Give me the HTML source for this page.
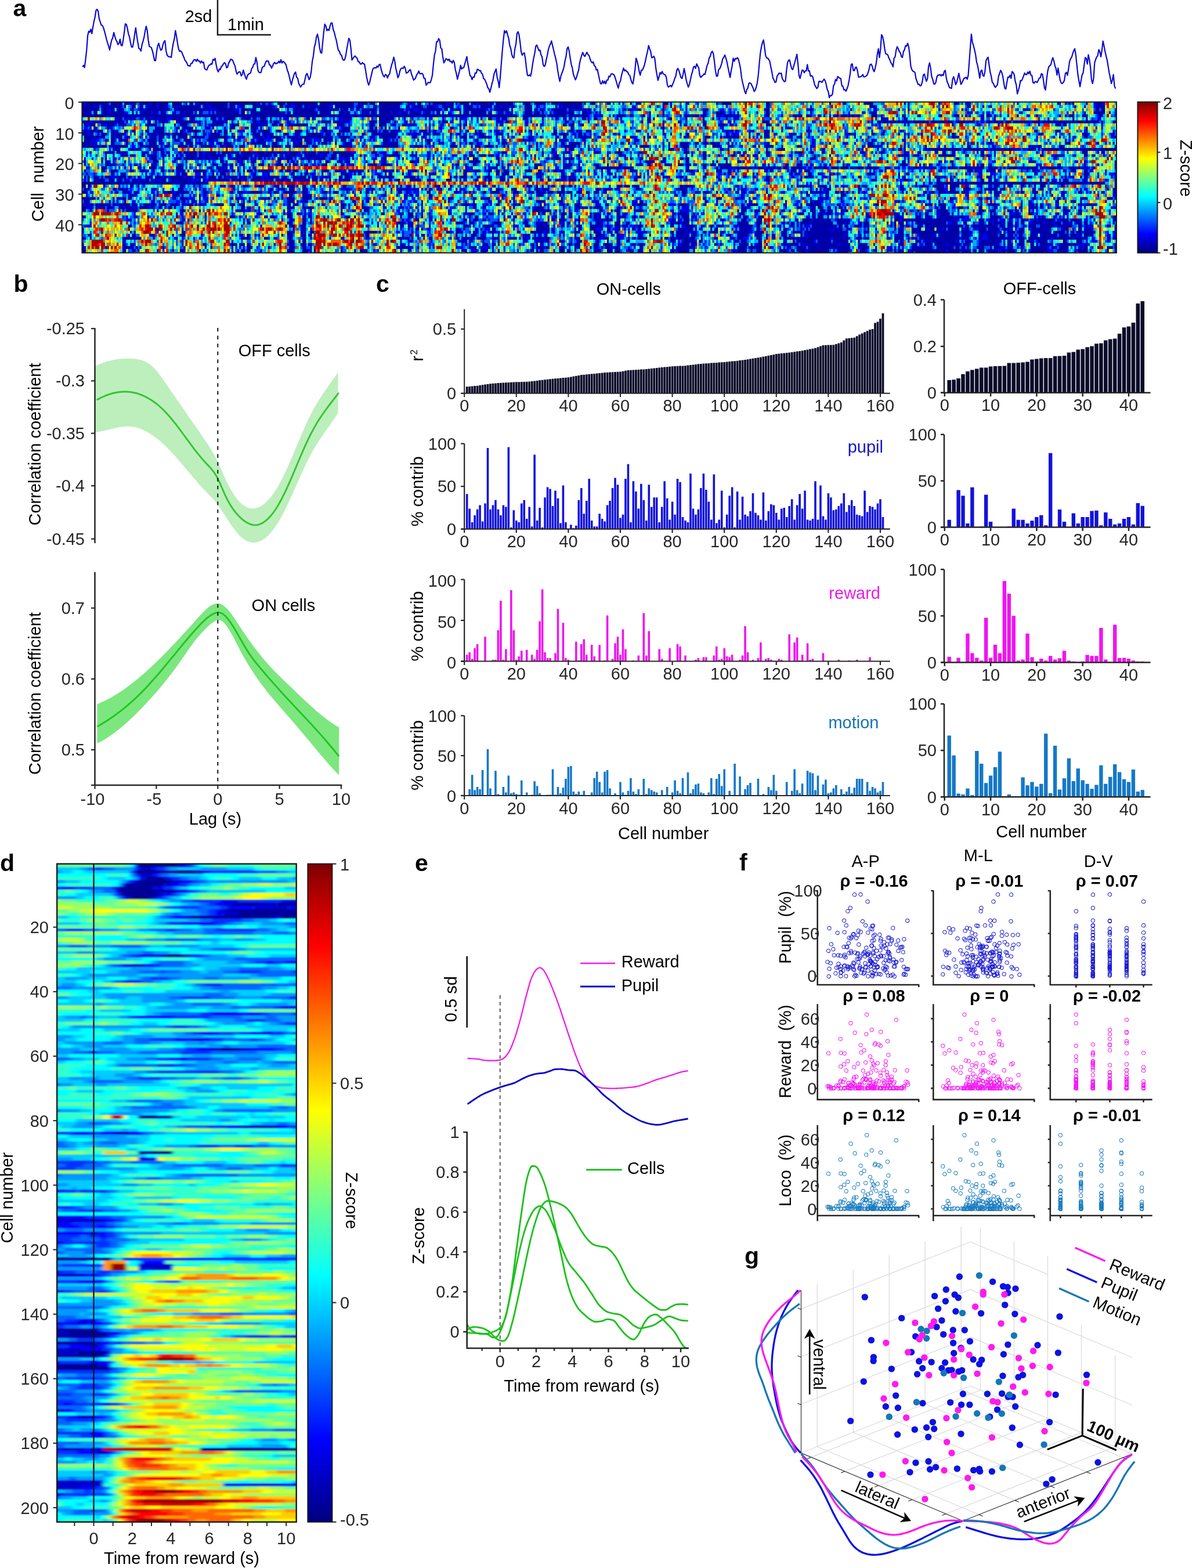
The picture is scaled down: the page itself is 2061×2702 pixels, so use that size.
<!DOCTYPE html>
<html lang="en"><head><meta charset="utf-8"><title>Figure</title><style>html,body{margin:0;padding:0;background:#fff}body{width:2061px;height:2702px;overflow:hidden}svg{display:block}text{white-space:pre}</style></head><body>
<svg width="2061" height="2702" viewBox="0 0 2061 2702" font-family='"Liberation Sans", sans-serif' fill="#000"><defs><linearGradient id="jetg" x1="0" y1="0" x2="0" y2="1"><stop offset="0" stop-color="#800000"/><stop offset="0.0312" stop-color="#9f0000"/><stop offset="0.0625" stop-color="#bf0000"/><stop offset="0.0938" stop-color="#df0000"/><stop offset="0.125" stop-color="#ff0000"/><stop offset="0.1562" stop-color="#ff2000"/><stop offset="0.1875" stop-color="#ff4000"/><stop offset="0.2188" stop-color="#ff6000"/><stop offset="0.25" stop-color="#ff8000"/><stop offset="0.2812" stop-color="#ff9f00"/><stop offset="0.3125" stop-color="#ffbf00"/><stop offset="0.3438" stop-color="#ffdf00"/><stop offset="0.375" stop-color="#ffff00"/><stop offset="0.4062" stop-color="#dfff20"/><stop offset="0.4375" stop-color="#bfff40"/><stop offset="0.4688" stop-color="#9fff60"/><stop offset="0.5" stop-color="#80ff80"/><stop offset="0.5312" stop-color="#60ff9f"/><stop offset="0.5625" stop-color="#40ffbf"/><stop offset="0.5938" stop-color="#20ffdf"/><stop offset="0.625" stop-color="#00ffff"/><stop offset="0.6562" stop-color="#00dfff"/><stop offset="0.6875" stop-color="#00bfff"/><stop offset="0.7188" stop-color="#009fff"/><stop offset="0.75" stop-color="#0080ff"/><stop offset="0.7812" stop-color="#0060ff"/><stop offset="0.8125" stop-color="#0040ff"/><stop offset="0.8438" stop-color="#0020ff"/><stop offset="0.875" stop-color="#0000ff"/><stop offset="0.9062" stop-color="#0000df"/><stop offset="0.9375" stop-color="#0000bf"/><stop offset="0.9688" stop-color="#00009f"/><stop offset="1" stop-color="#000080"/></linearGradient><clipPath id="clipA"><rect x="141.4" y="175.7" width="1782.6" height="260"/></clipPath><clipPath id="clipD"><rect x="98.2" y="1488.6" width="412.5" height="1134.1"/></clipPath><filter id="blurD" x="-2%" y="-1%" width="104%" height="102%"><feGaussianBlur stdDeviation="3.2 1.1"/></filter><marker id="mkb" markerWidth="9" markerHeight="9" refX="4.5" refY="4.5" markerUnits="userSpaceOnUse"><circle cx="4.5" cy="4.5" r="3.1" fill="none" stroke="#1a1ad2" stroke-width="1.05"/></marker><marker id="mkm" markerWidth="9" markerHeight="9" refX="4.5" refY="4.5" markerUnits="userSpaceOnUse"><circle cx="4.5" cy="4.5" r="3.1" fill="none" stroke="#f31af3" stroke-width="1.05"/></marker><marker id="mkl" markerWidth="9" markerHeight="9" refX="4.5" refY="4.5" markerUnits="userSpaceOnUse"><circle cx="4.5" cy="4.5" r="3.1" fill="none" stroke="#1c7dc0" stroke-width="1.05"/></marker><marker id="gdb" markerWidth="13" markerHeight="13" refX="6.5" refY="6.5" markerUnits="userSpaceOnUse"><circle cx="6.5" cy="6.5" r="5.7" fill="#0c12e2"/></marker><marker id="gdm" markerWidth="13" markerHeight="13" refX="6.5" refY="6.5" markerUnits="userSpaceOnUse"><circle cx="6.5" cy="6.5" r="5.7" fill="#ff1aee"/></marker><marker id="gdt" markerWidth="13" markerHeight="13" refX="6.5" refY="6.5" markerUnits="userSpaceOnUse"><circle cx="6.5" cy="6.5" r="5.7" fill="#1577b6"/></marker></defs><g id="panel_a"><text x="22.6" y="27.9" font-size="41" font-weight="bold">a</text><path d="M142.1 115.1L143.9 112.7L145.7 116.4L147.5 102.4L149.3 86.2L151.1 61.6L152.9 53.8L154.7 55.6L156.5 50.3L158.3 58L160.1 46.9L161.9 37.1L163.7 29.7L165.5 18L167.3 16L169.1 19.2L170.9 32.3L172.7 37.6L174.5 43.1L176.3 44L178.1 47.2L179.9 53.4L181.7 60.3L183.5 67.6L185.3 73.8L187.1 79.2L188.9 85.9L190.7 76.9L192.5 68.7L194.3 65.3L196.1 56L197.9 62.6L199.7 68.5L201.5 71.6L203.3 76.8L205.1 74.8L206.9 67.5L208.7 78.1L210.5 78.7L212.3 69L214.1 55.9L215.9 41.3L217.7 41.8L219.5 48.8L221.3 58.3L223.1 63.6L224.9 73.6L226.7 81.1L228.5 81L230.3 72L232.1 58.6L233.9 48L235.7 61.8L237.5 73.1L239.3 83.5L241.1 84.3L242.9 87.9L244.7 76.9L246.5 71L248.3 63.9L250.1 53.6L251.9 45.3L253.7 52.7L255.5 69.2L257.3 80L259.1 80.7L260.9 82.3L262.7 87.8L264.5 95.3L266.3 104.5L268.1 104.3L269.9 89.3L271.7 78.9L273.5 74.6L275.3 81.5L277.1 86.7L278.9 85.2L280.7 77.2L282.5 72.3L284.3 70L286.1 87.2L287.9 94.8L289.7 97.1L291.5 98L293.3 97.9L295.1 98.9L296.9 84.5L298.7 74L300.5 66.6L302.3 52.8L304.1 62.3L305.9 74.1L307.7 84L309.5 88.6L311.3 87.6L313.1 89.7L314.9 94.3L316.7 98.2L318.5 103.5L320.3 105.6L322.1 108.6L323.9 113.1L325.7 113.2L327.5 114L329.3 109L331.1 109L332.9 105L334.7 102.8L336.5 102.9L338.3 105.7L340.1 102L341.9 105.1L343.7 105.2L345.5 108.5L347.3 105.1L349.1 108.1L350.9 107.4L352.7 118.1L354.5 119.8L356.3 120.6L358.1 116.2L359.9 112.7L361.7 111.9L363.5 109.9L365.3 110.6L367.1 102.3L368.9 103.7L370.7 100.6L372.5 111.6L374.3 119.7L376.1 123.8L377.9 119.1L379.7 119.8L381.5 114.4L383.3 113.3L385.1 109.8L386.9 107.9L388.7 109.9L390.5 116.8L392.3 115.8L394.1 108.6L395.9 105.4L397.7 102.1L399.5 102.5L401.3 104.7L403.1 109.7L404.9 113.4L406.7 122.1L408.5 127.7L410.3 125.5L412.1 123.6L413.9 124.2L415.7 130.7L417.5 128.4L419.3 120.8L421.1 126.9L422.9 132.7L424.7 136.5L426.5 130L428.3 127.5L430.1 126.8L431.9 125.4L433.7 118.1L435.5 116L437.3 110.5L439.1 110.2L440.9 99.2L442.7 106.6L444.5 121.1L446.3 124.5L448.1 125.3L449.9 124.4L451.7 117L453.5 114.6L455.3 114.5L457.1 109.1L458.9 105.2L460.7 105.2L462.5 105.3L464.3 112L466.1 112.4L467.9 117.4L469.7 114L471.5 109.4L473.3 107.5L475.1 109.9L476.9 109L478.7 108.4L480.5 105.5L482.3 108.4L484.1 102.8L485.9 108.7L487.7 105.7L489.5 107.1L491.3 109.1L493.1 112.4L494.9 120.2L496.7 125L498.5 131.7L500.3 139.7L502.1 146.2L503.9 138.2L505.7 131.8L507.5 126.6L509.3 124.2L511.1 132.9L512.9 134.8L514.7 143.2L516.5 147.3L518.3 149.8L520.1 146.5L521.9 145L523.7 145L525.5 137L527.3 129.2L529.1 126.6L530.9 131.8L532.7 137.2L534.5 133.6L536.3 123.5L538.1 105.9L539.9 97L541.7 81.4L543.5 74.9L545.3 63.7L547.1 58.9L548.9 67.2L550.7 81.7L552.5 90.4L554.3 91.6L556.1 73.1L557.9 55.2L559.7 41.7L561.5 44.7L563.3 52.7L565.1 50.4L566.9 52.5L568.7 45.2L570.5 39.5L572.3 39.5L574.1 50.5L575.9 55.1L577.7 62.7L579.5 69L581.3 78.4L583.1 86.9L584.9 88.4L586.7 93.9L588.5 95.1L590.3 101.7L592.1 103.9L593.9 103L595.7 96.6L597.5 85.3L599.3 75.6L601.1 66.1L602.9 69.2L604.7 83.3L606.5 103.3L608.3 100.7L610.1 98L611.9 96.5L613.7 98.8L615.5 100.6L617.3 106.3L619.1 106.6L620.9 110.3L622.7 110.3L624.5 107.8L626.3 109.7L628.1 110.7L629.9 120.3L631.7 131.9L633.5 140.9L635.3 146.7L637.1 141.8L638.9 133.6L640.7 126.3L642.5 118.9L644.3 116.9L646.1 116.9L647.9 117.2L649.7 113.9L651.5 115.7L653.3 111.3L655.1 110.9L656.9 119.6L658.7 125.9L660.5 130.4L662.3 132.6L664.1 128.4L665.9 129.2L667.7 134.4L669.5 129.6L671.3 127.7L673.1 118.9L674.9 111.7L676.7 106.6L678.5 98.5L680.3 105.5L682.1 117.8L683.9 125.3L685.7 133.9L687.5 130.1L689.3 121.7L691.1 118.1L692.9 117.3L694.7 118.1L696.5 114.3L698.3 117.1L700.1 126.1L701.9 125.2L703.7 123.8L705.5 120.8L707.3 120.2L709.1 127.7L710.9 132.1L712.7 138L714.5 136.5L716.3 134L718.1 128.7L719.9 126.6L721.7 122.5L723.5 127.1L725.3 127.1L727.1 126.1L728.9 128.4L730.7 135.1L732.5 135.1L734.3 146.7L736.1 144.7L737.9 141.8L739.7 142.6L741.5 142.3L743.3 137L745.1 129.6L746.9 110.6L748.7 94.6L750.5 88.2L752.3 72.1L754.1 71.8L755.9 66.5L757.7 69.4L759.5 82.6L761.3 84L763.1 97.9L764.9 108.3L766.7 105.2L768.5 101.1L770.3 102.1L772.1 103.9L773.9 102L775.7 106.2L777.5 105.6L779.3 108.7L781.1 104.1L782.9 107.7L784.7 120L786.5 127L788.3 136.6L790.1 129L791.9 122.3L793.7 112.6L795.5 118.9L797.3 116.8L799.1 116.7L800.9 110.2L802.7 104L804.5 97.6L806.3 110.3L808.1 119.7L809.9 129.9L811.7 131.7L813.5 137.1L815.3 132.7L817.1 132.9L818.9 125.5L820.7 126.2L822.5 119.4L824.3 120L826.1 121.8L827.9 121.7L829.7 126.1L831.5 128.1L833.3 135.3L835.1 136.4L836.9 140.6L838.7 144.7L840.5 151.1L842.3 152.7L844.1 159L845.9 152.4L847.7 144.4L849.5 138.2L851.3 127.6L853.1 123.3L854.9 118.8L856.7 133.2L858.5 139.9L860.3 151L862.1 132.4L863.9 109.4L865.7 87L867.5 68.1L869.3 52.9L871.1 56.5L872.9 53.2L874.7 59.8L876.5 65.8L878.3 77.8L880.1 83.3L881.9 93.6L883.7 98.8L885.5 99.9L887.3 84L889.1 76.1L890.9 57.9L892.7 54.6L894.5 60.1L896.3 73.5L898.1 89.5L899.9 95.1L901.7 92L903.5 91.2L905.3 100.7L907.1 116.8L908.9 129.5L910.7 130.6L912.5 129.1L914.3 131.1L916.1 122.9L917.9 110L919.7 99.9L921.5 91.6L923.3 79.6L925.1 77.6L926.9 82.5L928.7 87.5L930.5 86.1L932.3 94.5L934.1 98L935.9 111L937.7 114.5L939.5 112.5L941.3 103.3L943.1 95.3L944.9 85.7L946.7 79.5L948.5 76L950.3 70.6L952.1 78.2L953.9 85.7L955.7 93.5L957.5 100.4L959.3 108.4L961.1 121.3L962.9 131.9L964.7 140.2L966.5 131L968.3 126.1L970.1 121.4L971.9 115.3L973.7 104.7L975.5 97L977.3 83.6L979.1 81L980.9 88.6L982.7 100.8L984.5 111L986.3 117.2L988.1 128.2L989.9 133.1L991.7 137.6L993.5 133.2L995.3 126.6L997.1 121.2L998.9 108.5L1000.7 101.1L1002.5 95L1004.3 90.4L1006.1 95.5L1007.9 97.2L1009.7 93.3L1011.5 90.1L1013.3 94.1L1015.1 95.8L1016.9 101.7L1018.7 106.1L1020.5 108.4L1022.3 106.7L1024.1 113.1L1025.9 114.4L1027.7 120.7L1029.5 119.7L1031.3 128.5L1033.1 137.1L1034.9 144.3L1036.7 144.4L1038.5 139.1L1040.3 143.7L1042.1 140L1043.9 144.3L1045.7 138.1L1047.5 138L1049.3 131.2L1051.1 132.4L1052.9 127.8L1054.7 127.1L1056.5 128L1058.3 129.2L1060.1 134L1061.9 139.8L1063.7 146.5L1065.5 151.8L1067.3 142.7L1069.1 139.8L1070.9 130.4L1072.7 123.5L1074.5 117.4L1076.3 122.2L1078.1 120.7L1079.9 123.3L1081.7 124.1L1083.5 128.5L1085.3 130L1087.1 136.6L1088.9 142.4L1090.7 144.6L1092.5 133L1094.3 120.1L1096.1 100.3L1097.9 105.1L1099.7 113.2L1101.5 123.1L1103.3 129.6L1105.1 120.9L1106.9 121.1L1108.7 117L1110.5 112.1L1112.3 104.6L1114.1 95.7L1115.9 88.4L1117.7 78.6L1119.5 84.1L1121.3 89L1123.1 99.6L1124.9 98.7L1126.7 96.9L1128.5 101.6L1130.3 118.3L1132.1 129.3L1133.9 138.5L1135.7 131.9L1137.5 125L1139.3 127.5L1141.1 123.2L1142.9 127.4L1144.7 128.4L1146.5 129.1L1148.3 133.7L1150.1 146.7L1151.9 150L1153.7 148.7L1155.5 147.1L1157.3 149.7L1159.1 145.4L1160.9 141.1L1162.7 135.3L1164.5 131.2L1166.3 121.1L1168.1 117.9L1169.9 121.6L1171.7 127.7L1173.5 133.8L1175.3 135.2L1177.1 128.3L1178.9 118.1L1180.7 126.9L1182.5 137.9L1184.3 144.5L1186.1 150L1187.9 145.9L1189.7 137.7L1191.5 129.5L1193.3 123.4L1195.1 115.5L1196.9 114.5L1198.7 117.8L1200.5 110.1L1202.3 113.6L1204.1 117.2L1205.9 130.2L1207.7 133.4L1209.5 131L1211.3 130L1213.1 127.3L1214.9 128.2L1216.7 120.5L1218.5 112.9L1220.3 108.7L1222.1 100.1L1223.9 97.1L1225.7 90.6L1227.5 88.3L1229.3 92.7L1231.1 106L1232.9 121.9L1234.7 131.2L1236.5 131.1L1238.3 120.3L1240.1 118.4L1241.9 114.7L1243.7 109L1245.5 100.9L1247.3 98.7L1249.1 94.9L1250.9 100L1252.7 106.9L1254.5 116.1L1256.3 124.6L1258.1 133.5L1259.9 122.3L1261.7 113.4L1263.5 100.3L1265.3 105.7L1267.1 100.6L1268.9 101.6L1270.7 99.3L1272.5 102.2L1274.3 109.4L1276.1 118.2L1277.9 133.4L1279.7 142.3L1281.5 149.6L1283.3 157.5L1285.1 161.4L1286.9 154.3L1288.7 151.7L1290.5 143.6L1292.3 142.9L1294.1 144.1L1295.9 147.7L1297.7 151.4L1299.5 157.4L1301.3 155.9L1303.1 150.4L1304.9 142.9L1306.7 129.9L1308.5 109.7L1310.3 91.2L1312.1 80.7L1313.9 73.2L1315.7 68.8L1317.5 81.6L1319.3 95.6L1321.1 99.9L1322.9 100L1324.7 102.5L1326.5 105.8L1328.3 115.2L1330.1 123.6L1331.9 134.1L1333.7 137.6L1335.5 142L1337.3 141.3L1339.1 131.4L1340.9 128.7L1342.7 125.9L1344.5 126.9L1346.3 126.2L1348.1 135.5L1349.9 138.4L1351.7 140.9L1353.5 139.8L1355.3 121.8L1357.1 108.2L1358.9 103.8L1360.7 103.4L1362.5 111.8L1364.3 118.3L1366.1 119.8L1367.9 113.6L1369.7 107.3L1371.5 100.3L1373.3 93.5L1375.1 110.1L1376.9 130.1L1378.7 135L1380.5 127.5L1382.3 120.7L1384.1 121.4L1385.9 125.4L1387.7 122L1389.5 122L1391.3 111.3L1393.1 122.3L1394.9 122.1L1396.7 131.4L1398.5 130.4L1400.3 132.1L1402.1 138.4L1403.9 146.3L1405.7 149.4L1407.5 152.5L1409.3 150.8L1411.1 140.6L1412.9 140.1L1414.7 140.6L1416.5 142L1418.3 138.8L1420.1 136.3L1421.9 139L1423.7 145.3L1425.5 154L1427.3 157.7L1429.1 168.2L1430.9 164.6L1432.7 164.9L1434.5 162.3L1436.3 147.8L1438.1 144.8L1439.9 136.9L1441.7 139.2L1443.5 131.9L1445.3 133.3L1447.1 134.8L1448.9 135.3L1450.7 147.9L1452.5 148.6L1454.3 154.9L1456.1 154.5L1457.9 157.2L1459.7 152.5L1461.5 147.5L1463.3 137.9L1465.1 126.5L1466.9 110.9L1468.7 110.1L1470.5 121.5L1472.3 121.7L1474.1 116.1L1475.9 115.9L1477.7 122.4L1479.5 133L1481.3 132.4L1483.1 132.5L1484.9 131L1486.7 128.3L1488.5 132.5L1490.3 132.4L1492.1 131.4L1493.9 129.7L1495.7 125.9L1497.5 119.9L1499.3 111.6L1501.1 110.4L1502.9 113.7L1504.7 120.2L1506.5 123.4L1508.3 116.8L1510.1 108.1L1511.9 93L1513.7 84L1515.5 99L1517.3 85.4L1519.1 59.8L1520.9 63.1L1522.7 70.9L1524.5 84L1526.3 92.8L1528.1 93.2L1529.9 94.7L1531.7 99.9L1533.5 103.2L1535.3 108.2L1537.1 110.6L1538.9 115.2L1540.7 100.2L1542.5 98.2L1544.3 86.3L1546.1 80.5L1547.9 83.8L1549.7 88.8L1551.5 90.9L1553.3 97.5L1555.1 98.8L1556.9 88.9L1558.7 85.6L1560.5 78.7L1562.3 79.6L1564.1 74.6L1565.9 80.6L1567.7 94.3L1569.5 114.3L1571.3 119.8L1573.1 122.7L1574.9 123.2L1576.7 125.1L1578.5 135.6L1580.3 140.7L1582.1 145.5L1583.9 145L1585.7 148.2L1587.5 146.9L1589.3 141.1L1591.1 129.3L1592.9 127.6L1594.7 134.2L1596.5 140.1L1598.3 135.4L1600.1 114.8L1601.9 108.4L1603.7 117.4L1605.5 131.9L1607.3 136.8L1609.1 144.5L1610.9 145L1612.7 141.7L1614.5 132.4L1616.3 129.4L1618.1 129.5L1619.9 128.3L1621.7 130.8L1623.5 128.4L1625.3 130.2L1627.1 123.2L1628.9 121.1L1630.7 134.4L1632.5 141.7L1634.3 145.5L1636.1 150.8L1637.9 151.6L1639.7 152.3L1641.5 136.6L1643.3 132.2L1645.1 138.1L1646.9 145.7L1648.7 141.9L1650.5 134L1652.3 126.3L1654.1 135.7L1655.9 145.3L1657.7 142.8L1659.5 138.8L1661.3 134.5L1663.1 134.6L1664.9 133.1L1666.7 136.5L1668.5 130.1L1670.3 105.5L1672.1 81.3L1673.9 58.8L1675.7 73.1L1677.5 78.4L1679.3 85.4L1681.1 93.9L1682.9 106.5L1684.7 113.2L1686.5 122.9L1688.3 134.7L1690.1 122.5L1691.9 120.7L1693.7 129.6L1695.5 131.4L1697.3 123.6L1699.1 105L1700.9 100.8L1702.7 98.7L1704.5 111.8L1706.3 124.4L1708.1 131.3L1709.9 141.7L1711.7 143.7L1713.5 148L1715.3 150.6L1717.1 148.4L1718.9 145.7L1720.7 131.9L1722.5 126.7L1724.3 121.4L1726.1 124.4L1727.9 130.5L1729.7 142L1731.5 152L1733.3 153.3L1735.1 142.1L1736.9 132.8L1738.7 133.4L1740.5 129.6L1742.3 134.9L1744.1 123.3L1745.9 125.1L1747.7 128.5L1749.5 140.1L1751.3 146.1L1753.1 161.7L1754.9 155.7L1756.7 149.2L1758.5 138.8L1760.3 139.3L1762.1 135.7L1763.9 130.8L1765.7 125.9L1767.5 128.5L1769.3 128.7L1771.1 124.1L1772.9 127L1774.7 122.6L1776.5 129.6L1778.3 130.2L1780.1 142.3L1781.9 143.3L1783.7 140.5L1785.5 140.9L1787.3 142L1789.1 138.6L1790.9 134.4L1792.7 134.2L1794.5 127.1L1796.3 127.7L1798.1 138.2L1799.9 151.3L1801.7 155L1803.5 137.8L1805.3 123.6L1807.1 115.5L1808.9 113.3L1810.7 111.8L1812.5 104.7L1814.3 99.5L1816.1 104.8L1817.9 113.5L1819.7 117.9L1821.5 129.4L1823.3 117.4L1825.1 128.3L1826.9 138.4L1828.7 142.9L1830.5 144.1L1832.3 142.1L1834.1 138.8L1835.9 126.6L1837.7 124.7L1839.5 129.7L1841.3 118.8L1843.1 106.1L1844.9 101.3L1846.7 98.7L1848.5 92.7L1850.3 87.3L1852.1 84L1853.9 94.9L1855.7 112.2L1857.5 129L1859.3 139.3L1861.1 149.3L1862.9 139L1864.7 128.9L1866.5 125.9L1868.3 111.9L1870.1 99.2L1871.9 100.6L1873.7 110.3L1875.5 94.4L1877.3 102.7L1879.1 115.7L1880.9 137.2L1882.7 143.9L1884.5 135.3L1886.3 108.2L1888.1 102.5L1889.9 98.2L1891.7 95.8L1893.5 85.5L1895.3 89.2L1897.1 97.8L1898.9 86.7L1900.7 70.9L1902.5 79.1L1904.3 88.7L1906.1 96.4L1907.9 103.8L1909.7 114.8L1911.5 125.7L1913.3 134.5L1915.1 143.9L1916.9 137.7L1918.7 128.5L1920.5 148.4L1922.3 152.7" fill="none" stroke="#0a0ad2" stroke-width="2.2" stroke-linejoin="round"/><path d="M375 0V60H466.8" fill="none" stroke="#1a1a1a" stroke-width="2.5"/><text x="365.5" y="37.5" font-size="29" text-anchor="end">2sd</text><text x="392" y="51.8" font-size="29">1min</text><rect x="141.4" y="175.7" width="1782.6" height="260" fill="#0030d0"/><g clip-path="url(#clipA)"><g transform="translate(141.4 175.7) scale(3.3011 5.28)" fill="none" stroke-width="1.08"><path d="M0 25h540" stroke="#0000aa" stroke-width="50"/><path d="M1 0.5h1m11 0h1m8 0h1m1 0h1m1 0h1m8 0h1m3 0h1m14 0h1m5 0h1m4 0h1m21 0h1m3 0h1m3 0h1m1 0h2m10 0h1m20 0h1m10 0h1m3 0h1m20 0h1m3 0h1m2 0h1m16 0h2m14 0h1m5 0h1m1 0h1m6 0h1m14 0h1m11 0h1m16 0h1m8 0h1m7 0h1m7 0h2m15 0h1m7 0h2m4 0h1m86 0h2m47 0h1m4 0h2m24 0h1m21 0h1m2 0h1m14 0h2m3 0h1M6 1.5h1m26 0h1m5 0h1m4 0h1m4 0h1m13 0h1m2 0h1m14 0h2m17 0h1m8 0h2m7 0h1m10 0h2m12 0h1m2 0h1m25 0h1m11 0h2m10 0h1m9 0h1m8 0h1m2 0h1m4 0h1m14 0h1m2 0h1m8 0h1m36 0h1m15 0h1m8 0h1m2 0h1m20 0h1m15 0h1m27 0h1m33 0h1m58 0h1m54 0h1M14 2.5h1m6 0h1m7 0h1m2 0h1m12 0h1m21 0h1m1 0h1m10 0h2m39 0h1m19 0h1m28 0h1m2 0h3m11 0h1m4 0h1m3 0h1m2 0h1m11 0h1m1 0h1m23 0h1m3 0h1m1 0h1m12 0h1m4 0h1m1 0h1m23 0h3m43 0h2m3 0h1m39 0h2m33 0h2m44 0h1m31 0h1m1 0h1m13 0h1m31 0h1M4 3.5h1m5 0h1m3 0h1m7 0h2m6 0h1m5 0h1m2 0h1m3 0h1m3 0h1m5 0h1m12 0h1m37 0h1m24 0h1m7 0h1m4 0h1m4 0h1m5 0h1m7 0h1m3 0h2m11 0h1m4 0h1m4 0h1m2 0h2m25 0h1m2 0h1m1 0h1m22 0h1m6 0h1m10 0h1m5 0h1m9 0h1m15 0h1m18 0h1m8 0h1m10 0h1m4 0h1m1 0h1m31 0h1m25 0h1m6 0h2m5 0h1m48 0h2m5 0h1m1 0h2m1 0h1m13 0h1m24 0h1m2 0h1m18 0h1m2 0h1M243 4.5h1m20 0h1m3 0h2m5 0h1m29 0h1m13 0h1m3 0h1m10 0h1m5 0h1m15 0h1m8 0h1m5 0h1m1 0h1m6 0h1m3 0h2m4 0h1m1 0h1m3 0h1m2 0h1m1 0h1m1 0h2m20 0h1m44 0h1m3 0h1m8 0h1m9 0h2m35 0h1m8 0h1M18 5.5h1m4 0h2m1 0h1m4 0h1m4 0h1m2 0h1m4 0h3m5 0h1m3 0h1m14 0h1m11 0h1m21 0h2m14 0h1m9 0h1m3 0h1m4 0h1m5 0h1m4 0h1m27 0h1m1 0h2m10 0h1m4 0h3m2 0h1m2 0h1m9 0h1m13 0h1m17 0h1m2 0h1m12 0h1m67 0h1m8 0h1m17 0h1m58 0h1m1 0h1m48 0h1m11 0h1m45 0h1m2 0h1M4 6.5h2m1 0h2m26 0h1m7 0h1m5 0h1m8 0h2m14 0h1m16 0h2m15 0h1m14 0h1m7 0h1m3 0h1m1 0h1m1 0h1m28 0h1m23 0h2m6 0h1m5 0h1m9 0h1m2 0h1m2 0h1m8 0h1m2 0h1m5 0h1m40 0h2m4 0h1m7 0h2m36 0h1m3 0h1m2 0h1m11 0h1m11 0h1m16 0h2m2 0h1m24 0h1m6 0h1m2 0h2m1 0h1m5 0h1m3 0h1m6 0h1m13 0h1m6 0h1m1 0h1m5 0h2m4 0h1m2 0h1m10 0h1m1 0h1m3 0h1m4 0h1m2 0h1M3 7.5h1m8 0h1m4 0h1m2 0h1m43 0h1m1 0h1m2 0h1m3 0h1m3 0h1m17 0h1m5 0h1m5 0h1m2 0h1m22 0h1m5 0h1m21 0h1m1 0h1m5 0h1m1 0h1m2 0h1m4 0h1m1 0h1m6 0h1m29 0h1m12 0h2m4 0h1m1 0h1m14 0h1m4 0h1m16 0h1m35 0h1m1 0h1m6 0h1m14 0h1m2 0h1m1 0h1m7 0h1m13 0h1m3 0h1m44 0h1m1 0h1m52 0h1m10 0h1m15 0h1m4 0h1M1 8.5h2m1 0h1m9 0h1m37 0h1m4 0h1m10 0h1m22 0h1m29 0h1m10 0h2m1 0h1m45 0h1m4 0h1m12 0h1m22 0h1m55 0h1m7 0h1m15 0h1m4 0h1m25 0h1m31 0h1m2 0h1m1 0h1m39 0h2m4 0h1m94 0h1m17 0h1m2 0h1M0 9.5h1m2 0h1m3 0h1m9 0h1m31 0h1m3 0h1m13 0h1m13 0h4m3 0h1m3 0h1m8 0h1m9 0h1m13 0h1m2 0h1m1 0h1m3 0h1m14 0h1m5 0h1m3 0h1m13 0h1m10 0h1m2 0h1m12 0h1m7 0h1m4 0h1m1 0h1m1 0h1m1 0h1m11 0h1m8 0h1m13 0h1m1 0h1m3 0h1m2 0h1m1 0h1m25 0h1m42 0h2m1 0h2m3 0h1m5 0h2m10 0h1m18 0h1m10 0h1m21 0h1m15 0h1m40 0h1m53 0h1M3 10.5h1m18 0h1m4 0h1m11 0h1m23 0h1m2 0h1m16 0h1m2 0h1m11 0h1m26 0h1m21 0h1m16 0h1m6 0h2m1 0h1m1 0h1m18 0h1m1 0h1m1 0h1m6 0h1m15 0h1m5 0h1m5 0h1m10 0h1m11 0h1m7 0h1m11 0h1m17 0h1m8 0h1m24 0h1m7 0h1m1 0h1m1 0h2m10 0h1m4 0h1m2 0h1m7 0h2m4 0h1m10 0h1m11 0h2m1 0h1m27 0h1m6 0h1m26 0h1m29 0h1m14 0h1m2 0h1m13 0h1m6 0h1m4 0h1M9 11.5h1m7 0h1m4 0h1m1 0h1m8 0h1m1 0h1m9 0h1m30 0h1m4 0h1m1 0h1m5 0h1m4 0h1m2 0h1m7 0h1m7 0h1m16 0h1m15 0h1m5 0h1m2 0h1m21 0h1m1 0h1m22 0h1m8 0h1m1 0h1m5 0h1m2 0h1m1 0h2m9 0h1m3 0h1m7 0h1m16 0h1m4 0h2m11 0h1m5 0h2m5 0h1m8 0h1m10 0h2m18 0h1m14 0h1m1 0h1m15 0h2m9 0h1m1 0h1m13 0h1m10 0h1m22 0h1m13 0h1m12 0h2m3 0h1m8 0h1m27 0h1m11 0h1m6 0h1m19 0h2M5 12.5h1m1 0h2m8 0h1m3 0h1m10 0h1m26 0h1m1 0h1m3 0h1m3 0h1m4 0h1m4 0h1m2 0h1m5 0h1m2 0h1m3 0h4m10 0h1m1 0h1m7 0h1m1 0h3m21 0h1m4 0h1m9 0h1m14 0h1m3 0h1m2 0h1m9 0h1m7 0h1m15 0h2m1 0h1m11 0h2m2 0h1m13 0h1m1 0h1m9 0h1m26 0h1m1 0h1m2 0h1m11 0h1m59 0h1m15 0h1m22 0h1m2 0h1m6 0h1m13 0h1m45 0h1m23 0h1m5 0h1m10 0h1M4 13.5h1m1 0h1m22 0h1m11 0h2m8 0h1m7 0h2m5 0h2m2 0h1m17 0h1m18 0h1m2 0h1m1 0h1m8 0h1m7 0h1m6 0h1m3 0h1m6 0h1m39 0h1m6 0h1m2 0h1m9 0h2m8 0h1m21 0h1m14 0h1m7 0h1m13 0h1m8 0h1m30 0h1m9 0h1m3 0h1m10 0h1m14 0h2m24 0h1m3 0h1m11 0h2m3 0h1m25 0h1m34 0h1m5 0h1m1 0h1m2 0h1m27 0h1m1 0h1m18 0h1m4 0h1m4 0h1M15 14.5h1m10 0h2m4 0h1m26 0h1m8 0h2m4 0h1m5 0h1m91 0h1m6 0h1m1 0h1m15 0h1m5 0h1m18 0h1m11 0h1m12 0h1m2 0h1m35 0h1m2 0h1m9 0h1m1 0h1m8 0h1m1 0h1m7 0h1m4 0h1m7 0h1m3 0h1m5 0h2m6 0h1m29 0h2m25 0h1m6 0h1m1 0h1m2 0h1m26 0h1m2 0h1m3 0h1m12 0h1m8 0h1m18 0h1m1 0h2m23 0h1M14 15.5h1m4 0h1m4 0h1m2 0h1m7 0h1m6 0h1m209 0h1m1 0h1m12 0h1m98 0h1m11 0h1m1 0h1m58 0h1m1 0h1m1 0h1m25 0h2m2 0h1m6 0h1m5 0h4m2 0h2m7 0h1m18 0h1m6 0h1M2 16.5h1m17 0h1m2 0h1m8 0h1m1 0h1m2 0h1m7 0h1m4 0h1m4 0h1m7 0h2m6 0h1m5 0h1m10 0h1m1 0h1m4 0h1m3 0h1m1 0h1m2 0h1m2 0h1m5 0h1m3 0h1m5 0h1m16 0h3m12 0h1m1 0h1m4 0h1m11 0h1m6 0h1m20 0h2m13 0h1m3 0h1m24 0h2m5 0h1m16 0h1m3 0h1m11 0h1m3 0h1m1 0h1m25 0h1m24 0h1m1 0h1m24 0h1m2 0h1m12 0h1m19 0h1m1 0h1m7 0h1m13 0h2m4 0h1m8 0h1m9 0h1m20 0h1m24 0h1m28 0h1M2 17.5h1m9 0h1m9 0h1m2 0h1m1 0h1m13 0h1m1 0h1m3 0h1m3 0h1m11 0h1m2 0h1m16 0h1m7 0h1m20 0h2m10 0h2m28 0h1m2 0h1m1 0h1m20 0h1m2 0h1m9 0h3m3 0h1m16 0h2m1 0h1m1 0h1m3 0h1m8 0h1m1 0h1m18 0h1m18 0h1m7 0h1m32 0h1m2 0h1m8 0h1m17 0h1m1 0h1m4 0h1m16 0h2m3 0h2m18 0h1m13 0h1m18 0h1m46 0h1m1 0h1m4 0h1m25 0h1m4 0h1m4 0h1m18 0h1M1 18.5h1m3 0h1m11 0h1m1 0h1m15 0h1m12 0h1m10 0h1m3 0h1m3 0h1m5 0h1m2 0h3m10 0h1m7 0h1m1 0h1m5 0h2m4 0h1m4 0h1m3 0h1m8 0h1m4 0h3m2 0h1m7 0h1m3 0h3m2 0h1m8 0h1m8 0h2m5 0h1m9 0h1m7 0h1m31 0h1m10 0h1m6 0h1m3 0h1m25 0h1m3 0h1m68 0h1m2 0h1m14 0h1m2 0h1m43 0h1m11 0h1m8 0h1m34 0h1m33 0h1M14 19.5h1m19 0h1m12 0h1m18 0h1m1 0h1m13 0h1m11 0h1m8 0h1m5 0h1m11 0h1m15 0h1m18 0h1m7 0h1m9 0h1m35 0h1m8 0h1m21 0h1m9 0h1m7 0h2m17 0h1m12 0h1m6 0h1m5 0h1m40 0h1m40 0h1m7 0h2m7 0h1m27 0h1m4 0h1m11 0h1m1 0h1m24 0h1m19 0h1m22 0h2m4 0h1M17 20.5h1m7 0h1m2 0h1m1 0h1m5 0h1m5 0h1m27 0h1m11 0h1m14 0h1m8 0h1m1 0h1m3 0h1m7 0h2m1 0h1m14 0h3m8 0h1m11 0h1m2 0h1m9 0h1m13 0h1m4 0h1m18 0h1m10 0h1m15 0h1m11 0h1m22 0h1m32 0h1m11 0h2m30 0h1m3 0h2m1 0h1m2 0h1m18 0h2m5 0h2m11 0h1m41 0h2m3 0h1m25 0h1m17 0h1m7 0h1m9 0h1M2 21.5h1m16 0h1m5 0h1m15 0h1m12 0h1m1 0h1m8 0h1m8 0h1m2 0h2m2 0h1m2 0h1m2 0h1m96 0h1m16 0h2m9 0h1m7 0h1m1 0h1m24 0h2m4 0h1m6 0h1m20 0h1m33 0h1m22 0h1m1 0h1m6 0h1m2 0h1m1 0h1m3 0h1m5 0h1m13 0h2m11 0h1m19 0h1m11 0h1m2 0h2m2 0h2m1 0h3m3 0h2m3 0h1m1 0h1m4 0h1m5 0h1m9 0h1m17 0h1m4 0h1m13 0h1m16 0h1m1 0h1m1 0h1m1 0h1m1 0h1M18 22.5h1m14 0h2m1 0h1m12 0h1m5 0h1m2 0h1m8 0h1m4 0h1m3 0h1m2 0h1m13 0h1m4 0h1m22 0h1m14 0h1m6 0h1m7 0h1m1 0h1m5 0h2m10 0h1m30 0h3m5 0h2m13 0h1m17 0h1m4 0h1m2 0h1m6 0h1m5 0h1m6 0h1m3 0h1m13 0h1m5 0h1m8 0h1m5 0h1m8 0h1m1 0h1m34 0h1m17 0h2m37 0h1m2 0h1m2 0h1m17 0h1m1 0h1m8 0h1m18 0h2m4 0h1m16 0h1m7 0h1m17 0h1m10 0h1m6 0h1M6 23.5h1m30 0h1m1 0h1m9 0h1m9 0h3m2 0h1m5 0h1m11 0h1m5 0h2m4 0h3m22 0h1m1 0h1m17 0h2m4 0h1m7 0h2m16 0h1m10 0h1m17 0h1m4 0h1m33 0h1m15 0h1m11 0h2m2 0h1m2 0h1m14 0h1m5 0h1m7 0h1m14 0h2m12 0h2m4 0h1m2 0h1m10 0h1m16 0h1m3 0h1m12 0h1m3 0h1m1 0h1m33 0h1m29 0h1m6 0h1m4 0h1m5 0h3m21 0h1m14 0h1m20 0h1m1 0h3M15 24.5h2m1 0h1m8 0h1m2 0h1m11 0h1m1 0h2m7 0h1m3 0h1m5 0h2m10 0h2m17 0h1m1 0h1m27 0h3m1 0h1m11 0h1m6 0h1m6 0h1m13 0h1m1 0h1m36 0h1m10 0h1m1 0h1m2 0h1m6 0h1m6 0h1m17 0h1m1 0h1m13 0h1m8 0h1m7 0h2m3 0h1m11 0h2m3 0h2m20 0h1m4 0h1m2 0h1m5 0h1m4 0h1m9 0h1m3 0h1m4 0h1m15 0h2m2 0h1m11 0h1m11 0h1m13 0h1m10 0h1m2 0h1m5 0h2m18 0h1m13 0h1m7 0h1m2 0h1m6 0h2m5 0h1m7 0h2m20 0h1M1 25.5h1m21 0h2m4 0h1m2 0h1m4 0h1m2 0h1m4 0h1m9 0h1m1 0h2m1 0h1m3 0h2m1 0h1m2 0h1m9 0h1m2 0h2m9 0h1m2 0h1m5 0h1m2 0h1m4 0h2m12 0h1m6 0h1m2 0h1m16 0h1m4 0h1m3 0h1m1 0h1m17 0h3m11 0h1m3 0h2m5 0h1m15 0h1m17 0h1m3 0h1m4 0h4m9 0h1m11 0h2m36 0h1m11 0h1m27 0h1m3 0h1m12 0h1m16 0h1m16 0h1m21 0h1m1 0h2m2 0h2m20 0h1m5 0h1m13 0h1m3 0h1m4 0h1m24 0h2m13 0h1m1 0h1m9 0h1M331 26.5h1m18 0h1m22 0h1m4 0h1m1 0h1m46 0h1m11 0h1m3 0h1m15 0h1m49 0h1m15 0h1M4 27.5h1m14 0h1m12 0h1m20 0h1m19 0h1m3 0h1m1 0h1m5 0h1m5 0h1m8 0h1m3 0h1m7 0h1m7 0h1m8 0h2m29 0h1m8 0h1m1 0h1m8 0h1m4 0h1m3 0h1m16 0h2m6 0h1m7 0h1m7 0h1m14 0h2m40 0h1m26 0h1m2 0h1m24 0h1m1 0h1m1 0h1m27 0h1m4 0h1m4 0h1m5 0h1m3 0h1m1 0h3m52 0h1m10 0h1m4 0h2m4 0h1m9 0h1m28 0h1M2 28.5h1m19 0h1m2 0h1m3 0h1m6 0h1m1 0h1m3 0h1m18 0h1m2 0h1m14 0h1m17 0h1m5 0h1m17 0h1m3 0h1m3 0h1m6 0h1m3 0h1m9 0h1m4 0h1m1 0h1m6 0h1m6 0h1m2 0h2m1 0h1m1 0h1m6 0h1m4 0h2m5 0h1m7 0h1m6 0h1m25 0h2m18 0h2m9 0h1m4 0h2m3 0h1m37 0h1m16 0h1m1 0h1m8 0h1m4 0h1m5 0h1m10 0h1m19 0h1m23 0h1m16 0h1m20 0h2m20 0h1m17 0h1m6 0h1m7 0h1m2 0h1m10 0h1m4 0h1M5 29.5h1m9 0h1m1 0h1m7 0h1m3 0h1m7 0h1m5 0h2m3 0h1m16 0h1m11 0h1m6 0h3m3 0h1m7 0h1m3 0h1m2 0h1m5 0h1m5 0h1m7 0h1m3 0h1m21 0h1m9 0h1m8 0h2m1 0h3m18 0h1m1 0h1m2 0h1m13 0h1m7 0h1m12 0h1m32 0h1m5 0h1m6 0h1m7 0h1m20 0h1m17 0h1m16 0h1m1 0h1m1 0h1m16 0h1m9 0h1m6 0h1m4 0h1m19 0h1m1 0h1m29 0h1m2 0h2m7 0h1m9 0h1m17 0h1m8 0h1m14 0h1m7 0h1m1 0h1m10 0h1m3 0h1m4 0h1m4 0h1M2 30.5h1m21 0h1m2 0h2m10 0h1m7 0h1m2 0h1m5 0h1m6 0h1m34 0h1m5 0h1m37 0h1m13 0h1m11 0h1m6 0h1m44 0h1m4 0h1m11 0h1m2 0h1m23 0h1m44 0h1m3 0h1m31 0h1m6 0h1m5 0h1m12 0h1m7 0h1m5 0h1m51 0h1m1 0h1m21 0h2m15 0h1m32 0h1m18 0h1m8 0h1M8 31.5h1m10 0h2m9 0h1m6 0h1m9 0h1m7 0h2m1 0h1m2 0h1m1 0h2m3 0h1m8 0h1m4 0h1m1 0h1m7 0h2m2 0h1m25 0h1m7 0h1m17 0h1m6 0h1m12 0h1m3 0h2m8 0h1m33 0h2m37 0h1m9 0h1m4 0h1m4 0h1m5 0h1m7 0h3m20 0h1m30 0h1m1 0h1m4 0h2m24 0h1m7 0h1m2 0h1m1 0h1m4 0h1m6 0h1m1 0h1m2 0h1m1 0h2m1 0h1m38 0h1m4 0h1m6 0h1m10 0h2m2 0h1m29 0h1m31 0h1M26 32.5h2m8 0h1m3 0h1m8 0h2m4 0h1m3 0h1m4 0h2m18 0h1m27 0h1m1 0h2m19 0h1m12 0h1m9 0h1m8 0h2m2 0h1m1 0h1m3 0h1m13 0h1m21 0h1m9 0h1m17 0h1m24 0h2m4 0h1m14 0h2m37 0h1m4 0h1m14 0h1m1 0h2m11 0h1m5 0h1m5 0h2m6 0h1m3 0h1m11 0h1m26 0h2m13 0h1m2 0h1m10 0h2m19 0h1m9 0h1m10 0h1m38 0h1M0 33.5h2m1 0h1m14 0h1m11 0h1m4 0h1m2 0h1m11 0h1m2 0h3m7 0h1m5 0h1m21 0h1m6 0h1m6 0h1m4 0h1m22 0h1m21 0h1m10 0h1m3 0h1m16 0h1m14 0h2m6 0h1m2 0h1m13 0h1m15 0h1m5 0h2m18 0h2m18 0h1m16 0h4m5 0h1m8 0h1m9 0h1m10 0h1m10 0h1m10 0h1m5 0h1m23 0h1m15 0h1m3 0h1m23 0h1m3 0h1m9 0h1m21 0h2m22 0h1m2 0h1m3 0h2m12 0h2m3 0h3M3 34.5h1m1 0h1m2 0h1m1 0h1m5 0h1m2 0h1m2 0h1m4 0h1m7 0h1m7 0h1m34 0h1m41 0h1m14 0h1m21 0h1m7 0h1m3 0h1m7 0h1m12 0h1m1 0h2m10 0h1m30 0h1m7 0h1m16 0h3m8 0h1m9 0h1m1 0h1m4 0h1m24 0h1m1 0h1m21 0h1m9 0h1m5 0h1m26 0h1m28 0h1m17 0h1m17 0h1m9 0h1m6 0h1m26 0h1m4 0h1m13 0h1m1 0h1m10 0h1m16 0h1M80 35.5h1m4 0h2m5 0h1m2 0h1m9 0h1m1 0h1m8 0h1m25 0h1m21 0h2m9 0h1m6 0h1m9 0h1m7 0h1m8 0h1m1 0h1m5 0h1m14 0h1m11 0h1m4 0h1m1 0h1m2 0h1m3 0h1m48 0h1m5 0h3m14 0h1m3 0h2m13 0h1m7 0h1m11 0h1m6 0h1m16 0h1m3 0h1m34 0h2m7 0h1m23 0h1m30 0h1m1 0h1M27 36.5h1m23 0h2m25 0h1m12 0h1m20 0h3m3 0h2m16 0h1m28 0h1m8 0h1m16 0h1m9 0h1m7 0h1m20 0h2m38 0h1m1 0h1m9 0h1m1 0h1m3 0h1m19 0h1m12 0h1m1 0h2m26 0h2m11 0h1m8 0h1m2 0h1m2 0h1m4 0h1m2 0h1m3 0h1m2 0h1m1 0h1m13 0h1m14 0h2m20 0h1m9 0h1m9 0h1m13 0h1m3 0h2m2 0h1m18 0h1m3 0h1m1 0h1m21 0h1M21 37.5h1m1 0h1m4 0h1m48 0h1m4 0h1m7 0h2m3 0h1m2 0h1m2 0h1m59 0h1m20 0h1m16 0h1m22 0h2m7 0h1m11 0h1m1 0h2m22 0h1m3 0h1m2 0h1m4 0h1m37 0h1m31 0h1m13 0h1m13 0h1m9 0h1m21 0h1m12 0h1m3 0h1m14 0h1m2 0h1m8 0h1m1 0h1m3 0h1m7 0h1m30 0h1m1 0h1m5 0h1m1 0h1m1 0h1m11 0h1M23 38.5h1m1 0h1m26 0h2m1 0h1m8 0h1m39 0h1m3 0h1m60 0h2m21 0h1m9 0h1m7 0h1m1 0h1m4 0h1m14 0h1m5 0h1m13 0h1m4 0h2m8 0h1m2 0h1m17 0h1m17 0h2m3 0h1m8 0h1m12 0h3m12 0h1m23 0h1m8 0h1m11 0h1m11 0h1m21 0h1m2 0h1m25 0h1m2 0h5m8 0h1m6 0h2m4 0h1m2 0h1m3 0h2m1 0h1m2 0h1m11 0h1m12 0h1M4 39.5h1m22 0h1m21 0h2m26 0h1m73 0h1m2 0h1m9 0h1m3 0h1m3 0h1m5 0h1m2 0h1m6 0h1m10 0h1m4 0h1m9 0h1m15 0h1m7 0h1m10 0h2m2 0h1m3 0h1m1 0h1m11 0h1m2 0h1m16 0h1m13 0h1m3 0h1m2 0h1m17 0h1m34 0h1m32 0h1m1 0h1m4 0h1m16 0h1m10 0h1m18 0h2m14 0h1m6 0h1m4 0h1m7 0h1m5 0h2m6 0h1m4 0h1m7 0h1m2 0h1m7 0h1M1 40.5h2m1 0h1m88 0h1m54 0h1m5 0h1m16 0h1m35 0h1m10 0h1m7 0h2m13 0h1m31 0h1m1 0h2m9 0h4m21 0h1m2 0h1m5 0h1m2 0h1m7 0h1m1 0h1m8 0h1m14 0h1m5 0h1m2 0h1m2 0h1m8 0h2m51 0h1m32 0h1m23 0h1m2 0h2m15 0h1m14 0h1m1 0h1m1 0h1m8 0h1M39 41.5h1m74 0h1m4 0h1m46 0h1m5 0h1m7 0h2m15 0h1m8 0h1m3 0h3m12 0h1m4 0h1m15 0h1m21 0h3m6 0h2m4 0h1m1 0h1m36 0h1m16 0h1m1 0h1m7 0h1m18 0h1m2 0h1m4 0h1m13 0h1m1 0h1m8 0h1m6 0h1m40 0h1m10 0h1m4 0h1m1 0h1m12 0h1m3 0h2m1 0h1m6 0h2m15 0h1m15 0h1M25 42.5h1m13 0h1m13 0h1m61 0h1m48 0h2m1 0h1m6 0h1m6 0h1m10 0h2m8 0h1m2 0h1m4 0h1m1 0h1m3 0h1m2 0h1m21 0h1m3 0h1m3 0h1m26 0h1m8 0h1m4 0h2m1 0h1m21 0h1m1 0h1m2 0h1m6 0h1m5 0h1m1 0h1m5 0h1m6 0h1m2 0h1m71 0h1m40 0h1m13 0h1m43 0h1m12 0h1m3 0h1M3 43.5h1m20 0h1m10 0h1m1 0h1m45 0h1m3 0h1m4 0h1m21 0h1m3 0h1m48 0h1m6 0h2m4 0h1m29 0h1m3 0h1m15 0h1m1 0h1m5 0h2m1 0h1m30 0h1m4 0h1m3 0h2m9 0h1m3 0h1m30 0h1m8 0h1m1 0h1m22 0h1m16 0h1m19 0h1m6 0h1m2 0h1m5 0h1m5 0h1m10 0h1m4 0h1m8 0h1m17 0h2m5 0h2m11 0h1m14 0h1m1 0h1m18 0h1m15 0h1m2 0h2M37 44.5h1m10 0h1m9 0h1m2 0h2m34 0h1m3 0h1m5 0h1m21 0h1m5 0h2m12 0h1m52 0h1m3 0h1m15 0h2m8 0h1m22 0h1m13 0h1m1 0h1m9 0h2m4 0h1m22 0h1m27 0h1m6 0h3m1 0h1m10 0h1m3 0h1m7 0h1m1 0h1m16 0h1m8 0h1m20 0h1m12 0h1m23 0h1m7 0h1m3 0h3m9 0h1m5 0h1m17 0h1m20 0h2M21 45.5h2m138 0h1m4 0h1m3 0h1m1 0h1m24 0h1m16 0h1m15 0h1m1 0h1m3 0h1m1 0h1m2 0h1m1 0h1m5 0h1m5 0h1m2 0h1m15 0h1m36 0h1m8 0h1m4 0h1m14 0h1m13 0h1m27 0h1m18 0h1m26 0h1m2 0h1m7 0h1m3 0h1m12 0h1m2 0h1m4 0h1m3 0h1m12 0h1m5 0h1m10 0h1m7 0h1m17 0h1m2 0h3m6 0h1M27 46.5h1m49 0h1m6 0h1m7 0h1m14 0h1m44 0h2m14 0h1m1 0h1m10 0h1m1 0h1m14 0h1m3 0h1m27 0h1m3 0h1m4 0h1m3 0h1m1 0h1m40 0h1m3 0h1m2 0h1m12 0h1m1 0h1m3 0h1m7 0h1m3 0h1m6 0h1m19 0h1m5 0h1m18 0h1m18 0h1m9 0h1m20 0h1m6 0h1m3 0h2m12 0h1m11 0h1m14 0h1m6 0h1m2 0h1m17 0h1m2 0h1m10 0h1m1 0h1M1 47.5h1m10 0h1m8 0h1m20 0h1m37 0h1m3 0h1m6 0h1m43 0h1m36 0h1m10 0h1m12 0h3m10 0h3m8 0h1m20 0h1m7 0h1m4 0h1m14 0h1m6 0h1m11 0h1m36 0h1m14 0h1m18 0h2m3 0h1m1 0h1m43 0h1m3 0h1m5 0h2m6 0h1m51 0h1m10 0h1m12 0h1m13 0h1m3 0h1m4 0h1m2 0h1m5 0h1M21 48.5h1m4 0h1m12 0h1m2 0h1m10 0h1m24 0h1m2 0h1m11 0h1m24 0h2m27 0h1m4 0h1m1 0h1m11 0h1m3 0h1m32 0h4m7 0h1m5 0h1m6 0h1m4 0h1m51 0h1m7 0h1m14 0h1m2 0h1m20 0h1m7 0h1m1 0h1m26 0h1m9 0h1m13 0h1m1 0h1m6 0h1m7 0h1m11 0h1m10 0h1m18 0h1m7 0h1m12 0h1m5 0h2m2 0h1m4 0h1m6 0h1m9 0h3m7 0h1m4 0h1M0 49.5h2m19 0h1m2 0h2m23 0h1m28 0h1m3 0h1m3 0h1m5 0h2m23 0h1m19 0h1m1 0h1m26 0h1m10 0h1m4 0h1m17 0h1m2 0h2m2 0h1m1 0h1m2 0h3m13 0h1m1 0h1m1 0h1m17 0h1m1 0h3m12 0h1m6 0h1m11 0h1m8 0h1m18 0h1m2 0h1m1 0h1m13 0h1m6 0h2m2 0h1m9 0h1m20 0h1m34 0h1m8 0h1m12 0h1m6 0h1m4 0h1m18 0h1m11 0h1m35 0h1m2 0h1m3 0h1m9 0h1m8 0h1" stroke="#0000ff"/><path d="M14 0.5h1m13 0h2m23 0h1m22 0h1m16 0h1m2 0h1m2 0h1m6 0h1m35 0h2m5 0h1m17 0h1m1 0h1m9 0h2m1 0h1m13 0h1m28 0h1m8 0h1m8 0h1m17 0h1m8 0h1m2 0h1m3 0h1m34 0h1m7 0h1m3 0h2m6 0h2m25 0h1m15 0h2m4 0h1m4 0h1m30 0h2m29 0h1m10 0h1m7 0h1m18 0h1m13 0h1m13 0h1m1 0h1M9 1.5h1m11 0h1m3 0h1m3 0h1m15 0h1m30 0h1m24 0h1m3 0h1m9 0h1m26 0h1m6 0h1m4 0h1m16 0h1m6 0h2m6 0h2m7 0h1m1 0h1m6 0h2m1 0h1m18 0h1m1 0h1m10 0h2m7 0h1m12 0h1m8 0h1m11 0h2m5 0h1m11 0h1m19 0h1m27 0h1m9 0h1m25 0h1m4 0h1m9 0h1m17 0h1m19 0h1m7 0h2m7 0h1m5 0h1m5 0h1m11 0h1m13 0h1m16 0h1m6 0h1M27 2.5h2m17 0h1m35 0h1m39 0h1m11 0h1m10 0h1m22 0h1m19 0h1m23 0h1m1 0h1m23 0h1m5 0h1m8 0h1m16 0h1m5 0h2m2 0h1m3 0h1m14 0h1m2 0h1m1 0h1m7 0h2m3 0h1m2 0h1m2 0h1m8 0h1m2 0h1m1 0h1m2 0h2m21 0h2m34 0h1m10 0h2m3 0h1m3 0h4m5 0h2m25 0h1m6 0h1m1 0h1m4 0h1m5 0h2m10 0h1m10 0h1m23 0h1m5 0h1m2 0h1M40 3.5h1m8 0h2m7 0h1m4 0h3m1 0h1m1 0h1m12 0h1m3 0h1m19 0h1m36 0h1m1 0h1m4 0h1m19 0h1m6 0h1m4 0h1m10 0h1m22 0h1m3 0h1m5 0h1m3 0h1m4 0h1m3 0h1m1 0h2m2 0h1m13 0h1m6 0h2m1 0h1m12 0h1m3 0h2m7 0h1m10 0h1m7 0h1m11 0h1m2 0h2m6 0h1m1 0h1m16 0h1m8 0h1m15 0h1m8 0h1m6 0h1m31 0h1m1 0h1m10 0h1m12 0h2m4 0h1m4 0h1m12 0h1m24 0h1m17 0h1M227 4.5h1m14 0h1m10 0h1m11 0h1m12 0h1m5 0h2m5 0h1m3 0h1m5 0h2m1 0h1m1 0h1m3 0h2m10 0h1m3 0h1m16 0h1m4 0h1m14 0h2m4 0h2m10 0h2m12 0h1m10 0h1m8 0h2m1 0h1m35 0h1m4 0h1m2 0h1m5 0h1m8 0h1m19 0h1m1 0h2m8 0h1m4 0h1m4 0h1m9 0h1m7 0h2M21 5.5h1m6 0h2m2 0h1m20 0h1m10 0h1m5 0h1m2 0h1m14 0h1m2 0h2m3 0h1m4 0h1m14 0h1m8 0h2m2 0h1m3 0h1m18 0h2m11 0h1m1 0h1m3 0h1m3 0h1m13 0h1m24 0h2m2 0h1m15 0h1m10 0h1m11 0h1m5 0h1m1 0h1m3 0h2m7 0h1m13 0h1m12 0h1m6 0h3m16 0h1m1 0h3m1 0h2m5 0h1m11 0h3m3 0h2m62 0h1m1 0h1m15 0h1m11 0h2m14 0h2m1 0h1m31 0h1m20 0h2M22 6.5h1m2 0h1m6 0h1m6 0h1m5 0h1m16 0h1m18 0h1m6 0h1m10 0h1m3 0h1m2 0h1m2 0h2m13 0h1m15 0h1m21 0h1m1 0h1m16 0h1m1 0h1m3 0h1m11 0h1m3 0h1m16 0h1m4 0h2m20 0h1m3 0h1m2 0h2m19 0h1m10 0h1m4 0h1m12 0h1m27 0h1m1 0h1m43 0h1m32 0h1m30 0h1m12 0h1m10 0h1m1 0h1m2 0h1m9 0h1m3 0h1m45 0h1m1 0h1M8 7.5h2m8 0h1m4 0h3m1 0h1m2 0h1m8 0h2m9 0h1m4 0h1m4 0h1m1 0h1m2 0h1m9 0h1m26 0h1m3 0h1m15 0h1m6 0h1m7 0h1m2 0h1m5 0h1m1 0h2m15 0h1m20 0h1m9 0h1m5 0h1m4 0h1m1 0h2m36 0h1m19 0h1m1 0h1m5 0h1m7 0h1m3 0h1m7 0h1m21 0h1m22 0h1m7 0h1m13 0h1m10 0h1m4 0h3m18 0h1m13 0h1m1 0h1m4 0h1m34 0h1m10 0h1m2 0h1m3 0h1m19 0h1m17 0h1m3 0h1m12 0h1M3 8.5h1m8 0h1m3 0h1m2 0h1m1 0h1m26 0h1m10 0h1m7 0h1m7 0h1m8 0h1m13 0h1m8 0h1m9 0h1m4 0h1m11 0h1m11 0h1m5 0h1m2 0h1m7 0h1m6 0h1m4 0h1m3 0h1m8 0h1m5 0h2m8 0h1m11 0h1m22 0h1m7 0h1m39 0h2m6 0h1m4 0h1m3 0h1m18 0h1m28 0h1m1 0h2m1 0h1m20 0h1m5 0h1m12 0h3m15 0h1m21 0h1m7 0h1m24 0h1m25 0h1m18 0h1m7 0h1M13 9.5h1m11 0h1m5 0h1m16 0h1m5 0h1m9 0h3m3 0h1m20 0h1m6 0h1m19 0h1m1 0h1m1 0h1m1 0h1m17 0h2m3 0h1m6 0h1m1 0h1m3 0h1m5 0h1m5 0h1m1 0h1m5 0h1m1 0h1m2 0h2m11 0h1m7 0h1m5 0h1m5 0h1m31 0h1m2 0h1m3 0h1m17 0h1m8 0h1m12 0h1m17 0h1m1 0h3m8 0h1m11 0h1m2 0h1m3 0h1m38 0h1m12 0h1m3 0h1m13 0h1m1 0h1m6 0h1m2 0h1m15 0h1m11 0h1m3 0h1m12 0h1m44 0h1m1 0h1m10 0h1m6 0h1M7 10.5h1m1 0h1m3 0h1m9 0h1m1 0h1m4 0h1m15 0h1m8 0h2m1 0h1m6 0h1m6 0h1m6 0h1m2 0h1m5 0h1m21 0h1m15 0h1m4 0h1m3 0h1m2 0h1m28 0h1m1 0h1m18 0h1m4 0h1m8 0h1m1 0h1m5 0h1m4 0h1m10 0h1m6 0h1m21 0h1m2 0h1m2 0h1m1 0h2m3 0h1m10 0h1m40 0h1m3 0h1m5 0h2m1 0h1m4 0h1m5 0h1m49 0h1m12 0h1m1 0h1m4 0h1m15 0h1m2 0h1m3 0h1m9 0h1m13 0h1m36 0h1m11 0h1m1 0h1m23 0h1m2 0h1M31 11.5h1m7 0h1m4 0h1m11 0h1m7 0h2m11 0h1m26 0h1m27 0h2m6 0h2m2 0h1m8 0h1m10 0h1m16 0h1m6 0h1m6 0h1m8 0h1m1 0h1m23 0h1m1 0h1m3 0h2m2 0h1m14 0h1m2 0h1m8 0h2m5 0h2m22 0h1m13 0h1m11 0h1m4 0h1m1 0h1m2 0h1m26 0h1m5 0h1m10 0h1m1 0h1m3 0h1m9 0h1m3 0h1m12 0h1m11 0h1m28 0h2m8 0h1m10 0h1m32 0h1m5 0h1m9 0h1m2 0h2m5 0h1M9 12.5h1m1 0h1m15 0h1m3 0h1m7 0h1m7 0h1m3 0h1m5 0h1m2 0h1m2 0h2m15 0h1m3 0h1m5 0h1m8 0h1m7 0h1m12 0h1m18 0h1m9 0h1m1 0h1m1 0h1m7 0h1m1 0h1m9 0h1m3 0h1m7 0h1m2 0h1m2 0h1m5 0h1m6 0h1m16 0h1m14 0h1m18 0h2m3 0h1m6 0h1m10 0h1m16 0h1m7 0h1m14 0h1m5 0h1m12 0h1m2 0h1m3 0h1m30 0h1m4 0h1m4 0h1m24 0h1m50 0h2m7 0h1m26 0h1m23 0h1M9 13.5h1m2 0h1m4 0h3m2 0h1m1 0h1m8 0h2m9 0h1m2 0h4m12 0h1m9 0h1m4 0h2m7 0h1m9 0h1m4 0h1m17 0h1m3 0h1m3 0h1m15 0h1m1 0h1m9 0h1m17 0h1m2 0h1m1 0h1m12 0h1m5 0h2m4 0h2m16 0h1m2 0h2m6 0h1m1 0h1m4 0h1m5 0h1m5 0h1m7 0h1m26 0h1m1 0h2m26 0h1m1 0h1m3 0h1m3 0h1m8 0h1m6 0h1m3 0h1m3 0h2m1 0h2m24 0h1m4 0h1m2 0h1m19 0h1m4 0h1m1 0h1m15 0h1m4 0h1m5 0h1m4 0h1m6 0h1m8 0h1m5 0h1m20 0h1m11 0h1m7 0h1m25 0h1M25 14.5h1m3 0h1m12 0h1m4 0h1m7 0h1m5 0h1m9 0h1m20 0h1m11 0h1m13 0h1m22 0h2m4 0h1m17 0h1m1 0h1m12 0h1m1 0h1m16 0h1m8 0h2m9 0h1m5 0h1m13 0h1m4 0h1m1 0h1m2 0h1m8 0h1m3 0h1m5 0h1m5 0h1m21 0h1m25 0h1m17 0h1m51 0h1m5 0h1m38 0h1m1 0h1m6 0h1m12 0h1m13 0h1m3 0h2m27 0h2m13 0h1m1 0h1m8 0h1M7 15.5h2m25 0h1m8 0h1m4 0h2m102 0h1m51 0h2m19 0h1m12 0h1m1 0h1m6 0h1m13 0h1m3 0h1m2 0h3m14 0h1m1 0h1m5 0h1m2 0h1m2 0h2m8 0h1m3 0h1m2 0h1m18 0h2m15 0h1m9 0h1m22 0h1m13 0h1m4 0h1m1 0h1m10 0h1m1 0h1m1 0h2m1 0h1m3 0h1m5 0h1m2 0h1m21 0h1m30 0h1m9 0h1M11 16.5h1m24 0h1m2 0h1m3 0h1m4 0h2m2 0h1m7 0h1m9 0h1m1 0h1m9 0h1m31 0h1m7 0h1m6 0h2m23 0h1m10 0h1m21 0h1m3 0h1m5 0h1m17 0h2m1 0h1m5 0h3m3 0h1m13 0h1m5 0h1m4 0h1m3 0h2m21 0h1m1 0h1m3 0h2m8 0h1m20 0h1m9 0h1m3 0h1m7 0h1m9 0h2m6 0h1m19 0h1m29 0h1m9 0h1m2 0h1m5 0h1m30 0h1m1 0h1m12 0h1m24 0h1m11 0h2m1 0h1m14 0h1M4 17.5h1m34 0h1m10 0h1m9 0h1m17 0h1m10 0h1m9 0h1m5 0h1m22 0h2m18 0h1m2 0h2m2 0h2m19 0h4m6 0h1m2 0h1m25 0h1m8 0h1m7 0h1m10 0h1m1 0h1m8 0h1m7 0h1m2 0h1m20 0h1m5 0h1m13 0h1m15 0h2m7 0h1m1 0h2m2 0h2m2 0h1m1 0h1m4 0h1m10 0h1m6 0h1m9 0h1m1 0h1m2 0h1m1 0h1m9 0h1m4 0h1m3 0h2m3 0h1m5 0h1m3 0h1m5 0h1m1 0h1m7 0h1m3 0h1m4 0h1m23 0h1m4 0h1m17 0h2m43 0h1m4 0h1M24 18.5h1m8 0h1m5 0h2m11 0h1m18 0h1m15 0h1m3 0h1m2 0h1m1 0h1m1 0h1m1 0h1m9 0h1m2 0h1m13 0h2m14 0h1m20 0h1m4 0h1m2 0h1m12 0h1m1 0h1m2 0h1m1 0h2m6 0h1m26 0h1m6 0h1m3 0h1m5 0h1m13 0h1m12 0h1m2 0h1m12 0h1m2 0h1m23 0h1m27 0h1m5 0h1m2 0h1m10 0h1m1 0h1m18 0h1m12 0h1m12 0h1m1 0h1m24 0h1m3 0h1m9 0h1m19 0h1m3 0h1m19 0h1m14 0h1m13 0h2m4 0h1M0 19.5h1m16 0h1m6 0h1m10 0h2m12 0h1m2 0h1m6 0h2m1 0h1m1 0h1m4 0h1m4 0h1m5 0h1m3 0h1m1 0h1m14 0h1m6 0h1m2 0h1m2 0h2m3 0h1m3 0h1m5 0h1m6 0h1m10 0h1m7 0h1m29 0h2m5 0h1m42 0h1m3 0h2m1 0h1m3 0h1m5 0h1m2 0h2m6 0h1m12 0h2m2 0h1m12 0h1m50 0h1m5 0h1m13 0h1m8 0h2m5 0h1m2 0h2m12 0h1m4 0h1m5 0h1m3 0h2m37 0h1m16 0h1m4 0h2m13 0h1m16 0h1m20 0h1M3 20.5h1m4 0h1m1 0h1m7 0h3m1 0h1m1 0h1m4 0h1m9 0h1m9 0h1m4 0h1m1 0h1m5 0h1m4 0h1m8 0h1m11 0h1m10 0h2m14 0h1m3 0h1m2 0h1m1 0h1m22 0h1m6 0h2m17 0h1m9 0h1m10 0h1m4 0h1m1 0h1m4 0h1m3 0h2m12 0h1m1 0h1m5 0h1m7 0h2m4 0h1m9 0h3m2 0h1m8 0h1m11 0h2m2 0h1m27 0h1m8 0h1m2 0h1m50 0h1m20 0h1m12 0h1m14 0h1m4 0h1m8 0h1m7 0h1m6 0h1m6 0h2m4 0h1m14 0h1m33 0h1m4 0h1m1 0h1m4 0h1m2 0h1M8 21.5h1m5 0h2m1 0h1m22 0h1m16 0h1m1 0h1m1 0h1m6 0h1m13 0h1m100 0h1m12 0h1m30 0h1m13 0h1m1 0h1m11 0h1m2 0h1m71 0h1m1 0h1m32 0h1m12 0h1m2 0h1m8 0h1m4 0h1m4 0h1m7 0h1m7 0h1m5 0h1m24 0h1m3 0h1m5 0h1m14 0h1m5 0h1m1 0h1m1 0h1m29 0h3m11 0h1M2 22.5h2m8 0h1m1 0h1m8 0h2m2 0h1m15 0h1m2 0h1m18 0h1m3 0h2m6 0h1m4 0h1m6 0h1m1 0h1m17 0h1m6 0h1m35 0h1m3 0h1m8 0h1m9 0h1m7 0h2m1 0h1m1 0h1m8 0h1m21 0h1m21 0h1m3 0h1m10 0h1m5 0h1m5 0h1m11 0h2m21 0h1m9 0h1m6 0h1m3 0h1m14 0h1m18 0h1m4 0h2m4 0h1m10 0h2m8 0h1m23 0h1m11 0h1m1 0h2m1 0h2m9 0h1m7 0h1m14 0h1m25 0h2m1 0h1m5 0h2m1 0h1m6 0h1m4 0h1m9 0h1m13 0h1M0 23.5h2m1 0h3m1 0h1m10 0h1m12 0h1m3 0h1m4 0h1m10 0h1m14 0h2m7 0h1m5 0h1m2 0h1m23 0h1m9 0h1m9 0h1m12 0h1m5 0h1m3 0h2m3 0h1m12 0h1m18 0h1m3 0h1m2 0h1m35 0h1m20 0h1m4 0h1m29 0h1m5 0h1m5 0h1m11 0h2m4 0h1m13 0h1m2 0h1m1 0h1m20 0h1m13 0h1m3 0h1m5 0h1m5 0h1m5 0h1m1 0h1m5 0h1m7 0h1m4 0h1m1 0h1m12 0h1m23 0h1m8 0h1m4 0h1m9 0h1m1 0h1m30 0h1m7 0h1m3 0h1M2 24.5h1m2 0h1m3 0h1m1 0h1m11 0h1m2 0h1m31 0h1m6 0h1m7 0h1m7 0h1m4 0h1m1 0h1m18 0h1m1 0h1m9 0h1m3 0h1m50 0h1m2 0h1m7 0h2m22 0h1m6 0h2m4 0h1m4 0h1m12 0h1m12 0h1m8 0h1m2 0h1m1 0h1m5 0h1m1 0h1m6 0h1m3 0h2m7 0h2m17 0h1m18 0h1m2 0h1m5 0h1m4 0h1m4 0h1m2 0h2m2 0h1m2 0h1m1 0h1m4 0h1m2 0h2m9 0h1m5 0h1m4 0h1m1 0h1m13 0h2m23 0h2m14 0h1m2 0h1m23 0h1m9 0h1m23 0h1m1 0h1m10 0h1m12 0h1M0 25.5h1m1 0h1m9 0h2m7 0h1m3 0h1m9 0h1m41 0h1m8 0h1m40 0h1m18 0h1m4 0h1m15 0h1m36 0h1m4 0h1m1 0h1m25 0h1m15 0h1m14 0h1m4 0h1m21 0h1m7 0h1m1 0h1m10 0h2m25 0h1m6 0h1m14 0h1m8 0h1m19 0h1m16 0h1m5 0h1m2 0h1m5 0h1m6 0h1m3 0h1m29 0h2m9 0h1m38 0h4m12 0h1M327 26.5h1m2 0h1m7 0h2m9 0h1m1 0h1m5 0h1m87 0h1m58 0h1M12 27.5h1m8 0h1m1 0h1m4 0h1m2 0h1m9 0h1m13 0h1m3 0h2m1 0h1m6 0h1m6 0h1m4 0h1m1 0h1m3 0h1m7 0h1m3 0h1m11 0h1m7 0h1m6 0h1m8 0h1m2 0h4m51 0h1m2 0h2m13 0h1m5 0h1m13 0h1m4 0h1m7 0h1m7 0h2m5 0h1m1 0h1m20 0h1m10 0h1m14 0h1m20 0h1m10 0h1m2 0h1m24 0h1m12 0h1m24 0h1m18 0h2m4 0h1m1 0h2m1 0h1m5 0h1m7 0h1m24 0h1m16 0h1m2 0h1m8 0h1m4 0h2m3 0h1m7 0h2m3 0h1m7 0h1M0 28.5h1m3 0h1m5 0h2m6 0h1m5 0h1m1 0h1m4 0h1m7 0h1m13 0h2m1 0h1m1 0h1m3 0h1m3 0h1m4 0h1m9 0h1m2 0h1m8 0h1m1 0h1m5 0h1m4 0h1m6 0h1m5 0h1m4 0h1m9 0h1m6 0h2m57 0h1m3 0h1m7 0h1m44 0h1m13 0h1m16 0h1m3 0h1m16 0h1m7 0h1m1 0h1m1 0h1m4 0h1m1 0h1m7 0h1m6 0h1m3 0h1m1 0h2m4 0h1m13 0h1m11 0h1m4 0h1m10 0h1m11 0h1m16 0h1m10 0h1m26 0h2m2 0h1m15 0h1m14 0h1m4 0h1m1 0h1m22 0h1m4 0h1M62 29.5h1m3 0h2m2 0h2m7 0h1m14 0h3m2 0h1m4 0h1m7 0h3m3 0h1m5 0h1m3 0h1m7 0h1m2 0h1m2 0h1m10 0h1m10 0h1m3 0h1m3 0h1m28 0h1m1 0h1m1 0h1m2 0h1m9 0h2m4 0h1m3 0h1m3 0h1m9 0h1m3 0h2m4 0h1m18 0h1m9 0h1m10 0h2m7 0h1m1 0h1m1 0h1m1 0h2m2 0h1m6 0h2m8 0h1m4 0h1m1 0h1m1 0h2m12 0h1m12 0h1m11 0h2m17 0h1m2 0h1m1 0h1m5 0h1m5 0h1m14 0h1m5 0h1m7 0h1m3 0h2m24 0h1m1 0h1m13 0h1m1 0h1m11 0h1m16 0h1m3 0h1m2 0h1m4 0h1M3 30.5h1m1 0h1m15 0h2m11 0h2m2 0h1m12 0h1m7 0h1m2 0h1m2 0h1m7 0h1m6 0h1m2 0h1m26 0h1m10 0h1m4 0h2m1 0h1m6 0h2m16 0h2m9 0h1m4 0h1m38 0h1m11 0h1m4 0h1m4 0h1m2 0h1m8 0h2m5 0h1m8 0h1m7 0h1m1 0h1m1 0h1m2 0h1m40 0h1m8 0h2m11 0h2m4 0h1m3 0h1m5 0h1m21 0h1m6 0h1m3 0h1m21 0h1m1 0h1m27 0h1m64 0h1m1 0h1m28 0h1M11 31.5h1m21 0h2m11 0h1m2 0h1m17 0h1m17 0h1m12 0h1m6 0h2m7 0h1m6 0h1m1 0h1m4 0h1m18 0h1m2 0h1m6 0h1m8 0h1m8 0h1m21 0h1m1 0h1m3 0h1m16 0h1m3 0h1m26 0h1m16 0h1m11 0h1m26 0h1m19 0h1m12 0h1m11 0h1m17 0h2m3 0h1m1 0h1m12 0h1m4 0h1m1 0h1m2 0h1m6 0h1m20 0h1m17 0h1m9 0h1m3 0h2m5 0h1m3 0h1m4 0h1m12 0h1m5 0h1m2 0h1m3 0h1m10 0h1m15 0h2m7 0h1M0 32.5h1m20 0h1m7 0h1m9 0h1m5 0h4m2 0h1m2 0h1m7 0h2m13 0h1m5 0h1m2 0h1m8 0h1m3 0h2m4 0h2m6 0h1m22 0h1m26 0h2m5 0h1m1 0h1m7 0h1m11 0h1m6 0h1m10 0h2m14 0h1m21 0h1m2 0h1m6 0h1m14 0h1m2 0h1m2 0h1m14 0h1m12 0h2m3 0h1m3 0h4m15 0h1m4 0h2m2 0h1m27 0h1m5 0h1m9 0h1m1 0h1m19 0h1m16 0h1m1 0h1m5 0h1m2 0h1m10 0h1m2 0h1m3 0h1m5 0h1m5 0h1m7 0h1m3 0h1m15 0h1M6 33.5h1m8 0h1m9 0h1m5 0h1m12 0h2m12 0h1m1 0h1m6 0h2m12 0h1m17 0h1m6 0h1m9 0h1m15 0h1m14 0h1m5 0h2m13 0h1m14 0h1m10 0h1m2 0h1m14 0h1m11 0h1m11 0h1m1 0h1m3 0h1m3 0h1m5 0h1m7 0h1m57 0h1m1 0h1m9 0h1m2 0h1m7 0h2m15 0h1m2 0h1m9 0h1m14 0h1m1 0h5m3 0h1m1 0h1m1 0h1m1 0h1m2 0h1m2 0h1m15 0h1m7 0h1m5 0h1m15 0h1m13 0h1m3 0h1m24 0h1m5 0h1m1 0h1m30 0h1m1 0h2M12 34.5h1m16 0h1m8 0h2m4 0h1m6 0h1m36 0h1m48 0h1m12 0h2m16 0h1m1 0h1m1 0h1m2 0h1m5 0h1m20 0h2m4 0h1m22 0h2m8 0h1m10 0h1m13 0h1m6 0h2m7 0h1m7 0h1m1 0h1m15 0h1m29 0h1m27 0h1m12 0h1m17 0h1m3 0h1m6 0h1m1 0h1m3 0h1m11 0h1m7 0h1m7 0h2m3 0h1m4 0h1m3 0h1m3 0h2m11 0h1m1 0h1m6 0h1m22 0h1m8 0h1m5 0h1M3 35.5h1m1 0h1m6 0h1m1 0h3m5 0h1m6 0h1m7 0h1m17 0h1m1 0h1m5 0h1m14 0h1m9 0h2m1 0h1m22 0h2m2 0h1m14 0h1m5 0h2m11 0h1m4 0h1m1 0h1m7 0h1m1 0h1m2 0h2m4 0h1m2 0h1m23 0h1m4 0h1m1 0h1m1 0h1m3 0h1m4 0h1m22 0h1m8 0h1m3 0h1m12 0h1m20 0h2m10 0h1m5 0h1m5 0h2m5 0h1m39 0h1m23 0h1m16 0h1m21 0h1m6 0h2m1 0h2m1 0h1m11 0h1m1 0h2m15 0h1m1 0h1m7 0h1m4 0h1m8 0h1m6 0h1m21 0h1M26 36.5h1m9 0h1m42 0h1m4 0h1m14 0h1m6 0h1m8 0h1m1 0h1m26 0h1m2 0h1m5 0h1m9 0h2m10 0h2m3 0h1m1 0h1m24 0h1m12 0h1m7 0h1m4 0h1m5 0h1m7 0h1m1 0h1m8 0h1m7 0h1m43 0h1m7 0h1m1 0h1m21 0h1m15 0h1m36 0h1m40 0h1m1 0h1m20 0h1m15 0h1m1 0h1m19 0h1m7 0h1m10 0h1m2 0h1M22 37.5h1m2 0h2m2 0h1m5 0h1m1 0h1m1 0h1m3 0h1m7 0h1m1 0h1m3 0h1m22 0h1m2 0h1m8 0h1m11 0h1m30 0h2m9 0h1m7 0h1m20 0h1m25 0h1m1 0h1m5 0h2m1 0h3m2 0h1m19 0h1m1 0h1m24 0h1m1 0h1m17 0h1m8 0h1m7 0h1m5 0h1m1 0h1m2 0h1m9 0h1m14 0h1m2 0h1m11 0h1m8 0h1m5 0h1m4 0h1m18 0h1m1 0h2m25 0h1m1 0h1m15 0h1m41 0h1m17 0h1m12 0h1m25 0h1M0 38.5h1m3 0h1m4 0h1m11 0h2m4 0h1m1 0h1m9 0h1m2 0h1m3 0h1m4 0h1m30 0h1m4 0h1m9 0h1m2 0h1m16 0h1m29 0h1m3 0h1m14 0h1m1 0h1m2 0h1m7 0h1m10 0h1m7 0h1m4 0h1m3 0h2m2 0h1m1 0h4m7 0h1m5 0h1m2 0h1m3 0h1m1 0h2m6 0h1m18 0h1m16 0h1m3 0h1m25 0h1m5 0h1m1 0h1m9 0h1m5 0h1m4 0h1m4 0h1m18 0h1m2 0h1m21 0h2m8 0h1m6 0h1m1 0h1m11 0h1m55 0h1m4 0h1m3 0h1m6 0h1m13 0h1m6 0h1m10 0h1M25 39.5h1m3 0h1m25 0h1m6 0h1m1 0h1m27 0h1m25 0h1m1 0h1m48 0h1m5 0h1m7 0h1m8 0h1m7 0h1m4 0h1m1 0h2m4 0h1m11 0h1m10 0h1m6 0h1m2 0h1m14 0h1m10 0h1m9 0h2m22 0h1m11 0h1m6 0h1m8 0h1m4 0h1m11 0h1m15 0h1m1 0h1m4 0h1m27 0h1m4 0h1m6 0h1m8 0h1m7 0h1m19 0h1m14 0h2m3 0h1m39 0h1m15 0h1m8 0h1m2 0h1M0 40.5h1m26 0h1m24 0h1m60 0h1m60 0h1m1 0h3m36 0h2m19 0h1m12 0h1m4 0h1m2 0h1m14 0h1m8 0h1m3 0h1m39 0h1m1 0h1m7 0h3m12 0h2m22 0h1m1 0h1m3 0h1m13 0h1m6 0h2m4 0h1m5 0h1m6 0h2m1 0h1m2 0h1m2 0h1m2 0h1m27 0h1m17 0h1m7 0h1m3 0h1m7 0h2m17 0h2m3 0h1m7 0h1m3 0h1M49 41.5h1m5 0h1m26 0h1m1 0h1m23 0h1m3 0h1m36 0h1m8 0h1m5 0h1m2 0h1m3 0h1m6 0h2m4 0h1m7 0h1m5 0h1m1 0h2m7 0h1m40 0h1m25 0h1m5 0h1m6 0h1m3 0h1m16 0h1m39 0h1m3 0h1m14 0h1m3 0h2m2 0h1m1 0h1m17 0h2m6 0h2m2 0h1m41 0h1m11 0h1m8 0h1m6 0h1m8 0h1m20 0h2m7 0h1M4 42.5h1m44 0h1m32 0h1m38 0h1m20 0h1m11 0h1m2 0h1m2 0h1m7 0h4m3 0h1m4 0h1m19 0h2m6 0h1m2 0h1m43 0h2m23 0h1m2 0h1m11 0h2m24 0h1m15 0h1m12 0h1m6 0h1m2 0h1m9 0h1m5 0h1m24 0h1m4 0h1m7 0h2m3 0h1m2 0h1m1 0h1m33 0h1m23 0h1m4 0h1m25 0h1m4 0h1m15 0h1M0 43.5h2m26 0h2m33 0h1m14 0h1m5 0h1m6 0h1m10 0h1m7 0h1m18 0h1m17 0h1m20 0h3m10 0h2m15 0h1m7 0h1m16 0h1m22 0h1m26 0h1m9 0h1m1 0h1m21 0h1m13 0h1m3 0h1m8 0h1m4 0h1m8 0h1m9 0h1m11 0h2m4 0h1m26 0h1m6 0h1m11 0h1m10 0h1m1 0h1m42 0h1m7 0h1m1 0h1m2 0h1m17 0h1m5 0h1m18 0h1M10 44.5h1m34 0h1m7 0h1m1 0h1m21 0h1m4 0h1m7 0h1m1 0h1m9 0h1m10 0h2m32 0h1m2 0h1m1 0h1m2 0h2m7 0h1m6 0h1m4 0h1m11 0h1m2 0h1m2 0h1m16 0h3m6 0h1m23 0h1m4 0h1m1 0h1m2 0h1m11 0h1m17 0h1m4 0h1m8 0h1m7 0h1m13 0h1m8 0h1m11 0h1m61 0h1m3 0h1m6 0h1m7 0h1m7 0h1m1 0h1m3 0h1m26 0h1m1 0h1m21 0h1m4 0h1M0 45.5h1m26 0h1m11 0h1m9 0h1m1 0h1m6 0h1m24 0h1m2 0h2m19 0h1m41 0h1m24 0h1m6 0h1m7 0h1m14 0h1m3 0h1m1 0h3m2 0h1m4 0h1m33 0h1m2 0h1m12 0h1m35 0h1m5 0h1m14 0h1m1 0h1m1 0h1m1 0h1m4 0h1m4 0h1m3 0h1m24 0h1m10 0h1m7 0h1m34 0h1m11 0h1m21 0h1m6 0h1m17 0h1m11 0h1m7 0h1m8 0h1m7 0h1m3 0h1m7 0h1M23 46.5h1m14 0h1m3 0h1m6 0h1m17 0h1m52 0h1m27 0h1m2 0h1m6 0h1m5 0h1m10 0h1m1 0h1m2 0h1m1 0h1m8 0h1m3 0h1m3 0h1m1 0h1m4 0h1m5 0h1m12 0h1m3 0h1m6 0h1m9 0h1m3 0h2m1 0h1m2 0h1m24 0h1m7 0h1m12 0h1m6 0h1m7 0h1m4 0h1m2 0h1m1 0h1m4 0h1m1 0h1m39 0h1m47 0h1m16 0h1m19 0h1m7 0h1m11 0h1m19 0h1m8 0h1m29 0h1M27 47.5h1m1 0h1m13 0h1m3 0h1m3 0h2m39 0h1m5 0h1m12 0h1m2 0h1m2 0h2m6 0h1m10 0h1m37 0h1m24 0h1m1 0h1m5 0h1m26 0h1m1 0h1m15 0h1m10 0h1m6 0h1m1 0h1m10 0h2m1 0h1m33 0h1m2 0h1m2 0h1m9 0h1m10 0h1m15 0h1m3 0h1m2 0h1m1 0h1m5 0h1m23 0h1m29 0h1m11 0h1m10 0h1m2 0h1m2 0h1m1 0h1m1 0h2m4 0h3m8 0h1m6 0h1m15 0h1m3 0h1m6 0h1m9 0h1m11 0h1M24 48.5h2m2 0h1m17 0h1m16 0h1m1 0h1m14 0h1m4 0h1m4 0h3m39 0h2m2 0h2m15 0h1m20 0h2m49 0h1m7 0h1m4 0h1m2 0h2m28 0h1m9 0h1m19 0h2m22 0h1m2 0h1m1 0h1m7 0h1m9 0h1m1 0h2m9 0h1m7 0h1m20 0h1m2 0h1m11 0h1m4 0h1m1 0h1m4 0h1m5 0h1m1 0h1m65 0h1m15 0h2m25 0h1M26 49.5h1m3 0h1m21 0h1m12 0h1m4 0h1m9 0h1m14 0h1m1 0h1m6 0h1m9 0h1m16 0h1m13 0h1m10 0h1m1 0h1m24 0h1m12 0h1m11 0h1m24 0h1m12 0h1m8 0h1m7 0h1m4 0h1m1 0h1m18 0h2m5 0h2m2 0h1m1 0h1m1 0h1m20 0h1m3 0h1m9 0h1m17 0h1m6 0h2m1 0h1m6 0h1m39 0h1m2 0h1m2 0h1m46 0h1m19 0h1m14 0h1m4 0h2m1 0h1m25 0h1" stroke="#0055ff"/><path d="M21 0.5h1m23 0h1m6 0h1m5 0h1m94 0h1m14 0h1m5 0h1m2 0h1m16 0h1m7 0h1m12 0h1m19 0h1m6 0h1m1 0h1m23 0h1m2 0h1m11 0h1m3 0h1m5 0h1m12 0h1m16 0h1m17 0h1m3 0h1m6 0h1m12 0h1m4 0h1m7 0h1m20 0h1m13 0h4m15 0h1m25 0h1m5 0h1m1 0h1m2 0h2m3 0h1m3 0h1m15 0h1m9 0h1m1 0h1m15 0h2m15 0h1M24 1.5h1m21 0h1m15 0h1m17 0h1m67 0h1m1 0h2m14 0h1m47 0h1m14 0h2m5 0h1m27 0h1m4 0h1m6 0h1m4 0h1m2 0h1m10 0h1m3 0h1m10 0h2m12 0h2m5 0h1m2 0h1m2 0h1m25 0h1m9 0h1m4 0h1m2 0h1m7 0h1m7 0h1m1 0h1m2 0h1m26 0h1m7 0h1m18 0h1m12 0h1m2 0h1m13 0h1m2 0h1m21 0h1m3 0h1M9 2.5h1m12 0h1m1 0h1m22 0h1m58 0h1m1 0h2m29 0h1m2 0h1m11 0h1m73 0h1m1 0h1m37 0h1m12 0h1m11 0h1m11 0h1m13 0h1m2 0h1m4 0h1m1 0h1m9 0h1m30 0h1m1 0h1m2 0h1m6 0h1m7 0h1m3 0h2m1 0h1m2 0h1m1 0h1m22 0h1m6 0h1m3 0h1m11 0h1m7 0h2m2 0h1m34 0h1m12 0h2m3 0h1m1 0h1m8 0h1M5 3.5h1m18 0h1m19 0h1m42 0h1m35 0h1m7 0h1m8 0h2m42 0h1m17 0h1m8 0h1m15 0h1m30 0h1m22 0h1m1 0h1m21 0h1m10 0h1m10 0h1m8 0h1m11 0h1m2 0h1m7 0h1m7 0h1m7 0h1m2 0h1m19 0h2m10 0h1m35 0h2m6 0h1m13 0h2m4 0h1m16 0h1m15 0h3m9 0h1m18 0h1M229 4.5h1m36 0h1m21 0h3m16 0h1m1 0h1m17 0h1m23 0h2m1 0h1m33 0h1m18 0h1m3 0h1m14 0h1m4 0h1m10 0h1m24 0h1m7 0h1m2 0h1m26 0h1m2 0h1m2 0h1m8 0h1m12 0h1M9 5.5h1m44 0h1m4 0h1m1 0h1m1 0h1m1 0h1m14 0h1m1 0h1m16 0h2m1 0h1m1 0h1m6 0h1m15 0h1m2 0h1m14 0h1m1 0h1m15 0h1m9 0h2m1 0h3m13 0h1m8 0h1m7 0h2m11 0h1m3 0h1m6 0h1m7 0h1m1 0h1m2 0h1m2 0h1m9 0h2m10 0h1m8 0h1m5 0h2m2 0h1m12 0h1m6 0h1m7 0h1m2 0h1m6 0h1m10 0h1m3 0h1m90 0h1m17 0h1m49 0h1m5 0h1m10 0h1m2 0h1m3 0h1m6 0h1m5 0h1M26 6.5h1m4 0h1m5 0h1m25 0h1m1 0h3m11 0h1m6 0h2m9 0h1m15 0h1m1 0h1m1 0h1m2 0h1m25 0h1m2 0h1m11 0h1m5 0h1m4 0h1m29 0h1m30 0h1m7 0h1m6 0h1m1 0h1m6 0h2m1 0h1m46 0h1m5 0h2m8 0h1m17 0h1m21 0h1m5 0h1m5 0h1m7 0h1m5 0h1m8 0h1m138 0h1M0 7.5h1m48 0h1m6 0h1m6 0h1m10 0h1m9 0h1m13 0h1m20 0h1m3 0h1m4 0h1m9 0h1m14 0h1m6 0h1m3 0h1m1 0h1m15 0h1m6 0h1m3 0h1m1 0h1m2 0h1m4 0h1m1 0h1m6 0h2m3 0h1m6 0h1m1 0h1m9 0h1m4 0h1m1 0h1m6 0h1m2 0h1m11 0h1m11 0h1m1 0h1m9 0h1m32 0h1m14 0h1m30 0h1m6 0h1m22 0h1m9 0h1m21 0h1m16 0h1m13 0h2m7 0h1m21 0h1m2 0h1m4 0h2m4 0h1m18 0h1m3 0h1m3 0h1M0 8.5h1m7 0h1m1 0h2m6 0h1m1 0h1m9 0h1m4 0h3m5 0h1m2 0h1m15 0h2m6 0h1m2 0h1m18 0h1m1 0h1m1 0h1m21 0h1m10 0h1m1 0h1m12 0h1m4 0h1m7 0h1m4 0h1m1 0h1m6 0h1m2 0h1m8 0h1m31 0h1m4 0h1m10 0h1m1 0h1m25 0h2m22 0h1m5 0h1m15 0h1m6 0h1m7 0h1m3 0h1m7 0h1m15 0h1m22 0h1m3 0h1m4 0h1m2 0h1m2 0h1m15 0h1m9 0h1m13 0h1m4 0h2m3 0h1m11 0h1m19 0h1m4 0h2m13 0h1m8 0h2m38 0h2M14 9.5h1m4 0h1m10 0h1m4 0h2m6 0h1m1 0h1m1 0h1m14 0h1m10 0h1m30 0h1m2 0h2m6 0h2m23 0h2m6 0h1m19 0h3m4 0h1m44 0h1m15 0h1m1 0h1m10 0h1m1 0h1m9 0h2m5 0h4m8 0h1m5 0h2m5 0h1m11 0h3m16 0h1m4 0h1m1 0h2m11 0h1m6 0h1m19 0h1m1 0h1m1 0h1m9 0h1m1 0h1m7 0h2m19 0h1m14 0h3m29 0h1m35 0h1m7 0h1m12 0h1m8 0h1M6 10.5h1m26 0h1m26 0h1m1 0h1m10 0h1m7 0h1m11 0h1m7 0h1m1 0h1m4 0h1m5 0h1m15 0h1m6 0h1m1 0h1m42 0h1m4 0h1m6 0h1m3 0h1m4 0h1m8 0h2m7 0h1m2 0h1m2 0h1m8 0h1m3 0h1m7 0h1m20 0h1m5 0h1m7 0h1m3 0h2m2 0h2m28 0h1m3 0h1m9 0h1m14 0h1m16 0h2m5 0h1m3 0h1m1 0h1m4 0h1m4 0h1m17 0h1m1 0h1m4 0h2m2 0h2m1 0h1m2 0h1m6 0h1m17 0h1m5 0h1m5 0h1m1 0h1m25 0h1m5 0h2m16 0h1m18 0h1M12 11.5h2m7 0h1m3 0h1m3 0h1m4 0h1m14 0h1m35 0h2m19 0h1m24 0h1m11 0h1m5 0h1m16 0h1m8 0h1m7 0h1m1 0h2m3 0h2m1 0h1m23 0h1m2 0h1m2 0h1m7 0h1m6 0h1m3 0h1m2 0h1m3 0h1m3 0h2m48 0h1m24 0h1m16 0h1m5 0h1m11 0h1m7 0h2m10 0h1m13 0h1m2 0h1m8 0h1m2 0h2m1 0h1m1 0h2m63 0h1m1 0h1m1 0h1m1 0h1m5 0h1m5 0h1m4 0h1m7 0h1m13 0h1m8 0h1M10 12.5h1m19 0h1m2 0h1m8 0h2m8 0h1m9 0h1m8 0h1m4 0h2m5 0h1m21 0h1m2 0h1m24 0h1m8 0h1m5 0h1m16 0h1m6 0h1m11 0h1m2 0h1m7 0h1m11 0h2m1 0h1m1 0h2m10 0h1m29 0h1m3 0h1m4 0h1m17 0h3m3 0h1m3 0h1m8 0h1m28 0h1m11 0h2m9 0h1m3 0h1m12 0h1m1 0h1m1 0h1m5 0h1m17 0h1m8 0h1m4 0h1m57 0h1m2 0h1m5 0h1m21 0h1m1 0h1m11 0h1m1 0h1m9 0h1m11 0h1M20 13.5h1m4 0h1m1 0h1m53 0h2m15 0h1m5 0h1m3 0h1m7 0h1m18 0h1m15 0h1m13 0h1m1 0h1m4 0h1m3 0h1m7 0h2m3 0h2m10 0h1m7 0h1m3 0h2m3 0h1m5 0h1m2 0h1m1 0h1m4 0h1m1 0h1m1 0h1m9 0h2m14 0h1m2 0h1m11 0h1m3 0h1m2 0h1m4 0h1m10 0h1m30 0h2m5 0h1m12 0h1m9 0h1m1 0h1m2 0h2m1 0h1m3 0h1m2 0h1m8 0h1m1 0h1m17 0h1m1 0h1m6 0h1m4 0h1m8 0h1m15 0h1m1 0h1m4 0h1m2 0h2m18 0h1m31 0h1m14 0h1m9 0h1M13 14.5h1m26 0h1m5 0h1m11 0h1m11 0h1m8 0h1m1 0h1m3 0h2m11 0h1m20 0h1m3 0h1m1 0h1m1 0h1m4 0h1m11 0h1m5 0h2m14 0h1m11 0h1m9 0h1m1 0h1m9 0h1m14 0h1m1 0h2m2 0h1m4 0h1m5 0h1m5 0h1m2 0h1m6 0h1m11 0h1m9 0h1m6 0h3m1 0h2m15 0h1m5 0h1m6 0h1m7 0h1m4 0h1m16 0h2m6 0h1m13 0h2m7 0h1m5 0h1m17 0h2m4 0h1m22 0h1m2 0h1m4 0h1m2 0h1m18 0h1m8 0h1m5 0h1m3 0h1m4 0h1m1 0h2m1 0h1m5 0h1m11 0h1m6 0h1m9 0h1m11 0h1M1 15.5h1m13 0h1m15 0h1m1 0h1m10 0h2m91 0h1m24 0h1m18 0h1m9 0h2m3 0h1m16 0h1m10 0h1m7 0h1m26 0h1m6 0h1m7 0h1m2 0h2m9 0h1m43 0h1m11 0h1m1 0h1m4 0h1m6 0h1m11 0h1m10 0h1m18 0h1m1 0h1m11 0h1m10 0h1m7 0h1m64 0h1M3 16.5h1m4 0h1m8 0h1m22 0h1m108 0h2m8 0h1m8 0h1m8 0h1m4 0h1m2 0h1m6 0h1m7 0h2m3 0h1m22 0h1m4 0h1m4 0h2m1 0h3m20 0h1m11 0h2m5 0h1m1 0h1m17 0h1m6 0h4m3 0h1m5 0h1m32 0h1m12 0h1m1 0h1m5 0h1m4 0h1m5 0h1m22 0h1m3 0h1m4 0h1m21 0h1m8 0h1m1 0h1m3 0h1m4 0h2m9 0h1m16 0h3m9 0h1m15 0h1m2 0h1M8 17.5h1m2 0h1m7 0h1m4 0h1m8 0h1m6 0h1m3 0h1m8 0h1m21 0h1m39 0h1m27 0h2m1 0h1m3 0h1m15 0h1m2 0h1m12 0h1m2 0h1m1 0h1m2 0h1m1 0h1m8 0h1m4 0h1m4 0h1m10 0h1m7 0h1m7 0h2m9 0h1m7 0h1m5 0h1m3 0h1m3 0h1m7 0h1m11 0h1m2 0h1m17 0h2m7 0h1m4 0h1m27 0h1m7 0h1m5 0h1m3 0h2m6 0h1m4 0h2m8 0h2m8 0h1m32 0h1m28 0h2m11 0h1m1 0h1m19 0h1m12 0h2m8 0h1m6 0h1m2 0h1M7 18.5h1m3 0h1m2 0h1m3 0h1m2 0h1m5 0h1m6 0h1m6 0h1m3 0h1m1 0h1m26 0h1m58 0h1m8 0h1m30 0h1m4 0h1m17 0h1m44 0h1m18 0h1m9 0h1m7 0h1m10 0h1m4 0h1m11 0h1m1 0h1m12 0h1m1 0h1m7 0h1m24 0h2m5 0h1m5 0h1m4 0h1m3 0h2m10 0h1m16 0h1m2 0h1m7 0h1m11 0h1m15 0h1m8 0h1m2 0h1m2 0h1m1 0h1m2 0h1m9 0h1m14 0h1m1 0h1m2 0h1m2 0h1m4 0h1m1 0h1m5 0h2m1 0h1m14 0h1M2 19.5h1m18 0h1m3 0h1m1 0h1m2 0h1m12 0h1m7 0h1m1 0h1m9 0h1m3 0h1m19 0h1m5 0h1m1 0h1m21 0h1m4 0h1m19 0h1m3 0h1m2 0h1m9 0h1m2 0h1m4 0h1m13 0h1m7 0h1m5 0h1m5 0h1m16 0h1m3 0h1m20 0h1m21 0h1m1 0h1m11 0h1m3 0h1m5 0h2m1 0h1m8 0h1m12 0h1m9 0h1m13 0h1m15 0h1m8 0h1m1 0h1m12 0h1m2 0h2m2 0h1m1 0h1m1 0h1m21 0h1m14 0h1m28 0h1m5 0h1m7 0h1m17 0h1m1 0h1m8 0h1m1 0h1m6 0h1m5 0h1m1 0h1m1 0h1m7 0h1M2 20.5h1m6 0h1m1 0h1m14 0h1m5 0h1m1 0h1m12 0h1m5 0h1m3 0h1m1 0h1m11 0h2m8 0h1m8 0h1m4 0h1m2 0h1m8 0h1m10 0h1m12 0h1m5 0h1m4 0h1m19 0h1m5 0h1m11 0h1m4 0h1m3 0h1m13 0h1m3 0h1m6 0h1m3 0h1m1 0h1m9 0h1m2 0h1m14 0h2m12 0h1m3 0h1m17 0h1m9 0h1m26 0h1m5 0h1m14 0h1m9 0h1m7 0h1m4 0h1m6 0h1m3 0h1m2 0h1m4 0h1m1 0h1m7 0h1m10 0h2m15 0h1m21 0h2m3 0h2m2 0h1m21 0h1m31 0h1m5 0h1m13 0h1M4 21.5h1m8 0h1m7 0h1m1 0h1m7 0h1m7 0h1m18 0h1m3 0h1m22 0h1m2 0h1m73 0h1m22 0h1m11 0h1m11 0h1m1 0h1m6 0h1m15 0h2m13 0h1m17 0h1m53 0h1m1 0h1m5 0h1m39 0h1m47 0h2m4 0h1m3 0h1m2 0h1m15 0h1m24 0h1m27 0h1M4 22.5h2m13 0h4m6 0h1m8 0h1m5 0h1m3 0h1m53 0h1m2 0h1m7 0h2m5 0h1m3 0h1m4 0h1m1 0h1m15 0h1m39 0h1m3 0h3m1 0h1m12 0h2m5 0h1m7 0h2m3 0h1m11 0h1m3 0h1m7 0h1m1 0h1m6 0h1m8 0h1m2 0h1m4 0h1m6 0h1m5 0h2m1 0h1m5 0h1m10 0h1m22 0h3m4 0h1m1 0h1m6 0h1m16 0h1m14 0h1m3 0h1m7 0h1m11 0h1m8 0h1m2 0h1m15 0h1m6 0h1m4 0h1m2 0h1m1 0h1m9 0h1m27 0h1m5 0h1m8 0h2m3 0h1m4 0h1m7 0h1M10 23.5h1m3 0h1m2 0h1m5 0h1m14 0h1m4 0h1m4 0h1m16 0h1m5 0h1m6 0h1m8 0h1m3 0h1m12 0h2m6 0h2m1 0h1m27 0h1m28 0h1m2 0h1m28 0h1m6 0h1m15 0h2m1 0h1m5 0h1m4 0h1m17 0h1m20 0h1m7 0h1m21 0h1m3 0h1m1 0h1m7 0h1m17 0h1m8 0h1m6 0h1m6 0h1m12 0h1m20 0h1m2 0h1m30 0h2m3 0h1m7 0h1m3 0h1m1 0h1m1 0h1m4 0h1m5 0h1m12 0h1m3 0h1m9 0h1m7 0h1m4 0h2m10 0h1m15 0h1M4 24.5h1m23 0h1m2 0h2m37 0h1m32 0h1m13 0h1m18 0h1m12 0h1m2 0h1m23 0h1m3 0h1m12 0h1m2 0h1m4 0h2m1 0h2m36 0h1m2 0h1m3 0h1m8 0h1m2 0h1m2 0h1m1 0h1m12 0h1m40 0h1m23 0h1m3 0h1m25 0h1m1 0h1m5 0h1m16 0h1m1 0h1m6 0h2m2 0h2m17 0h1m1 0h1m7 0h1m14 0h1m6 0h2m1 0h1m8 0h1m5 0h1m2 0h1m11 0h2m1 0h1m6 0h1m3 0h1m11 0h1m6 0h1M5 25.5h1m81 0h1m12 0h1m22 0h1m4 0h1m2 0h1m1 0h1m6 0h3m2 0h1m4 0h1m3 0h1m7 0h1m14 0h1m6 0h1m1 0h1m42 0h2m7 0h1m7 0h1m11 0h1m12 0h1m4 0h1m9 0h2m5 0h1m14 0h1m4 0h1m11 0h1m5 0h1m21 0h1m1 0h1m6 0h2m2 0h1m1 0h1m16 0h1m3 0h1m3 0h1m2 0h2m4 0h1m1 0h1m35 0h1m3 0h1m3 0h1m1 0h1m5 0h1m3 0h1m1 0h2m17 0h1m8 0h1m20 0h1m3 0h2m4 0h1m7 0h1m8 0h1M324 26.5h1m1 0h1m2 0h1m3 0h1m2 0h1m8 0h2m12 0h1m3 0h1m2 0h1m2 0h1m6 0h1m2 0h1m2 0h2m2 0h1m3 0h1m6 0h1m9 0h3m1 0h1m9 0h1m3 0h1m5 0h1m8 0h2m2 0h1m89 0h2M13 27.5h1m1 0h2m3 0h1m1 0h1m16 0h2m8 0h2m5 0h2m5 0h2m2 0h1m3 0h1m16 0h1m9 0h1m6 0h1m11 0h1m9 0h1m21 0h1m1 0h1m1 0h1m4 0h1m2 0h1m3 0h1m1 0h2m12 0h1m6 0h1m10 0h1m1 0h1m1 0h1m31 0h1m3 0h1m7 0h1m1 0h1m6 0h1m6 0h1m31 0h1m11 0h1m3 0h1m19 0h1m2 0h1m12 0h1m3 0h1m5 0h1m13 0h1m28 0h1m9 0h1m4 0h1m27 0h1m19 0h1m6 0h1m8 0h2m6 0h1m1 0h1m6 0h1m24 0h1m2 0h1m11 0h1M15 28.5h1m12 0h1m1 0h1m15 0h1m8 0h1m9 0h1m14 0h1m2 0h1m1 0h1m6 0h1m19 0h1m5 0h1m1 0h1m1 0h1m3 0h1m4 0h1m14 0h1m6 0h2m1 0h1m1 0h1m19 0h1m4 0h1m4 0h1m43 0h1m1 0h1m9 0h1m3 0h1m4 0h1m2 0h1m1 0h1m4 0h3m11 0h1m9 0h1m10 0h1m17 0h1m3 0h1m2 0h1m10 0h1m13 0h1m5 0h1m1 0h1m13 0h2m4 0h1m2 0h1m13 0h1m14 0h1m2 0h1m26 0h1m1 0h1m1 0h2m1 0h1m10 0h2m8 0h2m2 0h1m15 0h1m1 0h1m20 0h1m2 0h1m5 0h1m1 0h1m1 0h1m2 0h1m10 0h1M3 29.5h1m10 0h1m1 0h1m2 0h2m5 0h1m7 0h1m3 0h1m1 0h1m15 0h1m2 0h1m1 0h1m14 0h1m45 0h1m7 0h1m4 0h1m1 0h1m9 0h1m2 0h1m6 0h1m9 0h1m9 0h1m5 0h2m5 0h1m7 0h1m8 0h1m3 0h2m7 0h1m8 0h1m6 0h1m28 0h1m13 0h1m2 0h3m4 0h1m4 0h1m7 0h1m7 0h1m1 0h1m3 0h2m29 0h1m13 0h1m5 0h1m6 0h1m26 0h1m1 0h1m9 0h1m8 0h2m2 0h1m7 0h1m28 0h1m2 0h1m3 0h1m14 0h1m9 0h1m8 0h1m5 0h1m3 0h1m4 0h1m14 0h1M9 30.5h1m13 0h1m29 0h3m1 0h1m14 0h1m4 0h2m2 0h1m11 0h1m5 0h1m3 0h1m21 0h1m23 0h1m28 0h1m4 0h1m5 0h1m2 0h1m15 0h1m1 0h1m4 0h2m16 0h1m7 0h1m3 0h2m13 0h1m7 0h1m10 0h2m10 0h1m19 0h2m26 0h2m1 0h1m3 0h1m23 0h1m10 0h1m1 0h2m6 0h1m7 0h1m46 0h1m8 0h1m13 0h1m4 0h1m6 0h1m3 0h1m9 0h1m2 0h2m9 0h1m4 0h1m18 0h1M7 31.5h1m7 0h1m7 0h1m2 0h1m1 0h1m7 0h1m7 0h1m5 0h1m50 0h1m1 0h1m7 0h1m19 0h1m14 0h1m7 0h1m1 0h1m1 0h1m21 0h1m8 0h1m8 0h1m2 0h2m10 0h1m21 0h1m2 0h1m2 0h2m9 0h1m8 0h3m5 0h1m2 0h1m11 0h1m3 0h1m13 0h1m1 0h1m3 0h1m5 0h1m1 0h1m1 0h1m34 0h1m9 0h2m7 0h2m4 0h2m1 0h1m17 0h1m10 0h1m3 0h1m2 0h1m29 0h1m1 0h1m20 0h1m7 0h1m5 0h1m2 0h2m1 0h1m2 0h1m5 0h1m1 0h1m2 0h1m3 0h1m2 0h1m5 0h2m12 0h1M4 32.5h1m7 0h2m1 0h1m1 0h1m1 0h1m15 0h1m2 0h1m41 0h1m7 0h2m1 0h1m5 0h1m20 0h2m1 0h1m5 0h2m11 0h1m2 0h1m3 0h1m4 0h2m15 0h1m5 0h1m17 0h1m7 0h1m30 0h1m3 0h1m19 0h1m28 0h1m7 0h1m2 0h1m8 0h2m2 0h1m1 0h1m15 0h1m1 0h1m12 0h2m1 0h1m6 0h1m17 0h2m3 0h1m11 0h1m1 0h1m5 0h1m2 0h3m1 0h1m37 0h1m7 0h1m12 0h1m20 0h2m1 0h1m12 0h1m2 0h1m21 0h2M39 33.5h1m11 0h1m43 0h2m3 0h2m2 0h1m8 0h1m3 0h1m9 0h1m10 0h1m1 0h1m7 0h1m18 0h1m1 0h1m1 0h1m4 0h1m2 0h1m2 0h1m1 0h2m10 0h1m18 0h1m2 0h1m11 0h1m6 0h1m16 0h1m9 0h1m2 0h1m7 0h1m3 0h1m30 0h1m6 0h1m5 0h1m19 0h1m2 0h1m8 0h1m18 0h1m18 0h1m7 0h1m7 0h1m17 0h1m23 0h1m1 0h1m12 0h1m35 0h1m9 0h1m4 0h1m1 0h1M6 34.5h1m10 0h2m28 0h1m1 0h2m10 0h1m1 0h1m17 0h2m2 0h1m12 0h1m1 0h1m13 0h1m6 0h1m1 0h1m5 0h1m34 0h1m17 0h1m6 0h1m1 0h1m3 0h1m16 0h1m1 0h1m4 0h1m10 0h1m11 0h1m6 0h2m2 0h1m1 0h1m8 0h1m13 0h1m5 0h1m4 0h1m4 0h2m5 0h1m5 0h1m4 0h1m7 0h1m11 0h1m10 0h1m5 0h1m4 0h1m17 0h1m3 0h3m8 0h2m3 0h1m1 0h1m20 0h1m13 0h1m1 0h1m12 0h1m8 0h1m20 0h1m4 0h1m3 0h1m1 0h2m12 0h1m2 0h1m3 0h2m9 0h1M2 35.5h1m14 0h1m2 0h1m24 0h1m4 0h1m7 0h1m37 0h1m12 0h2m17 0h1m21 0h1m2 0h1m1 0h1m12 0h1m27 0h1m10 0h1m5 0h1m7 0h1m2 0h1m6 0h1m1 0h1m16 0h1m14 0h1m3 0h1m3 0h1m3 0h1m3 0h1m14 0h1m23 0h1m1 0h1m6 0h1m18 0h1m1 0h1m16 0h2m4 0h1m1 0h1m7 0h1m17 0h1m7 0h1m14 0h1m3 0h1m2 0h1m13 0h1m7 0h1m6 0h1m6 0h1m9 0h3m9 0h1m9 0h1m1 0h1m4 0h1m4 0h1m5 0h1m1 0h1m2 0h2m11 0h1M34 36.5h1m26 0h1m15 0h1m16 0h1m6 0h2m1 0h1m15 0h1m12 0h1m9 0h1m1 0h1m2 0h1m1 0h2m17 0h1m24 0h2m2 0h1m6 0h2m1 0h1m2 0h1m3 0h1m29 0h1m13 0h2m12 0h1m2 0h1m4 0h1m3 0h1m7 0h3m35 0h1m14 0h1m6 0h1m11 0h1m5 0h1m11 0h1m8 0h1m9 0h1m28 0h1m1 0h2m4 0h1m2 0h2m1 0h1m7 0h1m7 0h2m7 0h1m2 0h1m16 0h1m8 0h1m1 0h1m8 0h1M36 37.5h1m10 0h1m15 0h1m4 0h1m6 0h1m5 0h1m2 0h1m2 0h2m28 0h1m2 0h1m4 0h1m4 0h1m18 0h2m2 0h1m13 0h3m3 0h1m2 0h1m3 0h1m2 0h2m11 0h1m7 0h1m11 0h1m18 0h1m13 0h1m3 0h1m3 0h1m17 0h1m1 0h1m7 0h2m3 0h1m15 0h1m3 0h1m10 0h1m11 0h1m10 0h1m4 0h1m18 0h1m8 0h1m2 0h1m2 0h1m3 0h2m8 0h3m5 0h1m17 0h1m20 0h1m18 0h2m2 0h1m5 0h1m9 0h1m19 0h1m2 0h1m2 0h1m7 0h1m7 0h1m2 0h3M6 38.5h1m19 0h1m30 0h1m27 0h1m15 0h2m2 0h1m1 0h1m12 0h1m16 0h1m15 0h1m34 0h1m8 0h1m38 0h1m16 0h2m10 0h1m18 0h2m4 0h1m26 0h1m18 0h1m6 0h1m5 0h1m11 0h1m13 0h1m28 0h1m8 0h1m44 0h1m7 0h1m4 0h1m17 0h1m35 0h1m10 0h1M9 39.5h1m16 0h1m1 0h1m8 0h1m15 0h1m41 0h1m14 0h1m3 0h1m2 0h1m24 0h1m6 0h1m6 0h1m20 0h1m4 0h1m8 0h1m20 0h1m6 0h1m3 0h1m4 0h2m3 0h1m1 0h1m11 0h1m8 0h1m7 0h1m1 0h2m5 0h1m1 0h1m10 0h1m2 0h1m11 0h1m29 0h1m8 0h2m15 0h1m3 0h1m2 0h1m7 0h1m19 0h2m7 0h1m1 0h1m12 0h1m15 0h1m1 0h1m22 0h2m30 0h1m27 0h1m4 0h1m2 0h1m9 0h1M8 40.5h1m17 0h1m10 0h2m12 0h1m25 0h1m6 0h1m1 0h2m3 0h1m26 0h2m30 0h1m6 0h1m27 0h1m9 0h2m1 0h1m6 0h1m18 0h1m4 0h1m4 0h2m9 0h1m9 0h1m21 0h1m23 0h1m3 0h1m6 0h1m9 0h1m7 0h1m8 0h1m14 0h1m7 0h1m2 0h1m6 0h1m24 0h1m2 0h1m10 0h2m1 0h1m19 0h2m3 0h1m23 0h1m25 0h1m3 0h1m25 0h1M22 41.5h1m4 0h1m30 0h1m22 0h1m1 0h1m2 0h1m22 0h1m3 0h1m3 0h1m39 0h1m10 0h1m13 0h1m19 0h1m4 0h1m8 0h1m2 0h1m8 0h1m15 0h1m2 0h1m1 0h1m1 0h1m1 0h2m1 0h1m4 0h1m22 0h1m17 0h1m16 0h1m15 0h1m4 0h1m1 0h1m18 0h1m10 0h1m34 0h1m13 0h3m1 0h1m3 0h1m34 0h1m41 0h1m9 0h1m11 0h1M9 42.5h1m16 0h1m53 0h1m9 0h1m1 0h1m9 0h1m15 0h1m6 0h1m6 0h1m25 0h1m2 0h1m1 0h1m2 0h1m6 0h1m8 0h1m5 0h1m10 0h1m7 0h1m10 0h1m1 0h1m10 0h1m12 0h1m2 0h1m17 0h1m5 0h1m1 0h1m13 0h2m34 0h1m2 0h1m34 0h1m2 0h1m3 0h1m38 0h1m13 0h1m3 0h1m4 0h2m33 0h1m1 0h1m47 0h1m17 0h1M2 43.5h1m18 0h1m27 0h2m22 0h1m23 0h1m7 0h1m58 0h1m27 0h1m3 0h2m4 0h1m4 0h1m12 0h1m1 0h1m2 0h1m9 0h1m1 0h1m2 0h1m6 0h2m1 0h1m2 0h1m4 0h1m4 0h1m2 0h1m7 0h1m18 0h1m8 0h1m6 0h1m7 0h1m4 0h1m1 0h1m1 0h1m14 0h1m7 0h1m5 0h1m8 0h1m3 0h1m35 0h1m4 0h1m7 0h1m11 0h1m28 0h1m23 0h1m9 0h1m1 0h1m27 0h1m5 0h1M2 44.5h1m3 0h1m2 0h1m1 0h1m6 0h1m13 0h1m2 0h2m1 0h1m8 0h1m11 0h1m4 0h1m4 0h2m2 0h1m2 0h1m11 0h1m21 0h1m1 0h1m5 0h1m1 0h1m30 0h1m28 0h1m16 0h1m7 0h1m13 0h1m9 0h1m15 0h1m4 0h1m2 0h1m2 0h1m5 0h3m13 0h1m4 0h1m2 0h1m13 0h1m20 0h1m2 0h1m2 0h2m19 0h1m2 0h1m4 0h1m8 0h1m35 0h1m65 0h1m57 0h1m8 0h1m2 0h1M1 45.5h1m23 0h1m21 0h1m14 0h1m1 0h1m6 0h1m9 0h1m36 0h2m28 0h1m5 0h1m14 0h1m3 0h1m1 0h1m7 0h1m2 0h1m1 0h1m6 0h1m5 0h1m14 0h1m35 0h1m3 0h1m10 0h1m8 0h1m4 0h1m7 0h4m31 0h1m1 0h1m21 0h1m2 0h2m49 0h2m2 0h1m51 0h1m6 0h2m13 0h1m23 0h1m11 0h1m6 0h1m6 0h1m8 0h1M29 46.5h1m6 0h2m1 0h1m7 0h1m3 0h1m13 0h1m22 0h1m8 0h1m3 0h1m9 0h1m5 0h1m3 0h1m25 0h1m6 0h1m8 0h1m10 0h1m13 0h1m15 0h1m2 0h1m5 0h1m13 0h1m13 0h1m2 0h1m21 0h1m3 0h1m7 0h1m4 0h1m14 0h1m11 0h1m12 0h1m2 0h1m14 0h2m7 0h1m10 0h1m2 0h1m38 0h1m6 0h1m12 0h2m7 0h1m3 0h1m7 0h1m20 0h2m13 0h1m6 0h1M69 47.5h2m6 0h1m5 0h1m1 0h1m9 0h1m4 0h1m6 0h1m25 0h1m3 0h1m13 0h1m30 0h1m17 0h1m12 0h1m9 0h1m1 0h1m1 0h1m19 0h1m18 0h1m15 0h1m4 0h1m34 0h1m1 0h1m36 0h1m9 0h1m29 0h1m21 0h1m1 0h1m1 0h1m1 0h2m14 0h1m29 0h1m10 0h2m4 0h1m26 0h1M45 48.5h1m2 0h2m5 0h1m26 0h1m11 0h2m18 0h1m28 0h1m5 0h1m1 0h1m5 0h1m9 0h1m9 0h1m3 0h3m12 0h1m5 0h1m12 0h1m7 0h2m6 0h1m11 0h1m11 0h1m2 0h1m6 0h1m16 0h2m4 0h2m27 0h2m10 0h1m5 0h2m10 0h1m7 0h1m4 0h1m2 0h1m8 0h1m18 0h1m27 0h1m10 0h1m33 0h1m6 0h1m43 0h1m1 0h1m7 0h1m1 0h1m10 0h1M2 49.5h2m23 0h2m2 0h1m5 0h1m1 0h1m13 0h1m13 0h1m4 0h1m28 0h2m29 0h1m17 0h1m1 0h2m21 0h1m42 0h1m5 0h1m1 0h2m6 0h1m1 0h1m4 0h3m12 0h1m1 0h1m1 0h1m3 0h1m4 0h1m12 0h1m16 0h1m9 0h2m12 0h1m6 0h1m5 0h1m1 0h1m11 0h1m10 0h1m8 0h1m2 0h1m28 0h1m61 0h2m6 0h1m9 0h1m5 0h1m2 0h1" stroke="#00aaff"/><path d="M46 0.5h1m8 0h1m44 0h2m21 0h1m102 0h1m1 0h1m34 0h2m14 0h1m8 0h1m10 0h1m8 0h1m5 0h1m7 0h1m7 0h1m8 0h1m16 0h1m17 0h1m5 0h1m11 0h1m3 0h1m3 0h1m29 0h1m2 0h2m19 0h1m5 0h1m11 0h1m3 0h1m2 0h1m1 0h1m7 0h1m3 0h1m1 0h1m25 0h1M32 1.5h1m52 0h1m1 0h2m78 0h2m25 0h1m3 0h1m28 0h1m14 0h1m1 0h1m1 0h1m18 0h1m1 0h1m9 0h1m2 0h1m16 0h1m4 0h1m3 0h1m6 0h2m5 0h1m20 0h1m14 0h1m8 0h1m2 0h1m1 0h1m1 0h1m1 0h1m9 0h1m3 0h1m9 0h1m16 0h1m1 0h1m4 0h1m5 0h1m1 0h1m1 0h1m24 0h1m36 0h1m14 0h1m3 0h2m4 0h1m2 0h1m4 0h1M17 2.5h1m5 0h1m67 0h2m11 0h1m86 0h1m6 0h1m24 0h1m3 0h1m7 0h1m6 0h1m23 0h1m12 0h1m16 0h1m3 0h2m4 0h2m6 0h1m1 0h1m25 0h1m6 0h4m18 0h1m12 0h3m9 0h1m1 0h1m4 0h1m4 0h1m3 0h1m3 0h1m1 0h1m16 0h1m5 0h1m25 0h2m3 0h2m15 0h1m9 0h1m16 0h1m20 0h2M9 3.5h1m15 0h1m1 0h1m1 0h1m16 0h1m13 0h1m48 0h1m23 0h1m10 0h1m9 0h1m34 0h1m4 0h1m3 0h1m26 0h1m3 0h1m13 0h1m13 0h1m2 0h1m11 0h1m2 0h2m1 0h2m8 0h2m14 0h1m36 0h1m7 0h1m11 0h1m1 0h2m8 0h1m2 0h1m2 0h1m2 0h1m3 0h1m39 0h1m44 0h1m4 0h1m4 0h1m6 0h1m3 0h1m12 0h1m4 0h1m2 0h1m7 0h1m15 0h1M274 4.5h1m1 0h1m21 0h1m14 0h1m41 0h1m6 0h1m23 0h1m4 0h1m32 0h1m5 0h1m2 0h3m2 0h1m6 0h2m3 0h2m12 0h1m15 0h3m7 0h1m1 0h1m8 0h1m2 0h1m1 0h2m10 0h1m2 0h1m3 0h1m1 0h2m5 0h1M0 5.5h1m11 0h1m1 0h1m45 0h1m1 0h1m3 0h1m30 0h1m10 0h1m4 0h1m14 0h1m3 0h1m8 0h1m27 0h1m10 0h1m5 0h2m3 0h1m2 0h1m1 0h1m7 0h2m18 0h1m12 0h1m12 0h1m2 0h1m2 0h1m9 0h1m8 0h1m6 0h4m3 0h1m7 0h1m4 0h1m14 0h1m7 0h2m3 0h1m16 0h2m2 0h1m13 0h1m49 0h1m9 0h1m1 0h1m3 0h2m4 0h3m5 0h3m6 0h1m24 0h1m2 0h1m11 0h1m5 0h1m2 0h1m9 0h1m1 0h1m7 0h1m8 0h1m3 0h1M24 6.5h1m5 0h1m2 0h1m43 0h1m2 0h1m2 0h2m33 0h1m22 0h1m1 0h2m9 0h1m11 0h1m7 0h1m4 0h1m4 0h2m12 0h1m5 0h2m9 0h1m14 0h1m8 0h1m6 0h1m2 0h1m12 0h1m2 0h1m17 0h1m4 0h1m12 0h1m14 0h1m1 0h1m7 0h1m4 0h1m10 0h1m7 0h1m3 0h1m19 0h1m1 0h1m3 0h1m3 0h1m1 0h1m9 0h1m6 0h1m4 0h1m4 0h2m119 0h1m1 0h1M26 7.5h1m4 0h1m9 0h1m55 0h1m28 0h1m15 0h1m2 0h1m1 0h1m11 0h1m15 0h2m1 0h1m5 0h1m9 0h1m11 0h1m8 0h1m5 0h1m3 0h1m16 0h1m1 0h1m1 0h1m11 0h1m5 0h1m5 0h1m7 0h1m2 0h2m7 0h1m3 0h1m4 0h1m13 0h1m2 0h1m25 0h1m7 0h2m14 0h1m3 0h1m10 0h1m35 0h1m7 0h1m2 0h1m3 0h3m13 0h1m7 0h1m8 0h1m8 0h1m32 0h1m9 0h1m1 0h1M17 8.5h1m27 0h1m1 0h1m12 0h1m10 0h2m3 0h1m22 0h1m42 0h1m26 0h1m2 0h2m15 0h3m8 0h1m4 0h2m2 0h1m2 0h1m6 0h1m20 0h1m4 0h1m11 0h1m12 0h1m4 0h1m8 0h1m14 0h1m1 0h1m33 0h2m7 0h1m6 0h1m4 0h1m1 0h1m7 0h1m7 0h1m6 0h2m4 0h1m30 0h1m19 0h2m52 0h2m18 0h1m3 0h2m15 0h1m5 0h1M11 9.5h1m12 0h1m55 0h1m6 0h1m11 0h2m18 0h1m11 0h1m63 0h1m3 0h1m9 0h1m1 0h1m2 0h1m10 0h1m6 0h1m11 0h1m22 0h1m13 0h2m2 0h1m6 0h1m2 0h2m24 0h1m4 0h1m3 0h1m2 0h1m27 0h3m2 0h2m6 0h1m1 0h1m4 0h1m1 0h1m18 0h1m7 0h1m9 0h2m12 0h1m9 0h1m1 0h2m20 0h1m1 0h1m2 0h1m1 0h1m41 0h1m4 0h1m2 0h1m1 0h1m5 0h1M14 10.5h1m17 0h1m28 0h1m14 0h2m6 0h2m18 0h1m4 0h1m5 0h2m24 0h1m7 0h2m14 0h2m10 0h1m11 0h1m11 0h1m18 0h1m10 0h2m5 0h1m2 0h4m9 0h1m11 0h1m9 0h1m4 0h2m1 0h3m12 0h1m1 0h2m2 0h1m4 0h2m2 0h1m39 0h1m27 0h1m1 0h1m10 0h1m8 0h1m22 0h1m12 0h1m5 0h1m1 0h1m4 0h1m15 0h2m4 0h2m5 0h1m3 0h1m1 0h2m5 0h1m6 0h1m4 0h1m10 0h1m7 0h1m1 0h1m1 0h2m3 0h1M0 11.5h1m13 0h1m11 0h2m15 0h1m2 0h1m100 0h1m6 0h1m13 0h1m2 0h1m8 0h1m3 0h1m2 0h1m26 0h2m10 0h1m16 0h2m1 0h1m9 0h1m16 0h1m3 0h2m11 0h1m20 0h1m8 0h1m11 0h1m20 0h1m1 0h1m3 0h1m5 0h1m11 0h1m4 0h1m4 0h1m4 0h2m8 0h1m2 0h1m8 0h1m5 0h1m3 0h1m5 0h1m11 0h1m8 0h1m7 0h1m3 0h1m5 0h1m5 0h1m3 0h1m1 0h1m8 0h1m4 0h1m1 0h1m10 0h1m7 0h1m2 0h1m9 0h3M18 12.5h1m26 0h1m79 0h1m5 0h1m6 0h1m7 0h1m8 0h1m27 0h1m6 0h1m2 0h1m2 0h1m1 0h1m2 0h2m12 0h1m43 0h1m4 0h1m15 0h1m23 0h1m8 0h1m1 0h1m3 0h1m15 0h1m28 0h1m9 0h1m11 0h1m13 0h1m4 0h1m2 0h1m8 0h1m4 0h1m3 0h1m28 0h1m11 0h2m10 0h2m14 0h1m5 0h1m16 0h1m3 0h2m5 0h1m9 0h1M8 13.5h1m1 0h1m17 0h1m3 0h1m6 0h1m6 0h1m18 0h1m3 0h1m13 0h1m1 0h1m10 0h1m6 0h1m1 0h2m15 0h1m7 0h1m3 0h1m13 0h1m3 0h1m2 0h1m10 0h1m4 0h1m3 0h1m40 0h1m13 0h1m39 0h1m6 0h1m2 0h1m18 0h1m11 0h1m6 0h1m3 0h1m12 0h1m6 0h1m5 0h1m15 0h1m5 0h1m1 0h1m11 0h1m11 0h1m3 0h1m1 0h1m11 0h1m4 0h1m12 0h1m1 0h1m16 0h1m19 0h1m17 0h1m5 0h1m2 0h1m5 0h1m30 0h1m3 0h1M24 14.5h1m3 0h1m31 0h1m30 0h1m1 0h1m15 0h1m19 0h1m15 0h1m22 0h1m1 0h1m13 0h1m2 0h1m1 0h1m1 0h1m4 0h1m27 0h1m3 0h1m2 0h1m4 0h1m3 0h1m32 0h1m2 0h1m20 0h1m4 0h1m2 0h1m11 0h1m3 0h1m1 0h1m31 0h1m6 0h1m13 0h1m29 0h1m11 0h1m13 0h1m2 0h1m2 0h1m10 0h1m3 0h1m3 0h2m7 0h1m5 0h1m20 0h1m19 0h1m1 0h1m8 0h1m4 0h2m7 0h1M0 15.5h1m1 0h1m2 0h1m7 0h1m9 0h1m30 0h1m24 0h2m15 0h1m8 0h1m3 0h1m5 0h1m3 0h1m9 0h1m3 0h1m12 0h1m7 0h3m4 0h1m26 0h1m21 0h1m5 0h1m6 0h1m2 0h1m4 0h1m3 0h2m6 0h2m6 0h1m6 0h1m3 0h2m11 0h1m13 0h2m7 0h1m6 0h1m14 0h1m1 0h1m1 0h1m2 0h1m10 0h1m4 0h1m9 0h1m23 0h1m1 0h1m8 0h1m3 0h3m1 0h2m15 0h1m6 0h1m17 0h1M7 16.5h1m16 0h1m2 0h1m1 0h2m4 0h1m11 0h1m95 0h1m4 0h1m11 0h2m4 0h1m6 0h1m4 0h2m3 0h1m2 0h1m3 0h1m4 0h1m13 0h1m4 0h1m34 0h1m12 0h1m2 0h1m5 0h1m1 0h1m13 0h1m9 0h1m32 0h1m4 0h1m42 0h1m4 0h2m9 0h1m3 0h3m12 0h1m26 0h1m17 0h1m5 0h1m10 0h1m1 0h1m15 0h1m2 0h2m12 0h1m6 0h1m16 0h1M0 17.5h2m1 0h1m1 0h2m3 0h1m3 0h2m2 0h1m10 0h2m17 0h1m30 0h1m22 0h1m30 0h1m8 0h1m27 0h1m4 0h1m8 0h1m12 0h2m19 0h1m1 0h1m2 0h1m2 0h1m2 0h1m3 0h1m3 0h1m14 0h1m17 0h1m4 0h1m8 0h2m12 0h1m1 0h1m2 0h1m1 0h1m65 0h1m16 0h1m3 0h1m4 0h1m20 0h1m13 0h1m13 0h1m11 0h1m5 0h2m9 0h1m10 0h1m1 0h1m2 0h1m3 0h2m8 0h1m7 0h2m4 0h1m10 0h1M2 18.5h1m1 0h1m1 0h1m8 0h1m13 0h1m13 0h1m68 0h1m27 0h1m5 0h1m2 0h2m12 0h1m2 0h1m3 0h2m7 0h1m2 0h1m5 0h1m5 0h2m2 0h1m8 0h1m3 0h3m1 0h1m3 0h1m2 0h1m1 0h1m5 0h1m2 0h1m16 0h1m6 0h1m6 0h1m2 0h1m1 0h1m11 0h2m5 0h1m22 0h1m22 0h1m2 0h1m3 0h1m12 0h1m21 0h1m7 0h1m4 0h1m11 0h1m11 0h3m3 0h2m7 0h1m3 0h1m6 0h1m19 0h1m7 0h1m9 0h1m1 0h1m3 0h1m8 0h1m4 0h1m7 0h1m4 0h1m6 0h1m3 0h1m5 0h1m10 0h2M6 19.5h1m4 0h1m3 0h1m4 0h1m7 0h1m15 0h1m10 0h1m5 0h1m3 0h1m4 0h1m25 0h1m19 0h1m8 0h1m6 0h1m10 0h1m6 0h1m14 0h1m16 0h1m5 0h1m1 0h2m8 0h1m11 0h1m1 0h1m1 0h1m3 0h1m10 0h1m12 0h2m4 0h1m7 0h1m2 0h1m2 0h1m3 0h1m36 0h1m11 0h1m7 0h1m4 0h1m2 0h2m26 0h1m7 0h1m6 0h1m28 0h1m3 0h1m12 0h1m4 0h1m7 0h1m10 0h1m5 0h1m9 0h1m4 0h1m31 0h1m12 0h1m1 0h1m21 0h1M33 20.5h1m6 0h1m7 0h1m14 0h1m21 0h2m18 0h1m7 0h1m20 0h1m11 0h1m19 0h2m7 0h1m2 0h1m2 0h2m15 0h1m3 0h1m10 0h1m1 0h1m18 0h1m15 0h1m20 0h1m21 0h1m9 0h1m14 0h1m30 0h1m7 0h1m4 0h1m6 0h1m13 0h1m5 0h1m11 0h3m5 0h1m3 0h2m2 0h1m33 0h1m4 0h1m19 0h1m2 0h1m8 0h1m1 0h1m1 0h2m14 0h1m2 0h1m3 0h1m2 0h1m2 0h1m9 0h1m6 0h1M16 21.5h1m9 0h1m6 0h1m9 0h1m1 0h1m7 0h1m10 0h1m4 0h1m16 0h1m99 0h1m7 0h1m12 0h1m9 0h1m5 0h1m4 0h1m2 0h2m28 0h1m2 0h2m24 0h1m23 0h1m11 0h1m211 0h1M0 22.5h1m34 0h1m3 0h1m26 0h1m16 0h1m16 0h1m22 0h1m14 0h1m11 0h1m4 0h1m25 0h1m12 0h1m31 0h1m26 0h1m1 0h1m9 0h2m10 0h1m4 0h1m16 0h1m23 0h1m5 0h1m31 0h1m23 0h1m12 0h1m1 0h1m2 0h2m2 0h1m2 0h1m1 0h1m12 0h1m1 0h1m7 0h2m1 0h1m31 0h1m10 0h1m6 0h1m13 0h1m8 0h1m18 0h1m1 0h1m2 0h2m1 0h1M8 23.5h2m1 0h1m7 0h1m10 0h1m1 0h1m1 0h1m6 0h1m3 0h1m11 0h1m19 0h1m2 0h1m2 0h1m14 0h1m4 0h1m18 0h1m1 0h1m5 0h1m1 0h1m1 0h1m11 0h1m10 0h1m4 0h1m1 0h2m2 0h1m18 0h1m5 0h1m3 0h1m9 0h1m2 0h1m2 0h2m3 0h1m7 0h1m5 0h2m8 0h1m1 0h1m4 0h1m12 0h1m6 0h1m2 0h2m18 0h1m8 0h1m2 0h1m10 0h1m44 0h1m6 0h2m13 0h1m13 0h1m3 0h1m5 0h1m1 0h1m6 0h1m1 0h1m19 0h1m9 0h1m1 0h1m7 0h2m22 0h1m4 0h1m6 0h3m3 0h1m3 0h1m7 0h2m1 0h1m11 0h1m2 0h1m5 0h1M37 24.5h1m70 0h1m21 0h1m11 0h1m5 0h1m14 0h1m14 0h2m7 0h1m26 0h2m10 0h1m1 0h1m6 0h2m10 0h1m11 0h1m3 0h1m6 0h1m1 0h1m1 0h1m1 0h1m32 0h1m8 0h1m8 0h2m12 0h1m7 0h1m13 0h1m2 0h1m17 0h2m9 0h1m4 0h1m2 0h2m10 0h1m6 0h1m1 0h2m1 0h1m4 0h1m4 0h1m14 0h1m8 0h2m14 0h1m2 0h1m8 0h1m1 0h1m10 0h1m1 0h1m26 0h1m2 0h3M17 25.5h1m26 0h1m64 0h1m33 0h1m14 0h2m8 0h1m16 0h1m1 0h2m5 0h1m3 0h1m3 0h1m42 0h1m23 0h2m7 0h2m2 0h1m9 0h1m1 0h1m9 0h1m6 0h1m6 0h1m4 0h1m16 0h1m3 0h4m19 0h1m2 0h1m1 0h1m5 0h4m10 0h1m14 0h2m1 0h1m4 0h1m18 0h1m6 0h1m7 0h1m8 0h1m16 0h1m12 0h1m5 0h2m9 0h1m3 0h1m26 0h1M319 26.5h1m15 0h1m4 0h2m6 0h1m3 0h1m1 0h1m5 0h2m2 0h1m2 0h2m5 0h1m13 0h1m4 0h3m2 0h3m1 0h2m2 0h1m3 0h1m1 0h1m1 0h1m7 0h1m1 0h1m3 0h1m4 0h1m2 0h3M24 27.5h1m2 0h1m2 0h1m2 0h1m3 0h1m9 0h2m5 0h1m10 0h1m4 0h1m4 0h1m4 0h1m1 0h1m13 0h1m6 0h1m10 0h1m3 0h1m4 0h1m1 0h1m16 0h1m16 0h1m12 0h1m2 0h1m3 0h1m14 0h1m9 0h1m3 0h1m7 0h1m1 0h2m3 0h2m17 0h1m15 0h1m3 0h1m5 0h1m3 0h3m17 0h1m1 0h1m1 0h1m4 0h3m1 0h2m13 0h1m15 0h1m8 0h1m4 0h1m1 0h2m1 0h1m13 0h1m19 0h1m2 0h1m2 0h1m16 0h1m16 0h2m35 0h1m5 0h1m13 0h1m6 0h1m5 0h1m7 0h1m7 0h1M9 28.5h1m2 0h1m14 0h1m4 0h1m2 0h1m5 0h1m6 0h2m10 0h1m8 0h2m15 0h1m1 0h1m7 0h1m10 0h1m15 0h1m6 0h1m16 0h1m45 0h1m7 0h1m3 0h1m3 0h1m10 0h1m14 0h1m18 0h2m10 0h1m19 0h1m16 0h1m4 0h1m16 0h1m7 0h1m7 0h1m11 0h1m4 0h1m5 0h2m8 0h1m3 0h1m3 0h1m1 0h1m18 0h2m9 0h1m2 0h2m5 0h1m5 0h1m5 0h1m21 0h1m19 0h1m6 0h1m1 0h1m6 0h1m12 0h1m9 0h1M11 29.5h2m17 0h1m2 0h1m1 0h1m5 0h1m16 0h1m9 0h1m3 0h2m6 0h1m22 0h1m15 0h1m1 0h1m1 0h1m10 0h1m11 0h1m7 0h1m7 0h1m13 0h1m1 0h2m2 0h1m10 0h1m62 0h2m12 0h1m6 0h2m8 0h1m2 0h2m8 0h1m3 0h1m18 0h1m6 0h1m3 0h1m5 0h1m17 0h1m4 0h1m4 0h2m1 0h1m18 0h1m1 0h1m17 0h1m5 0h1m8 0h1m3 0h1m28 0h1m5 0h2m9 0h1m5 0h2m9 0h1m23 0h2m5 0h1m3 0h1m3 0h1M4 30.5h1m6 0h1m2 0h1m14 0h2m1 0h1m3 0h1m47 0h1m1 0h1m8 0h1m38 0h1m8 0h1m2 0h2m5 0h1m5 0h1m3 0h1m9 0h1m11 0h1m2 0h1m6 0h4m5 0h1m6 0h1m24 0h1m15 0h1m3 0h1m1 0h1m4 0h1m11 0h1m1 0h1m8 0h1m1 0h1m1 0h1m5 0h1m3 0h1m5 0h1m14 0h1m6 0h1m12 0h1m9 0h1m3 0h1m7 0h1m5 0h1m3 0h1m13 0h1m2 0h1m3 0h1m5 0h1m1 0h1m3 0h1m2 0h1m16 0h1m1 0h1m11 0h1m7 0h5m1 0h1m31 0h1m9 0h1m3 0h1m1 0h1m1 0h1m16 0h1m2 0h3M10 31.5h1m6 0h1m13 0h1m7 0h2m1 0h1m2 0h1m13 0h1m2 0h1m8 0h1m4 0h1m9 0h1m33 0h1m18 0h1m25 0h1m4 0h1m19 0h1m3 0h3m3 0h1m5 0h1m24 0h1m14 0h2m8 0h1m1 0h1m7 0h1m4 0h1m5 0h1m14 0h1m8 0h1m9 0h1m3 0h1m10 0h1m3 0h1m30 0h1m20 0h1m10 0h1m4 0h1m6 0h1m7 0h1m12 0h1m11 0h2m11 0h1m14 0h1m8 0h1m4 0h1m33 0h1m4 0h1m5 0h3M9 32.5h1m15 0h1m2 0h1m2 0h1m9 0h1m14 0h1m13 0h1m1 0h1m3 0h1m1 0h1m13 0h1m9 0h1m1 0h1m32 0h3m36 0h1m4 0h2m11 0h2m2 0h1m4 0h1m3 0h1m1 0h1m21 0h1m3 0h1m7 0h1m26 0h1m12 0h1m2 0h1m8 0h1m7 0h1m11 0h1m12 0h1m24 0h1m11 0h1m13 0h1m13 0h2m10 0h2m14 0h1m11 0h1m7 0h1m1 0h1m1 0h1m9 0h1m4 0h1m4 0h1m1 0h1m19 0h1m1 0h1m1 0h1m23 0h1m4 0h1m1 0h1M29 33.5h1m35 0h2m9 0h1m3 0h1m8 0h1m32 0h1m1 0h1m16 0h1m18 0h1m2 0h2m7 0h1m8 0h1m4 0h1m5 0h1m13 0h3m14 0h1m11 0h1m8 0h2m1 0h1m8 0h1m14 0h2m3 0h1m1 0h1m7 0h1m12 0h1m32 0h1m20 0h2m4 0h1m5 0h1m21 0h1m15 0h1m6 0h1m10 0h2m5 0h1m4 0h1m12 0h1m5 0h1m9 0h1m7 0h2m7 0h1m1 0h1m2 0h1m6 0h1m1 0h1m5 0h1m13 0h2m20 0h1M42 34.5h1m10 0h1m10 0h3m2 0h1m10 0h1m10 0h1m3 0h1m3 0h1m26 0h1m1 0h1m1 0h4m4 0h1m1 0h1m11 0h2m6 0h1m1 0h1m15 0h1m9 0h1m12 0h1m4 0h1m4 0h1m1 0h1m1 0h1m10 0h1m2 0h1m4 0h1m21 0h1m15 0h1m20 0h1m12 0h1m3 0h1m6 0h1m1 0h1m3 0h2m3 0h1m4 0h2m1 0h1m15 0h1m3 0h1m7 0h1m3 0h1m22 0h1m10 0h1m14 0h1m12 0h1m2 0h1m6 0h1m23 0h1m7 0h1m7 0h1m3 0h1m6 0h1m19 0h1m14 0h1m7 0h3M34 35.5h2m4 0h1m8 0h1m25 0h1m1 0h1m15 0h1m17 0h2m8 0h1m10 0h1m4 0h1m8 0h1m4 0h1m2 0h1m3 0h1m1 0h1m2 0h1m2 0h1m4 0h1m11 0h1m24 0h1m36 0h1m2 0h1m7 0h1m10 0h1m38 0h1m2 0h1m13 0h1m2 0h1m6 0h1m3 0h1m9 0h1m6 0h1m3 0h1m19 0h1m5 0h1m7 0h1m1 0h1m11 0h1m3 0h1m11 0h1m33 0h1m5 0h1m1 0h1m32 0h1m2 0h1m15 0h1m9 0h1m3 0h1m3 0h1m4 0h1M3 36.5h1m21 0h1m11 0h1m35 0h1m11 0h1m10 0h1m3 0h1m9 0h1m10 0h1m2 0h2m11 0h1m1 0h1m12 0h1m1 0h2m2 0h1m9 0h1m14 0h1m9 0h1m28 0h1m2 0h1m3 0h1m2 0h1m20 0h1m3 0h1m13 0h1m15 0h1m1 0h2m26 0h1m11 0h1m4 0h1m2 0h1m10 0h1m10 0h1m12 0h1m5 0h1m1 0h1m17 0h1m1 0h1m5 0h1m20 0h1m27 0h2m1 0h1m1 0h1m22 0h1m16 0h1m2 0h2m10 0h1m19 0h1M2 37.5h1m1 0h1m7 0h1m6 0h2m3 0h1m5 0h1m11 0h1m2 0h1m2 0h1m12 0h1m3 0h1m36 0h2m1 0h1m4 0h1m10 0h1m5 0h1m20 0h1m2 0h1m6 0h1m5 0h1m20 0h1m2 0h1m3 0h1m5 0h1m1 0h1m6 0h1m7 0h1m2 0h2m10 0h1m1 0h1m3 0h1m3 0h2m16 0h1m13 0h1m5 0h1m16 0h1m1 0h1m4 0h1m20 0h2m4 0h1m5 0h2m11 0h1m14 0h1m9 0h1m26 0h1m3 0h1m3 0h1m22 0h1m1 0h2m4 0h1m26 0h1m1 0h1m1 0h1m1 0h1m8 0h1m14 0h1m18 0h1m4 0h2m1 0h1m11 0h1M1 38.5h1m1 0h1m36 0h1m2 0h1m3 0h1m13 0h1m5 0h3m10 0h2m1 0h1m6 0h2m1 0h1m24 0h1m31 0h1m1 0h1m4 0h1m20 0h1m1 0h1m10 0h1m3 0h1m30 0h1m1 0h1m35 0h1m12 0h1m15 0h1m29 0h1m5 0h1m2 0h1m5 0h1m1 0h1m9 0h1m13 0h1m5 0h2m30 0h1m8 0h1m2 0h1m5 0h1m44 0h1m20 0h1m35 0h1m4 0h1m2 0h1m2 0h1m3 0h1M0 39.5h1m2 0h1m10 0h2m26 0h3m2 0h1m15 0h1m14 0h1m3 0h2m1 0h1m5 0h1m5 0h3m24 0h1m22 0h2m1 0h1m1 0h2m26 0h1m9 0h1m10 0h1m8 0h1m41 0h1m5 0h1m28 0h1m4 0h2m4 0h1m5 0h1m14 0h1m4 0h1m7 0h1m15 0h1m6 0h1m48 0h1m6 0h1m5 0h1m46 0h1m7 0h1m9 0h1m3 0h1m5 0h1m35 0h1m8 0h1M9 40.5h1m5 0h1m5 0h1m14 0h1m24 0h1m16 0h1m2 0h1m19 0h1m15 0h1m11 0h1m6 0h1m15 0h1m3 0h1m1 0h1m9 0h1m14 0h2m3 0h1m1 0h1m6 0h1m5 0h1m2 0h1m1 0h1m10 0h2m7 0h1m1 0h1m21 0h1m8 0h1m1 0h2m28 0h1m12 0h1m2 0h2m10 0h1m16 0h1m29 0h1m48 0h1m64 0h1m49 0h2m4 0h1M1 41.5h1m1 0h1m83 0h1m19 0h1m27 0h1m5 0h2m3 0h2m15 0h1m1 0h1m3 0h1m3 0h1m20 0h1m9 0h1m12 0h1m2 0h1m5 0h1m2 0h1m6 0h1m15 0h1m19 0h1m19 0h1m2 0h2m6 0h1m1 0h1m15 0h1m2 0h1m4 0h1m3 0h1m17 0h1m5 0h2m3 0h2m1 0h1m4 0h1m136 0h1m14 0h1m12 0h1M1 42.5h1m3 0h1m2 0h1m3 0h1m1 0h1m1 0h1m3 0h1m2 0h1m17 0h1m1 0h1m20 0h1m13 0h1m9 0h1m28 0h1m9 0h1m11 0h1m6 0h1m29 0h2m5 0h1m5 0h1m4 0h1m34 0h2m17 0h1m4 0h2m7 0h2m34 0h1m2 0h1m4 0h1m2 0h1m12 0h1m13 0h1m63 0h1m10 0h1m1 0h1m15 0h1m36 0h1m25 0h1m1 0h1m11 0h1m22 0h1m6 0h2M5 43.5h1m16 0h1m16 0h1m3 0h1m2 0h1m14 0h1m17 0h1m1 0h1m6 0h1m11 0h2m64 0h1m32 0h1m1 0h1m9 0h2m3 0h1m7 0h1m3 0h1m16 0h1m6 0h1m6 0h1m27 0h1m1 0h1m4 0h1m36 0h1m3 0h1m4 0h1m18 0h1m40 0h1m1 0h1m4 0h1m15 0h1m22 0h1m18 0h1m1 0h1m69 0h1M3 44.5h1m1 0h1m14 0h1m25 0h1m4 0h1m4 0h2m2 0h1m2 0h1m7 0h1m8 0h2m9 0h1m7 0h1m11 0h1m5 0h1m10 0h1m8 0h1m16 0h1m18 0h2m2 0h1m5 0h1m5 0h1m37 0h1m6 0h1m12 0h1m48 0h1m2 0h1m1 0h1m24 0h1m8 0h1m19 0h1m55 0h3m2 0h1m2 0h1m9 0h1m34 0h1m61 0h1m2 0h1M19 45.5h1m3 0h1m2 0h1m1 0h1m16 0h1m24 0h1m8 0h2m1 0h1m9 0h1m1 0h1m16 0h1m41 0h1m1 0h1m11 0h2m15 0h1m6 0h1m37 0h1m3 0h1m1 0h1m9 0h2m24 0h2m2 0h1m7 0h1m2 0h2m5 0h1m2 0h1m8 0h1m4 0h1m21 0h1m3 0h1m2 0h1m9 0h2m9 0h1m7 0h2m39 0h2m19 0h1m2 0h1m54 0h1m18 0h1m1 0h1m7 0h1m7 0h1m7 0h1m3 0h1M3 46.5h1m20 0h1m5 0h1m12 0h1m1 0h1m4 0h1m7 0h1m37 0h1m8 0h1m6 0h2m27 0h1m15 0h1m11 0h1m2 0h1m3 0h1m2 0h1m16 0h2m5 0h1m1 0h1m18 0h1m8 0h1m8 0h1m4 0h1m29 0h1m6 0h2m15 0h1m1 0h1m3 0h1m28 0h2m1 0h1m18 0h1m1 0h1m53 0h1m15 0h1m51 0h1m9 0h1m4 0h1m9 0h1m18 0h1m1 0h1m1 0h1m3 0h2M38 47.5h1m7 0h1m2 0h1m23 0h1m7 0h1m11 0h1m2 0h1m2 0h1m29 0h1m20 0h1m26 0h1m2 0h1m10 0h1m23 0h1m1 0h1m3 0h2m1 0h1m6 0h1m13 0h1m7 0h1m1 0h1m25 0h1m11 0h1m7 0h1m1 0h1m2 0h1m2 0h1m19 0h1m1 0h1m1 0h1m7 0h1m23 0h1m38 0h1m59 0h1m29 0h1m22 0h1M9 48.5h1m2 0h1m7 0h1m16 0h1m21 0h1m2 0h1m1 0h1m35 0h1m10 0h3m13 0h1m11 0h1m24 0h1m7 0h1m22 0h1m11 0h1m5 0h1m12 0h1m1 0h1m7 0h1m10 0h2m10 0h1m6 0h1m10 0h1m21 0h1m23 0h1m2 0h1m6 0h1m23 0h1m44 0h1m8 0h1m3 0h1m51 0h1m20 0h1m4 0h1m22 0h1m11 0h1m3 0h2M5 49.5h1m17 0h1m14 0h1m2 0h1m5 0h2m1 0h2m9 0h1m1 0h1m9 0h1m3 0h1m9 0h2m2 0h1m13 0h1m12 0h1m1 0h1m12 0h1m4 0h1m2 0h1m13 0h1m8 0h1m13 0h1m9 0h1m17 0h1m4 0h1m4 0h1m6 0h1m11 0h1m9 0h1m11 0h1m8 0h1m4 0h1m5 0h1m10 0h1m12 0h1m20 0h1m12 0h1m24 0h1m39 0h1m10 0h2m5 0h1m39 0h1m56 0h1m3 0h1" stroke="#00ffff"/><path d="M178 0.5h1m50 0h1m46 0h1m1 0h1m2 0h1m20 0h1m6 0h1m1 0h1m5 0h3m6 0h1m2 0h1m10 0h1m20 0h4m12 0h1m4 0h1m19 0h1m4 0h1m28 0h1m31 0h1m4 0h1m1 0h1m6 0h1m1 0h1m5 0h3m5 0h1m3 0h1m4 0h2m17 0h2M131 1.5h1m15 0h1m87 0h1m7 0h1m1 0h1m16 0h1m9 0h1m1 0h2m2 0h2m5 0h2m45 0h2m6 0h1m7 0h1m2 0h1m10 0h1m1 0h1m6 0h1m31 0h4m18 0h1m10 0h1m31 0h1m6 0h2m1 0h1m2 0h1m2 0h1m3 0h1m1 0h1m17 0h1m7 0h1m7 0h1M105 2.5h1m119 0h1m43 0h1m1 0h1m1 0h1m4 0h1m13 0h1m1 0h2m25 0h1m9 0h1m4 0h1m6 0h1m3 0h2m6 0h1m3 0h1m5 0h1m3 0h1m6 0h1m6 0h1m8 0h2m12 0h2m16 0h1m8 0h1m8 0h1m11 0h1m8 0h1m6 0h1m15 0h1m24 0h2m1 0h1m2 0h1m8 0h1M187 3.5h1m27 0h1m12 0h1m42 0h1m12 0h1m13 0h1m1 0h1m6 0h1m5 0h1m4 0h2m1 0h1m1 0h1m4 0h1m18 0h1m2 0h1m2 0h1m8 0h1m3 0h1m5 0h1m12 0h1m16 0h1m13 0h1m1 0h2m8 0h1m30 0h1m17 0h1m4 0h1m4 0h1m9 0h1m5 0h1m2 0h1m17 0h1M228 4.5h1m43 0h2m20 0h1m2 0h1m1 0h1m30 0h1m30 0h1m5 0h1m15 0h1m5 0h1m20 0h1m9 0h1m19 0h1m2 0h1m9 0h1m6 0h1m23 0h1m27 0h1M1 5.5h1m3 0h1m7 0h1m2 0h1m64 0h1m28 0h1m8 0h1m2 0h2m19 0h2m21 0h1m16 0h1m6 0h1m11 0h1m4 0h1m20 0h1m7 0h1m1 0h2m4 0h1m13 0h1m18 0h1m13 0h1m1 0h1m7 0h1m9 0h1m38 0h1m9 0h1m3 0h1m6 0h1m36 0h1m13 0h1m13 0h1m18 0h1m15 0h1m14 0h1m1 0h1m6 0h1m9 0h1m3 0h1m6 0h1m1 0h1m15 0h1m2 0h2M27 6.5h1m1 0h1m16 0h2m37 0h1m25 0h1m4 0h1m5 0h1m7 0h1m39 0h1m4 0h1m2 0h1m1 0h1m1 0h1m8 0h1m15 0h1m2 0h1m24 0h1m2 0h1m3 0h1m1 0h1m16 0h1m4 0h2m2 0h1m13 0h1m4 0h2m3 0h1m3 0h1m3 0h1m2 0h2m10 0h1m1 0h3m5 0h1m16 0h1m20 0h1m2 0h1m28 0h1m1 0h1m135 0h1M28 7.5h1m3 0h1m10 0h5m9 0h1m1 0h1m16 0h1m5 0h2m1 0h1m1 0h1m17 0h1m12 0h1m1 0h2m2 0h2m4 0h1m10 0h1m1 0h2m35 0h1m11 0h1m11 0h1m6 0h1m15 0h2m1 0h1m3 0h1m39 0h1m5 0h1m5 0h1m1 0h1m4 0h1m17 0h1m6 0h1m1 0h1m7 0h1m2 0h1m20 0h1m7 0h2m3 0h1m3 0h1m2 0h1m1 0h1m7 0h1m11 0h1m14 0h1m1 0h1m9 0h1m1 0h1m3 0h1m35 0h2m10 0h1m22 0h1m15 0h1m1 0h1m6 0h1m2 0h2m2 0h2m7 0h1M44 8.5h1m6 0h1m9 0h1m18 0h2m5 0h1m13 0h1m4 0h1m5 0h1m1 0h1m1 0h1m11 0h1m11 0h2m5 0h1m13 0h1m14 0h1m5 0h1m13 0h1m24 0h1m26 0h1m5 0h1m3 0h1m5 0h1m3 0h1m2 0h1m5 0h1m1 0h1m1 0h2m13 0h2m39 0h1m5 0h1m3 0h1m1 0h2m12 0h1m13 0h1m7 0h1m2 0h1m11 0h2m6 0h1m20 0h2m15 0h1m7 0h1m2 0h1m3 0h1m10 0h1m6 0h1m10 0h1m9 0h1m8 0h2M20 9.5h1m8 0h1m14 0h1m5 0h1m27 0h1m7 0h1m45 0h2m10 0h2m21 0h1m20 0h1m1 0h1m5 0h1m24 0h1m1 0h1m13 0h1m3 0h2m5 0h1m39 0h1m11 0h3m9 0h2m2 0h1m8 0h1m27 0h1m5 0h1m12 0h1m4 0h1m26 0h1m6 0h1m10 0h1m14 0h1m21 0h1m4 0h1m6 0h2m3 0h1m5 0h1m20 0h1m7 0h1m25 0h1M29 10.5h1m27 0h1m29 0h1m12 0h1m31 0h1m9 0h2m1 0h1m22 0h1m21 0h2m22 0h1m24 0h1m30 0h1m19 0h1m3 0h1m1 0h1m3 0h1m5 0h1m16 0h1m8 0h1m1 0h1m8 0h1m5 0h1m5 0h1m7 0h2m8 0h1m13 0h2m3 0h1m4 0h1m8 0h1m14 0h1m2 0h1m9 0h2m5 0h2m23 0h1m11 0h1m26 0h2m6 0h1m2 0h2m2 0h1M87 11.5h2m59 0h1m33 0h1m13 0h1m4 0h1m3 0h1m21 0h1m13 0h1m8 0h1m40 0h1m2 0h1m10 0h3m2 0h1m19 0h1m16 0h1m1 0h1m41 0h1m12 0h1m23 0h1m3 0h1m3 0h1m23 0h1m6 0h1m25 0h1m2 0h1m14 0h1m2 0h1m6 0h1M0 12.5h1m13 0h1m10 0h2m2 0h1m28 0h1m13 0h1m5 0h1m8 0h1m18 0h1m8 0h1m18 0h1m21 0h1m14 0h1m6 0h1m10 0h1m13 0h1m5 0h1m4 0h1m3 0h1m18 0h1m3 0h2m2 0h2m10 0h1m11 0h1m4 0h1m24 0h1m6 0h1m3 0h1m3 0h1m2 0h1m10 0h1m2 0h2m6 0h1m3 0h1m34 0h1m4 0h1m19 0h1m11 0h1m4 0h2m3 0h1m1 0h1m8 0h1m59 0h1m6 0h1m1 0h1m4 0h1m1 0h1m11 0h1m5 0h1m5 0h2M43 13.5h1m9 0h1m4 0h1m21 0h1m52 0h1m7 0h1m8 0h1m22 0h1m4 0h1m12 0h1m3 0h1m14 0h2m3 0h1m25 0h1m11 0h1m9 0h1m1 0h1m2 0h1m6 0h1m16 0h1m2 0h2m3 0h2m2 0h1m2 0h1m30 0h1m7 0h1m3 0h1m8 0h1m16 0h1m6 0h1m8 0h1m2 0h1m8 0h1m21 0h2m7 0h1m8 0h1m10 0h1m5 0h1m4 0h1m1 0h1m11 0h1m10 0h1m8 0h1m5 0h2m3 0h2m8 0h1m10 0h1M105 14.5h1m18 0h1m3 0h1m56 0h1m12 0h1m3 0h1m1 0h1m22 0h1m1 0h2m14 0h1m15 0h1m1 0h1m1 0h1m14 0h1m4 0h1m1 0h2m11 0h1m6 0h1m10 0h1m8 0h1m6 0h2m9 0h1m2 0h1m12 0h1m7 0h1m9 0h1m23 0h1m1 0h1m20 0h1m3 0h1m11 0h1m9 0h1m3 0h1m3 0h2m3 0h1m2 0h1m35 0h1m3 0h1m8 0h1m7 0h1m11 0h1M3 15.5h1m5 0h1m1 0h1m9 0h2m9 0h1m13 0h1m12 0h1m2 0h1m6 0h1m2 0h1m8 0h1m11 0h1m32 0h1m22 0h1m7 0h1m5 0h1m9 0h1m6 0h1m20 0h1m10 0h1m1 0h2m18 0h1m4 0h1m2 0h1m5 0h1m1 0h1m6 0h1m18 0h1m4 0h1m4 0h1m8 0h1m6 0h1m1 0h1m7 0h1m5 0h1m6 0h2m1 0h2m1 0h1m8 0h1m1 0h1m2 0h1m1 0h1m8 0h1m4 0h1m10 0h1m2 0h1m8 0h1m5 0h1m25 0h1m14 0h1m3 0h2M1 16.5h1m3 0h1m4 0h1m14 0h2m1 0h1m17 0h1m100 0h1m19 0h1m2 0h2m3 0h1m28 0h1m2 0h1m19 0h1m44 0h1m47 0h1m7 0h1m2 0h1m2 0h1m9 0h1m4 0h1m4 0h1m12 0h1m22 0h1m4 0h1m1 0h1m4 0h1m18 0h1m1 0h1m1 0h1m9 0h1m3 0h1m26 0h1m1 0h1m18 0h1m1 0h1m19 0h1m18 0h1m8 0h1M17 17.5h1m28 0h1m121 0h1m22 0h1m13 0h1m36 0h1m7 0h1m13 0h1m3 0h1m9 0h1m8 0h3m6 0h1m2 0h1m7 0h2m1 0h1m3 0h1m2 0h1m1 0h2m7 0h1m6 0h1m19 0h2m3 0h2m5 0h1m11 0h1m7 0h1m12 0h1m3 0h1m1 0h1m5 0h1m1 0h1m1 0h1m2 0h1m19 0h1m20 0h1m18 0h1m4 0h2m8 0h1m3 0h1m21 0h3m3 0h1M3 18.5h1m5 0h1m10 0h1m9 0h1m15 0h1m28 0h1m78 0h2m52 0h1m12 0h1m4 0h1m5 0h1m6 0h1m21 0h1m39 0h1m3 0h1m1 0h1m9 0h2m3 0h1m3 0h1m1 0h1m1 0h1m46 0h1m17 0h1m12 0h1m17 0h1m7 0h2m12 0h1m11 0h1m1 0h1m6 0h1m5 0h1m5 0h1m8 0h1m7 0h1m12 0h1m4 0h1m1 0h1m15 0h1M7 19.5h1m11 0h1m3 0h1m16 0h1m5 0h1m11 0h1m12 0h1m4 0h3m19 0h1m6 0h1m14 0h1m10 0h1m8 0h1m4 0h1m5 0h1m9 0h1m1 0h1m12 0h1m6 0h1m9 0h1m14 0h2m11 0h1m12 0h1m2 0h1m9 0h1m5 0h1m3 0h1m8 0h1m2 0h1m3 0h1m1 0h1m6 0h1m1 0h1m1 0h1m1 0h1m17 0h3m4 0h1m4 0h1m8 0h1m7 0h1m15 0h2m13 0h1m3 0h2m16 0h1m17 0h2m13 0h1m8 0h1m6 0h1m7 0h1m11 0h1m1 0h1m3 0h1m16 0h1m10 0h2m8 0h2m3 0h1m1 0h1m11 0h1m14 0h1m2 0h1M7 20.5h1m15 0h1m7 0h1m11 0h2m20 0h2m12 0h1m11 0h1m17 0h1m19 0h2m2 0h1m31 0h1m24 0h1m6 0h1m10 0h1m16 0h1m1 0h1m7 0h1m27 0h1m8 0h1m2 0h1m12 0h1m42 0h1m11 0h1m6 0h1m3 0h1m4 0h1m3 0h1m29 0h1m1 0h2m7 0h1m13 0h1m1 0h1m4 0h1m7 0h1m4 0h1m18 0h2m13 0h1m11 0h1m1 0h1m2 0h1m7 0h1m3 0h1m10 0h1m3 0h1m8 0h1m7 0h1M6 21.5h1m11 0h1m57 0h1m6 0h1m103 0h1m16 0h3m1 0h1m12 0h1m4 0h1m2 0h1m14 0h1m1 0h1m3 0h1m5 0h1m5 0h1m25 0h1m2 0h1m1 0h1m6 0h1m5 0h1m4 0h3m6 0h1m1 0h1M8 22.5h1m31 0h1m13 0h1m1 0h1m23 0h1m34 0h1m3 0h1m10 0h1m23 0h1m14 0h1m19 0h1m8 0h1m31 0h1m38 0h1m6 0h1m16 0h1m2 0h1m8 0h1m8 0h1m10 0h1m1 0h2m15 0h1m6 0h2m9 0h1m10 0h1m9 0h2m6 0h1m32 0h1m5 0h1m9 0h1m12 0h1m1 0h2m1 0h2m11 0h1m8 0h1m5 0h1m21 0h1m10 0h1m13 0h1m3 0h1M25 23.5h1m2 0h1m63 0h2m6 0h1m10 0h1m15 0h1m38 0h1m10 0h1m2 0h1m22 0h1m2 0h1m2 0h1m13 0h1m10 0h1m11 0h1m1 0h1m4 0h1m4 0h1m1 0h1m5 0h1m3 0h1m6 0h1m1 0h1m1 0h1m2 0h1m9 0h1m18 0h1m29 0h1m22 0h1m16 0h1m5 0h1m8 0h1m8 0h1m17 0h1m6 0h1m3 0h1m2 0h1m11 0h1m12 0h1m5 0h1m1 0h1m7 0h1m4 0h1m2 0h1m7 0h1m30 0h1m3 0h1M0 24.5h1m130 0h2m8 0h1m2 0h1m8 0h1m10 0h1m17 0h2m37 0h1m3 0h1m18 0h1m1 0h1m21 0h1m23 0h1m9 0h1m5 0h1m14 0h1m2 0h1m8 0h1m2 0h1m28 0h1m24 0h2m22 0h1m13 0h1m9 0h1m18 0h1m23 0h1m14 0h1m6 0h1m2 0h1m18 0h1M62 25.5h1m56 0h1m28 0h2m3 0h1m2 0h1m22 0h1m9 0h1m3 0h1m2 0h1m4 0h1m1 0h1m10 0h1m1 0h1m4 0h1m9 0h1m3 0h2m26 0h1m3 0h1m9 0h1m20 0h1m23 0h1m16 0h1m1 0h1m6 0h1m5 0h1m6 0h1m2 0h1m22 0h1m7 0h1m3 0h1m1 0h1m14 0h1m1 0h2m16 0h1m6 0h1m1 0h1m9 0h1m8 0h1m14 0h1m3 0h1m5 0h1m3 0h1m3 0h1m3 0h1m23 0h1M220 26.5h1m12 0h1m48 0h1m6 0h1m6 0h2m4 0h3m9 0h1m17 0h1m1 0h1m2 0h1m6 0h1m8 0h1m2 0h1m5 0h1m9 0h1m4 0h1m3 0h1m3 0h1m1 0h1m13 0h1m3 0h1m7 0h1m2 0h3m1 0h1m5 0h1m5 0h1m103 0h1m1 0h1M5 27.5h1m28 0h3m1 0h1m58 0h1m54 0h1m4 0h1m5 0h1m10 0h1m7 0h1m7 0h1m4 0h1m2 0h1m3 0h1m9 0h1m12 0h1m12 0h1m2 0h1m18 0h1m4 0h1m1 0h1m9 0h2m7 0h1m4 0h1m5 0h1m11 0h2m14 0h1m4 0h1m4 0h1m2 0h2m9 0h1m13 0h1m8 0h1m38 0h1m1 0h1m8 0h1m9 0h1m49 0h1m15 0h1m4 0h1m4 0h1m17 0h1m5 0h2m4 0h1M5 28.5h1m28 0h1m22 0h1m29 0h1m12 0h1m32 0h1m25 0h2m29 0h1m5 0h1m11 0h1m2 0h1m9 0h1m7 0h1m19 0h1m2 0h1m9 0h1m30 0h1m8 0h1m19 0h1m1 0h1m2 0h1m3 0h1m34 0h1m10 0h1m13 0h1m7 0h1m1 0h2m4 0h1m13 0h1m12 0h2m55 0h1m6 0h1m3 0h1m7 0h1m2 0h2m11 0h1m3 0h1m2 0h1M6 29.5h1m3 0h1m2 0h1m55 0h1m5 0h1m64 0h1m3 0h1m11 0h1m3 0h1m30 0h2m29 0h1m8 0h1m34 0h1m19 0h1m8 0h1m3 0h1m6 0h1m22 0h1m2 0h1m10 0h1m9 0h1m6 0h1m30 0h1m12 0h1m9 0h1m2 0h1m13 0h1m4 0h1m1 0h1m41 0h1m2 0h1m10 0h1m7 0h1m4 0h1m1 0h1m5 0h1m21 0h1M15 30.5h1m3 0h2m66 0h3m2 0h1m1 0h1m5 0h1m10 0h1m12 0h1m5 0h2m6 0h1m12 0h2m26 0h1m4 0h1m15 0h1m4 0h3m6 0h1m7 0h1m1 0h1m5 0h1m4 0h1m17 0h1m11 0h2m3 0h1m14 0h1m15 0h2m1 0h1m3 0h1m11 0h1m1 0h1m25 0h1m17 0h1m10 0h1m2 0h1m11 0h1m12 0h1m1 0h1m23 0h1m3 0h1m7 0h1m9 0h1m14 0h1m21 0h1m22 0h1m1 0h1m1 0h1m1 0h2m1 0h1m14 0h1M12 31.5h1m16 0h1m2 0h1m33 0h1m5 0h1m2 0h1m15 0h1m21 0h1m20 0h1m1 0h1m34 0h1m2 0h1m57 0h1m3 0h1m3 0h1m16 0h1m15 0h1m8 0h1m10 0h1m2 0h1m2 0h2m4 0h1m7 0h1m3 0h1m2 0h1m7 0h1m5 0h1m11 0h2m1 0h1m16 0h1m16 0h1m18 0h1m9 0h1m5 0h2m5 0h1m10 0h2m2 0h1m3 0h1m20 0h1m25 0h1m2 0h1m8 0h1m16 0h1M7 32.5h2m11 0h1m9 0h1m1 0h2m9 0h1m16 0h1m24 0h1m38 0h1m34 0h1m23 0h1m4 0h1m1 0h1m24 0h2m2 0h2m3 0h1m8 0h1m12 0h2m7 0h1m4 0h1m1 0h1m2 0h1m5 0h1m6 0h1m23 0h1m1 0h1m19 0h1m5 0h1m2 0h2m3 0h1m15 0h2m4 0h1m40 0h1m2 0h1m3 0h2m20 0h1m13 0h1m1 0h1m4 0h1m12 0h1m1 0h1m3 0h1m2 0h1m3 0h3m6 0h1m6 0h1m3 0h1m2 0h1m3 0h1m1 0h2m4 0h1m16 0h1m5 0h2m2 0h1M86 33.5h1m1 0h1m5 0h1m14 0h1m4 0h1m4 0h1m24 0h1m4 0h1m6 0h1m4 0h1m3 0h1m8 0h1m18 0h1m20 0h1m4 0h1m11 0h3m14 0h1m14 0h1m13 0h1m17 0h2m1 0h1m2 0h2m35 0h1m25 0h1m5 0h1m6 0h1m34 0h1m13 0h1m2 0h3m5 0h1m21 0h1m3 0h1m18 0h2m8 0h1m14 0h1m2 0h1m19 0h1M58 34.5h1m9 0h1m1 0h1m6 0h1m12 0h1m6 0h1m4 0h1m1 0h3m5 0h1m41 0h1m1 0h1m6 0h1m33 0h1m1 0h1m7 0h1m9 0h1m9 0h1m17 0h1m53 0h2m4 0h1m44 0h1m4 0h1m9 0h1m3 0h3m11 0h1m15 0h1m5 0h1m12 0h1m13 0h1m2 0h1m15 0h1m26 0h1m24 0h1m15 0h1m2 0h1m1 0h1m4 0h2M36 35.5h1m63 0h1m3 0h1m12 0h1m4 0h1m38 0h1m12 0h1m1 0h1m16 0h3m3 0h1m1 0h1m1 0h1m18 0h1m2 0h1m8 0h1m31 0h1m1 0h1m18 0h1m9 0h1m3 0h2m7 0h1m10 0h1m5 0h2m3 0h1m7 0h1m2 0h1m15 0h1m10 0h1m8 0h1m22 0h1m23 0h1m31 0h1m2 0h1m42 0h1m5 0h1m26 0h2M2 36.5h1m1 0h1m4 0h1m11 0h1m2 0h1m5 0h1m4 0h1m11 0h2m1 0h1m2 0h1m28 0h1m7 0h1m7 0h1m28 0h3m1 0h1m6 0h1m39 0h1m5 0h2m10 0h1m21 0h1m4 0h1m19 0h1m33 0h1m8 0h1m12 0h1m22 0h1m12 0h1m4 0h1m6 0h1m1 0h2m6 0h1m19 0h1m25 0h1m25 0h1m14 0h1m26 0h2m5 0h2m12 0h1m13 0h2m10 0h1m4 0h1m1 0h1m11 0h1M14 37.5h2m22 0h1m5 0h1m17 0h1m34 0h1m16 0h1m14 0h1m10 0h1m4 0h1m9 0h1m9 0h1m20 0h1m4 0h1m2 0h2m28 0h1m13 0h1m5 0h1m3 0h1m7 0h1m6 0h1m30 0h1m1 0h1m1 0h1m1 0h1m16 0h1m13 0h1m30 0h1m1 0h1m6 0h1m2 0h1m15 0h1m1 0h1m13 0h2m37 0h1m45 0h1m12 0h1m8 0h1M50 38.5h1m7 0h2m2 0h1m2 0h1m12 0h2m26 0h1m22 0h1m31 0h1m10 0h1m10 0h1m2 0h1m9 0h1m26 0h1m3 0h1m7 0h1m5 0h1m36 0h1m2 0h1m4 0h1m2 0h1m2 0h1m3 0h1m2 0h1m2 0h1m7 0h1m16 0h1m11 0h1m1 0h1m9 0h1m16 0h1m34 0h1m2 0h1m5 0h1m3 0h2m46 0h1m17 0h1m51 0h2M1 39.5h2m9 0h1m11 0h1m11 0h1m3 0h1m4 0h1m2 0h1m8 0h1m3 0h1m8 0h1m9 0h1m8 0h2m2 0h1m27 0h1m11 0h1m12 0h1m8 0h1m33 0h1m3 0h1m12 0h1m2 0h1m11 0h1m5 0h1m6 0h1m9 0h1m17 0h1m13 0h1m23 0h1m25 0h1m2 0h1m5 0h1m14 0h1m9 0h1m98 0h1m2 0h1m67 0h1m3 0h1M11 40.5h2m9 0h2m4 0h1m14 0h2m4 0h1m14 0h1m17 0h1m5 0h1m10 0h1m7 0h1m43 0h1m1 0h1m7 0h1m3 0h1m16 0h1m8 0h3m53 0h1m48 0h1m3 0h1m54 0h1m11 0h1M4 41.5h2m36 0h1m1 0h1m2 0h1m5 0h1m26 0h1m7 0h1m38 0h1m20 0h1m5 0h1m28 0h1m9 0h1m19 0h1m9 0h1m24 0h1m6 0h1m2 0h1m14 0h1m12 0h1m7 0h1m9 0h1m2 0h1m18 0h2m10 0h1m63 0h1m9 0h2m1 0h1m4 0h1m17 0h1m19 0h1m33 0h1m15 0h1m27 0h1M2 42.5h1m8 0h1m7 0h1m50 0h1m1 0h1m8 0h1m2 0h1m1 0h1m4 0h1m19 0h1m21 0h1m1 0h1m5 0h1m14 0h1m22 0h1m23 0h1m20 0h3m5 0h1m19 0h1m7 0h1m16 0h1m6 0h1m18 0h1m1 0h1m26 0h1m5 0h1m20 0h1m9 0h1m32 0h2m28 0h1m47 0h1m51 0h1M9 43.5h1m15 0h1m31 0h3m5 0h1m3 0h1m47 0h1m36 0h1m8 0h1m15 0h1m13 0h1m19 0h1m1 0h1m2 0h2m14 0h1m8 0h2m19 0h1m10 0h1m2 0h1m22 0h1m1 0h1m52 0h1m16 0h1m27 0h1m9 0h1m9 0h1m77 0h1m30 0h1M7 44.5h2m8 0h1m1 0h1m19 0h1m10 0h1m3 0h1m10 0h1m6 0h1m21 0h1m3 0h1m6 0h1m21 0h1m2 0h2m14 0h1m10 0h1m3 0h1m59 0h1m24 0h1m29 0h2m19 0h1m24 0h1m2 0h1m24 0h1m12 0h1m38 0h1m14 0h1m5 0h1m69 0h1M3 45.5h1m14 0h1m5 0h1m13 0h1m9 0h1m4 0h1m3 0h1m5 0h1m1 0h1m6 0h1m4 0h1m7 0h1m2 0h1m1 0h1m2 0h1m3 0h3m14 0h1m27 0h1m15 0h1m6 0h1m12 0h1m6 0h1m6 0h1m12 0h1m13 0h1m1 0h1m3 0h4m5 0h1m29 0h3m11 0h1m3 0h1m5 0h1m15 0h1m25 0h1m32 0h3m34 0h1m6 0h2m11 0h1m2 0h1m58 0h1m9 0h1m15 0h1m1 0h1m4 0h1m2 0h1M12 46.5h1m2 0h1m45 0h1m4 0h1m5 0h1m8 0h1m8 0h1m8 0h1m35 0h2m13 0h1m14 0h1m5 0h1m14 0h1m2 0h1m2 0h1m15 0h1m7 0h1m14 0h1m20 0h1m7 0h2m9 0h1m22 0h2m3 0h2m27 0h2m5 0h1m2 0h1m9 0h1m10 0h1m41 0h1m2 0h1m10 0h1m3 0h2m10 0h1m32 0h1m29 0h1m37 0h1m3 0h2M2 47.5h1m28 0h2m3 0h1m8 0h1m9 0h1m9 0h2m5 0h1m16 0h2m10 0h1m18 0h1m10 0h1m10 0h1m5 0h1m7 0h1m6 0h1m9 0h1m14 0h2m3 0h1m24 0h2m10 0h1m1 0h1m23 0h1m7 0h1m24 0h2m14 0h1m21 0h2m8 0h1m1 0h1m15 0h1m6 0h1m49 0h1m18 0h1m83 0h1m9 0h1m2 0h1M4 48.5h1m6 0h1m1 0h1m18 0h1m5 0h1m18 0h2m8 0h1m1 0h1m7 0h1m1 0h1m8 0h2m6 0h1m1 0h2m6 0h1m13 0h1m4 0h1m4 0h1m3 0h1m6 0h1m2 0h1m5 0h1m4 0h1m13 0h1m9 0h1m4 0h2m2 0h1m1 0h3m4 0h1m3 0h1m14 0h1m2 0h1m1 0h1m7 0h2m21 0h1m3 0h1m15 0h1m24 0h1m8 0h1m14 0h1m2 0h1m9 0h1m24 0h1m129 0h1m39 0h1M4 49.5h1m3 0h1m20 0h1m6 0h1m3 0h1m1 0h1m2 0h1m8 0h1m2 0h1m11 0h1m5 0h1m14 0h1m3 0h1m1 0h1m14 0h1m1 0h1m8 0h1m31 0h1m2 0h1m1 0h1m7 0h1m2 0h1m2 0h1m6 0h1m10 0h2m2 0h1m2 0h2m1 0h1m70 0h2m9 0h1m1 0h1m7 0h2m3 0h1m6 0h1m14 0h2m6 0h1m2 0h1m31 0h1m37 0h1m14 0h1m5 0h1m11 0h1m36 0h1m20 0h2m36 0h1" stroke="#55ffaa"/><path d="M154 0.5h1m72 0h1m57 0h1m6 0h1m2 0h1m4 0h1m9 0h1m16 0h2m13 0h1m11 0h1m13 0h2m2 0h2m5 0h1m5 0h1m2 0h1m12 0h1m1 0h1m15 0h2m7 0h1m8 0h1m8 0h1m18 0h1m11 0h1m9 0h1m8 0h2m1 0h1m11 0h1m7 0h1m17 0h2M23 1.5h1m4 0h1m57 0h1m15 0h1m195 0h1m9 0h1m7 0h1m5 0h1m6 0h1m5 0h1m6 0h2m11 0h1m11 0h1m7 0h1m3 0h1m2 0h1m3 0h1m14 0h1m5 0h2m7 0h1m9 0h1m6 0h2m4 0h4m2 0h1m4 0h1m9 0h1m3 0h1m6 0h1m10 0h1m24 0h1m4 0h1m8 0h1m12 0h1m2 0h1m1 0h1M103 2.5h1m122 0h1m70 0h1m30 0h1m1 0h1m30 0h2m3 0h1m1 0h1m35 0h1m4 0h1m13 0h1m3 0h1m6 0h1m3 0h2m6 0h1m24 0h1m5 0h1m3 0h1m8 0h1m14 0h2m3 0h1m8 0h2m6 0h1m6 0h2M8 3.5h1m36 0h1m84 0h1m1 0h1m57 0h1m4 0h2m17 0h1m58 0h2m2 0h1m13 0h1m7 0h1m17 0h1m4 0h1m20 0h2m9 0h1m5 0h1m9 0h1m6 0h1m5 0h1m8 0h1m3 0h1m4 0h1m2 0h2m3 0h1m17 0h1m11 0h1m8 0h1m16 0h1m12 0h1m1 0h1m12 0h2m3 0h1m1 0h1m1 0h1m12 0h1m4 0h1m4 0h1m8 0h1M328 4.5h1m15 0h1m2 0h1m2 0h1m8 0h1m16 0h2m45 0h1m3 0h1m4 0h1m6 0h1m1 0h1m10 0h1m5 0h1m6 0h2m4 0h1m17 0h1m1 0h1m3 0h1m30 0h1M2 5.5h1m1 0h1m1 0h1m107 0h1m27 0h1m5 0h1m1 0h1m13 0h1m5 0h1m14 0h1m25 0h1m17 0h1m12 0h1m45 0h1m5 0h1m9 0h1m11 0h1m10 0h1m33 0h1m7 0h1m3 0h1m3 0h1m15 0h1m7 0h1m5 0h1m5 0h1m2 0h1m18 0h1m7 0h1m5 0h1m3 0h1m10 0h1m2 0h2m5 0h1m2 0h1m2 0h1m12 0h1m7 0h1m10 0h1m1 0h1m5 0h2m3 0h1M36 6.5h1m39 0h1m27 0h1m9 0h1m6 0h1m20 0h1m5 0h1m16 0h1m10 0h1m18 0h2m4 0h1m6 0h1m2 0h3m31 0h1m27 0h1m6 0h1m19 0h1m7 0h1m1 0h1m11 0h1m5 0h1m7 0h1m2 0h1m11 0h1m7 0h1m11 0h3m5 0h1m15 0h1m9 0h1M86 7.5h1m44 0h1m22 0h1m30 0h1m15 0h1m18 0h1m17 0h1m6 0h1m2 0h1m8 0h1m5 0h1m9 0h1m10 0h1m6 0h1m15 0h1m15 0h1m3 0h1m1 0h1m17 0h1m8 0h1m14 0h1m5 0h1m8 0h1m8 0h2m13 0h1m7 0h1m5 0h1m1 0h1m9 0h1m20 0h1m2 0h1m11 0h1m4 0h1m6 0h1m1 0h4m6 0h1m8 0h1m12 0h1m1 0h1m13 0h4M5 8.5h1m16 0h3m6 0h1m1 0h1m24 0h1m10 0h1m30 0h1m1 0h1m7 0h1m12 0h2m5 0h1m14 0h1m2 0h1m10 0h1m7 0h1m10 0h1m6 0h1m21 0h2m4 0h2m9 0h1m7 0h1m4 0h2m13 0h1m9 0h1m2 0h1m14 0h1m4 0h1m5 0h1m16 0h1m12 0h1m20 0h1m16 0h1m2 0h1m9 0h1m3 0h1m28 0h2m15 0h1m1 0h1m3 0h1m5 0h1m6 0h2m6 0h1m2 0h1m3 0h1m6 0h1m2 0h2m3 0h1m8 0h1m8 0h1m4 0h1m10 0h1m1 0h2m4 0h1m4 0h1m3 0h1m3 0h1m1 0h1m2 0h1m2 0h1m1 0h1M21 9.5h1m10 0h1m35 0h1m7 0h1m2 0h1m5 0h1m23 0h2m10 0h1m1 0h1m22 0h1m42 0h1m12 0h1m7 0h1m11 0h1m3 0h1m8 0h1m9 0h1m20 0h1m11 0h2m24 0h1m47 0h1m11 0h1m3 0h1m22 0h2m4 0h1m2 0h2m3 0h2m1 0h1m4 0h1m22 0h1m11 0h1m2 0h1m3 0h1m23 0h1m11 0h1m8 0h1m3 0h1m7 0h1m3 0h1m1 0h1m11 0h2m2 0h3M26 10.5h1m1 0h1m73 0h1m108 0h1m11 0h1m1 0h1m3 0h2m4 0h1m38 0h1m18 0h1m14 0h1m4 0h1m31 0h1m1 0h1m17 0h2m14 0h1m11 0h1m11 0h1m22 0h1m10 0h1m11 0h1m19 0h1m2 0h1m8 0h1m7 0h2m10 0h1m5 0h1m9 0h1m7 0h1m1 0h1M80 11.5h1m86 0h1m1 0h2m5 0h1m12 0h1m4 0h1m23 0h1m2 0h1m6 0h2m41 0h1m9 0h1m15 0h1m2 0h1m12 0h1m9 0h1m52 0h1m9 0h1m2 0h2m16 0h2m10 0h1m17 0h1m11 0h1m14 0h1m3 0h1m2 0h2m1 0h1m1 0h1m32 0h1m18 0h1m4 0h1m1 0h1M44 12.5h1m1 0h1m26 0h1m26 0h1m43 0h1m9 0h1m12 0h4m3 0h1m1 0h1m48 0h1m13 0h1m25 0h1m10 0h2m1 0h1m12 0h1m8 0h1m9 0h2m10 0h1m3 0h1m2 0h1m5 0h1m20 0h1m10 0h1m18 0h1m11 0h1m1 0h2m13 0h1m14 0h1m2 0h1m10 0h1m5 0h1m1 0h2m2 0h1m5 0h1m2 0h1m6 0h1m1 0h1m13 0h1m3 0h1m5 0h1m6 0h1m4 0h1m8 0h1m4 0h1M13 13.5h2m94 0h1m32 0h1m2 0h1m7 0h1m15 0h1m12 0h1m45 0h1m3 0h1m33 0h1m4 0h4m9 0h1m20 0h1m38 0h1m22 0h1m6 0h1m4 0h1m11 0h1m1 0h1m43 0h1m7 0h1m4 0h1m1 0h1m6 0h1m19 0h1m7 0h1m5 0h1m2 0h2m3 0h1m7 0h1m7 0h1m4 0h1m14 0h1M48 14.5h2m39 0h1m36 0h1m16 0h1m5 0h1m73 0h1m43 0h1m1 0h1m13 0h1m6 0h1m45 0h1m15 0h1m1 0h1m11 0h3m1 0h2m11 0h1m2 0h1m2 0h1m3 0h3m4 0h2m22 0h1m16 0h1m3 0h1m25 0h1m11 0h1m7 0h1m9 0h1m16 0h1m14 0h1M4 15.5h1m5 0h1m9 0h1m42 0h3m2 0h1m20 0h1m10 0h1m5 0h2m3 0h1m6 0h1m1 0h1m3 0h1m9 0h1m9 0h1m13 0h1m1 0h1m8 0h2m1 0h1m16 0h1m4 0h1m2 0h1m1 0h1m2 0h1m14 0h3m21 0h1m31 0h1m8 0h1m11 0h1m35 0h1m10 0h1m17 0h1m8 0h2m3 0h1m21 0h1m5 0h1m1 0h1M6 16.5h1m192 0h1m8 0h1m1 0h1m2 0h1m8 0h1m9 0h1m2 0h2m19 0h2m38 0h1m3 0h1m1 0h1m1 0h2m2 0h2m11 0h1m25 0h1m2 0h1m4 0h1m5 0h1m43 0h1m18 0h1m18 0h1m4 0h1m3 0h1m3 0h1m22 0h1m2 0h1m5 0h1m6 0h1m10 0h1m6 0h1m1 0h1m3 0h2m4 0h1m1 0h1m3 0h1m7 0h1M9 17.5h1m3 0h1m135 0h1m17 0h1m20 0h1m7 0h1m30 0h1m7 0h1m5 0h1m2 0h1m8 0h1m6 0h1m8 0h1m46 0h1m12 0h1m6 0h1m40 0h1m43 0h2m18 0h1m14 0h2m1 0h1m18 0h1m18 0h1m1 0h1m3 0h2m24 0h1m7 0h1M13 18.5h1m8 0h1m3 0h1m1 0h1m15 0h1m56 0h1m46 0h1m11 0h1m15 0h1m46 0h1m13 0h1m2 0h1m22 0h1m4 0h1m4 0h1m11 0h1m9 0h1m6 0h1m24 0h1m1 0h1m2 0h1m17 0h1m7 0h1m7 0h2m3 0h1m3 0h1m21 0h2m4 0h1m38 0h1m1 0h1m2 0h1m1 0h1m3 0h1m14 0h1m45 0h1m4 0h1m5 0h2m1 0h1m3 0h2M8 19.5h2m16 0h1m2 0h1m11 0h1m3 0h1m4 0h1m6 0h1m27 0h1m5 0h1m5 0h1m28 0h1m3 0h1m10 0h1m11 0h1m12 0h1m1 0h1m8 0h1m6 0h1m2 0h1m9 0h2m39 0h1m23 0h1m8 0h1m27 0h1m10 0h1m9 0h1m2 0h1m4 0h1m8 0h1m21 0h1m30 0h1m5 0h1m1 0h4m8 0h1m12 0h2m9 0h1m3 0h2m2 0h2m12 0h1m14 0h2m4 0h1m1 0h1m2 0h1m20 0h2m5 0h1m11 0h1m7 0h3M0 20.5h1m5 0h1m48 0h1m72 0h1m14 0h1m4 0h1m20 0h2m6 0h1m6 0h1m1 0h2m4 0h1m49 0h1m17 0h1m4 0h1m19 0h1m22 0h1m13 0h1m16 0h2m23 0h1m59 0h1m9 0h1m24 0h1m18 0h1m6 0h1m8 0h3m17 0h1m13 0h1m5 0h4M1 21.5h1m7 0h1m10 0h1m23 0h1m3 0h1m6 0h1m23 0h1m12 0h1m2 0h1m52 0h1m10 0h2m2 0h1m4 0h1m1 0h1m3 0h1m5 0h3m6 0h1m2 0h1m6 0h1m30 0h1m11 0h1m14 0h1m31 0h1m13 0h3m11 0h3m211 0h4M13 22.5h1m14 0h1m28 0h1m27 0h1m36 0h1m40 0h1m2 0h1m9 0h1m1 0h1m1 0h1m4 0h1m28 0h1m14 0h1m60 0h1m7 0h1m2 0h1m28 0h1m14 0h1m2 0h2m4 0h1m21 0h1m11 0h1m3 0h1m6 0h1m1 0h2m42 0h1m6 0h1m1 0h1m28 0h1M27 23.5h1m18 0h1m15 0h1m6 0h1m37 0h1m18 0h1m22 0h1m9 0h1m3 0h1m10 0h1m1 0h1m1 0h1m6 0h2m7 0h1m1 0h1m4 0h1m22 0h1m61 0h1m9 0h1m1 0h1m10 0h1m10 0h1m2 0h1m6 0h1m16 0h2m6 0h2m2 0h1m1 0h1m26 0h1m8 0h1m5 0h1m24 0h1m11 0h2m31 0h1m10 0h1m2 0h1m1 0h1m38 0h1M133 24.5h1m9 0h1m1 0h1m4 0h1m14 0h3m16 0h1m23 0h1m32 0h1m41 0h1m10 0h1m3 0h1m17 0h1m2 0h1m1 0h2m6 0h1m13 0h1m9 0h1m6 0h1m30 0h1m15 0h1m26 0h1m8 0h2m12 0h1m7 0h1m5 0h1m14 0h2m21 0h1m9 0h1m8 0h1M4 25.5h1m121 0h1m3 0h1m13 0h1m21 0h1m2 0h2m7 0h1m36 0h1m1 0h1m5 0h2m17 0h1m18 0h1m21 0h1m7 0h1m10 0h1m7 0h1m15 0h1m3 0h1m3 0h1m14 0h1m27 0h1m4 0h2m14 0h1m1 0h1m4 0h1m3 0h1m12 0h1m16 0h1m26 0h1m4 0h2m23 0h1m1 0h2m2 0h1m27 0h1M71 26.5h1m2 0h1m12 0h3m73 0h2m14 0h1m31 0h1m24 0h1m20 0h1m1 0h1m6 0h1m3 0h1m2 0h3m2 0h1m7 0h1m1 0h1m1 0h1m9 0h1m5 0h1m1 0h3m10 0h3m1 0h1m16 0h2m21 0h1m4 0h1m4 0h1m15 0h1m12 0h1m10 0h1m14 0h1m3 0h1M2 27.5h1m5 0h1m33 0h1m23 0h1m1 0h1m62 0h1m2 0h1m13 0h1m5 0h1m36 0h1m28 0h1m8 0h1m18 0h1m15 0h1m5 0h2m4 0h1m47 0h1m2 0h1m5 0h1m33 0h1m23 0h1m32 0h1m33 0h1m6 0h1m5 0h1m33 0h2m12 0h1m8 0h1M7 28.5h2m34 0h3m26 0h1m9 0h1m8 0h1m22 0h1m12 0h2m60 0h1m4 0h1m7 0h2m6 0h1m3 0h2m6 0h2m3 0h2m38 0h1m14 0h1m11 0h4m41 0h1m27 0h1m7 0h1m16 0h1m20 0h1m6 0h1m1 0h1m2 0h1m5 0h1m1 0h1m18 0h1m6 0h1m33 0h1m9 0h1m28 0h1m4 0h1M9 29.5h1m21 0h2m41 0h1m77 0h1m2 0h1m7 0h1m21 0h1m2 0h1m17 0h1m16 0h1m6 0h1m31 0h1m11 0h1m1 0h1m21 0h1m60 0h1m2 0h1m7 0h1m8 0h1m35 0h1m16 0h1m4 0h1m62 0h1m5 0h1m29 0h1M1 30.5h1m4 0h1m1 0h1m3 0h1m5 0h1m12 0h1m10 0h1m26 0h1m4 0h2m3 0h1m11 0h1m4 0h2m4 0h1m4 0h1m4 0h1m15 0h1m3 0h1m6 0h1m4 0h2m20 0h2m8 0h1m13 0h1m21 0h1m15 0h2m2 0h1m9 0h1m4 0h1m6 0h1m17 0h1m5 0h1m10 0h1m2 0h1m10 0h1m1 0h1m1 0h1m8 0h1m9 0h1m8 0h2m17 0h1m2 0h1m6 0h1m2 0h2m3 0h1m1 0h1m1 0h1m16 0h1m1 0h1m8 0h1m11 0h1m4 0h2m1 0h1m2 0h1m5 0h1m10 0h1m20 0h1m4 0h1m2 0h1m1 0h1m3 0h1m4 0h1m2 0h1m20 0h1m1 0h1m7 0h1m13 0h1m2 0h1M9 31.5h1m4 0h1m12 0h1m15 0h1m25 0h1m3 0h1m5 0h1m10 0h1m8 0h1m12 0h1m20 0h1m1 0h1m9 0h1m18 0h1m2 0h1m47 0h1m2 0h1m20 0h1m9 0h1m4 0h1m23 0h2m3 0h1m2 0h1m7 0h1m2 0h1m8 0h1m22 0h1m6 0h1m17 0h1m12 0h3m4 0h1m16 0h2m11 0h1m22 0h1m7 0h1m9 0h1m39 0h1m6 0h1m12 0h1m9 0h1m16 0h2M5 32.5h1m18 0h1m9 0h1m33 0h1m4 0h1m8 0h1m13 0h1m25 0h2m9 0h1m16 0h1m6 0h1m3 0h2m2 0h1m12 0h1m5 0h1m20 0h2m1 0h1m5 0h1m12 0h1m6 0h1m10 0h1m8 0h1m2 0h1m5 0h1m10 0h2m8 0h1m5 0h1m6 0h1m3 0h1m8 0h1m2 0h1m6 0h1m1 0h1m13 0h1m10 0h1m9 0h1m1 0h1m8 0h1m23 0h1m10 0h1m10 0h1m19 0h1m15 0h1m12 0h1m24 0h1m3 0h1m6 0h1m10 0h1m8 0h1m7 0h1m2 0h1m6 0h1M74 33.5h1m12 0h1m4 0h1m28 0h1m8 0h1m3 0h1m16 0h1m6 0h1m19 0h1m1 0h1m7 0h1m31 0h1m8 0h1m25 0h1m5 0h1m4 0h1m14 0h1m2 0h1m15 0h1m26 0h1m7 0h1m26 0h1m6 0h1m6 0h1m27 0h1m1 0h2m27 0h1m24 0h1m54 0h2m1 0h1m12 0h1m5 0h1M54 34.5h2m6 0h1m8 0h1m7 0h1m13 0h1m17 0h1m10 0h1m2 0h1m33 0h1m16 0h1m21 0h1m29 0h1m15 0h1m1 0h1m29 0h2m9 0h1m10 0h1m3 0h1m6 0h1m15 0h1m1 0h1m1 0h1m1 0h1m8 0h2m9 0h1m9 0h1m50 0h2m6 0h1m3 0h1m16 0h1m21 0h1m1 0h1m1 0h1m57 0h1m7 0h1M6 35.5h1m24 0h3m4 0h1m2 0h1m5 0h2m13 0h1m1 0h1m11 0h1m2 0h1m19 0h1m1 0h1m22 0h1m2 0h1m3 0h1m2 0h1m1 0h1m6 0h1m36 0h1m3 0h1m5 0h1m6 0h2m3 0h1m12 0h1m3 0h1m8 0h1m23 0h1m7 0h1m2 0h1m11 0h1m8 0h1m10 0h1m2 0h1m4 0h1m15 0h1m5 0h1m12 0h2m23 0h1m36 0h1m6 0h1m36 0h1m21 0h1m13 0h1m11 0h1m14 0h1m10 0h1M0 36.5h2m26 0h1m4 0h1m5 0h1m3 0h1m32 0h1m3 0h1m5 0h1m8 0h1m1 0h1m24 0h1m3 0h1m13 0h3m18 0h1m11 0h1m5 0h1m17 0h1m18 0h1m17 0h1m2 0h1m10 0h1m7 0h1m21 0h1m23 0h1m22 0h1m1 0h2m3 0h2m7 0h1m12 0h1m7 0h2m2 0h3m30 0h1m1 0h1m80 0h1m8 0h1m19 0h1m5 0h1m6 0h1m1 0h2m5 0h1m4 0h1M3 37.5h1m7 0h1m4 0h2m22 0h1m5 0h1m22 0h2m15 0h1m24 0h2m21 0h1m6 0h1m5 0h1m12 0h1m18 0h1m9 0h2m17 0h1m12 0h1m5 0h1m5 0h2m7 0h1m9 0h1m8 0h2m8 0h1m27 0h1m25 0h1m1 0h1m6 0h1m4 0h1m17 0h1m2 0h1m15 0h1m18 0h1m7 0h1m10 0h1m6 0h1m49 0h1m23 0h1m20 0h1m5 0h1M2 38.5h1m4 0h1m20 0h1m2 0h1m9 0h1m3 0h1m42 0h1m3 0h1m2 0h1m2 0h1m12 0h1m19 0h1m3 0h1m9 0h2m7 0h1m1 0h1m7 0h1m12 0h1m23 0h1m17 0h1m9 0h1m52 0h1m8 0h1m75 0h1m6 0h1m32 0h1m11 0h1m3 0h1M5 39.5h1m4 0h2m6 0h1m2 0h2m15 0h2m19 0h2m18 0h1m8 0h1m7 0h1m3 0h2m4 0h1m20 0h1m51 0h1m14 0h1m16 0h1m8 0h1m1 0h1m3 0h1m50 0h1m3 0h1m6 0h1m1 0h1m8 0h1m2 0h2m13 0h1m2 0h1m2 0h1m9 0h1m3 0h1m11 0h1m9 0h1m3 0h1m54 0h1m2 0h1m7 0h1m33 0h1m29 0h1m38 0h2M10 40.5h1m5 0h1m12 0h1m9 0h1m13 0h1m5 0h1m7 0h1m12 0h1m8 0h2m1 0h1m1 0h2m4 0h1m3 0h1m7 0h1m42 0h1m4 0h1m8 0h1m10 0h1m8 0h1m54 0h1m54 0h1m4 0h1m51 0h1m59 0h1m1 0h2M17 41.5h1m3 0h1m3 0h2m16 0h1m7 0h1m9 0h1m16 0h1m66 0h1m5 0h2m8 0h1m24 0h1m37 0h1m8 0h1m30 0h1m16 0h1m16 0h2m1 0h1m4 0h1m18 0h1m8 0h1m1 0h2m22 0h1m42 0h1m7 0h1m4 0h1m15 0h1m6 0h1m5 0h1m40 0h1m6 0h1m25 0h1m10 0h1m6 0h2M3 42.5h1m14 0h1m3 0h1m1 0h1m3 0h3m6 0h1m9 0h2m2 0h1m15 0h1m11 0h1m5 0h1m8 0h1m6 0h1m11 0h1m20 0h1m27 0h1m70 0h1m30 0h1m1 0h1m30 0h1m64 0h1m41 0h1m7 0h1m3 0h1m113 0h1M33 43.5h2m7 0h1m5 0h1m5 0h1m5 0h1m11 0h1m20 0h1m1 0h1m2 0h1m7 0h1m4 0h1m8 0h1m16 0h1m13 0h1m3 0h1m4 0h1m12 0h1m2 0h1m11 0h1m1 0h2m34 0h1m27 0h2m11 0h1m20 0h1m8 0h1m1 0h2m5 0h1m21 0h2m20 0h1m11 0h1m11 0h1m43 0h2m12 0h1m33 0h1m62 0h1m2 0h1M15 44.5h2m23 0h1m3 0h1m22 0h1m10 0h1m10 0h1m13 0h1m2 0h1m27 0h1m4 0h1m2 0h1m10 0h1m36 0h1m2 0h1m24 0h1m33 0h1m7 0h2m13 0h1m19 0h1m7 0h1m29 0h2m1 0h2m192 0h1M2 45.5h1m9 0h1m3 0h1m3 0h1m16 0h1m4 0h1m3 0h1m14 0h1m11 0h2m9 0h1m11 0h1m9 0h1m10 0h1m46 0h1m22 0h1m2 0h1m15 0h1m6 0h1m9 0h1m29 0h1m40 0h1m26 0h1m6 0h1m5 0h2m19 0h1m3 0h1m2 0h1m41 0h1m12 0h2m3 0h1m11 0h1m51 0h1m24 0h1m26 0h1M1 46.5h2m16 0h1m26 0h1m6 0h1m17 0h1m1 0h1m17 0h1m1 0h1m10 0h1m20 0h1m1 0h1m27 0h1m5 0h2m15 0h1m5 0h2m32 0h1m1 0h1m2 0h1m14 0h1m116 0h1m46 0h1m9 0h1m4 0h1m7 0h1m60 0h1m40 0h1m1 0h1M9 47.5h1m23 0h3m3 0h1m10 0h1m7 0h1m4 0h1m15 0h1m22 0h1m10 0h1m12 0h2m2 0h1m1 0h1m14 0h1m5 0h2m2 0h1m20 0h1m11 0h1m1 0h1m13 0h1m19 0h1m2 0h1m3 0h1m12 0h1m13 0h1m33 0h1m1 0h1m1 0h2m7 0h1m13 0h1m12 0h2m67 0h1m7 0h1m1 0h1m1 0h1m3 0h1m109 0h1m4 0h1M3 48.5h1m3 0h1m11 0h1m3 0h1m6 0h1m5 0h1m4 0h1m8 0h1m15 0h1m1 0h1m3 0h2m27 0h1m2 0h1m21 0h1m1 0h2m1 0h1m6 0h1m22 0h1m6 0h1m4 0h1m2 0h1m1 0h1m33 0h1m5 0h1m25 0h1m28 0h1m19 0h1m1 0h1m4 0h1m4 0h1m52 0h1m3 0h1m53 0h1m12 0h1M10 49.5h1m8 0h1m12 0h1m2 0h1m19 0h1m20 0h1m8 0h1m14 0h1m2 0h1m2 0h1m18 0h2m13 0h1m10 0h1m11 0h1m4 0h1m3 0h1m1 0h1m4 0h1m5 0h1m34 0h1m27 0h1m12 0h1m22 0h1m21 0h1m17 0h1m12 0h1m18 0h1m2 0h1m2 0h1m41 0h1m8 0h1m1 0h1m7 0h1m109 0h1" stroke="#aaff55"/><path d="M269 0.5h1m2 0h1m21 0h1m18 0h1m30 0h1m5 0h1m16 0h1m21 0h1m16 0h1m19 0h1m11 0h1m1 0h2m11 0h1m17 0h1m8 0h1m4 0h1m15 0h1m1 0h1m1 0h1m12 0h1m1 0h1m15 0h1M263 1.5h1m26 0h2m2 0h1m22 0h2m9 0h1m1 0h1m14 0h1m1 0h1m2 0h1m15 0h1m20 0h1m4 0h1m1 0h1m14 0h2m13 0h1m10 0h1m12 0h1m4 0h2m3 0h2m27 0h1m3 0h2m5 0h1m2 0h2m1 0h1m15 0h1m15 0h1M298 2.5h1m12 0h1m42 0h1m18 0h1m3 0h1m52 0h1m6 0h1m6 0h2m5 0h2m5 0h1m7 0h1m7 0h1m7 0h1m1 0h1m15 0h1m1 0h1m1 0h1m16 0h1m1 0h1M85 3.5h1m204 0h1m1 0h1m4 0h1m10 0h1m3 0h1m32 0h1m9 0h1m12 0h1m15 0h1m6 0h1m14 0h1m8 0h1m1 0h1m12 0h1m1 0h1m3 0h3m4 0h3m7 0h1m32 0h1m12 0h1m1 0h1m16 0h1m8 0h1M308 4.5h1m36 0h2m2 0h1m3 0h1m54 0h2m9 0h1m1 0h1m22 0h1m51 0h1m5 0h1m33 0h1M8 5.5h1m2 0h1m3 0h1m39 0h1m68 0h1m29 0h1m29 0h1m40 0h1m1 0h1m7 0h1m36 0h2m25 0h2m7 0h1m10 0h1m29 0h1m4 0h1m11 0h2m2 0h1m8 0h1m5 0h3m1 0h1m16 0h1m14 0h1m2 0h1m8 0h1m6 0h1m18 0h1m1 0h1m16 0h1m4 0h1m12 0h2m8 0h1m3 0h1m24 0h1M48 6.5h1m33 0h1m36 0h1m25 0h1m1 0h1m46 0h1m19 0h1m12 0h3m7 0h1m30 0h1m16 0h1m7 0h1m5 0h1m9 0h1m19 0h1m5 0h1m9 0h1m3 0h1m3 0h1m8 0h1m28 0h1m1 0h2m6 0h1m5 0h1M7 7.5h1m124 0h1m44 0h1m12 0h1m31 0h2m25 0h1m12 0h1m22 0h1m10 0h2m6 0h1m3 0h1m34 0h1m56 0h1m6 0h1m11 0h1m19 0h1m5 0h2m2 0h1m3 0h1m22 0h1m4 0h1m3 0h1m36 0h1m1 0h1M9 8.5h1m15 0h1m6 0h1m62 0h1m7 0h1m7 0h1m3 0h1m50 0h1m1 0h1m15 0h1m25 0h2m6 0h1m6 0h1m4 0h1m3 0h1m6 0h1m2 0h1m6 0h1m1 0h1m7 0h1m1 0h1m10 0h1m1 0h1m13 0h1m2 0h1m12 0h1m23 0h1m7 0h1m1 0h1m20 0h1m32 0h1m8 0h1m3 0h1m5 0h1m9 0h1m1 0h1m1 0h1m7 0h1m8 0h1m5 0h2m12 0h1m4 0h1m16 0h2m3 0h1m3 0h1m3 0h1m6 0h1m7 0h1m4 0h1m1 0h1m3 0h1m4 0h1m4 0h1M12 9.5h1m15 0h1m17 0h1m58 0h2m96 0h2m25 0h1m8 0h1m12 0h1m24 0h1m21 0h1m11 0h1m2 0h1m12 0h1m17 0h1m23 0h2m18 0h1m4 0h1m12 0h1m6 0h2m9 0h1m4 0h1m4 0h1m20 0h1m1 0h1m1 0h1m6 0h1m10 0h1m1 0h1m3 0h1m3 0h1m1 0h1m2 0h3m9 0h1m20 0h1M24 10.5h1m55 0h1m192 0h1m15 0h1m27 0h3m2 0h1m4 0h2m30 0h1m16 0h1m19 0h1m14 0h1m45 0h1m2 0h1m4 0h1m7 0h1m3 0h1m1 0h1m1 0h1m5 0h1m16 0h1m16 0h1m12 0h1M28 11.5h1m3 0h1m22 0h1m210 0h1m9 0h1m2 0h1m4 0h2m15 0h2m15 0h1m2 0h2m21 0h1m17 0h1m22 0h1m10 0h1m4 0h1m19 0h1m3 0h1m1 0h1m16 0h1m2 0h1m2 0h1m7 0h1m7 0h1m13 0h1m20 0h1m1 0h2m15 0h1M194 12.5h1m16 0h1m10 0h1m15 0h1m1 0h1m3 0h1m3 0h1m21 0h1m15 0h1m7 0h1m1 0h3m3 0h1m13 0h1m3 0h2m32 0h2m2 0h2m2 0h2m3 0h1m8 0h1m7 0h1m5 0h1m2 0h1m2 0h1m1 0h1m19 0h1m4 0h2m12 0h1m2 0h1m5 0h1m1 0h2m2 0h1m3 0h1m2 0h1m16 0h2m3 0h1m4 0h1m1 0h1m5 0h1m12 0h1m1 0h1m9 0h1m11 0h1M21 13.5h1m109 0h1m17 0h1m4 0h1m15 0h1m74 0h1m23 0h1m27 0h2m9 0h1m36 0h1m3 0h1m10 0h2m4 0h1m6 0h1m20 0h1m6 0h1m3 0h1m33 0h1m1 0h1m1 0h1m5 0h1m8 0h1m19 0h1m2 0h1m2 0h2m2 0h1m3 0h1m6 0h1m18 0h2m11 0h1M87 14.5h1m42 0h2m1 0h1m35 0h1m16 0h1m14 0h1m70 0h1m11 0h1m41 0h1m1 0h1m61 0h1m18 0h1m9 0h1m1 0h2m11 0h1m9 0h1m3 0h1m20 0h1m10 0h1m11 0h1m10 0h1m1 0h1m8 0h1m1 0h1m3 0h1m14 0h2M12 15.5h1m37 0h1m5 0h2m8 0h1m3 0h1m3 0h1m1 0h1m6 0h1m1 0h2m3 0h2m2 0h2m1 0h2m3 0h1m9 0h1m4 0h1m4 0h2m1 0h1m1 0h1m4 0h1m2 0h2m16 0h1m14 0h1m2 0h1m2 0h1m1 0h1m1 0h1m4 0h1m2 0h2m2 0h1m4 0h1m4 0h1m5 0h1m2 0h1m1 0h1m8 0h1m9 0h1m18 0h1m21 0h2m6 0h1m12 0h1m4 0h1m3 0h1m21 0h1m15 0h1m9 0h2m16 0h1m3 0h1m2 0h1m8 0h1m24 0h1m2 0h2m17 0h1M0 16.5h1m8 0h1m134 0h1m1 0h1m29 0h1m11 0h1m22 0h1m11 0h1m10 0h1m13 0h1m9 0h1m7 0h1m28 0h1m3 0h1m6 0h1m19 0h2m20 0h1m11 0h1m4 0h2m18 0h1m3 0h1m6 0h1m13 0h1m21 0h1m1 0h1m3 0h1m5 0h1m2 0h1m23 0h1m11 0h1m1 0h1m8 0h1m21 0h1m9 0h1m9 0h1M256 17.5h1m9 0h1m5 0h1m3 0h1m16 0h1m17 0h1m30 0h1m6 0h1m3 0h1m35 0h1m1 0h1m18 0h1m32 0h1m19 0h1m13 0h1m60 0h1M0 18.5h1m7 0h1m14 0h1m7 0h1m112 0h1m14 0h1m1 0h2m5 0h1m8 0h1m6 0h1m1 0h1m15 0h2m5 0h2m3 0h1m5 0h1m4 0h1m2 0h1m33 0h1m3 0h1m9 0h1m3 0h1m12 0h1m16 0h1m8 0h2m26 0h1m1 0h1m11 0h1m30 0h2m5 0h2m4 0h2m5 0h1m8 0h2m4 0h1m13 0h1m9 0h2m1 0h1m9 0h2m6 0h1m7 0h1m1 0h1m5 0h1m12 0h1m1 0h1m27 0h1m4 0h1M3 19.5h3m25 0h1m24 0h1m35 0h1m11 0h1m8 0h1m30 0h1m9 0h1m5 0h1m8 0h2m8 0h1m31 0h1m3 0h1m16 0h1m37 0h1m14 0h1m14 0h1m11 0h1m13 0h1m12 0h3m4 0h1m2 0h1m3 0h1m3 0h2m18 0h1m62 0h2m2 0h1m4 0h1m10 0h1m3 0h1m1 0h1m3 0h1m7 0h1m4 0h2m5 0h1m2 0h1m15 0h1m6 0h1m20 0h1M4 20.5h1m30 0h1m5 0h1m4 0h1m11 0h1m28 0h1m56 0h1m18 0h1m7 0h1m4 0h1m14 0h1m17 0h1m35 0h1m18 0h1m8 0h1m4 0h1m8 0h1m10 0h1m11 0h1m34 0h1m1 0h2m4 0h1m16 0h1m11 0h1m24 0h1m4 0h1m2 0h2m2 0h1m16 0h1m4 0h1m18 0h1m3 0h1m1 0h1m4 0h1m5 0h1m3 0h2m22 0h1m13 0h1m6 0h1M0 21.5h1m4 0h1m21 0h2m5 0h1m25 0h1m2 0h1m16 0h1m12 0h1m2 0h1m3 0h1m5 0h1m7 0h1m13 0h2m14 0h1m22 0h1m3 0h1m3 0h1m3 0h1m8 0h1m1 0h1m33 0h1m13 0h1m6 0h1m17 0h1m28 0h1m15 0h1m18 0h1m202 0h1m4 0h1m1 0h1M9 22.5h1m91 0h1m16 0h1m29 0h1m19 0h1m21 0h1m5 0h1m30 0h1m8 0h1m26 0h1m8 0h1m33 0h1m2 0h1m12 0h1m32 0h1m9 0h2m20 0h1m5 0h1m1 0h2m11 0h1m11 0h2m38 0h1m16 0h1m7 0h1m1 0h1m32 0h2m6 0h1m2 0h1M24 23.5h1m1 0h1m2 0h1m14 0h1m2 0h1m7 0h2m28 0h2m14 0h1m4 0h1m26 0h1m14 0h1m1 0h1m22 0h1m15 0h2m11 0h1m5 0h1m6 0h1m13 0h1m13 0h1m1 0h1m8 0h1m8 0h1m1 0h1m24 0h1m14 0h3m13 0h1m27 0h1m13 0h1m13 0h1m26 0h2m12 0h1m8 0h1m15 0h1m4 0h1m11 0h1m10 0h1m19 0h1m24 0h1m2 0h1m12 0h1M188 24.5h3m38 0h1m18 0h1m48 0h1m19 0h1m12 0h1m3 0h1m33 0h1m48 0h1m40 0h1m1 0h1m31 0h1m27 0h1M147 25.5h1m59 0h2m16 0h1m6 0h1m27 0h1m3 0h1m7 0h1m11 0h2m10 0h1m12 0h1m9 0h1m8 0h1m8 0h1m33 0h1m4 0h1m11 0h1m32 0h1m13 0h1m16 0h1m12 0h1m14 0h1m3 0h4m39 0h1M67 26.5h1m2 0h1m8 0h1m4 0h1m34 0h1m4 0h1m14 0h2m28 0h1m2 0h1m1 0h1m11 0h1m3 0h1m5 0h1m9 0h1m8 0h1m9 0h1m8 0h1m9 0h1m3 0h1m1 0h1m2 0h1m4 0h1m8 0h1m3 0h1m4 0h2m6 0h2m1 0h1m6 0h1m3 0h1m2 0h1m5 0h1m5 0h1m2 0h1m1 0h1m1 0h1m7 0h1m18 0h1m7 0h1m40 0h1m26 0h1m5 0h1M9 27.5h2m3 0h1m2 0h1m25 0h4m59 0h1m6 0h1m8 0h1m9 0h1m22 0h1m21 0h1m50 0h1m37 0h1m2 0h1m51 0h1m1 0h1m13 0h1m16 0h1m5 0h1m4 0h1m17 0h1m17 0h1m14 0h1m3 0h1m2 0h1m28 0h1m11 0h1m23 0h1M6 28.5h1m6 0h1m26 0h1m32 0h1m58 0h1m30 0h1m12 0h1m53 0h1m15 0h1m36 0h1m21 0h3m22 0h1m65 0h1m1 0h1m17 0h1m22 0h1m4 0h1m38 0h1m8 0h1m18 0h1m4 0h1m11 0h1M7 29.5h1m52 0h1m59 0h1m22 0h1m15 0h1m29 0h1m162 0h1m1 0h1m18 0h1m37 0h1m8 0h1m14 0h1m36 0h1m35 0h1m20 0h1m5 0h1M0 30.5h1m15 0h1m43 0h1m5 0h1m9 0h1m8 0h1m15 0h1m20 0h1m17 0h2m8 0h1m10 0h2m14 0h1m13 0h1m9 0h1m21 0h1m24 0h1m32 0h2m14 0h1m20 0h1m4 0h1m3 0h1m5 0h1m15 0h1m11 0h2m2 0h1m35 0h1m12 0h1m10 0h1m3 0h1m2 0h1m23 0h2m1 0h1m3 0h2m6 0h1m17 0h1m1 0h1m1 0h2m12 0h1m15 0h1m3 0h1M13 31.5h1m46 0h1m13 0h1m13 0h1m43 0h1m18 0h1m7 0h1m1 0h1m1 0h1m13 0h1m1 0h1m6 0h2m19 0h1m15 0h1m3 0h2m1 0h1m13 0h1m3 0h1m4 0h1m31 0h1m1 0h1m15 0h1m5 0h2m12 0h1m13 0h1m17 0h1m6 0h1m59 0h1m8 0h1m1 0h1m23 0h1m1 0h1m19 0h1m1 0h1m1 0h1m2 0h1m19 0h1m21 0h1M6 32.5h1m4 0h1m32 0h1m21 0h1m2 0h1m1 0h1m21 0h2m8 0h1m7 0h1m33 0h1m5 0h1m3 0h1m23 0h1m22 0h1m39 0h1m9 0h1m8 0h1m15 0h1m2 0h1m42 0h1m15 0h1m10 0h2m4 0h1m9 0h1m2 0h1m6 0h1m14 0h1m15 0h1m3 0h3m6 0h1m1 0h1m8 0h2m24 0h1m44 0h1m2 0h1m5 0h1m2 0h1m11 0h1M75 33.5h1m9 0h1m7 0h1m8 0h1m15 0h1m10 0h1m1 0h1m41 0h1m15 0h2m30 0h1m18 0h1m21 0h1m22 0h1m36 0h1m3 0h1m1 0h2m33 0h1m4 0h1m42 0h1m4 0h1m8 0h1m8 0h1m1 0h1m2 0h1m16 0h3m2 0h1m2 0h2m14 0h1m5 0h2m23 0h1m20 0h3M59 34.5h2m6 0h1m5 0h4m17 0h1m1 0h1m4 0h1m40 0h1m12 0h1m17 0h1m5 0h2m4 0h1m10 0h1m19 0h1m1 0h1m2 0h2m24 0h2m26 0h1m9 0h1m10 0h2m6 0h1m17 0h1m84 0h1m8 0h1m8 0h1m10 0h1m33 0h2m16 0h1m4 0h1m21 0h1m12 0h1M18 35.5h1m24 0h2m1 0h1m9 0h1m3 0h1m6 0h1m1 0h1m1 0h2m1 0h1m19 0h1m7 0h2m2 0h1m6 0h1m6 0h1m4 0h2m2 0h1m26 0h1m22 0h1m5 0h5m14 0h1m11 0h1m10 0h1m34 0h1m1 0h1m17 0h2m2 0h1m44 0h1m39 0h2m1 0h1m20 0h1m17 0h1m11 0h1m13 0h1m19 0h1m12 0h1m18 0h1m1 0h1m11 0h1m3 0h1m22 0h1M23 36.5h1m5 0h1m10 0h1m14 0h1m9 0h1m15 0h1m1 0h1m3 0h3m13 0h1m7 0h1m18 0h1m1 0h1m27 0h1m1 0h1m27 0h1m30 0h1m20 0h1m21 0h1m27 0h1m3 0h1m3 0h2m3 0h2m23 0h1m5 0h1m18 0h1m4 0h1m9 0h1m34 0h1m2 0h1m113 0h1m11 0h1m4 0h1M5 37.5h1m1 0h2m4 0h1m18 0h2m25 0h1m11 0h1m1 0h1m2 0h1m12 0h1m4 0h1m11 0h1m24 0h3m9 0h1m12 0h2m102 0h1m42 0h2m25 0h1m39 0h1m4 0h1m53 0h2m1 0h1m61 0h1m10 0h1M5 38.5h1m24 0h1m2 0h1m1 0h1m13 0h1m4 0h1m22 0h1m18 0h1m6 0h1m8 0h1m10 0h1m12 0h1m2 0h1m2 0h1m33 0h1m8 0h1m3 0h1m28 0h1m3 0h1m19 0h1m1 0h1m3 0h1m7 0h1m44 0h1m1 0h1m1 0h1m19 0h1m2 0h1m1 0h1m24 0h1m9 0h1m49 0h1m5 0h1m45 0h1m61 0h1m2 0h1M8 39.5h1m22 0h2m8 0h1m23 0h1m1 0h1m3 0h1m1 0h1m2 0h1m4 0h1m29 0h2m12 0h1m33 0h1m14 0h1m9 0h1m39 0h1m20 0h1m9 0h1m4 0h1m35 0h1m30 0h2m7 0h1m75 0h2m5 0h1m5 0h1M5 40.5h1m1 0h1m5 0h2m3 0h2m11 0h1m10 0h1m12 0h1m2 0h1m3 0h2m8 0h1m29 0h1m18 0h1m3 0h1m7 0h1m8 0h1m4 0h1m15 0h1m9 0h1m5 0h1m14 0h1m28 0h1m38 0h1m63 0h1m32 0h1m55 0h1m112 0h2M2 41.5h1m9 0h1m1 0h1m4 0h1m17 0h1m35 0h1m11 0h1m3 0h3m8 0h1m5 0h1m11 0h1m6 0h1m3 0h1m3 0h2m18 0h1m2 0h1m2 0h1m16 0h1m8 0h1m5 0h1m11 0h1m14 0h1m2 0h1m9 0h2m2 0h1m26 0h2m33 0h1m2 0h1m7 0h1m23 0h1m26 0h1m173 0h2M17 42.5h1m18 0h1m3 0h1m4 0h1m4 0h1m7 0h2m11 0h1m1 0h1m3 0h1m9 0h1m1 0h1m7 0h3m3 0h1m1 0h1m22 0h1m2 0h1m4 0h1m22 0h1m18 0h1m120 0h1m63 0h1m129 0h1M6 43.5h1m4 0h1m4 0h1m1 0h1m1 0h1m9 0h1m14 0h1m18 0h1m2 0h2m8 0h1m7 0h1m10 0h1m2 0h1m3 0h1m8 0h2m19 0h1m1 0h1m17 0h1m5 0h1m1 0h1m3 0h1m55 0h1m5 0h1m28 0h1m27 0h1m1 0h1m8 0h1m2 0h1m5 0h2m66 0h1m40 0h1m79 0h1m39 0h1M31 44.5h1m1 0h1m9 0h1m35 0h1m24 0h1m27 0h2m9 0h1m14 0h1m1 0h1m1 0h2m15 0h1m152 0h1m85 0h1m113 0h1M13 45.5h1m1 0h1m1 0h1m51 0h1m21 0h1m3 0h1m4 0h1m4 0h1m6 0h1m7 0h2m6 0h2m20 0h1m1 0h1m3 0h1m36 0h1m30 0h1m23 0h1m24 0h1m23 0h1m63 0h1m57 0h1m112 0h1M17 46.5h1m2 0h1m7 0h1m19 0h1m6 0h1m3 0h1m10 0h1m14 0h1m3 0h1m5 0h1m41 0h1m6 0h1m81 0h1m5 0h1m16 0h1m15 0h1m39 0h1m56 0h1m55 0h1m2 0h1M14 47.5h1m22 0h1m10 0h1m5 0h1m6 0h1m14 0h1m17 0h1m46 0h1m16 0h1m2 0h2m16 0h1m14 0h1m66 0h1m42 0h1m25 0h1m7 0h1m18 0h1m135 0h1M5 48.5h2m7 0h1m16 0h1m11 0h1m10 0h1m1 0h1m13 0h1m31 0h1m2 0h1m18 0h1m15 0h1m15 0h1m1 0h1m1 0h1m4 0h1m14 0h1m5 0h1m2 0h1m32 0h1m71 0h1m9 0h1m15 0h1m1 0h1m4 0h1m4 0h1m23 0h1m46 0h1m14 0h1m111 0h1m5 0h2M6 49.5h2m3 0h1m21 0h1m22 0h1m1 0h1m9 0h1m2 0h1m2 0h1m14 0h1m8 0h2m12 0h1m16 0h2m12 0h1m21 0h1m3 0h1m1 0h1m12 0h1m12 0h1m21 0h1m9 0h1m32 0h1m95 0h1m62 0h1" stroke="#ffff00"/><path d="M284 0.5h1m11 0h1m4 0h1m45 0h1m3 0h1m1 0h1m1 0h1m15 0h1m11 0h2m2 0h1m3 0h1m1 0h1m10 0h1m16 0h4m14 0h1m5 0h1m37 0h1m28 0h1m12 0h1M266 1.5h1m4 0h1m21 0h1m32 0h2m11 0h1m4 0h1m9 0h1m5 0h2m7 0h1m13 0h1m11 0h2m23 0h2m1 0h1m19 0h1m22 0h1m10 0h1m2 0h1m14 0h1m3 0h1m25 0h2M229 2.5h1m42 0h1m37 0h1m33 0h1m8 0h1m13 0h1m21 0h1m1 0h1m13 0h1m11 0h1m22 0h1m2 0h1m5 0h2m2 0h1m26 0h1m15 0h1m4 0h1m1 0h1m21 0h1m10 0h1M285 3.5h1m34 0h1m48 0h1m1 0h1m17 0h1m3 0h1m1 0h1m7 0h1m16 0h1m20 0h1m15 0h2m1 0h1m23 0h1m10 0h2m15 0h1m3 0h1m9 0h1m8 0h1M366 4.5h1m1 0h1m53 0h1m26 0h1m35 0h2m16 0h1M7 5.5h1m2 0h1m104 0h1m107 0h1m52 0h1m32 0h1m10 0h1m24 0h2m5 0h1m25 0h1m1 0h2m6 0h1m3 0h1m5 0h2m2 0h3m4 0h1m31 0h1m6 0h1m9 0h1m3 0h2m2 0h1m17 0h1m2 0h1m1 0h1m2 0h1m5 0h1m12 0h1M28 6.5h1m76 0h1m71 0h1m58 0h1m6 0h1m19 0h1m10 0h1m1 0h2m19 0h1m32 0h1m12 0h1m17 0h1m15 0h1m22 0h1m3 0h1M29 7.5h1m184 0h1m14 0h1m3 0h1m32 0h1m33 0h1m4 0h1m4 0h1m8 0h1m6 0h1m26 0h1m1 0h1m8 0h1m19 0h1m4 0h1m3 0h1m7 0h1m88 0h2m29 0h1m16 0h1M26 8.5h1m2 0h1m75 0h1m37 0h1m10 0h1m22 0h1m20 0h1m2 0h1m15 0h1m5 0h1m2 0h2m7 0h1m6 0h2m5 0h1m19 0h1m24 0h1m3 0h1m12 0h1m1 0h3m3 0h1m8 0h1m2 0h1m7 0h1m1 0h1m3 0h1m18 0h1m24 0h2m5 0h1m17 0h1m18 0h1m19 0h1m21 0h1m26 0h1m24 0h1M193 9.5h1m49 0h1m30 0h1m23 0h1m9 0h1m1 0h1m35 0h1m35 0h1m40 0h1m15 0h1m3 0h1m10 0h1m7 0h1m2 0h1m11 0h1m8 0h1m5 0h1m3 0h1m9 0h1m8 0h1M144 10.5h1m164 0h1m36 0h1m4 0h1m8 0h1m22 0h1m5 0h1m1 0h1m57 0h1M272 11.5h1m19 0h1m53 0h1m13 0h1m5 0h1m21 0h1m27 0h1m9 0h1m6 0h1m5 0h2m37 0h1m6 0h1m1 0h1m11 0h1M86 12.5h1m139 0h1m46 0h1m33 0h3m16 0h1m7 0h1m10 0h1m1 0h1m13 0h1m26 0h1m2 0h2m37 0h1m2 0h1m4 0h1m3 0h1m1 0h1m5 0h1m9 0h1m4 0h1m5 0h1m10 0h1m7 0h1m17 0h1m26 0h1M11 13.5h1m103 0h1m80 0h1m45 0h1m1 0h1m16 0h1m47 0h1m96 0h1m18 0h1m2 0h1m4 0h1m4 0h1m1 0h1m53 0h1m21 0h1m10 0h1M88 14.5h1m154 0h1m27 0h1m36 0h1m38 0h1m29 0h1m6 0h2m5 0h1m7 0h1m43 0h1m7 0h1m35 0h2m37 0h1m7 0h1M36 15.5h1m14 0h1m8 0h1m12 0h1m3 0h1m14 0h1m8 0h1m1 0h2m5 0h1m2 0h2m16 0h1m10 0h2m1 0h1m5 0h1m12 0h3m8 0h1m1 0h1m1 0h1m18 0h1m9 0h1m18 0h1m63 0h1m25 0h1m1 0h1m34 0h2m4 0h1m28 0h1m8 0h1m11 0h1M145 16.5h1m43 0h1m3 0h2m3 0h1m30 0h1m7 0h1m25 0h1m43 0h1m24 0h1m3 0h1m1 0h2m22 0h3m3 0h1m24 0h1m7 0h1m24 0h1m45 0h1m5 0h1m2 0h1m18 0h1m2 0h1M28 17.5h1m199 0h1m32 0h1m11 0h1m3 0h1m26 0h1m4 0h1m36 0h1m54 0h1m9 0h1m3 0h1m8 0h1m58 0h1m8 0h2M25 18.5h1m6 0h1m112 0h1m89 0h1m29 0h1m11 0h1m55 0h1m4 0h1m1 0h1m2 0h3m7 0h1m11 0h1m2 0h1m3 0h1m12 0h1m16 0h1m1 0h1m28 0h1m9 0h1m1 0h1m40 0h1m13 0h1m1 0h1m17 0h1M18 19.5h1m13 0h1m46 0h1m20 0h1m5 0h1m87 0h1m28 0h1m1 0h1m2 0h3m5 0h1m11 0h1m32 0h1m5 0h1m33 0h2m9 0h1m22 0h1m11 0h1m24 0h1m25 0h1m13 0h2m24 0h1m52 0h1m17 0h1m3 0h1M5 20.5h1m39 0h1m50 0h1m48 0h1m75 0h1m7 0h1m13 0h2m31 0h1m2 0h1m61 0h1m2 0h1m47 0h1m15 0h1m12 0h1m10 0h1m19 0h1m51 0h1M7 21.5h1m16 0h1m22 0h1m43 0h1m10 0h2m5 0h1m1 0h1m8 0h1m3 0h1m8 0h1m8 0h1m2 0h2m2 0h1m8 0h1m2 0h1m16 0h1m60 0h2m25 0h1m27 0h2m3 0h1m9 0h2m17 0h1m207 0h1M7 22.5h1m227 0h1m1 0h1m46 0h1m17 0h1m4 0h1m38 0h1m50 0h1m7 0h1m76 0h1m1 0h1m44 0h1M12 23.5h2m44 0h1m20 0h1m19 0h1m2 0h1m95 0h1m36 0h1m11 0h1m13 0h1m23 0h1m22 0h1m13 0h1m17 0h1m13 0h1m9 0h1m55 0h3m12 0h1m19 0h1m34 0h1m18 0h1M191 24.5h1m92 0h1m22 0h1m46 0h1m66 0h1m16 0h1m31 0h1m32 0h1m14 0h1m13 0h2M228 25.5h1m12 0h1m23 0h1m15 0h1m8 0h1m9 0h1m19 0h1m6 0h1m1 0h1m5 0h1m15 0h1m39 0h1m32 0h1m103 0h1m8 0h1M66 26.5h1m1 0h1m3 0h2m1 0h1m5 0h1m1 0h1m8 0h1m30 0h1m3 0h1m2 0h1m4 0h4m2 0h1m5 0h1m2 0h1m3 0h3m3 0h1m1 0h1m14 0h1m4 0h1m2 0h1m1 0h1m7 0h1m3 0h2m13 0h1m1 0h1m6 0h1m2 0h1m12 0h1m3 0h1m1 0h1m1 0h1m1 0h1m2 0h1m2 0h1m4 0h1m4 0h1m13 0h2m14 0h1m3 0h1m11 0h2m2 0h1m1 0h1m53 0h1m20 0h1m144 0h1M18 27.5h1m70 0h1m55 0h2m31 0h1m8 0h1m33 0h1m4 0h2m76 0h1m23 0h1m19 0h1m9 0h1m5 0h1m17 0h1m19 0h1m15 0h1m101 0h1m4 0h1m3 0h1M68 28.5h1m5 0h2m13 0h2m3 0h1m16 0h1m50 0h1m21 0h1m60 0h1m1 0h1m33 0h1m2 0h2m73 0h1m1 0h1m1 0h1m9 0h1m20 0h1m24 0h1m69 0h1m5 0h1m19 0h1m11 0h1m3 0h1M261 29.5h1m13 0h1m79 0h2m15 0h1m48 0h1m64 0h1m6 0h1m5 0h1M7 30.5h1m2 0h1m6 0h1m15 0h1m12 0h1m43 0h1m23 0h1m5 0h1m12 0h1m26 0h1m19 0h1m6 0h1m6 0h1m67 0h1m10 0h1m2 0h1m6 0h1m9 0h1m5 0h1m17 0h1m13 0h2m17 0h1m9 0h1m42 0h1m13 0h1m12 0h1m3 0h1m10 0h1m14 0h1m11 0h1m9 0h1m5 0h1m27 0h1m11 0h1m2 0h1m4 0h1M70 31.5h1m18 0h1m88 0h1m4 0h1m30 0h1m7 0h1m3 0h1m68 0h1m39 0h1m2 0h1m21 0h1m59 0h2m2 0h1m18 0h1m8 0h1m5 0h1m4 0h2m51 0h1m17 0h1M23 32.5h1m50 0h1m4 0h1m18 0h1m27 0h1m3 0h1m23 0h1m5 0h1m24 0h1m36 0h1m21 0h1m8 0h1m10 0h1m17 0h1m15 0h1m33 0h1m4 0h1m26 0h1m51 0h1m6 0h1m34 0h2m15 0h1m52 0h1m2 0h2M120 33.5h1m24 0h1m4 0h1m8 0h1m74 0h1m30 0h1m39 0h1m15 0h1m38 0h1m59 0h1m23 0h1m43 0h1m17 0h1M57 34.5h1m55 0h1m10 0h1m9 0h1m6 0h1m3 0h1m78 0h1m96 0h1m4 0h1m3 0h1m4 0h1m6 0h1m19 0h1m40 0h2m6 0h1m9 0h1m15 0h1m28 0h1m25 0h1M9 35.5h1m20 0h1m23 0h1m4 0h1m10 0h1m2 0h1m49 0h1m6 0h1m13 0h1m81 0h1m2 0h2m22 0h1m87 0h1m69 0h1m2 0h1m48 0h1m18 0h1m25 0h1m16 0h1M16 36.5h1m3 0h1m1 0h1m15 0h1m18 0h1m2 0h1m1 0h2m4 0h1m2 0h1m62 0h1m24 0h1m27 0h3m71 0h2m28 0h1m5 0h1m6 0h1m2 0h1m18 0h1m11 0h1m22 0h1m7 0h1m44 0h1m49 0h1m15 0h1m12 0h1m8 0h1m25 0h1M9 37.5h2m30 0h1m12 0h2m11 0h1m4 0h1m1 0h1m18 0h1m30 0h1m27 0h1m6 0h1m18 0h1m49 0h1m97 0h1m1 0h1m27 0h1m2 0h1m9 0h1m31 0h1m63 0h1m26 0h2m25 0h1m16 0h1M8 38.5h1m23 0h1m4 0h1m6 0h1m15 0h1m2 0h1m6 0h1m2 0h1m1 0h1m18 0h1m4 0h1m21 0h1m38 0h1m101 0h1m32 0h1m2 0h1m1 0h1m21 0h1m39 0h2M6 39.5h1m9 0h2m1 0h1m10 0h1m2 0h1m1 0h1m20 0h1m1 0h1m46 0h1m28 0h2m7 0h1m13 0h1m3 0h1m11 0h1m2 0h1m71 0h1m14 0h1m30 0h1m27 0h1m39 0h1m52 0h1M20 40.5h1m11 0h1m13 0h1m3 0h1m19 0h1m2 0h1m22 0h3m4 0h1m1 0h1m21 0h1m4 0h1m4 0h1m83 0h2m33 0h1m38 0h1m129 0h1m111 0h1M6 41.5h1m4 0h1m1 0h1m1 0h2m1 0h1m1 0h1m7 0h2m2 0h1m12 0h1m11 0h1m1 0h1m2 0h1m1 0h1m30 0h1m9 0h1m15 0h1m4 0h1m16 0h2m5 0h1m4 0h1m4 0h1m1 0h1m59 0h1m11 0h1m169 0h1m14 0h1m10 0h2m97 0h1m2 0h1M15 42.5h1m5 0h1m24 0h1m8 0h1m1 0h1m2 0h2m1 0h1m5 0h1m13 0h1m9 0h1m1 0h1m8 0h1m1 0h1m5 0h1m30 0h1m79 0h1m37 0h1m20 0h1m3 0h1m52 0h1m16 0h1m1 0h1m58 0h1M10 43.5h1m4 0h1m3 0h1m11 0h2m8 0h1m28 0h1m18 0h1m37 0h2m21 0h1m1 0h1m3 0h1m1 0h1m24 0h3m76 0h1m69 0h1m30 0h1m48 0h1m2 0h2m17 0h1M14 44.5h1m27 0h1m25 0h1m6 0h1m17 0h1m44 0h1m20 0h1m26 0h1m172 0h1m2 0h1m52 0h1M4 45.5h1m9 0h1m21 0h1m3 0h1m2 0h2m5 0h1m4 0h2m70 0h1m7 0h1m11 0h1m9 0h1m2 0h1m18 0h2m13 0h1m12 0h1m10 0h1m28 0h1m13 0h1m15 0h1m25 0h1m53 0h1m12 0h1m40 0h3m1 0h1m5 0h1m10 0h1M4 46.5h1m11 0h1m15 0h1m1 0h1m5 0h2m15 0h1m10 0h2m28 0h1m43 0h1m2 0h1m10 0h1m3 0h1m12 0h1m13 0h1m2 0h1m2 0h2m24 0h1m62 0h1m13 0h2m23 0h1m89 0h1m4 0h1m76 0h1M4 47.5h1m11 0h1m1 0h1m1 0h1m36 0h1m4 0h1m12 0h1m63 0h1m36 0h1m7 0h1m59 0h1m3 0h1m51 0h1m115 0h1m116 0h1M2 48.5h1m5 0h1m6 0h2m18 0h1m39 0h1m83 0h1m27 0h1m6 0h1m50 0h1m15 0h2m35 0h1m4 0h1m227 0h1M12 49.5h1m21 0h1m11 0h1m12 0h1m74 0h1m9 0h1m15 0h1m28 0h2m30 0h2m21 0h1m2 0h1m284 0h1" stroke="#ffaa00"/><path d="M343 0.5h1m16 0h1m5 0h1m27 0h1m40 0h1m13 0h1m1 0h2m81 0h1M273 1.5h1m18 0h1m12 0h1m17 0h1m14 0h1m37 0h2m49 0h1m24 0h1m30 0h1m12 0h2m2 0h1m2 0h1m1 0h1m32 0h1M318 2.5h1m27 0h1m13 0h1m13 0h1m13 0h1m89 0h1m6 0h1m32 0h1M293 3.5h1m7 0h2m6 0h1m124 0h1m5 0h1m8 0h2m34 0h1m25 0h1M329 4.5h1m30 0h1m126 0h1M109 5.5h1m39 0h1m173 0h1m29 0h1m14 0h1m6 0h1m6 0h1m11 0h4m2 0h1m4 0h1m4 0h2m30 0h1m8 0h1m8 0h1m29 0h2M209 6.5h1m14 0h1m44 0h1m8 0h2m67 0h2m11 0h1m5 0h2m19 0h2m3 0h1m9 0h1m6 0h1M58 7.5h1m233 0h1m9 0h1m3 0h1m23 0h1m13 0h1m31 0h1m6 0h1m18 0h1m3 0h1m28 0h1m2 0h1m1 0h1m9 0h1m20 0h1m7 0h1m3 0h1m13 0h1M28 8.5h1m53 0h1m25 0h1m4 0h1m66 0h1m22 0h1m32 0h1m13 0h1m15 0h1m25 0h1m16 0h2m6 0h1m9 0h1m1 0h1m23 0h1m19 0h1m18 0h2m1 0h1m13 0h1m9 0h2m37 0h1m3 0h1m18 0h1m19 0h1m1 0h2m15 0h1M194 9.5h1m77 0h1m3 0h1m32 0h1m12 0h2m30 0h2m53 0h1m32 0h1m6 0h1m31 0h1m3 0h1m3 0h1m11 0h2m10 0h1M148 10.5h1m148 0h2m27 0h1m50 0h1m67 0h1m34 0h1m3 0h2M280 11.5h1m27 0h2m7 0h1m1 0h1m23 0h1m78 0h1m12 0h1m9 0h2m1 0h1m16 0h1m23 0h1m44 0h1M24 12.5h1m118 0h1m22 0h1m76 0h1m27 0h2m2 0h1m57 0h1m14 0h3m15 0h1m10 0h1m11 0h1m5 0h1m23 0h1m12 0h1m6 0h1m24 0h1m19 0h1m42 0h1M143 13.5h1m24 0h1m54 0h1m19 0h1m49 0h1m16 0h1m111 0h1m63 0h1m41 0h1M235 14.5h1m6 0h1m103 0h1m40 0h1m16 0h1m18 0h1m61 0h1m3 0h1M53 15.5h1m7 0h1m9 0h1m6 0h1m3 0h1m1 0h1m2 0h2m27 0h1m4 0h1m6 0h1m11 0h2m5 0h2m1 0h1m8 0h1m22 0h1m1 0h1m8 0h1m9 0h1m17 0h1m31 0h1m178 0h1M212 16.5h1m88 0h1m102 0h1m22 0h1m13 0h1m44 0h1m18 0h1m1 0h2m26 0h1m2 0h1M301 17.5h1m28 0h1m113 0h2m41 0h1m43 0h1M218 18.5h1m10 0h1m79 0h1m29 0h1m19 0h1m28 0h1m5 0h1m28 0h1m1 0h1m45 0h1m6 0h1m10 0h1m32 0h1M33 19.5h1m65 0h1m78 0h1m20 0h1m26 0h1m22 0h1m24 0h1m34 0h1m9 0h1m48 0h1m3 0h1m20 0h1m20 0h1m4 0h1M172 20.5h1m6 0h1m48 0h1m48 0h1m22 0h1m1 0h1m6 0h1m36 0h1m24 0h1m19 0h1m31 0h1m56 0h1m6 0h1m15 0h1m16 0h1M46 21.5h1m47 0h1m17 0h1m2 0h1m5 0h1m10 0h1m4 0h1m1 0h2m9 0h1m1 0h1m3 0h1m7 0h2m6 0h2m2 0h1m14 0h1m6 0h1m26 0h1m71 0h2m230 0h1M6 22.5h1m175 0h1m35 0h1m23 0h1m65 0h1m44 0h1m55 0h1m47 0h1m49 0h1M123 23.5h1m7 0h1m150 0h1m14 0h1m29 0h1m1 0h1m9 0h1m4 0h1m8 0h1m8 0h1m13 0h1m42 0h1m4 0h1m20 0h1m20 0h1m16 0h1m17 0h1m2 0h1m15 0h2M285 24.5h1m13 0h1m185 0h1m40 0h1M226 25.5h1m39 0h1m30 0h1m23 0h1m16 0h1m21 0h1m62 0h1m14 0h1m53 0h1m39 0h1M69 26.5h1m6 0h3m1 0h1m4 0h2m4 0h1m2 0h1m6 0h1m3 0h1m6 0h1m7 0h2m3 0h2m6 0h1m8 0h2m1 0h1m13 0h1m6 0h2m2 0h2m1 0h1m1 0h2m1 0h1m1 0h1m2 0h1m8 0h2m7 0h2m1 0h1m8 0h1m3 0h3m4 0h1m3 0h3m7 0h1m1 0h2m4 0h1m4 0h1m4 0h1m4 0h1m10 0h1m8 0h1m1 0h1m7 0h2m12 0h1m113 0h1M128 27.5h1m4 0h1m9 0h2m31 0h1m36 0h1m84 0h1m1 0h1m21 0h1m9 0h1m23 0h1m156 0h1m2 0h1m20 0h1M14 28.5h1m52 0h1m8 0h2m65 0h1m36 0h1m80 0h1m70 0h1m29 0h1m9 0h1m22 0h1m19 0h1m7 0h1m58 0h1M8 29.5h1m288 0h1m41 0h1m78 0h1m65 0h1M13 30.5h1m53 0h2m36 0h2m6 0h1m9 0h1m62 0h1m15 0h1m10 0h1m3 0h1m76 0h1m120 0h1m42 0h1m7 0h2m12 0h1m2 0h1m45 0h1M38 31.5h1m2 0h1m100 0h1m10 0h1m22 0h1m60 0h1m7 0h1m52 0h1m22 0h2m16 0h1m17 0h1m1 0h1m55 0h2m6 0h1m5 0h2m17 0h1m33 0h1M75 32.5h1m56 0h1m1 0h1m9 0h1m21 0h1m20 0h1m9 0h1m30 0h1m71 0h1m13 0h1m6 0h1m36 0h1m3 0h2m107 0h1m53 0h1m7 0h1M103 33.5h1m24 0h1m14 0h1m18 0h1m28 0h1m91 0h1m13 0h1m5 0h1m15 0h1m20 0h1m77 0h2m3 0h1m61 0h1m3 0h1M72 34.5h1m30 0h1m79 0h2m1 0h1m152 0h1m17 0h1m1 0h1m3 0h1m36 0h1m18 0h1m2 0h2m14 0h1M8 35.5h1m1 0h1m86 0h1m163 0h1m12 0h1m10 0h1m70 0h1m3 0h2m42 0h1m3 0h1m3 0h1m17 0h1m96 0h2m4 0h1M5 36.5h1m9 0h1m3 0h1m11 0h1m10 0h1m11 0h1m12 0h1m4 0h1m50 0h1m62 0h1m39 0h1m76 0h1m100 0h1m7 0h1m19 0h1m30 0h1m1 0h2M31 37.5h1m24 0h1m9 0h1m46 0h1m30 0h1m193 0h1m11 0h1m61 0h1m2 0h1m3 0h1m114 0h1M13 38.5h1m1 0h2m21 0h1m17 0h1m9 0h1m5 0h1m40 0h2m7 0h1m5 0h1m1 0h1m1 0h1m10 0h1m14 0h1m6 0h1m55 0h1m12 0h1m20 0h1m4 0h2m1 0h1m30 0h1m9 0h1m19 0h1m1 0h1m32 0h1M7 39.5h1m5 0h1m20 0h1m11 0h1m7 0h1m17 0h1m21 0h1m7 0h1m1 0h1m8 0h1m9 0h1m13 0h1m1 0h1m5 0h1m16 0h1m22 0h1m1 0h1m107 0h1m25 0h1M17 40.5h1m27 0h1m10 0h1m11 0h1m2 0h1m13 0h1m34 0h1m9 0h1m10 0h1m1 0h1m42 0h1M8 41.5h1m14 0h1m6 0h1m19 0h1m5 0h1m13 0h1m1 0h1m4 0h1m14 0h1m6 0h1m1 0h1m9 0h1m10 0h2m4 0h1m3 0h1m3 0h1m3 0h1m47 0h1m120 0h1m45 0h1m61 0h2m96 0h1M7 42.5h1m5 0h1m17 0h1m22 0h1m1 0h1m8 0h1m8 0h1m49 0h1m1 0h1m2 0h1m15 0h1m39 0h1m1 0h1m93 0h1m22 0h1M13 43.5h2m40 0h2m9 0h1m4 0h1m4 0h1m45 0h1m13 0h1m2 0h1m2 0h1m14 0h1m31 0h1m4 0h1m66 0h1M12 44.5h1m21 0h1m90 0h1m19 0h1m38 0h1m2 0h1m60 0h1m109 0h1m174 0h1M11 45.5h1m17 0h2m1 0h1m26 0h2m5 0h1m34 0h1m2 0h1m25 0h5m4 0h1m6 0h1m30 0h1m44 0h1m21 0h1m50 0h1m62 0h1m57 0h1m12 0h1M9 46.5h1m3 0h2m16 0h1m3 0h1m8 0h1m11 0h1m5 0h1m12 0h1m26 0h1m3 0h1m23 0h1m3 0h1m3 0h1m7 0h1m116 0h2m39 0h1m51 0h1m6 0h1m65 0h1m103 0h1M6 47.5h1m12 0h1m20 0h1m3 0h1m14 0h1m8 0h1m2 0h1m2 0h1m29 0h2m6 0h1m15 0h1m5 0h1m8 0h1m8 0h1m63 0h1m11 0h1m33 0h1m32 0h1M17 48.5h2m41 0h1m10 0h1m25 0h1m24 0h1m141 0h1M17 49.5h1m2 0h1m39 0h1m1 0h1m3 0h1m57 0h1m36 0h2m23 0h2m215 0h1" stroke="#ff5500"/><path d="M298 0.5h1m49 0h2m45 0h1m9 0h1m19 0h1m1 0h1m14 0h1m7 0h1m84 0h1M304 1.5h1m4 0h1m9 0h1m33 0h1m39 0h1m25 0h1m45 0h1m19 0h1m20 0h1m28 0h1M308 2.5h1m36 0h1m133 0h1M294 3.5h1m16 0h1m75 0h1m34 0h1m2 0h1m57 0h1M274 5.5h1m47 0h1m51 0h1m9 0h1m6 0h1m58 0h1M223 6.5h1M191 7.5h1m43 0h1m35 0h2m81 0h1m30 0h1m1 0h1m2 0h1m1 0h1m11 0h1m17 0h1m14 0h1m5 0h2m6 0h2m49 0h3M27 8.5h1m55 0h1m20 0h1m4 0h1m92 0h1m25 0h2m43 0h1m48 0h1m23 0h1m93 0h1m14 0h1m3 0h2m17 0h1m3 0h1M191 9.5h2m34 0h2m65 0h1m98 0h1m44 0h1m1 0h2m8 0h1m15 0h1m16 0h1m3 0h1m26 0h1m13 0h1M271 10.5h1m151 0h1m20 0h1m13 0h2m12 0h1M434 11.5h1m48 0h1m8 0h1m9 0h1M85 12.5h1m141 0h1m123 0h1m1 0h1m81 0h1m47 0h1m3 0h1m46 0h1M294 13.5h1m82 0h1m46 0h1m95 0h1M266 14.5h1m42 0h1m176 0h1m40 0h2M52 15.5h1m2 0h1m11 0h1m40 0h1m21 0h1m7 0h2m27 0h1m39 0h1m14 0h1m5 0h1m81 0h1m65 0h1m5 0h1M196 16.5h1m64 0h1m60 0h1m69 0h1m10 0h1m29 0h1m31 0h1m38 0h1M409 17.5h1M298 18.5h1m61 0h1m30 0h1m32 0h1m59 0h1M180 19.5h1m43 0h1m122 0h2m7 0h1m3 0h1m1 0h1m16 0h1m11 0h1m23 0h1m49 0h1m55 0h1m12 0h1M297 20.5h1m68 0h1m68 0h1m66 0h1m3 0h1M99 21.5h1m1 0h1m8 0h1m2 0h1m3 0h1m5 0h1m1 0h3m2 0h2m2 0h1m1 0h1m4 0h1m1 0h1m7 0h1m5 0h1m8 0h1m2 0h1m7 0h1m118 0h1m10 0h1M167 22.5h1m115 0h1m13 0h1m28 0h1m62 0h1m32 0h1m21 0h1m61 0h1M179 23.5h1m11 0h1m72 0h1m18 0h1m44 0h1m94 0h1m83 0h2M301 24.5h1m116 0h1M301 25.5h1m4 0h1m52 0h1m46 0h1m44 0h1m51 0h1m22 0h1m4 0h1M90 26.5h1m2 0h1m3 0h1m1 0h1m6 0h1m4 0h1m1 0h1m2 0h1m1 0h1m9 0h2m2 0h1m11 0h1m3 0h1m2 0h3m4 0h1m2 0h1m6 0h1m20 0h1m1 0h1m5 0h1m5 0h1m1 0h1m2 0h1m1 0h1m11 0h1m4 0h1m3 0h1m3 0h1m1 0h1m16 0h1m7 0h3m28 0h1M183 27.5h1m142 0h1m32 0h1m1 0h2m3 0h1m37 0h1m112 0h1m12 0h1M145 28.5h1m85 0h1m68 0h2m2 0h1m95 0h1M419 29.5h1M40 30.5h1m4 0h1m147 0h1m5 0h1m18 0h1m8 0h1m56 0h1m10 0h1m34 0h1m25 0h1m63 0h1m71 0h1M141 31.5h1m18 0h1m1 0h1m21 0h1m36 0h1m7 0h1m126 0h1M10 32.5h1m56 0h1m57 0h1m60 0h1m190 0h1m94 0h1m30 0h1M222 33.5h1m59 0h1m53 0h2M89 34.5h1m54 0h1m158 0h1m135 0h1m92 0h1M11 35.5h1m53 0h1m32 0h1m39 0h1m23 0h1m141 0h1m98 0h1m11 0h2m3 0h2M17 36.5h1m14 0h1m11 0h2m23 0h2m156 0h1m8 0h1m26 0h1m34 0h1m40 0h1m71 0h1m5 0h2M6 37.5h1m11 0h1m31 0h1m9 0h1m101 0h2m65 0h1m75 0h1m52 0h1m43 0h1m13 0h3m99 0h1M12 38.5h1m1 0h1m2 0h2m1 0h1m13 0h1m13 0h1m22 0h1m52 0h2m29 0h1m3 0h1m197 0h1m173 0h1M23 39.5h1m44 0h2m4 0h1m56 0h1m4 0h1m1 0h1m2 0h1m18 0h1m2 0h1m22 0h1m110 0h1m40 0h1m19 0h1M30 40.5h1m4 0h1m5 0h1m5 0h1m6 0h1m24 0h1m31 0h1m10 0h1m1 0h1m1 0h1m8 0h1m3 0h1m19 0h1m2 0h1m24 0h1m60 0h1m49 0h1m232 0h1M7 41.5h1m1 0h1m21 0h1m1 0h1m14 0h1m5 0h1m10 0h2m12 0h1m13 0h1m2 0h1m5 0h1m1 0h1m15 0h1m3 0h1m14 0h1m47 0h1m2 0h1m36 0h1M6 42.5h1m28 0h1m2 0h1m23 0h1m33 0h1m40 0h2m45 0h1m1 0h1m34 0h2m77 0h1m117 0h1M7 43.5h1m4 0h1m10 0h1m14 0h1m1 0h1m33 0h1m19 0h1m35 0h1m12 0h1m85 0h1m30 0h1m69 0h1M41 44.5h1m32 0h1m47 0h2m2 0h1m13 0h1m44 0h1m345 0h1M89 45.5h1m12 0h2m21 0h1m10 0h1m8 0h1m17 0h1m12 0h1m85 0h2m34 0h2m2 0h1m111 0h1m116 0h1M8 46.5h1m9 0h1m41 0h1m15 0h1m51 0h1m4 0h1m5 0h1m3 0h1m77 0h2M3 47.5h1m7 0h1m44 0h1m3 0h1m45 0h1m15 0h1m17 0h1m3 0h1m10 0h1m3 0h2m171 0h1m25 0h1m58 0h1M10 48.5h1m23 0h1m5 0h1m3 0h1m58 0h1m58 0h1m174 0h1M18 49.5h1m24 0h1m83 0h1m401 0h1" stroke="#ff0000"/><path d="M297 0.5h1m48 0h1m96 0h2M346 1.5h1m44 0h1m52 0h1m4 0h1m1 0h1M309 2.5h1m77 0h1m77 0h1m17 0h1M310 3.5h1m35 0h1m41 0h1m5 0h1m26 0h1m1 0h2m8 0h1m1 0h1m15 0h2M535 4.5h1M3 5.5h1m351 0h1m16 0h1m3 0h1m6 0h1m6 0h1m21 0h1m1 0h1m8 0h1m41 0h1m19 0h1m13 0h1M171 6.5h1m99 0h2m73 0h1m59 0h1M298 7.5h1m2 0h1m7 0h1m35 0h2m41 0h1m2 0h1m11 0h1m1 0h1m35 0h2m15 0h2m20 0h1m1 0h1M267 8.5h1m4 0h1m43 0h1m1 0h1m7 0h1m33 0h1m30 0h1m12 0h1m16 0h1m21 0h1m21 0h1m10 0h2m5 0h3M229 9.5h1m43 0h1m114 0h1m35 0h1m27 0h2M272 10.5h1m170 0h1m8 0h1M354 11.5h1m83 0h1m2 0h1m35 0h1M28 12.5h1m194 0h1m4 0h2m36 0h1m17 0h2m36 0h1m23 0h1m13 0h1m48 0h1m31 0h1m1 0h1m14 0h1m26 0h1m5 0h2m35 0h1m3 0h2M362 13.5h1m60 0h1m36 0h1m4 0h1m11 0h1m4 0h2m41 0h2M148 14.5h1m204 0h1m34 0h1m38 0h1M58 15.5h1m16 0h1m23 0h1m85 0h1m43 0h1m81 0h1m79 0h1m17 0h1M293 16.5h2m42 0h1m8 0h1m29 0h1m14 0h1m88 0h1m3 0h1M297 17.5h1m4 0h1m137 0h1M236 18.5h1m35 0h1m11 0h1m11 0h2m1 0h2m45 0h1m39 0h2m97 0h1m1 0h1m47 0h1m1 0h1M152 19.5h1m43 0h1m30 0h1m44 0h1m38 0h1m104 0h2m67 0h2m40 0h2M299 20.5h1m1 0h1m163 0h1M97 21.5h2m5 0h2m1 0h2m7 0h1m1 0h2m2 0h1m12 0h1m2 0h1m8 0h1m5 0h3m145 0h2M177 22.5h1m169 0h1m75 0h1m19 0h1M76 23.5h1m214 0h1m34 0h1m18 0h2m44 0h1m52 0h1m57 0h1M300 24.5h1m118 0h2M227 25.5h1m263 0h1M82 26.5h1m12 0h2m1 0h1m1 0h1m1 0h3m2 0h4m3 0h2m1 0h1m4 0h1m8 0h1m2 0h1m11 0h1m2 0h1m7 0h1m7 0h1m15 0h1m2 0h1m3 0h1m5 0h1m3 0h1m8 0h1m1 0h1m2 0h1m8 0h1m10 0h1m9 0h1m25 0h2M6 27.5h2m148 0h1m5 0h1m136 0h1m103 0h1m13 0h1m1 0h1m1 0h1m37 0h2m57 0h1m12 0h1m2 0h1M78 28.5h1m65 0h1m154 0h1m60 0h1m71 0h1M186 29.5h2M41 30.5h1m1 0h2m158 0h1m57 0h1m36 0h1m20 0h1m9 0h1m4 0h1m24 0h1m51 0h3m4 0h2m3 0h1M140 31.5h1m2 0h2m7 0h1m32 0h1m172 0h1m73 0h1m1 0h1M131 32.5h1m24 0h1m32 0h1m6 0h1m21 0h1m2 0h1m7 0h2m50 0h1m17 0h1m115 0h1m1 0h3m93 0h1M304 33.5h1m34 0h1M56 34.5h1m86 0h1m43 0h1m35 0h1m62 0h1m71 0h1m1 0h1m170 0h1M7 35.5h1m11 0h1m46 0h1m1 0h1m76 0h1m153 0h2m54 0h1m6 0h1m54 0h3m9 0h1m99 0h1m1 0h1M6 36.5h3m1 0h5m3 0h1m22 0h1m4 0h1m9 0h1m1 0h2m6 0h1m7 0h2m159 0h1m8 0h1m111 0h1m50 0h1m5 0h1m1 0h2m2 0h5m105 0h4M85 37.5h1m36 0h2m63 0h1m5 0h1m138 0h1m80 0h1m68 0h1m48 0h3M10 38.5h2m7 0h1m16 0h1m37 0h1m1 0h1m12 0h1m36 0h2m5 0h2m3 0h1m1 0h2m2 0h1m17 0h2m9 0h1m13 0h1m5 0h2m102 0h1m58 0h1m1 0h1m59 0h1M20 39.5h1m45 0h1m8 0h1m27 0h1m18 0h1m3 0h1m1 0h3m1 0h1m7 0h1m3 0h1m211 0h1m174 0h1M6 40.5h1m26 0h2m5 0h1m7 0h1m8 0h1m2 0h1m4 0h2m2 0h1m4 0h3m29 0h1m16 0h1m4 0h1m2 0h1m2 0h1m3 0h1m1 0h1m3 0h3m147 0h1m2 0h1m60 0h1M10 41.5h1m13 0h1m9 0h3m1 0h1m1 0h2m4 0h1m13 0h1m2 0h1m3 0h3m1 0h1m2 0h3m17 0h1m2 0h2m4 0h1m26 0h2m5 0h2m50 0h1m166 0h1m174 0h1M10 42.5h1m21 0h3m9 0h1m21 0h1m1 0h1m6 0h2m23 0h1m21 0h2m6 0h1m9 0h1m3 0h1m386 0h1M8 43.5h1m8 0h1m26 0h1m30 0h1m45 0h1m1 0h4m4 0h2m1 0h1m3 0h1m1 0h2m2 0h3m15 0h1m9 0h1m13 0h2m343 0h1M13 44.5h1m52 0h1m54 0h1m2 0h1m16 0h1m2 0h1m33 0h1M5 45.5h6m20 0h1m1 0h3m5 0h1m12 0h1m12 0h2m6 0h2m36 0h1m8 0h3m1 0h1m10 0h2m1 0h2m1 0h2m6 0h1m7 0h1m2 0h1m137 0h2m54 0h1M5 46.5h3m2 0h2m21 0h1m20 0h1m19 0h1m19 0h1m8 0h1m18 0h3m1 0h1m2 0h1m1 0h2m7 0h1m18 0h1m88 0h1m13 0h1m268 0h1M5 47.5h1m1 0h2m1 0h1m2 0h1m1 0h1m1 0h1m23 0h1m61 0h1m17 0h1m1 0h2m13 0h1m6 0h2m38 0h3m109 0h1m58 0h1m61 0h1m112 0h2M33 48.5h1m40 0h1m1 0h1m46 0h1m39 0h1m29 0h1m66 0h1m2 0h1m140 0h1M13 49.5h4m27 0h1m78 0h1m4 0h1m64 0h2m137 0h1m198 0h1" stroke="#aa0000"/></g></g><rect x="141.4" y="175.7" width="1782.6" height="260" fill="none" stroke="#1a1a1a" stroke-width="2"/><path d="M135 176.1L141.4 176.1" stroke="#262626" stroke-width="2"/><text x="127.6" y="187.7" font-size="29" text-anchor="end" fill="#262626">0</text><path d="M135 228.9L141.4 228.9" stroke="#262626" stroke-width="2"/><text x="127.6" y="240.5" font-size="29" text-anchor="end" fill="#262626">10</text><path d="M135 281.7L141.4 281.7" stroke="#262626" stroke-width="2"/><text x="127.6" y="293.3" font-size="29" text-anchor="end" fill="#262626">20</text><path d="M135 334.5L141.4 334.5" stroke="#262626" stroke-width="2"/><text x="127.6" y="346.1" font-size="29" text-anchor="end" fill="#262626">30</text><path d="M135 387.3L141.4 387.3" stroke="#262626" stroke-width="2"/><text x="127.6" y="398.9" font-size="29" text-anchor="end" fill="#262626">40</text><text x="75" y="299.7" font-size="29" text-anchor="middle" transform="rotate(-90 75 299.7)" xml:space="preserve">Cell  number</text><rect x="1960.5" y="175.7" width="34" height="260" fill="url(#jetg)" stroke="#1a1a1a" stroke-width="2"/><path d="M1994.5 175.7L1999.5 175.7" stroke="#262626" stroke-width="2"/><text x="2004" y="187.8" font-size="29" fill="#262626">2</text><path d="M1994.5 262.37L1999.5 262.37" stroke="#262626" stroke-width="2"/><text x="2004" y="273.6" font-size="29" fill="#262626">1</text><path d="M1994.5 349.03L1999.5 349.03" stroke="#262626" stroke-width="2"/><text x="2004" y="360.7" font-size="29" fill="#262626">0</text><path d="M1994.5 435.7L1999.5 435.7" stroke="#262626" stroke-width="2"/><text x="2004" y="439.2" font-size="29" fill="#262626">-1</text><text x="2034" y="290" font-size="29" text-anchor="middle" transform="rotate(90 2034 290)">Z-score</text></g>
<g id="panel_b"><text x="23.5" y="502.5" font-size="41" font-weight="bold">b</text><path d="M163.5 631.5L168.2 629.2L172.9 627L177.6 625.2L182.3 623.5L187 622.1L191.7 620.9L196.4 619.9L201.1 619.2L205.8 618.6L210.6 618.2L215.3 617.9L220 617.9L224.7 617.9L229.4 618.2L234.1 618.6L238.8 619.4L243.5 620.6L248.2 622.3L252.9 624.5L257.6 627.5L262.3 631.2L267 635.9L271.7 641.3L276.4 647.5L281.1 654.1L285.9 660.9L290.6 667.8L295.3 674.7L300 681.5L304.7 688.3L309.4 695.1L314.1 701.9L318.8 708.6L323.5 715.4L328.2 722.2L332.9 728.9L337.6 735.7L342.3 742.6L347 749.4L351.7 756.3L356.5 763.3L361.2 770.4L365.9 778L370.6 786.3L375.3 795.7L380 806.1L384.7 817L389.4 827.5L394.1 837L398.8 845.5L403.5 853L408.2 859.5L412.9 864.9L417.6 869.3L422.3 872.5L427 874.8L431.8 876L436.5 876.3L441.2 875.6L445.9 874.1L450.6 871.6L455.3 868.3L460 864.1L464.7 859L469.4 853L474.1 846.2L478.8 838.6L483.5 830.1L488.2 820.9L492.9 810.9L497.6 800.5L502.3 789.6L507.1 778.5L511.8 767.3L516.5 756.1L521.2 745.1L525.9 734.4L530.6 724.2L535.3 714.5L540 705.6L544.7 697.3L549.4 689.5L554.1 682.2L558.8 675.2L563.5 668.4L568.2 661.8L572.9 655.3L577.7 648.7L582.4 641.9L582.4 711.8L577.7 719.1L572.9 726.1L568.2 732.9L563.5 739.6L558.8 746.2L554.1 753L549.4 760L544.7 767.4L540 775.3L535.3 783.7L530.6 792.8L525.9 802.5L521.2 812.7L516.5 823.1L511.8 833.7L507.1 844.4L502.3 854.9L497.6 865.2L492.9 875.1L488.2 884.5L483.5 893.2L478.8 901.2L474.1 908.3L469.4 914.6L464.7 920.1L460 924.8L455.3 928.6L450.6 931.5L445.9 933.6L441.2 934.8L436.5 935.1L431.8 934.6L427 933.1L422.3 930.7L417.6 927.3L412.9 922.9L408.2 917.7L403.5 911.8L398.8 905.3L394.1 898.3L389.4 891.1L384.7 883.7L380 876.4L375.3 869.6L370.6 863.7L365.9 858.3L361.2 853.4L356.5 848.6L351.7 843.7L347 838.7L342.3 833.4L337.6 828L332.9 822.6L328.2 817L323.5 811.4L318.8 805.9L314.1 800.3L309.4 794.8L304.7 789.4L300 784.1L295.3 779L290.6 774L285.9 769.3L281.1 764.8L276.4 760.6L271.7 756.7L267 753L262.3 749.7L257.6 746.6L252.9 743.9L248.2 741.5L243.5 739.4L238.8 737.7L234.1 736.4L229.4 735.4L224.7 734.9L220 734.7L215.3 734.9L210.6 735.4L205.8 736.1L201.1 737L196.4 738.1L191.7 739.2L187 740.4L182.3 741.6L177.6 742.6L172.9 743.6L168.2 744.4L163.5 744.9Z" fill="#bcefbc"/><path d="M166.8 689.1L171.5 686.6L176.2 684.3L180.9 682.2L185.6 680.4L190.2 678.8L194.9 677.5L199.6 676.5L204.3 675.7L209 675.2L213.7 675L218.4 675L223 675.4L227.7 676L232.4 677L237.1 678.2L241.8 679.8L246.5 681.7L251.2 683.9L255.8 686.4L260.5 689.3L265.2 692.5L269.9 696L274.6 700L279.3 704.2L284 708.8L288.6 713.8L293.3 719.2L298 724.8L302.7 730.7L307.4 736.8L312.1 743.1L316.8 749.5L321.4 755.9L326.1 762.2L330.8 768.6L335.5 774.8L340.2 780.8L344.9 786.6L349.6 792.1L354.2 797.3L358.9 802.2L363.6 807.3L368.3 813.2L373 820.4L377.7 829.6L382.3 840.3L387 851.1L391.7 860.9L396.4 869.3L401.1 876.6L405.8 882.9L410.5 888.2L415.1 892.8L419.8 896.8L424.5 900L429.2 902.5L433.9 904.2L438.6 904.9L443.3 904.6L447.9 903.3L452.6 901.1L457.3 897.9L462 893.8L466.7 888.7L471.4 882.8L476.1 876L480.7 868.3L485.4 859.7L490.1 850.4L494.8 840.4L499.5 829.9L504.2 819L508.9 807.9L513.5 796.8L518.2 785.7L522.9 774.9L527.6 764.4L532.3 754.5L537 745.2L541.7 736.6L546.3 728.6L551 721.1L555.7 714.2L560.4 707.5L565.1 701.2L569.8 695L574.5 689L579.1 682.9L583.8 676.8" fill="none" stroke="#33c433" stroke-width="2.9" stroke-linejoin="round"/><path d="M167.5 1213.2L172.2 1211.3L176.9 1209.3L181.5 1207.1L186.2 1204.7L190.9 1202.2L195.6 1199.5L200.3 1196.7L204.9 1193.8L209.6 1190.7L214.3 1187.4L219 1184.1L223.7 1180.6L228.4 1177L233 1173.2L237.7 1169.4L242.4 1165.5L247.1 1161.4L251.8 1157.2L256.4 1153L261.1 1148.7L265.8 1144.2L270.5 1139.7L275.2 1135.1L279.9 1130.5L284.5 1125.7L289.2 1120.9L293.9 1116.1L298.6 1111.2L303.3 1106.2L307.9 1101.2L312.6 1096.1L317.3 1091L322 1085.9L326.7 1080.7L331.4 1075.5L336 1070.3L340.7 1065.1L345.4 1059.9L350.1 1054.9L354.8 1050.3L359.4 1046.3L364.1 1043.1L368.8 1040.9L373.5 1039.8L378.2 1040.1L382.9 1042L387.5 1045.4L392.2 1050L396.9 1055.6L401.6 1062L406.3 1068.9L410.9 1076L415.6 1083.2L420.3 1090.3L425 1097.1L429.7 1103.8L434.4 1110.2L439 1116.5L443.7 1122.6L448.4 1128.5L453.1 1134.2L457.8 1139.8L462.4 1145.1L467.1 1150.2L471.8 1155.2L476.5 1160L481.2 1164.7L485.9 1169.3L490.5 1173.8L495.2 1178.3L499.9 1182.8L504.6 1187.3L509.3 1191.7L513.9 1196.2L518.6 1200.7L523.3 1205.1L528 1209.5L532.7 1213.8L537.4 1218.1L542 1222.3L546.7 1226.4L551.4 1230.3L556.1 1234.1L560.8 1237.8L565.4 1241.3L570.1 1244.7L574.8 1247.8L579.5 1250.7L584.2 1253.4L584.2 1336.1L579.5 1331.1L574.8 1326.1L570.1 1320.9L565.4 1315.6L560.8 1310.3L556.1 1304.8L551.4 1299.3L546.7 1293.7L542 1288.1L537.4 1282.5L532.7 1276.8L528 1271.2L523.3 1265.6L518.6 1259.9L513.9 1254.4L509.3 1248.9L504.6 1243.4L499.9 1238L495.2 1232.7L490.5 1227.3L485.9 1222L481.2 1216.7L476.5 1211.3L471.8 1205.8L467.1 1200.2L462.4 1194.4L457.8 1188.5L453.1 1182.5L448.4 1176.2L443.7 1169.6L439 1162.8L434.4 1155.8L429.7 1148.4L425 1140.6L420.3 1132.5L415.6 1124L410.9 1115.1L406.3 1106L401.6 1097.1L396.9 1088.7L392.2 1081.1L387.5 1074.8L382.9 1070.4L378.2 1068.3L373.5 1068.6L368.8 1070.9L364.1 1074.4L359.4 1078.6L354.8 1083L350.1 1087.7L345.4 1092.7L340.7 1098.2L336 1104L331.4 1110.3L326.7 1116.8L322 1123.5L317.3 1130.3L312.6 1137.1L307.9 1143.7L303.3 1150.2L298.6 1156.6L293.9 1162.7L289.2 1168.7L284.5 1174.6L279.9 1180.3L275.2 1186L270.5 1191.4L265.8 1196.8L261.1 1202L256.4 1207.2L251.8 1212.2L247.1 1217.2L242.4 1222.1L237.7 1226.8L233 1231.5L228.4 1236L223.7 1240.4L219 1244.7L214.3 1248.9L209.6 1252.9L204.9 1256.7L200.3 1260.4L195.6 1263.9L190.9 1267.3L186.2 1270.4L181.5 1273.4L176.9 1276.2L172.2 1278.7L167.5 1281.1Z" fill="#7ce77f"/><path d="M167.5 1252.1L172.2 1249.4L176.9 1246.6L181.5 1243.7L186.2 1240.7L190.9 1237.5L195.6 1234.3L200.3 1230.9L204.9 1227.4L209.6 1223.8L214.3 1220.1L219 1216.2L223.7 1212.1L228.4 1208L233 1203.7L237.7 1199.2L242.4 1194.6L247.1 1189.9L251.8 1185L256.4 1180L261.1 1174.8L265.8 1169.5L270.5 1164.1L275.2 1158.7L279.9 1153.1L284.5 1147.5L289.2 1141.9L293.9 1136.2L298.6 1130.5L303.3 1124.8L307.9 1119.1L312.6 1113.4L317.3 1107.8L322 1102.2L326.7 1096.7L331.4 1091.3L336 1086L340.7 1080.9L345.4 1075.8L350.1 1071.1L354.8 1066.7L359.4 1062.9L364.1 1059.7L368.8 1057.2L373.5 1055.6L378.2 1055.5L382.9 1057.2L387.5 1060.7L392.2 1065.8L396.9 1072.1L401.6 1079.2L406.3 1087L410.9 1095.1L415.6 1103.3L420.3 1111.5L425 1119.4L429.7 1126.8L434.4 1133.4L439 1139.5L443.7 1145.3L448.4 1150.9L453.1 1156.5L457.8 1162L462.4 1167.4L467.1 1172.8L471.8 1178.1L476.5 1183.4L481.2 1188.6L485.9 1193.7L490.5 1198.9L495.2 1203.9L499.9 1209L504.6 1214L509.3 1219L513.9 1224L518.6 1229L523.3 1234L528 1239L532.7 1244L537.4 1249.1L542 1254.2L546.7 1259.4L551.4 1264.6L556.1 1269.9L560.8 1275.2L565.4 1280.7L570.1 1286.2L574.8 1291.8L579.5 1297.6L584.2 1303.4" fill="none" stroke="#22c422" stroke-width="2.9" stroke-linejoin="round"/><path d="M375.3 565V1353" stroke="#111" stroke-width="2.0" stroke-dasharray="6.3 7.3" fill="none"/><path d="M163.5 565.2V936" stroke="#262626" stroke-width="2.5" fill="none"/><path d="M157 566.2L163.5 566.2" stroke="#262626" stroke-width="2.2"/><text x="146" y="576.2" font-size="29" text-anchor="end" fill="#262626">-0.25</text><path d="M157 656.3L163.5 656.3" stroke="#262626" stroke-width="2.2"/><text x="146" y="666.3" font-size="29" text-anchor="end" fill="#262626">-0.3</text><path d="M157 746.7L163.5 746.7" stroke="#262626" stroke-width="2.2"/><text x="146" y="756.7" font-size="29" text-anchor="end" fill="#262626">-0.35</text><path d="M157 837.1L163.5 837.1" stroke="#262626" stroke-width="2.2"/><text x="146" y="847.1" font-size="29" text-anchor="end" fill="#262626">-0.4</text><path d="M157 928.7L163.5 928.7" stroke="#262626" stroke-width="2.2"/><text x="146" y="938.7" font-size="29" text-anchor="end" fill="#262626">-0.45</text><path d="M163.5 985.8V1353H589.4" stroke="#262626" stroke-width="2.5" fill="none"/><path d="M157 1353L163.5 1353" stroke="#262626" stroke-width="2.2"/><path d="M157 1047.8L163.5 1047.8" stroke="#262626" stroke-width="2.2"/><text x="146" y="1057.8" font-size="29" text-anchor="end" fill="#262626">0.7</text><path d="M157 1170L163.5 1170" stroke="#262626" stroke-width="2.2"/><text x="146" y="1180" font-size="29" text-anchor="end" fill="#262626">0.6</text><path d="M157 1292.1L163.5 1292.1" stroke="#262626" stroke-width="2.2"/><text x="146" y="1302.1" font-size="29" text-anchor="end" fill="#262626">0.5</text><path d="M163.5 1353L163.5 1359.5" stroke="#262626" stroke-width="2.2"/><text x="159.5" y="1387" font-size="29" text-anchor="middle" fill="#262626">-10</text><path d="M269.4 1353L269.4 1359.5" stroke="#262626" stroke-width="2.2"/><text x="265.4" y="1387" font-size="29" text-anchor="middle" fill="#262626">-5</text><path d="M375.3 1353L375.3 1359.5" stroke="#262626" stroke-width="2.2"/><text x="375.3" y="1387" font-size="29" text-anchor="middle" fill="#262626">0</text><path d="M481.6 1353L481.6 1359.5" stroke="#262626" stroke-width="2.2"/><text x="481.6" y="1387" font-size="29" text-anchor="middle" fill="#262626">5</text><path d="M587.9 1353L587.9 1359.5" stroke="#262626" stroke-width="2.2"/><text x="587.9" y="1387" font-size="29" text-anchor="middle" fill="#262626">10</text><text x="371" y="1420.5" font-size="29" text-anchor="middle">Lag (s)</text><text x="410.7" y="614" font-size="29">OFF cells</text><text x="433.6" y="1052.6" font-size="29">ON cells</text><text x="70" y="765.5" font-size="29" text-anchor="middle" transform="rotate(-90 70 765.5)">Correlation coefficient</text><text x="70" y="1195" font-size="29" text-anchor="middle" transform="rotate(-90 70 1195)">Correlation coefficient</text></g>
<g id="panel_c"><text x="648" y="503" font-size="41" font-weight="bold">c</text><text x="1083.4" y="507.6" font-size="29" text-anchor="middle">ON-cells</text><text x="1791.5" y="507" font-size="29" text-anchor="middle">OFF-cells</text><path d="M802.81 677.8v-11.5h3.75v11.5zM807.29 677.8v-11.9h3.75v11.9zM811.77 677.8v-12.3h3.75v12.3zM816.25 677.8v-12.7h3.75v12.7zM820.73 677.8v-13.1h3.75v13.1zM825.21 677.8v-13.8h3.75v13.8zM829.69 677.8v-14.5h3.75v14.5zM834.17 677.8v-15.2h3.75v15.2zM838.65 677.8v-15.9h3.75v15.9zM843.12 677.8v-16.6h3.75v16.6zM847.61 677.8v-17h3.75v17zM852.09 677.8v-17.3h3.75v17.3zM856.57 677.8v-17.7h3.75v17.7zM861.05 677.8v-18h3.75v18zM865.53 677.8v-18.4h3.75v18.4zM870.01 677.8v-18.6h3.75v18.6zM874.49 677.8v-18.8h3.75v18.8zM878.97 677.8v-19.1h3.75v19.1zM883.45 677.8v-19.3h3.75v19.3zM887.93 677.8v-19.5h3.75v19.5zM892.41 677.8v-19.6h3.75v19.6zM896.88 677.8v-19.8h3.75v19.8zM901.37 677.8v-19.9h3.75v19.9zM905.85 677.8v-20h3.75v20zM910.33 677.8v-20.2h3.75v20.2zM914.81 677.8v-20.7h3.75v20.7zM919.29 677.8v-21.3h3.75v21.3zM923.77 677.8v-21.9h3.75v21.9zM928.25 677.8v-22.5h3.75v22.5zM932.73 677.8v-23h3.75v23zM937.21 677.8v-23.5h3.75v23.5zM941.69 677.8v-24h3.75v24zM946.17 677.8v-24.5h3.75v24.5zM950.65 677.8v-25h3.75v25zM955.12 677.8v-25.5h3.75v25.5zM959.61 677.8v-25.9h3.75v25.9zM964.09 677.8v-26.3h3.75v26.3zM968.57 677.8v-26.7h3.75v26.7zM973.05 677.8v-27.1h3.75v27.1zM977.53 677.8v-27.5h3.75v27.5zM982.01 677.8v-28.3h3.75v28.3zM986.49 677.8v-29.2h3.75v29.2zM990.97 677.8v-30h3.75v30zM995.45 677.8v-30.8h3.75v30.8zM999.93 677.8v-31.7h3.75v31.7zM1004.41 677.8v-32.1h3.75v32.1zM1008.89 677.8v-32.6h3.75v32.6zM1013.37 677.8v-33h3.75v33zM1017.85 677.8v-33.5h3.75v33.5zM1022.33 677.8v-33.9h3.75v33.9zM1026.81 677.8v-34.3h3.75v34.3zM1031.29 677.8v-34.8h3.75v34.8zM1035.77 677.8v-35.2h3.75v35.2zM1040.25 677.8v-35.7h3.75v35.7zM1044.73 677.8v-36.1h3.75v36.1zM1049.21 677.8v-36.3h3.75v36.3zM1053.68 677.8v-36.6h3.75v36.6zM1058.16 677.8v-36.8h3.75v36.8zM1062.64 677.8v-37h3.75v37zM1067.12 677.8v-37.2h3.75v37.2zM1071.61 677.8v-38.1h3.75v38.1zM1076.09 677.8v-39h3.75v39zM1080.57 677.8v-39.9h3.75v39.9zM1085.05 677.8v-40.1h3.75v40.1zM1089.53 677.8v-40.4h3.75v40.4zM1094.01 677.8v-40.6h3.75v40.6zM1098.49 677.8v-40.9h3.75v40.9zM1102.97 677.8v-41.2h3.75v41.2zM1107.45 677.8v-41.4h3.75v41.4zM1111.93 677.8v-41.7h3.75v41.7zM1116.41 677.8v-42.2h3.75v42.2zM1120.89 677.8v-42.7h3.75v42.7zM1125.37 677.8v-43.3h3.75v43.3zM1129.85 677.8v-43.8h3.75v43.8zM1134.33 677.8v-44.3h3.75v44.3zM1138.81 677.8v-44.8h3.75v44.8zM1143.29 677.8v-45.2h3.75v45.2zM1147.77 677.8v-45.6h3.75v45.6zM1152.25 677.8v-46.1h3.75v46.1zM1156.73 677.8v-46.5h3.75v46.5zM1161.21 677.8v-46.8h3.75v46.8zM1165.68 677.8v-47h3.75v47zM1170.16 677.8v-47.2h3.75v47.2zM1174.64 677.8v-47.4h3.75v47.4zM1179.12 677.8v-47.6h3.75v47.6zM1183.61 677.8v-48.2h3.75v48.2zM1188.09 677.8v-48.8h3.75v48.8zM1192.57 677.8v-49.4h3.75v49.4zM1197.05 677.8v-49.9h3.75v49.9zM1201.53 677.8v-50.5h3.75v50.5zM1206.01 677.8v-50.9h3.75v50.9zM1210.49 677.8v-51.2h3.75v51.2zM1214.97 677.8v-51.5h3.75v51.5zM1219.45 677.8v-51.9h3.75v51.9zM1223.93 677.8v-52.2h3.75v52.2zM1228.41 677.8v-52.5h3.75v52.5zM1232.89 677.8v-52.9h3.75v52.9zM1237.37 677.8v-53.2h3.75v53.2zM1241.85 677.8v-53.5h3.75v53.5zM1246.33 677.8v-53.8h3.75v53.8zM1250.81 677.8v-54.3h3.75v54.3zM1255.29 677.8v-54.7h3.75v54.7zM1259.77 677.8v-55.2h3.75v55.2zM1264.25 677.8v-55.6h3.75v55.6zM1268.73 677.8v-56.1h3.75v56.1zM1273.21 677.8v-56.7h3.75v56.7zM1277.69 677.8v-57.3h3.75v57.3zM1282.16 677.8v-57.9h3.75v57.9zM1286.64 677.8v-58.5h3.75v58.5zM1291.12 677.8v-59.2h3.75v59.2zM1295.61 677.8v-60h3.75v60zM1300.09 677.8v-60.8h3.75v60.8zM1304.57 677.8v-61.6h3.75v61.6zM1309.05 677.8v-62.4h3.75v62.4zM1313.53 677.8v-63.2h3.75v63.2zM1318.01 677.8v-64.1h3.75v64.1zM1322.49 677.8v-65h3.75v65zM1326.97 677.8v-65.9h3.75v65.9zM1331.45 677.8v-66.9h3.75v66.9zM1335.93 677.8v-67.8h3.75v67.8zM1340.41 677.8v-68.3h3.75v68.3zM1344.89 677.8v-68.8h3.75v68.8zM1349.37 677.8v-69.3h3.75v69.3zM1353.85 677.8v-69.8h3.75v69.8zM1358.33 677.8v-70.2h3.75v70.2zM1362.81 677.8v-70.9h3.75v70.9zM1367.29 677.8v-71.6h3.75v71.6zM1371.77 677.8v-72.2h3.75v72.2zM1376.25 677.8v-72.9h3.75v72.9zM1380.73 677.8v-73.6h3.75v73.6zM1385.21 677.8v-74.5h3.75v74.5zM1389.68 677.8v-75.3h3.75v75.3zM1394.16 677.8v-76.2h3.75v76.2zM1398.64 677.8v-77.1h3.75v77.1zM1403.12 677.8v-78h3.75v78zM1407.61 677.8v-79.6h3.75v79.6zM1412.09 677.8v-81.3h3.75v81.3zM1416.57 677.8v-82.9h3.75v82.9zM1421.05 677.8v-83h3.75v83zM1425.53 677.8v-83.2h3.75v83.2zM1430.01 677.8v-83.4h3.75v83.4zM1434.49 677.8v-83.5h3.75v83.5zM1438.97 677.8v-84.9h3.75v84.9zM1443.45 677.8v-86.4h3.75v86.4zM1447.93 677.8v-87.8h3.75v87.8zM1452.41 677.8v-91.2h3.75v91.2zM1456.89 677.8v-94.6h3.75v94.6zM1461.37 677.8v-95.1h3.75v95.1zM1465.85 677.8v-95.5h3.75v95.5zM1470.33 677.8v-96h3.75v96zM1474.81 677.8v-98.6h3.75v98.6zM1479.29 677.8v-101.3h3.75v101.3zM1483.77 677.8v-103.4h3.75v103.4zM1488.25 677.8v-105.5h3.75v105.5zM1492.73 677.8v-107.6h3.75v107.6zM1497.21 677.8v-109.7h3.75v109.7zM1501.68 677.8v-110.8h3.75v110.8zM1506.16 677.8v-121.4h3.75v121.4zM1510.64 677.8v-123.4h3.75v123.4zM1515.12 677.8v-128.5h3.75v128.5zM1519.61 677.8v-137.8h3.75v137.8z" fill="#0b0b2a"/><path d="M800.2 532.8V677.8H1533.8" stroke="#262626" stroke-width="2.0" fill="none"/><path d="M794.2 677.8L800.2 677.8" stroke="#262626" stroke-width="2"/><path d="M794.2 677.8L800.2 677.8" stroke="#262626" stroke-width="2"/><text x="786.2" y="688.1" font-size="29" text-anchor="end" fill="#262626">0</text><path d="M794.2 567L800.2 567" stroke="#262626" stroke-width="2"/><text x="786.2" y="577.3" font-size="29" text-anchor="end" fill="#262626">0.5</text><path d="M800.2 677.8L800.2 684.3" stroke="#262626" stroke-width="2"/><text x="800.2" y="709.3" font-size="29" text-anchor="middle" fill="#262626">0</text><path d="M889.8 677.8L889.8 684.3" stroke="#262626" stroke-width="2"/><text x="889.8" y="709.3" font-size="29" text-anchor="middle" fill="#262626">20</text><path d="M979.4 677.8L979.4 684.3" stroke="#262626" stroke-width="2"/><text x="979.4" y="709.3" font-size="29" text-anchor="middle" fill="#262626">40</text><path d="M1069 677.8L1069 684.3" stroke="#262626" stroke-width="2"/><text x="1069" y="709.3" font-size="29" text-anchor="middle" fill="#262626">60</text><path d="M1158.6 677.8L1158.6 684.3" stroke="#262626" stroke-width="2"/><text x="1158.6" y="709.3" font-size="29" text-anchor="middle" fill="#262626">80</text><path d="M1248.2 677.8L1248.2 684.3" stroke="#262626" stroke-width="2"/><text x="1248.2" y="709.3" font-size="29" text-anchor="middle" fill="#262626">100</text><path d="M1337.8 677.8L1337.8 684.3" stroke="#262626" stroke-width="2"/><text x="1337.8" y="709.3" font-size="29" text-anchor="middle" fill="#262626">120</text><path d="M1427.4 677.8L1427.4 684.3" stroke="#262626" stroke-width="2"/><text x="1427.4" y="709.3" font-size="29" text-anchor="middle" fill="#262626">140</text><path d="M1517 677.8L1517 684.3" stroke="#262626" stroke-width="2"/><text x="1517" y="709.3" font-size="29" text-anchor="middle" fill="#262626">160</text><text x="729" y="622.8" font-size="29" transform="rotate(-90 729 622.8)">r<tspan font-size="16" dy="-9.5" dx="1.8">2</tspan></text><path d="M802.88 911.7v-60.4h3.6v60.4zM807.36 911.7v-35.3h3.6v35.3zM811.84 911.7v-11.8h3.6v11.8zM816.32 911.7v-23.6h3.6v23.6zM820.8 911.7v-33.9h3.6v33.9zM825.28 911.7v-41.2h3.6v41.2zM829.76 911.7v-13.2h3.6v13.2zM834.24 911.7v-44.2h3.6v44.2zM838.72 911.7v-139.8h3.6v139.8zM843.2 911.7v-33.9h3.6v33.9zM847.68 911.7v-41.2h3.6v41.2zM852.16 911.7v-50h3.6v50zM856.64 911.7v-33.9h3.6v33.9zM861.12 911.7v-23.6h3.6v23.6zM865.6 911.7v-41.2h3.6v41.2zM870.08 911.7v-38.3h3.6v38.3zM874.56 911.7v-141.3h3.6v141.3zM879.04 911.7v-2.9h3.6v2.9zM883.52 911.7v-32.4h3.6v32.4zM888 911.7v-14.7h3.6v14.7zM892.48 911.7v-11.8h3.6v11.8zM896.96 911.7v-44.2h3.6v44.2zM901.44 911.7v-50h3.6v50zM905.92 911.7v-17.7h3.6v17.7zM910.4 911.7v-38.3h3.6v38.3zM914.88 911.7v-4.4h3.6v4.4zM919.36 911.7v-128.1h3.6v128.1zM923.84 911.7v-14.7h3.6v14.7zM928.32 911.7v-36.8h3.6v36.8zM932.8 911.7v-2.9h3.6v2.9zM937.28 911.7v-54.5h3.6v54.5zM941.76 911.7v-72.1h3.6v72.1zM946.24 911.7v-69.2h3.6v69.2zM950.72 911.7v-39.7h3.6v39.7zM955.2 911.7v-66.2h3.6v66.2zM959.68 911.7v-53h3.6v53zM964.16 911.7v-10.3h3.6v10.3zM968.64 911.7v-75.1h3.6v75.1zM973.12 911.7v-11.8h3.6v11.8zM982.08 911.7v-7.4h3.6v7.4zM986.56 911.7v-1.5h3.6v1.5zM991.04 911.7v-5.9h3.6v5.9zM995.52 911.7v-50h3.6v50zM1000 911.7v-70.7h3.6v70.7zM1004.48 911.7v-26.5h3.6v26.5zM1008.96 911.7v-48.6h3.6v48.6zM1013.44 911.7v-86.8h3.6v86.8zM1017.92 911.7v-14.7h3.6v14.7zM1022.4 911.7v-4.4h3.6v4.4zM1026.88 911.7v-4.4h3.6v4.4zM1031.36 911.7v-26.5h3.6v26.5zM1035.84 911.7v-17.7h3.6v17.7zM1040.32 911.7v-13.2h3.6v13.2zM1044.8 911.7v-41.2h3.6v41.2zM1049.28 911.7v-48.6h3.6v48.6zM1053.76 911.7v-70.7h3.6v70.7zM1058.24 911.7v-88.3h3.6v88.3zM1062.72 911.7v-76.5h3.6v76.5zM1067.2 911.7v-19.1h3.6v19.1zM1071.68 911.7v-25h3.6v25zM1076.16 911.7v-86.8h3.6v86.8zM1080.64 911.7v-111.9h3.6v111.9zM1085.12 911.7v-11.8h3.6v11.8zM1089.6 911.7v-82.4h3.6v82.4zM1094.08 911.7v-64.8h3.6v64.8zM1098.56 911.7v-35.3h3.6v35.3zM1103.04 911.7v-78h3.6v78zM1107.52 911.7v-50h3.6v50zM1112 911.7v-14.7h3.6v14.7zM1116.48 911.7v-76.5h3.6v76.5zM1120.96 911.7v-38.3h3.6v38.3zM1125.44 911.7v-54.5h3.6v54.5zM1129.92 911.7v-54.5h3.6v54.5zM1134.4 911.7v-11.8h3.6v11.8zM1138.88 911.7v-38.3h3.6v38.3zM1143.36 911.7v-82.4h3.6v82.4zM1147.84 911.7v-53h3.6v53zM1152.32 911.7v-16.2h3.6v16.2zM1156.8 911.7v-47.1h3.6v47.1zM1161.28 911.7v-25h3.6v25zM1165.76 911.7v-86.8h3.6v86.8zM1170.24 911.7v-81h3.6v81zM1174.72 911.7v-20.6h3.6v20.6zM1179.2 911.7v-14.7h3.6v14.7zM1183.68 911.7v-11.8h3.6v11.8zM1188.16 911.7v-95.7h3.6v95.7zM1192.64 911.7v-35.3h3.6v35.3zM1197.12 911.7v-25h3.6v25zM1201.6 911.7v-33.9h3.6v33.9zM1206.08 911.7v-70.7h3.6v70.7zM1210.56 911.7v-95.7h3.6v95.7zM1215.04 911.7v-67.7h3.6v67.7zM1219.52 911.7v-47.1h3.6v47.1zM1224 911.7v-16.2h3.6v16.2zM1228.48 911.7v-94.2h3.6v94.2zM1232.96 911.7v-10.3h3.6v10.3zM1237.44 911.7v-16.2h3.6v16.2zM1241.92 911.7v-66.2h3.6v66.2zM1246.4 911.7v-2.9h3.6v2.9zM1250.88 911.7v-25h3.6v25zM1255.36 911.7v-57.4h3.6v57.4zM1259.84 911.7v-72.1h3.6v72.1zM1264.32 911.7v-2.9h3.6v2.9zM1268.8 911.7v-64.8h3.6v64.8zM1273.28 911.7v-16.2h3.6v16.2zM1277.76 911.7v-55.9h3.6v55.9zM1282.24 911.7v-25h3.6v25zM1286.72 911.7v-22.1h3.6v22.1zM1291.2 911.7v-30.9h3.6v30.9zM1295.68 911.7v-61.8h3.6v61.8zM1300.16 911.7v-28h3.6v28zM1304.64 911.7v-23.6h3.6v23.6zM1309.12 911.7v-16.2h3.6v16.2zM1313.6 911.7v-63.3h3.6v63.3zM1318.08 911.7v-14.7h3.6v14.7zM1322.56 911.7v-30.9h3.6v30.9zM1327.04 911.7v-42.7h3.6v42.7zM1331.52 911.7v-41.2h3.6v41.2zM1336 911.7v-28h3.6v28zM1340.48 911.7v-16.2h3.6v16.2zM1344.96 911.7v-35.3h3.6v35.3zM1349.44 911.7v-36.8h3.6v36.8zM1353.92 911.7v-20.6h3.6v20.6zM1358.4 911.7v-39.7h3.6v39.7zM1362.88 911.7v-51.5h3.6v51.5zM1367.36 911.7v-16.2h3.6v16.2zM1371.84 911.7v-41.2h3.6v41.2zM1376.32 911.7v-60.4h3.6v60.4zM1380.8 911.7v-35.3h3.6v35.3zM1385.28 911.7v-66.2h3.6v66.2zM1389.76 911.7v-16.2h3.6v16.2zM1394.24 911.7v-14.7h3.6v14.7zM1398.72 911.7v-17.7h3.6v17.7zM1403.2 911.7v-82.4h3.6v82.4zM1407.68 911.7v-16.2h3.6v16.2zM1412.16 911.7v-75.1h3.6v75.1zM1416.64 911.7v-22.1h3.6v22.1zM1421.12 911.7v-16.2h3.6v16.2zM1425.6 911.7v-61.8h3.6v61.8zM1430.08 911.7v-54.5h3.6v54.5zM1434.56 911.7v-32.4h3.6v32.4zM1439.04 911.7v-33.9h3.6v33.9zM1443.52 911.7v-39.7h3.6v39.7zM1448 911.7v-44.2h3.6v44.2zM1452.48 911.7v-61.8h3.6v61.8zM1456.96 911.7v-29.4h3.6v29.4zM1461.44 911.7v-41.2h3.6v41.2zM1465.92 911.7v-50h3.6v50zM1470.4 911.7v-39.7h3.6v39.7zM1474.88 911.7v-25h3.6v25zM1479.36 911.7v-23.6h3.6v23.6zM1483.84 911.7v-22.1h3.6v22.1zM1488.32 911.7v-66.2h3.6v66.2zM1492.8 911.7v-29.4h3.6v29.4zM1497.28 911.7v-39.7h3.6v39.7zM1501.76 911.7v-38.3h3.6v38.3zM1506.24 911.7v-33.9h3.6v33.9zM1510.72 911.7v-44.2h3.6v44.2zM1515.2 911.7v-51.5h3.6v51.5zM1519.68 911.7v-20.6h3.6v20.6z" fill="#1212dc"/><path d="M800.2 764.5V911.7H1533.8" stroke="#262626" stroke-width="2.2" fill="none"/><path d="M794.2 911.7L800.2 911.7" stroke="#262626" stroke-width="2.2"/><path d="M794.2 911.7L800.2 911.7" stroke="#262626" stroke-width="2.2"/><text x="786.2" y="922" font-size="29" text-anchor="end" fill="#262626">0</text><path d="M794.2 838.1L800.2 838.1" stroke="#262626" stroke-width="2.2"/><text x="786.2" y="848.4" font-size="29" text-anchor="end" fill="#262626">50</text><path d="M794.2 764.5L800.2 764.5" stroke="#262626" stroke-width="2.2"/><text x="786.2" y="774.8" font-size="29" text-anchor="end" fill="#262626">100</text><path d="M800.2 911.7L800.2 918.2" stroke="#262626" stroke-width="2.2"/><text x="800.2" y="943.2" font-size="29" text-anchor="middle" fill="#262626">0</text><path d="M889.8 911.7L889.8 918.2" stroke="#262626" stroke-width="2.2"/><text x="889.8" y="943.2" font-size="29" text-anchor="middle" fill="#262626">20</text><path d="M979.4 911.7L979.4 918.2" stroke="#262626" stroke-width="2.2"/><text x="979.4" y="943.2" font-size="29" text-anchor="middle" fill="#262626">40</text><path d="M1069 911.7L1069 918.2" stroke="#262626" stroke-width="2.2"/><text x="1069" y="943.2" font-size="29" text-anchor="middle" fill="#262626">60</text><path d="M1158.6 911.7L1158.6 918.2" stroke="#262626" stroke-width="2.2"/><text x="1158.6" y="943.2" font-size="29" text-anchor="middle" fill="#262626">80</text><path d="M1248.2 911.7L1248.2 918.2" stroke="#262626" stroke-width="2.2"/><text x="1248.2" y="943.2" font-size="29" text-anchor="middle" fill="#262626">100</text><path d="M1337.8 911.7L1337.8 918.2" stroke="#262626" stroke-width="2.2"/><text x="1337.8" y="943.2" font-size="29" text-anchor="middle" fill="#262626">120</text><path d="M1427.4 911.7L1427.4 918.2" stroke="#262626" stroke-width="2.2"/><text x="1427.4" y="943.2" font-size="29" text-anchor="middle" fill="#262626">140</text><path d="M1517 911.7L1517 918.2" stroke="#262626" stroke-width="2.2"/><text x="1517" y="943.2" font-size="29" text-anchor="middle" fill="#262626">160</text><text x="1522" y="780" font-size="29" text-anchor="end" fill="#1414c8">pupil</text><text x="729" y="846.8" font-size="29" text-anchor="middle" transform="rotate(-90 729 846.8)">% contrib</text><path d="M802.88 1139.5v-11.3h3.6v11.3zM807.36 1139.5v-15.5h3.6v15.5zM811.84 1139.5v-4.2h3.6v4.2zM816.32 1139.5v-22.5h3.6v22.5zM820.8 1139.5v-29.6h3.6v29.6zM834.24 1139.5v-42.3h3.6v42.3zM847.68 1139.5v-2.8h3.6v2.8zM852.16 1139.5v-2.8h3.6v2.8zM856.64 1139.5v-53.5h3.6v53.5zM861.12 1139.5v-104.3h3.6v104.3zM865.6 1139.5v-2.8h3.6v2.8zM870.08 1139.5v-21.1h3.6v21.1zM879.04 1139.5v-122.6h3.6v122.6zM883.52 1139.5v-53.5h3.6v53.5zM888 1139.5v-2.8h3.6v2.8zM892.48 1139.5v-8.5h3.6v8.5zM896.96 1139.5v-18.3h3.6v18.3zM905.92 1139.5v-19.7h3.6v19.7zM914.88 1139.5v-11.3h3.6v11.3zM919.36 1139.5v-4.2h3.6v4.2zM923.84 1139.5v-19.7h3.6v19.7zM928.32 1139.5v-69h3.6v69zM932.8 1139.5v-124h3.6v124zM937.28 1139.5v-15.5h3.6v15.5zM941.76 1139.5v-5.6h3.6v5.6zM946.24 1139.5v-5.6h3.6v5.6zM955.2 1139.5v-14.1h3.6v14.1zM959.68 1139.5v-90.2h3.6v90.2zM968.64 1139.5v-66.2h3.6v66.2zM973.12 1139.5v-5.6h3.6v5.6zM977.6 1139.5v-2.8h3.6v2.8zM991.04 1139.5v-33.8h3.6v33.8zM995.52 1139.5v-1.4h3.6v1.4zM1000 1139.5v-29.6h3.6v29.6zM1004.48 1139.5v-38h3.6v38zM1008.96 1139.5v-11.3h3.6v11.3zM1017.92 1139.5v-28.2h3.6v28.2zM1022.4 1139.5v-8.5h3.6v8.5zM1031.36 1139.5v-28.2h3.6v28.2zM1040.32 1139.5v-1.4h3.6v1.4zM1044.8 1139.5v-78.9h3.6v78.9zM1053.76 1139.5v-4.2h3.6v4.2zM1058.24 1139.5v-31h3.6v31zM1062.72 1139.5v-42.3h3.6v42.3zM1067.2 1139.5v-11.3h3.6v11.3zM1071.68 1139.5v-55h3.6v55zM1076.16 1139.5v-21.1h3.6v21.1zM1089.6 1139.5v-1.4h3.6v1.4zM1098.56 1139.5v-9.9h3.6v9.9zM1107.52 1139.5v-83.1h3.6v83.1zM1112 1139.5v-9.9h3.6v9.9zM1116.48 1139.5v-52.1h3.6v52.1zM1134.4 1139.5v-21.1h3.6v21.1zM1138.88 1139.5v-4.2h3.6v4.2zM1152.32 1139.5v-22.5h3.6v22.5zM1165.76 1139.5v-29.6h3.6v29.6zM1170.24 1139.5v-25.4h3.6v25.4zM1179.2 1139.5v-9.9h3.6v9.9zM1197.12 1139.5v-2.8h3.6v2.8zM1201.6 1139.5v-5.6h3.6v5.6zM1210.56 1139.5v-7h3.6v7zM1215.04 1139.5v-7h3.6v7zM1228.48 1139.5v-9.9h3.6v9.9zM1232.96 1139.5v-25.4h3.6v25.4zM1237.44 1139.5v-2.8h3.6v2.8zM1241.92 1139.5v-4.2h3.6v4.2zM1246.4 1139.5v-22.5h3.6v22.5zM1250.88 1139.5v-8.5h3.6v8.5zM1255.36 1139.5v-7h3.6v7zM1259.84 1139.5v-11.3h3.6v11.3zM1273.28 1139.5v-2.8h3.6v2.8zM1277.76 1139.5v-9.9h3.6v9.9zM1282.24 1139.5v-60.6h3.6v60.6zM1286.72 1139.5v-15.5h3.6v15.5zM1295.68 1139.5v-2.8h3.6v2.8zM1304.64 1139.5v-5.6h3.6v5.6zM1309.12 1139.5v-32.4h3.6v32.4zM1318.08 1139.5v-4.2h3.6v4.2zM1322.56 1139.5v-5.6h3.6v5.6zM1327.04 1139.5v-2.8h3.6v2.8zM1340.48 1139.5v-4.2h3.6v4.2zM1344.96 1139.5v-2.8h3.6v2.8zM1358.4 1139.5v-46.5h3.6v46.5zM1367.36 1139.5v-32.4h3.6v32.4zM1371.84 1139.5v-40.9h3.6v40.9zM1376.32 1139.5v-1.4h3.6v1.4zM1380.8 1139.5v-11.3h3.6v11.3zM1389.76 1139.5v-31h3.6v31zM1394.24 1139.5v-2.8h3.6v2.8zM1398.72 1139.5v-4.2h3.6v4.2zM1416.64 1139.5v-14.1h3.6v14.1zM1443.52 1139.5v-2.8h3.6v2.8zM1461.44 1139.5v-1.4h3.6v1.4zM1474.88 1139.5v-2.8h3.6v2.8zM1497.28 1139.5v-7h3.6v7z" fill="#f014f0"/><path d="M800.2 998.6V1139.5H1533.8" stroke="#262626" stroke-width="2.2" fill="none"/><path d="M794.2 1139.5L800.2 1139.5" stroke="#262626" stroke-width="2.2"/><path d="M794.2 1139.5L800.2 1139.5" stroke="#262626" stroke-width="2.2"/><text x="786.2" y="1152.1" font-size="29" text-anchor="end" fill="#262626">0</text><path d="M794.2 1069.05L800.2 1069.05" stroke="#262626" stroke-width="2.2"/><text x="786.2" y="1081.6" font-size="29" text-anchor="end" fill="#262626">50</text><path d="M794.2 998.6L800.2 998.6" stroke="#262626" stroke-width="2.2"/><text x="786.2" y="1011.2" font-size="29" text-anchor="end" fill="#262626">100</text><path d="M800.2 1139.5L800.2 1146" stroke="#262626" stroke-width="2.2"/><text x="800.2" y="1171" font-size="29" text-anchor="middle" fill="#262626">0</text><path d="M889.8 1139.5L889.8 1146" stroke="#262626" stroke-width="2.2"/><text x="889.8" y="1171" font-size="29" text-anchor="middle" fill="#262626">20</text><path d="M979.4 1139.5L979.4 1146" stroke="#262626" stroke-width="2.2"/><text x="979.4" y="1171" font-size="29" text-anchor="middle" fill="#262626">40</text><path d="M1069 1139.5L1069 1146" stroke="#262626" stroke-width="2.2"/><text x="1069" y="1171" font-size="29" text-anchor="middle" fill="#262626">60</text><path d="M1158.6 1139.5L1158.6 1146" stroke="#262626" stroke-width="2.2"/><text x="1158.6" y="1171" font-size="29" text-anchor="middle" fill="#262626">80</text><path d="M1248.2 1139.5L1248.2 1146" stroke="#262626" stroke-width="2.2"/><text x="1248.2" y="1171" font-size="29" text-anchor="middle" fill="#262626">100</text><path d="M1337.8 1139.5L1337.8 1146" stroke="#262626" stroke-width="2.2"/><text x="1337.8" y="1171" font-size="29" text-anchor="middle" fill="#262626">120</text><path d="M1427.4 1139.5L1427.4 1146" stroke="#262626" stroke-width="2.2"/><text x="1427.4" y="1171" font-size="29" text-anchor="middle" fill="#262626">140</text><path d="M1517 1139.5L1517 1146" stroke="#262626" stroke-width="2.2"/><text x="1517" y="1171" font-size="29" text-anchor="middle" fill="#262626">160</text><text x="1517" y="1032.4" font-size="29" text-anchor="end" fill="#e61ee6">reward</text><text x="729" y="1079" font-size="29" text-anchor="middle" transform="rotate(-90 729 1079)">% contrib</text><path d="M807.36 1371v-11h3.6v11zM811.84 1371v-35.8h3.6v35.8zM816.32 1371v-9.6h3.6v9.6zM820.8 1371v-15.1h3.6v15.1zM825.28 1371v-11h3.6v11zM829.76 1371v-44.1h3.6v44.1zM838.72 1371v-79.9h3.6v79.9zM843.2 1371v-12.4h3.6v12.4zM852.16 1371v-42.7h3.6v42.7zM856.64 1371v-2.8h3.6v2.8zM865.6 1371v-15.1h3.6v15.1zM870.08 1371v-5.5h3.6v5.5zM874.56 1371v-34.4h3.6v34.4zM879.04 1371v-4.1h3.6v4.1zM883.52 1371v-5.5h3.6v5.5zM888 1371v-2.8h3.6v2.8zM892.48 1371v-1.4h3.6v1.4zM896.96 1371v-26.2h3.6v26.2zM905.92 1371v-5.5h3.6v5.5zM914.88 1371v-1.4h3.6v1.4zM919.36 1371v-24.8h3.6v24.8zM923.84 1371v-16.5h3.6v16.5zM928.32 1371v-4.1h3.6v4.1zM941.76 1371v-1.4h3.6v1.4zM946.24 1371v-1.4h3.6v1.4zM950.72 1371v-45.4h3.6v45.4zM955.2 1371v-1.4h3.6v1.4zM959.68 1371v-15.1h3.6v15.1zM964.16 1371v-4.1h3.6v4.1zM968.64 1371v-13.8h3.6v13.8zM973.12 1371v-28.9h3.6v28.9zM977.6 1371v-49.6h3.6v49.6zM982.08 1371v-50.9h3.6v50.9zM986.56 1371v-6.9h3.6v6.9zM991.04 1371v-2.8h3.6v2.8zM995.52 1371v-6.9h3.6v6.9zM1000 1371v-1.4h3.6v1.4zM1004.48 1371v-8.3h3.6v8.3zM1017.92 1371v-5.5h3.6v5.5zM1022.4 1371v-30.3h3.6v30.3zM1026.88 1371v-41.3h3.6v41.3zM1031.36 1371v-23.4h3.6v23.4zM1035.84 1371v-5.5h3.6v5.5zM1040.32 1371v-41.3h3.6v41.3zM1044.8 1371v-44.1h3.6v44.1zM1049.28 1371v-12.4h3.6v12.4zM1058.24 1371v-4.1h3.6v4.1zM1067.2 1371v-23.4h3.6v23.4zM1071.68 1371v-5.5h3.6v5.5zM1076.16 1371v-1.4h3.6v1.4zM1080.64 1371v-8.3h3.6v8.3zM1085.12 1371v-30.3h3.6v30.3zM1089.6 1371v-6.9h3.6v6.9zM1094.08 1371v-2.8h3.6v2.8zM1098.56 1371v-11h3.6v11zM1107.52 1371v-28.9h3.6v28.9zM1112 1371v-2.8h3.6v2.8zM1116.48 1371v-12.4h3.6v12.4zM1120.96 1371v-9.6h3.6v9.6zM1125.44 1371v-6.9h3.6v6.9zM1129.92 1371v-5.5h3.6v5.5zM1138.88 1371v-9.6h3.6v9.6zM1147.84 1371v-15.1h3.6v15.1zM1156.8 1371v-5.5h3.6v5.5zM1161.28 1371v-26.2h3.6v26.2zM1165.76 1371v-8.3h3.6v8.3zM1170.24 1371v-4.1h3.6v4.1zM1174.72 1371v-30.3h3.6v30.3zM1183.68 1371v-39.9h3.6v39.9zM1188.16 1371v-4.1h3.6v4.1zM1192.64 1371v-11h3.6v11zM1197.12 1371v-19.3h3.6v19.3zM1201.6 1371v-20.7h3.6v20.7zM1206.08 1371v-5.5h3.6v5.5zM1210.56 1371v-4.1h3.6v4.1zM1219.52 1371v-5.5h3.6v5.5zM1224 1371v-30.3h3.6v30.3zM1228.48 1371v-2.8h3.6v2.8zM1232.96 1371v-28.9h3.6v28.9zM1237.44 1371v-37.2h3.6v37.2zM1241.92 1371v-16.5h3.6v16.5zM1246.4 1371v-45.4h3.6v45.4zM1255.36 1371v-8.3h3.6v8.3zM1264.32 1371v-55.1h3.6v55.1zM1273.28 1371v-33h3.6v33zM1282.24 1371v-11h3.6v11zM1286.72 1371v-17.9h3.6v17.9zM1291.2 1371v-22h3.6v22zM1304.64 1371v-28.9h3.6v28.9zM1313.6 1371v-2.8h3.6v2.8zM1322.56 1371v-15.1h3.6v15.1zM1327.04 1371v-9.6h3.6v9.6zM1331.52 1371v-35.8h3.6v35.8zM1336 1371v-8.3h3.6v8.3zM1353.92 1371v-23.4h3.6v23.4zM1362.88 1371v-8.3h3.6v8.3zM1367.36 1371v-45.4h3.6v45.4zM1371.84 1371v-9.6h3.6v9.6zM1376.32 1371v-4.1h3.6v4.1zM1380.8 1371v-20.7h3.6v20.7zM1389.76 1371v-42.7h3.6v42.7zM1394.24 1371v-39.9h3.6v39.9zM1398.72 1371v-38.6h3.6v38.6zM1403.2 1371v-9.6h3.6v9.6zM1407.68 1371v-34.4h3.6v34.4zM1416.64 1371v-19.3h3.6v19.3zM1421.12 1371v-27.5h3.6v27.5zM1425.6 1371v-4.1h3.6v4.1zM1430.08 1371v-5.5h3.6v5.5zM1434.56 1371v-12.4h3.6v12.4zM1439.04 1371v-17.9h3.6v17.9zM1448 1371v-11h3.6v11zM1452.48 1371v-2.8h3.6v2.8zM1456.96 1371v-6.9h3.6v6.9zM1461.44 1371v-15.1h3.6v15.1zM1465.92 1371v-4.1h3.6v4.1zM1470.4 1371v-13.8h3.6v13.8zM1474.88 1371v-28.9h3.6v28.9zM1479.36 1371v-28.9h3.6v28.9zM1483.84 1371v-28.9h3.6v28.9zM1492.8 1371v-23.4h3.6v23.4zM1497.28 1371v-8.3h3.6v8.3zM1501.76 1371v-15.1h3.6v15.1zM1506.24 1371v-12.4h3.6v12.4zM1510.72 1371v-5.5h3.6v5.5zM1515.2 1371v-8.3h3.6v8.3zM1519.68 1371v-23.4h3.6v23.4z" fill="#1478c8"/><path d="M800.2 1233.3V1371H1533.8" stroke="#262626" stroke-width="2.2" fill="none"/><path d="M794.2 1371L800.2 1371" stroke="#262626" stroke-width="2.2"/><path d="M794.2 1371L800.2 1371" stroke="#262626" stroke-width="2.2"/><text x="786.2" y="1381.6" font-size="29" text-anchor="end" fill="#262626">0</text><path d="M794.2 1302.15L800.2 1302.15" stroke="#262626" stroke-width="2.2"/><text x="786.2" y="1312.8" font-size="29" text-anchor="end" fill="#262626">50</text><path d="M794.2 1233.3L800.2 1233.3" stroke="#262626" stroke-width="2.2"/><text x="786.2" y="1243.9" font-size="29" text-anchor="end" fill="#262626">100</text><path d="M800.2 1371L800.2 1377.5" stroke="#262626" stroke-width="2.2"/><text x="800.2" y="1402.5" font-size="29" text-anchor="middle" fill="#262626">0</text><path d="M889.8 1371L889.8 1377.5" stroke="#262626" stroke-width="2.2"/><text x="889.8" y="1402.5" font-size="29" text-anchor="middle" fill="#262626">20</text><path d="M979.4 1371L979.4 1377.5" stroke="#262626" stroke-width="2.2"/><text x="979.4" y="1402.5" font-size="29" text-anchor="middle" fill="#262626">40</text><path d="M1069 1371L1069 1377.5" stroke="#262626" stroke-width="2.2"/><text x="1069" y="1402.5" font-size="29" text-anchor="middle" fill="#262626">60</text><path d="M1158.6 1371L1158.6 1377.5" stroke="#262626" stroke-width="2.2"/><text x="1158.6" y="1402.5" font-size="29" text-anchor="middle" fill="#262626">80</text><path d="M1248.2 1371L1248.2 1377.5" stroke="#262626" stroke-width="2.2"/><text x="1248.2" y="1402.5" font-size="29" text-anchor="middle" fill="#262626">100</text><path d="M1337.8 1371L1337.8 1377.5" stroke="#262626" stroke-width="2.2"/><text x="1337.8" y="1402.5" font-size="29" text-anchor="middle" fill="#262626">120</text><path d="M1427.4 1371L1427.4 1377.5" stroke="#262626" stroke-width="2.2"/><text x="1427.4" y="1402.5" font-size="29" text-anchor="middle" fill="#262626">140</text><path d="M1517 1371L1517 1377.5" stroke="#262626" stroke-width="2.2"/><text x="1517" y="1402.5" font-size="29" text-anchor="middle" fill="#262626">160</text><text x="1514.5" y="1255" font-size="29" text-anchor="end" fill="#1273b5">motion</text><text x="729" y="1301.5" font-size="29" text-anchor="middle" transform="rotate(-90 729 1301.5)">% contrib</text><text x="1143.2" y="1445.5" font-size="29" text-anchor="middle">Cell number</text><path d="M1632.43 676.7v-21.6h6.6v21.6zM1640.36 676.7v-22.4h6.6v22.4zM1648.29 676.7v-24.8h6.6v24.8zM1656.22 676.7v-32h6.6v32zM1664.15 676.7v-36.8h6.6v36.8zM1672.08 676.7v-39.2h6.6v39.2zM1680.01 676.7v-41.3h6.6v41.3zM1687.94 676.7v-43.3h6.6v43.3zM1695.87 676.7v-43.3h6.6v43.3zM1703.8 676.7v-45.3h6.6v45.3zM1711.73 676.7v-45.7h6.6v45.7zM1719.66 676.7v-45.9h6.6v45.9zM1727.59 676.7v-46.1h6.6v46.1zM1735.52 676.7v-51.3h6.6v51.3zM1743.45 676.7v-51.3h6.6v51.3zM1751.38 676.7v-51.7h6.6v51.7zM1759.31 676.7v-52.1h6.6v52.1zM1767.24 676.7v-53.3h6.6v53.3zM1775.17 676.7v-57.3h6.6v57.3zM1783.1 676.7v-58.1h6.6v58.1zM1791.03 676.7v-59.3h6.6v59.3zM1798.96 676.7v-59.7h6.6v59.7zM1806.89 676.7v-59.7h6.6v59.7zM1814.82 676.7v-62.9h6.6v62.9zM1822.75 676.7v-63.3h6.6v63.3zM1830.68 676.7v-63.7h6.6v63.7zM1838.61 676.7v-69.3h6.6v69.3zM1846.54 676.7v-70.1h6.6v70.1zM1854.47 676.7v-74.1h6.6v74.1zM1862.4 676.7v-75.3h6.6v75.3zM1870.33 676.7v-78.5h6.6v78.5zM1878.26 676.7v-80.1h6.6v80.1zM1886.19 676.7v-84.5h6.6v84.5zM1894.12 676.7v-85.3h6.6v85.3zM1902.05 676.7v-90.1h6.6v90.1zM1909.98 676.7v-92.1h6.6v92.1zM1917.91 676.7v-93.3h6.6v93.3zM1925.84 676.7v-101.7h6.6v101.7zM1933.77 676.7v-112.5h6.6v112.5zM1941.7 676.7v-114.1h6.6v114.1zM1949.63 676.7v-120.6h6.6v120.6zM1957.56 676.7v-153.8h6.6v153.8zM1965.49 676.7v-157.8h6.6v157.8z" fill="#0b0b2a"/><path d="M1627 516.5V676.7H1982.6" stroke="#262626" stroke-width="2.5" fill="none"/><path d="M1621 676.7L1627 676.7" stroke="#262626" stroke-width="2.5"/><path d="M1621 676.7L1627 676.7" stroke="#262626" stroke-width="2.5"/><text x="1614" y="687" font-size="29" text-anchor="end" fill="#262626">0</text><path d="M1621 596.9L1627 596.9" stroke="#262626" stroke-width="2.5"/><text x="1614" y="607.2" font-size="29" text-anchor="end" fill="#262626">0.2</text><path d="M1621 516.5L1627 516.5" stroke="#262626" stroke-width="2.5"/><text x="1614" y="526.8" font-size="29" text-anchor="end" fill="#262626">0.4</text><path d="M1627.8 676.7L1627.8 683.2" stroke="#262626" stroke-width="2.5"/><text x="1627.8" y="708.2" font-size="29" text-anchor="middle" fill="#262626">0</text><path d="M1707.1 676.7L1707.1 683.2" stroke="#262626" stroke-width="2.5"/><text x="1707.1" y="708.2" font-size="29" text-anchor="middle" fill="#262626">10</text><path d="M1786.4 676.7L1786.4 683.2" stroke="#262626" stroke-width="2.5"/><text x="1786.4" y="708.2" font-size="29" text-anchor="middle" fill="#262626">20</text><path d="M1865.7 676.7L1865.7 683.2" stroke="#262626" stroke-width="2.5"/><text x="1865.7" y="708.2" font-size="29" text-anchor="middle" fill="#262626">30</text><path d="M1945 676.7L1945 683.2" stroke="#262626" stroke-width="2.5"/><text x="1945" y="708.2" font-size="29" text-anchor="middle" fill="#262626">40</text><path d="M1632.53 908.5v-12.8h6.4v12.8zM1648.39 908.5v-63.9h6.4v63.9zM1656.32 908.5v-54.3h6.4v54.3zM1664.25 908.5v-6.4h6.4v6.4zM1672.18 908.5v-68.7h6.4v68.7zM1688.04 908.5v-1.6h6.4v1.6zM1695.97 908.5v-55.9h6.4v55.9zM1703.9 908.5v-9.6h6.4v9.6zM1735.62 908.5v-1.6h6.4v1.6zM1743.55 908.5v-32h6.4v32zM1751.48 908.5v-12.8h6.4v12.8zM1759.41 908.5v-12.8h6.4v12.8zM1767.34 908.5v-6.4h6.4v6.4zM1775.27 908.5v-11.2h6.4v11.2zM1783.2 908.5v-17.6h6.4v17.6zM1791.13 908.5v-20.8h6.4v20.8zM1799.06 908.5v-3.2h6.4v3.2zM1806.99 908.5v-127.8h6.4v127.8zM1822.85 908.5v-30.4h6.4v30.4zM1830.78 908.5v-9.6h6.4v9.6zM1846.64 908.5v-24h6.4v24zM1854.57 908.5v-6.4h6.4v6.4zM1862.5 908.5v-17.6h6.4v17.6zM1870.43 908.5v-17.6h6.4v17.6zM1878.36 908.5v-28h6.4v28zM1886.29 908.5v-28.8h6.4v28.8zM1894.22 908.5v-3.2h6.4v3.2zM1902.15 908.5v-25.6h6.4v25.6zM1910.08 908.5v-14.4h6.4v14.4zM1918.01 908.5v-4.8h6.4v4.8zM1925.94 908.5v-6.4h6.4v6.4zM1933.87 908.5v-14.4h6.4v14.4zM1941.8 908.5v-17.6h6.4v17.6zM1949.73 908.5v-4.8h6.4v4.8zM1957.66 908.5v-41.5h6.4v41.5zM1965.59 908.5v-36.8h6.4v36.8z" fill="#1212dc"/><path d="M1627 748.7V908.5H1982.6" stroke="#262626" stroke-width="2.5" fill="none"/><path d="M1621 908.5L1627 908.5" stroke="#262626" stroke-width="2.5"/><path d="M1621 908.5L1627 908.5" stroke="#262626" stroke-width="2.5"/><text x="1614" y="918.8" font-size="29" text-anchor="end" fill="#262626">0</text><path d="M1621 828.6L1627 828.6" stroke="#262626" stroke-width="2.5"/><text x="1614" y="838.9" font-size="29" text-anchor="end" fill="#262626">50</text><path d="M1621 748.7L1627 748.7" stroke="#262626" stroke-width="2.5"/><text x="1614" y="759" font-size="29" text-anchor="end" fill="#262626">100</text><path d="M1627.8 908.5L1627.8 915" stroke="#262626" stroke-width="2.5"/><text x="1627.8" y="940" font-size="29" text-anchor="middle" fill="#262626">0</text><path d="M1707.1 908.5L1707.1 915" stroke="#262626" stroke-width="2.5"/><text x="1707.1" y="940" font-size="29" text-anchor="middle" fill="#262626">10</text><path d="M1786.4 908.5L1786.4 915" stroke="#262626" stroke-width="2.5"/><text x="1786.4" y="940" font-size="29" text-anchor="middle" fill="#262626">20</text><path d="M1865.7 908.5L1865.7 915" stroke="#262626" stroke-width="2.5"/><text x="1865.7" y="940" font-size="29" text-anchor="middle" fill="#262626">30</text><path d="M1945 908.5L1945 915" stroke="#262626" stroke-width="2.5"/><text x="1945" y="940" font-size="29" text-anchor="middle" fill="#262626">40</text><path d="M1632.53 1141.4v-9.6h6.4v9.6zM1648.39 1141.4v-8h6.4v8zM1664.25 1141.4v-49.7h6.4v49.7zM1672.18 1141.4v-16h6.4v16zM1680.11 1141.4v-8h6.4v8zM1688.04 1141.4v-3.2h6.4v3.2zM1695.97 1141.4v-76.9h6.4v76.9zM1703.9 1141.4v-8h6.4v8zM1711.83 1141.4v-30.4h6.4v30.4zM1719.76 1141.4v-16h6.4v16zM1727.69 1141.4v-140.2h6.4v140.2zM1735.62 1141.4v-118.5h6.4v118.5zM1743.55 1141.4v-80.1h6.4v80.1zM1751.48 1141.4v-3.2h6.4v3.2zM1759.41 1141.4v-4.8h6.4v4.8zM1767.34 1141.4v-49.7h6.4v49.7zM1775.27 1141.4v-8.8h6.4v8.8zM1783.2 1141.4v-1.6h6.4v1.6zM1791.13 1141.4v-6.4h6.4v6.4zM1799.06 1141.4v-3.2h6.4v3.2zM1806.99 1141.4v-11.2h6.4v11.2zM1814.92 1141.4v-4.8h6.4v4.8zM1822.85 1141.4v-7.2h6.4v7.2zM1830.78 1141.4v-20h6.4v20zM1838.71 1141.4v-3.2h6.4v3.2zM1846.64 1141.4v-1.6h6.4v1.6zM1862.5 1141.4v-1.6h6.4v1.6zM1870.43 1141.4v-12.8h6.4v12.8zM1878.36 1141.4v-11.2h6.4v11.2zM1886.29 1141.4v-11.2h6.4v11.2zM1894.22 1141.4v-59.3h6.4v59.3zM1902.15 1141.4v-4.8h6.4v4.8zM1918.01 1141.4v-64.9h6.4v64.9zM1925.94 1141.4v-7.4h6.4v7.4zM1933.87 1141.4v-8h6.4v8zM1941.8 1141.4v-6.4h6.4v6.4zM1949.73 1141.4v-3.2h6.4v3.2zM1957.66 1141.4v-1.6h6.4v1.6zM1965.59 1141.4v-1.6h6.4v1.6z" fill="#f014f0"/><path d="M1627 981.2V1141.4H1982.6" stroke="#262626" stroke-width="2.5" fill="none"/><path d="M1621 1141.4L1627 1141.4" stroke="#262626" stroke-width="2.5"/><path d="M1621 1141.4L1627 1141.4" stroke="#262626" stroke-width="2.5"/><text x="1614" y="1151.7" font-size="29" text-anchor="end" fill="#262626">0</text><path d="M1621 1061.3L1627 1061.3" stroke="#262626" stroke-width="2.5"/><text x="1614" y="1071.6" font-size="29" text-anchor="end" fill="#262626">50</text><path d="M1621 981.2L1627 981.2" stroke="#262626" stroke-width="2.5"/><text x="1614" y="991.5" font-size="29" text-anchor="end" fill="#262626">100</text><path d="M1627.8 1141.4L1627.8 1147.9" stroke="#262626" stroke-width="2.5"/><text x="1627.8" y="1172.9" font-size="29" text-anchor="middle" fill="#262626">0</text><path d="M1707.1 1141.4L1707.1 1147.9" stroke="#262626" stroke-width="2.5"/><text x="1707.1" y="1172.9" font-size="29" text-anchor="middle" fill="#262626">10</text><path d="M1786.4 1141.4L1786.4 1147.9" stroke="#262626" stroke-width="2.5"/><text x="1786.4" y="1172.9" font-size="29" text-anchor="middle" fill="#262626">20</text><path d="M1865.7 1141.4L1865.7 1147.9" stroke="#262626" stroke-width="2.5"/><text x="1865.7" y="1172.9" font-size="29" text-anchor="middle" fill="#262626">30</text><path d="M1945 1141.4L1945 1147.9" stroke="#262626" stroke-width="2.5"/><text x="1945" y="1172.9" font-size="29" text-anchor="middle" fill="#262626">40</text><path d="M1632.53 1373.2v-105.7h6.4v105.7zM1640.46 1373.2v-71.4h6.4v71.4zM1648.39 1373.2v-5.6h6.4v5.6zM1656.32 1373.2v-4.2h6.4v4.2zM1664.25 1373.2v-14.4h6.4v14.4zM1672.18 1373.2v-3.2h6.4v3.2zM1680.11 1373.2v-79.3h6.4v79.3zM1688.04 1373.2v-57.2h6.4v57.2zM1695.97 1373.2v-24h6.4v24zM1703.9 1373.2v-36.8h6.4v36.8zM1711.83 1373.2v-51.3h6.4v51.3zM1719.76 1373.2v-78h6.4v78zM1727.69 1373.2v-0.8h6.4v0.8zM1735.62 1373.2v-4.2h6.4v4.2zM1751.48 1373.2v-1.1h6.4v1.1zM1759.41 1373.2v-33.6h6.4v33.6zM1767.34 1373.2v-20h6.4v20zM1775.27 1373.2v-25.6h6.4v25.6zM1783.2 1373.2v-17.6h6.4v17.6zM1791.13 1373.2v-22.4h6.4v22.4zM1799.06 1373.2v-108.9h6.4v108.9zM1806.99 1373.2v-6.4h6.4v6.4zM1814.92 1373.2v-88.1h6.4v88.1zM1822.85 1373.2v-12.8h6.4v12.8zM1830.78 1373.2v-32h6.4v32zM1838.71 1373.2v-66.5h6.4v66.5zM1846.64 1373.2v-27.2h6.4v27.2zM1854.57 1373.2v-48.9h6.4v48.9zM1862.5 1373.2v-28.8h6.4v28.8zM1870.43 1373.2v-22.4h6.4v22.4zM1878.36 1373.2v-13.9h6.4v13.9zM1886.29 1373.2v-20.8h6.4v20.8zM1894.22 1373.2v-54.5h6.4v54.5zM1902.15 1373.2v-22.4h6.4v22.4zM1910.08 1373.2v-34.4h6.4v34.4zM1918.01 1373.2v-56.1h6.4v56.1zM1925.94 1373.2v-42.6h6.4v42.6zM1933.87 1373.2v-30.4h6.4v30.4zM1941.8 1373.2v-25.6h6.4v25.6zM1949.73 1373.2v-47.3h6.4v47.3zM1957.66 1373.2v-9.3h6.4v9.3zM1965.59 1373.2v-11.9h6.4v11.9z" fill="#1478c8"/><path d="M1627 1213V1373.2H1982.6" stroke="#262626" stroke-width="2.5" fill="none"/><path d="M1621 1373.2L1627 1373.2" stroke="#262626" stroke-width="2.5"/><path d="M1621 1373.2L1627 1373.2" stroke="#262626" stroke-width="2.5"/><text x="1614" y="1383.5" font-size="29" text-anchor="end" fill="#262626">0</text><path d="M1621 1293.1L1627 1293.1" stroke="#262626" stroke-width="2.5"/><text x="1614" y="1303.4" font-size="29" text-anchor="end" fill="#262626">50</text><path d="M1621 1213L1627 1213" stroke="#262626" stroke-width="2.5"/><text x="1614" y="1223.3" font-size="29" text-anchor="end" fill="#262626">100</text><path d="M1627.8 1373.2L1627.8 1379.7" stroke="#262626" stroke-width="2.5"/><text x="1627.8" y="1404.7" font-size="29" text-anchor="middle" fill="#262626">0</text><path d="M1707.1 1373.2L1707.1 1379.7" stroke="#262626" stroke-width="2.5"/><text x="1707.1" y="1404.7" font-size="29" text-anchor="middle" fill="#262626">10</text><path d="M1786.4 1373.2L1786.4 1379.7" stroke="#262626" stroke-width="2.5"/><text x="1786.4" y="1404.7" font-size="29" text-anchor="middle" fill="#262626">20</text><path d="M1865.7 1373.2L1865.7 1379.7" stroke="#262626" stroke-width="2.5"/><text x="1865.7" y="1404.7" font-size="29" text-anchor="middle" fill="#262626">30</text><path d="M1945 1373.2L1945 1379.7" stroke="#262626" stroke-width="2.5"/><text x="1945" y="1404.7" font-size="29" text-anchor="middle" fill="#262626">40</text><text x="1794.5" y="1442.6" font-size="29" text-anchor="middle">Cell number</text></g>
<g id="panel_d"><text x="0" y="1501" font-size="41" font-weight="bold">d</text><g clip-path="url(#clipD)"><g filter="url(#blurD)"><g transform="translate(71.59 1471.92) scale(6.6532 5.5593)" fill="none" stroke-width="1.08"><path d="M0 105h70" stroke="#00ccff" stroke-width="210"/><path d="M25 0.5h10M25 1.5h10M25 2.5h10M25 3.5h10M27 4.5h1M24 5.5h16M27 7.5h5M25 8.5h9M22 9.5h10M20 10.5h9M20 11.5h15M21 12.5h9M23 13.5h6M49 15.5h7m5 0h9M48 17.5h22M51 18.5h19M39 19.5h21m2 0h8M32 31.5h5M46 60.5h5M25 81.5h9M25 92.5h9M0 125.5h18M0 147.5h15M7 148.5h10M0 149.5h16M0 151.5h14M9 154.5h8M0 155.5h16M0 158.5h15M0 159.5h18M41 184.5h29" stroke="#000099"/><path d="M35 0.5h1M35 1.5h1M35 2.5h1M35 3.5h1M25 4.5h2m1 0h1M40 5.5h2M25 6.5h4M26 7.5h1m5 0h1M24 8.5h1m9 0h3M21 9.5h1m10 0h2M19 10.5h1m9 0h1M35 11.5h1M20 12.5h1m9 0h2M22 13.5h1m6 0h1M47 15.5h2m7 0h5M55 16.5h9M46 17.5h2M47 18.5h4M37 19.5h2m21 0h2M28 31.5h4m5 0h2M23 34.5h4M39 57.5h3M43 60.5h3m5 0h3M52 84.5h10M19 86.5h4M25 94.5h5M0 112.5h5M0 113.5h16M12 117.5h3M25 127.5h9M25 128.5h9M0 130.5h11M9 145.5h3M0 148.5h7m10 0h1M16 149.5h1M14 151.5h2M11 152.5h4M0 153.5h11M0 154.5h9m8 0h1M15 158.5h2M0 172.5h6M9 174.5h5M5 184.5h6m1 0h4M14 185.5h3M0 194.5h16M0 195.5h16M0 196.5h10" stroke="#0000cc"/><path d="M36 0.5h2M36 1.5h2M36 2.5h2M36 3.5h2M29 4.5h1M42 5.5h2M29 6.5h1M25 7.5h1m7 0h1M23 8.5h1m13 0h2M34 9.5h2M0 10.5h8m22 0h2M19 11.5h1m16 0h2M32 12.5h2M21 13.5h1m8 0h1M46 14.5h5m11 0h8M45 15.5h2M48 16.5h7m9 0h6M45 17.5h1M45 18.5h2M34 19.5h3M36 21.5h9M25 31.5h3m11 0h2M58 33.5h2m3 0h7M21 34.5h2m4 0h2M62 47.5h8M44 49.5h13M25 50.5h9M41 55.5h5m8 0h6M34 57.5h5m3 0h2M40 60.5h3m11 0h7M33 63.5h5M33 65.5h1M48 84.5h4m10 0h2M8 86.5h5m2 0h4m4 0h3M0 104.5h5M5 112.5h7M16 113.5h3M0 114.5h8M0 115.5h10m4 0h3M0 117.5h12m3 0h2M15 118.5h2M0 120.5h6M26 126.5h6M12 127.5h2M0 129.5h5M11 130.5h4M9 132.5h7M0 135.5h6M9 144.5h5M0 145.5h9m3 0h4M18 148.5h2M17 149.5h1m47 0h5M16 151.5h2M7 152.5h4m4 0h1M11 153.5h5M16 155.5h1M0 157.5h5m7 0h5M17 158.5h1M5 170.5h3m6 0h4M6 172.5h2M7 174.5h2m5 0h2M12 179.5h4M13 180.5h3M0 184.5h5m6 0h1M9 185.5h5m3 0h1M47 195.5h23M10 196.5h4M0 198.5h5" stroke="#0000ff"/><path d="M24 0.5h1m13 0h1M24 1.5h1m13 0h1M24 2.5h1m13 0h1M24 3.5h1m13 0h1M14 4.5h2m8 0h1m5 0h2M23 5.5h1m20 0h12M24 6.5h1m5 0h1M34 7.5h2M22 8.5h1m16 0h2M36 9.5h2M8 10.5h5m5 0h1m13 0h2M38 11.5h2M19 12.5h1m14 0h1M31 13.5h1M39 14.5h7m5 0h11M43 15.5h2M34 16.5h7m5 0h2M43 17.5h2M43 18.5h2M33 19.5h1M44 20.5h8M33 21.5h3m9 0h3M6 23.5h5m21 0h3m10 0h11M23 31.5h2m16 0h1M55 33.5h3m2 0h3M20 34.5h1m8 0h2M31 36.5h1m19 0h6m8 0h5M28 38.5h5M21 39.5h5M42 40.5h5M36 44.5h8m20 0h6M60 47.5h2M41 49.5h3m13 0h2m6 0h5M23 50.5h2m9 0h10M53 51.5h5M63 52.5h7M34 53.5h4M39 55.5h2m5 0h4m1 0h3m6 0h3M28 57.5h6m10 0h3m7 0h2M37 60.5h3m21 0h2M12 61.5h3m21 0h8M30 63.5h3m5 0h6M30 65.5h3m1 0h3M30 67.5h16M25 69.5h6M43 84.5h5m16 0h6M0 86.5h8m5 0h2m11 0h1M40 90.5h6m4 0h5M0 95.5h14M6 96.5h5m51 0h8M0 97.5h9M5 104.5h4m1 0h7M0 109.5h9M9 110.5h7M12 112.5h6M19 113.5h2M8 114.5h9M10 115.5h4m3 0h2M17 117.5h2M0 118.5h10m2 0h3m2 0h2M0 119.5h8m7 0h2M6 120.5h12M14 121.5h4M21 125.5h49M5 127.5h7m2 0h2M5 129.5h4m5 0h4M15 130.5h2M0 132.5h9m7 0h1M6 135.5h2m6 0h3M6 144.5h3m5 0h1M16 145.5h2M0 146.5h6M15 147.5h1M20 148.5h1M18 149.5h1m34 0h6m3 0h3M9 150.5h5M18 151.5h3M0 152.5h7m9 0h1M16 153.5h2M5 157.5h7m5 0h1M18 159.5h1M0 160.5h18M6 162.5h11M10 164.5h5M9 165.5h7M0 167.5h8m5 0h4M0 169.5h9M0 170.5h5m3 0h6m4 0h2M8 172.5h1M0 174.5h7m9 0h1M6 175.5h8M0 179.5h12m4 0h1M10 180.5h3m3 0h1M0 185.5h9m9 0h1M14 196.5h2M11 197.5h2M5 198.5h12M13 203.5h1" stroke="#0033ff"/><path d="M39 0.5h1M39 1.5h1M39 2.5h1M39 3.5h1M12 4.5h2m2 0h3m13 0h1M56 5.5h5M31 6.5h2M36 7.5h2M41 8.5h2M38 9.5h1M13 10.5h5m16 0h1M16 11.5h3m21 0h1M35 12.5h1M20 13.5h1m11 0h1M36 14.5h3M41 15.5h2M32 16.5h2m7 0h5M40 17.5h3M34 18.5h2m5 0h2M31 19.5h2M41 20.5h3m8 0h3M32 21.5h1m15 0h2m13 0h7M0 23.5h6m5 0h4m13 0h4m3 0h4m3 0h3m11 0h3M42 24.5h13m5 0h5M32 26.5h9M7 28.5h5m6 0h8M44 29.5h7M26 30.5h3M21 31.5h2m19 0h2M50 32.5h20M30 33.5h7m16 0h2M18 34.5h2m11 0h6M51 35.5h8M25 36.5h6m1 0h4m11 0h4m6 0h8M56 37.5h14M26 38.5h2m5 0h3m6 0h4M19 39.5h2m5 0h3M40 40.5h2m5 0h23M0 41.5h8m36 0h13M42 43.5h5M33 44.5h3m8 0h6m7 0h7M39 46.5h8M49 47.5h11M31 49.5h10m18 0h6M10 50.5h2m10 0h1m21 0h8m6 0h3M50 51.5h3m5 0h4M61 52.5h2M32 53.5h2m4 0h3M37 55.5h2m11 0h1m12 0h7M24 57.5h4m19 0h7m2 0h2M16 58.5h5m3 0h4m13 0h1M47 59.5h2m7 0h14M34 60.5h3m26 0h7M8 61.5h4m3 0h4m6 0h11m8 0h12m9 0h5M0 63.5h8m19 0h3m14 0h3m4 0h6M47 64.5h4m9 0h10M20 65.5h10m7 0h3M27 67.5h3m16 0h4M22 69.5h3m6 0h4m12 0h5M13 70.5h8M0 71.5h5M24 76.5h7M31 77.5h3M23 78.5h15m23 0h3M0 79.5h5m42 0h13M12 83.5h6m43 0h3M37 84.5h6M27 86.5h2M0 89.5h6m9 0h5M0 90.5h7m31 0h2m6 0h4m5 0h4M14 95.5h4m5 0h8M0 96.5h6m5 0h5m18 0h13m8 0h7M9 97.5h5m34 0h4M0 99.5h5m31 0h15M27 100.5h4M9 104.5h1m7 0h2M9 109.5h2M5 110.5h4m7 0h4M18 112.5h4M21 113.5h1M17 114.5h2m15 0h4M19 115.5h2M6 116.5h5M19 117.5h2M10 118.5h2m7 0h1M8 119.5h7m2 0h6M18 120.5h2M0 121.5h5m8 0h1m4 0h2M6 122.5h10M0 123.5h6m5 0h6M0 127.5h5M9 129.5h5m4 0h3M17 130.5h1M32 132.5h4M12 134.5h4M8 135.5h6m3 0h1M0 140.5h16M46 142.5h6m12 0h6M0 143.5h9M0 144.5h6m9 0h1M6 146.5h4m3 0h2M16 147.5h2M21 148.5h2M19 149.5h1m30 0h3m6 0h3M7 150.5h2m5 0h2M21 151.5h6M18 153.5h1M17 155.5h1M19 159.5h1M18 160.5h2M9 161.5h7M0 162.5h6m11 0h2M0 164.5h10m5 0h3m42 0h1M7 165.5h2m7 0h1M0 166.5h9m41 0h12M8 167.5h5m4 0h1M0 168.5h11M9 169.5h3M20 170.5h1M0 171.5h11M9 172.5h3M17 174.5h1M0 175.5h6m8 0h3M0 176.5h8M0 178.5h6m7 0h2m45 0h10M17 179.5h1M7 180.5h3m7 0h2M0 182.5h10M0 183.5h6M0 186.5h15M7 193.5h2M16 196.5h1M8 197.5h3m2 0h3M17 198.5h1M0 199.5h5M8 203.5h5m1 0h3M8 204.5h5" stroke="#0066ff"/><path d="M10 4.5h2m7 0h5m9 0h2m6 0h7M0 5.5h5m56 0h3M23 6.5h1m9 0h2M24 7.5h1m13 0h3m24 0h5M0 8.5h6m15 0h1m21 0h21M20 9.5h1m18 0h2M35 10.5h1M13 11.5h3m25 0h2M18 12.5h1m17 0h1M0 13.5h9m24 0h1M33 14.5h3M38 15.5h3M31 16.5h1M37 17.5h3M32 18.5h2m2 0h5M30 19.5h1M38 20.5h3m14 0h4M30 21.5h2m18 0h2m5 0h6M64 22.5h6M15 23.5h5m5 0h3m11 0h3m17 0h2M34 24.5h8m13 0h5m5 0h5M27 26.5h5m9 0h5m4 0h5M0 28.5h7m5 0h6m8 0h2m4 0h9M41 29.5h3m7 0h2M9 30.5h5m8 0h4m3 0h4M20 31.5h1m23 0h4M16 32.5h6m20 0h8M29 33.5h1m7 0h2m9 0h5M17 34.5h1m19 0h4M23 35.5h6m17 0h5m8 0h4M20 36.5h5m11 0h5m2 0h4M12 37.5h13m5 0h17m7 0h2M6 38.5h6m13 0h1m10 0h6m4 0h8M18 39.5h1m10 0h2M5 40.5h4m30 0h1M8 41.5h10m23 0h3m13 0h4M46 42.5h3M16 43.5h26m5 0h4m8 0h11M0 44.5h7m10 0h5m4 0h7m17 0h7M26 45.5h9M14 46.5h2m18 0h5m8 0h2m7 0h8M30 47.5h10m4 0h5M29 49.5h2M6 50.5h4m2 0h2m6 0h2m30 0h6m3 0h9M43 51.5h7m12 0h8M47 52.5h6m6 0h2M8 53.5h24m9 0h2M34 55.5h3M0 56.5h8m13 0h8m6 0h7M0 57.5h6m15 0h3m34 0h2M6 58.5h10m5 0h3m4 0h3m6 0h4m1 0h3M11 59.5h5m27 0h4m2 0h7M0 60.5h10m5 0h8m7 0h4M0 61.5h8m11 0h6m31 0h9M39 62.5h5m6 0h8M8 63.5h3m11 0h5m20 0h4m6 0h1M40 64.5h7m4 0h5m1 0h3M19 65.5h1m20 0h5m14 0h5M40 66.5h6m8 0h2M24 67.5h3m23 0h2M19 68.5h5M7 69.5h8m6 0h1m13 0h5m4 0h3m5 0h2M11 70.5h2m8 0h8M5 71.5h3m6 0h3M38 72.5h3M40 73.5h5M65 74.5h5M22 76.5h2m7 0h6M29 77.5h2m3 0h3M21 78.5h2m15 0h2m19 0h2m3 0h6M5 79.5h5m13 0h10m12 0h2m13 0h10M18 80.5h8M46 82.5h3M9 83.5h3m6 0h3m36 0h4m3 0h6M8 84.5h6m21 0h2M21 85.5h1M29 86.5h3M13 87.5h9M17 88.5h8M6 89.5h3m2 0h4m5 0h5M7 90.5h2m5 0h6m12 0h6m21 0h11M0 94.5h8M18 95.5h5m8 0h1M16 96.5h1m14 0h3m13 0h8M14 97.5h10m6 0h7m8 0h3m4 0h3m10 0h5M5 99.5h13m16 0h2m15 0h19M0 100.5h17m7 0h3m4 0h8M0 102.5h7m14 0h4M8 103.5h1M19 104.5h1M30 108.5h4m24 0h1M11 109.5h8M0 110.5h5m15 0h3M22 112.5h10M22 113.5h1M19 114.5h2m9 0h4m4 0h8m8 0h16M21 115.5h4M0 116.5h6m5 0h6m36 0h6M21 117.5h10m27 0h12M20 118.5h1M23 119.5h2m27 0h5M20 120.5h2M5 121.5h1m6 0h1m7 0h1M0 122.5h6m10 0h2M6 123.5h5m6 0h1M7 124.5h5m50 0h8M18 125.5h1M0 126.5h10M0 128.5h16M21 129.5h4M18 130.5h2M0 131.5h14M17 132.5h1m12 0h2M0 134.5h12m4 0h1m48 0h5M18 135.5h1M13 138.5h6M0 139.5h20M16 140.5h1M0 141.5h12m53 0h5M0 142.5h10m1 0h6m22 0h7m6 0h12M9 143.5h3M16 144.5h1M18 145.5h1m28 0h10M10 146.5h3m2 0h1M18 147.5h4m1 0h6M23 148.5h2M49 149.5h1M0 150.5h7m9 0h1M27 151.5h4M17 152.5h1M19 153.5h2M18 154.5h3M0 156.5h10M18 157.5h1m21 0h1M20 159.5h2M20 160.5h1M5 161.5h4m7 0h1M19 162.5h1M13 163.5h4M18 164.5h1m38 0h3m1 0h3M5 165.5h2m10 0h1M9 166.5h6m34 0h1m12 0h8M18 167.5h1M11 168.5h6M12 169.5h2M21 170.5h1M11 171.5h1M12 172.5h7M15 173.5h1M18 174.5h1M17 175.5h2M8 176.5h4M6 178.5h2m2 0h3m2 0h1m38 0h6M18 179.5h1M0 180.5h7m12 0h1M57 181.5h4m3 0h6M10 182.5h6M6 183.5h8m43 0h6M19 185.5h1M15 186.5h3M11 187.5h4M0 188.5h9M13 191.5h4M16 192.5h2M0 193.5h7m2 0h7M17 196.5h1M6 197.5h2m8 0h1M5 199.5h3M15 200.5h2M0 203.5h8M6 204.5h2m5 0h5" stroke="#0099ff"/><path d="M23 0.5h1m17 0h1M23 1.5h1m17 0h1M23 2.5h1m17 0h1M23 3.5h1m17 0h1M55 4.5h2m8 0h5M8 5.5h3M0 6.5h17m5 0h1m19 0h9M15 7.5h2m5 0h1m20 0h2m4 0h2m6 0h4M10 8.5h10M0 9.5h6m12 0h2m24 0h2M38 10.5h3m13 0h9M10 11.5h2m46 0h12M6 12.5h3m29 0h1M11 13.5h4m21 0h1M29 14.5h2M34 15.5h2M29 16.5h1M34 17.5h2M30 18.5h1M7 19.5h3m17 0h2M27 20.5h2m32 0h2m1 0h6M10 21.5h2m8 0h8M36 22.5h5m6 0h4m2 0h3M64 23.5h6M26 24.5h4M14 25.5h7m23 0h3m10 0h13M14 26.5h8m36 0h12M40 27.5h4m2 0h24M50 28.5h2M18 29.5h2m7 0h11M36 30.5h12m9 0h13M17 31.5h1m35 0h6M0 32.5h14m12 0h5m7 0h2M26 33.5h2M14 34.5h2m36 0h6m4 0h8M6 35.5h3m30 0h3M13 36.5h4M8 37.5h2M17 38.5h5m40 0h8M9 39.5h7m18 0h2m25 0h3M11 40.5h1m23 0h2M20 41.5h9m5 0h5m25 0h6M0 42.5h12m3 0h6m5 0h6m26 0h3M9 43.5h4M0 45.5h7m4 0h2m5 0h2m17 0h1m13 0h11M28 46.5h4m19 0h3M25 47.5h2M11 48.5h4m8 0h4m11 0h5m8 0h2M5 49.5h8m8 0h6M11 51.5h4m10 0h9m6 0h2M23 52.5h3m4 0h3m10 0h2m10 0h2M5 53.5h2m39 0h7M10 54.5h6m7 0h3m29 0h2m7 0h6M0 55.5h14m10 0h2M11 56.5h8m31 0h9m4 0h2M9 57.5h9m43 0h4M47 58.5h4m12 0h2M5 59.5h3m14 0h5m7 0h3M7 62.5h13m10 0h6m25 0h9M15 63.5h2m43 0h1M6 64.5h5m6 0h2m8 0h3m4 0h2M11 65.5h6m32 0h7M8 66.5h10m16 0h3M7 67.5h3m43 0h2M10 68.5h3m13 0h2M56 69.5h14M31 70.5h2M33 71.5h2m4 0h2m24 0h5M25 72.5h10m9 0h4m8 0h5M0 73.5h9m7 0h14m5 0h2m9 0h2m5 0h7m5 0h5M0 74.5h7m7 0h4m32 0h5m6 0h2M37 75.5h1m16 0h4M0 76.5h18m22 0h2M26 77.5h2m25 0h6M0 78.5h11m6 0h2m24 0h3M13 79.5h6m16 0h3m4 0h2M12 80.5h3m15 0h3m9 0h2m6 0h4m1 0h4M22 81.5h3m11 0h4m13 0h1m9 0h7M0 82.5h9m11 0h4m6 0h6m15 0h3m1 0h4m1 0h10M23 83.5h2m20 0h2m5 0h2M0 84.5h5m11 0h2m6 0h8M7 85.5h9m9 0h3m33 0h4M51 86.5h3M0 87.5h7m21 0h17m12 0h8M7 88.5h6m15 0h4m2 0h8M27 89.5h14m13 0h2m3 0h2M22 90.5h1m4 0h2M9 91.5h2m9 0h2m3 0h2M46 92.5h6M27 93.5h3m9 0h14M13 94.5h3M35 95.5h7m6 0h3m8 0h3m1 0h7M18 96.5h1m6 0h3M39 97.5h4m16 0h2M15 98.5h5m5 0h15m17 0h3M20 99.5h2m8 0h2M42 100.5h7m11 0h5M18 101.5h2m24 0h5m2 0h7M29 102.5h9m2 0h5M13 103.5h6M24 104.5h5M0 105.5h5m8 0h2m3 0h2M5 106.5h9m5 0h5m10 0h2m6 0h8M17 107.5h4M0 108.5h5m2 0h4m4 0h3m4 0h3m12 0h18m10 0h5M20 109.5h2m15 0h4M25 110.5h1m13 0h8M0 111.5h27m34 0h9M34 112.5h2m29 0h5M24 113.5h2m10 0h3m6 0h2M29 115.5h3m2 0h4M19 116.5h2m22 0h7m12 0h3M22 118.5h1m40 0h7M37 119.5h12m10 0h2M28 120.5h19M8 121.5h3m11 0h2m40 0h6M20 122.5h3m1 0h3m4 0h2M19 123.5h1m26 0h3M14 124.5h3m27 0h3m7 0h4M12 126.5h4m7 0h2m21 0h4m14 0h6M22 127.5h3m9 0h6M58 128.5h12M27 129.5h2m17 0h1M22 130.5h2M16 131.5h1M19 132.5h1m7 0h2M16 133.5h2m45 0h7M18 134.5h2m33 0h2m5 0h2M20 135.5h1m44 0h5M0 137.5h5m12 0h3M6 138.5h4m11 0h1M22 139.5h1M18 140.5h2M15 141.5h2m42 0h4M17 142.5h1m11 0h5M21 143.5h2M18 144.5h1m44 0h7M20 145.5h1m19 0h3M17 146.5h1m43 0h2M31 147.5h9m7 0h1M26 148.5h2m21 0h1M22 149.5h1m23 0h1M18 150.5h1M32 151.5h2M22 153.5h1M25 154.5h7M15 156.5h1m44 0h10M32 157.5h2m11 0h3m5 0h2M18 158.5h1M23 159.5h2M22 160.5h2M18 161.5h1m42 0h9M22 162.5h9M5 163.5h5m8 0h1M19 164.5h1m35 0h1M18 165.5h1M16 166.5h1m29 0h1M20 167.5h1m40 0h3M18 168.5h1M15 169.5h1M23 170.5h1M14 171.5h1m35 0h11M20 172.5h2m31 0h17M0 173.5h9m9 0h1M19 174.5h1M20 175.5h1M15 176.5h1M13 177.5h2M17 178.5h1m29 0h2M21 180.5h2M0 181.5h6m47 0h2M17 182.5h1m32 0h6m6 0h8M18 183.5h2m22 0h6m16 0h1M21 185.5h1M18 186.5h1m38 0h3M6 187.5h2M12 188.5h2m2 0h1M61 190.5h9M19 191.5h1M19 192.5h1M17 193.5h1M17 194.5h1m33 0h3m8 0h3M18 196.5h1M17 197.5h1M12 199.5h6M0 200.5h12m6 0h1M6 201.5h3m2 0h6M8 202.5h3m45 0h5M0 204.5h5m13 0h1M0 205.5h14m1 0h1M0 206.5h6m7 0h3m1 0h1M0 207.5h6m7 0h3m1 0h1M0 208.5h6m7 0h3m1 0h1M0 209.5h6m7 0h3m1 0h1" stroke="#00ffff"/><path d="M22 0.5h1m19 0h2m4 0h7M22 1.5h1m19 0h2m4 0h7M22 2.5h1m19 0h2m4 0h7M22 3.5h1m19 0h2m4 0h7M57 4.5h8M17 6.5h5m29 0h5m9 0h5M0 7.5h15m30 0h4M6 9.5h12m28 0h2M41 10.5h3m7 0h3M0 11.5h6m2 0h2M0 12.5h6m33 0h2m5 0h3M15 13.5h4m18 0h2M9 14.5h8m11 0h1M33 15.5h1M27 16.5h2M33 17.5h1M7 18.5h2m19 0h2M10 19.5h10m1 0h6M5 20.5h5m9 0h2m3 0h3m36 0h1M12 21.5h2m3 0h3M27 22.5h9m15 0h2M24 24.5h2M0 25.5h14m7 0h2m9 0h3m6 0h3m3 0h3m2 0h5M12 26.5h2M0 27.5h5m31 0h4M52 28.5h2M14 29.5h4M48 30.5h2m5 0h2M0 31.5h5m11 0h1M31 32.5h7M24 33.5h2M12 34.5h2M0 35.5h6M0 37.5h8M36 39.5h2m22 0h1M12 40.5h2m16 0h5M29 41.5h5M21 42.5h5m35 0h9M7 43.5h2M13 45.5h2m1 0h2m20 0h13M21 47.5h4M0 48.5h11m42 0h1M0 49.5h5m8 0h8M15 51.5h10m9 0h6M0 52.5h6m14 0h3m10 0h10M0 53.5h5M26 54.5h2m15 0h12M14 55.5h4m3 0h3M65 56.5h5M65 58.5h5M27 59.5h7M61 63.5h9M11 64.5h3m2 0h1m13 0h4M0 65.5h11M0 66.5h8m10 0h5m6 0h5M0 67.5h7m48 0h1M0 68.5h10m18 0h13m7 0h3M33 70.5h3m28 0h6M35 71.5h4M0 72.5h7m2 0h10m3 0h3m36 0h9M30 73.5h5m13 0h5m7 0h5M7 74.5h7m4 0h5m14 0h13m5 0h6M0 75.5h31m4 0h2m21 0h3m4 0h5M42 76.5h2M15 77.5h11m33 0h4M11 78.5h6M38 79.5h4M0 80.5h12m21 0h9m2 0h6m9 0h11M0 81.5h11M24 82.5h6m24 0h1M25 83.5h2m3 0h15m2 0h5M18 84.5h6M0 85.5h7m21 0h3m17 0h13M45 87.5h7m1 0h4m8 0h5M32 88.5h2m8 0h2M41 89.5h13m7 0h2M23 90.5h4M11 91.5h2m4 0h3m7 0h2m36 0h5M13 92.5h3m18 0h12m6 0h2m11 0h5M30 93.5h9m14 0h3M16 94.5h2m28 0h5m11 0h8M51 95.5h2m4 0h2M19 96.5h6M13 98.5h2m25 0h8m6 0h3M22 99.5h8M49 100.5h11m5 0h5M20 101.5h2m20 0h2m14 0h4M45 102.5h2M19 103.5h6m9 0h7m8 0h5M29 104.5h11M5 105.5h3m3 0h2m7 0h2m12 0h20m9 0h7M36 106.5h6m8 0h2m7 0h3M21 107.5h3m31 0h15M5 108.5h2m11 0h4M22 109.5h3m7 0h5m4 0h4m6 0h9m4 0h6M26 110.5h2m9 0h2m8 0h3M27 111.5h8m9 0h5m7 0h5M36 112.5h1m25 0h3M26 113.5h10m11 0h10M38 115.5h5M21 116.5h14m6 0h2m22 0h5M23 118.5h2m20 0h3m13 0h2M61 119.5h2M47 120.5h2M24 121.5h2m28 0h10M23 122.5h1m9 0h4m7 0h14M20 123.5h1m23 0h2m3 0h1M17 124.5h2m23 0h2M22 126.5h1m14 0h9M40 127.5h2m14 0h14M56 128.5h2M29 129.5h6m7 0h4m1 0h3M24 130.5h4M17 131.5h1M20 132.5h1m4 0h2m9 0h1m3 0h7M18 133.5h1m39 0h5M20 134.5h1m27 0h5m2 0h5M21 135.5h1m39 0h4M0 136.5h7M20 137.5h1M0 138.5h6m16 0h1M23 139.5h1M20 140.5h3m9 0h11M17 141.5h1m37 0h4M18 142.5h1m8 0h2M23 143.5h2M19 144.5h1m37 0h6M21 145.5h2m15 0h2M59 146.5h2M40 147.5h7m1 0h8m9 0h5M28 148.5h4m14 0h3m1 0h3M23 149.5h1m20 0h2M19 150.5h2M34 151.5h1M19 152.5h1M23 153.5h1M32 154.5h7M57 155.5h1m4 0h8M16 156.5h1m41 0h2M19 157.5h1m10 0h2m16 0h5M19 158.5h1m43 0h7M25 159.5h2m13 0h17M24 160.5h1m30 0h6M19 161.5h1m15 0h3m20 0h3M31 162.5h3M19 163.5h1M20 164.5h1m32 0h2M19 165.5h1m37 0h13M17 166.5h1m27 0h1M21 167.5h1m36 0h3M57 168.5h13M16 169.5h1M58 170.5h3M15 171.5h1m32 0h2m11 0h2M22 172.5h1m20 0h4m3 0h3M19 173.5h1m24 0h4M20 174.5h1m35 0h2M21 175.5h2m42 0h5M16 176.5h2m34 0h4M15 177.5h1m38 0h4M18 178.5h1m24 0h4M20 179.5h1M23 180.5h2M6 181.5h9m36 0h2M48 182.5h2M20 183.5h1m15 0h6m23 0h5M22 185.5h1m37 0h1M19 186.5h1m32 0h5M17 187.5h1m41 0h3M17 188.5h1M47 189.5h4M0 190.5h18m40 0h3M20 191.5h2M20 192.5h2M18 193.5h1M47 194.5h4m3 0h8M16 195.5h4M19 198.5h1M18 199.5h1M5 201.5h1m11 0h1M11 202.5h7m37 0h1m5 0h4M18 203.5h1M6 206.5h7m5 0h1M6 207.5h7m5 0h1M6 208.5h7m5 0h1M6 209.5h7m5 0h1" stroke="#33ffcc"/><path d="M0 0.5h22m22 0h4m7 0h15M0 1.5h22m22 0h4m7 0h15M0 2.5h22m22 0h4m7 0h15M0 3.5h22m22 0h4m7 0h15M56 6.5h9M48 9.5h4M44 10.5h3m2 0h2M6 11.5h2M41 12.5h5m3 0h2M39 13.5h2M5 14.5h4m8 0h3m7 0h1M14 15.5h5m13 0h1M18 16.5h9M0 17.5h7m24 0h2M5 18.5h2m2 0h2m8 0h9M20 19.5h1M0 20.5h5m5 0h2m4 0h3m2 0h3M14 21.5h3M0 22.5h20m4 0h3M0 24.5h6m15 0h3M23 25.5h2m4 0h3m3 0h6m9 0h2M11 26.5h1M5 27.5h3m6 0h4m10 0h8M54 28.5h16M0 29.5h14M50 30.5h5M5 31.5h3m6 0h2M0 33.5h8m9 0h7M10 34.5h2M38 39.5h13m6 0h3M14 40.5h2m11 0h3M0 43.5h7M15 45.5h1M13 47.5h2m2 0h4M54 48.5h16M6 52.5h9m2 0h3M28 54.5h15M18 55.5h3M14 64.5h2M23 66.5h6M56 67.5h2M41 68.5h7m3 0h5M36 70.5h3m7 0h5m10 0h3M7 72.5h2m10 0h3M23 74.5h3m7 0h4M31 75.5h4m26 0h4M44 76.5h3M0 77.5h15m48 0h7M11 81.5h3M27 83.5h3M31 85.5h3m10 0h4M52 87.5h1M44 88.5h9M63 89.5h7M13 91.5h4m12 0h3m2 0h8m19 0h4M0 92.5h5m6 0h2m9 0h3m29 0h2m7 0h2M56 93.5h14M18 94.5h2m20 0h6m5 0h11M53 95.5h4M11 98.5h2m35 0h6M22 101.5h2m10 0h3m3 0h2m20 0h3M47 102.5h2M25 103.5h9m7 0h8m5 0h7M40 104.5h4m20 0h6M8 105.5h3m11 0h2m5 0h5m20 0h9M52 106.5h7m3 0h2M24 107.5h3m22 0h6M25 109.5h7m13 0h6m9 0h4M28 110.5h3m3 0h3m13 0h3M35 111.5h1m6 0h2m5 0h7M37 112.5h1m23 0h1M57 113.5h2m6 0h5M43 115.5h3M35 116.5h6M25 118.5h4m8 0h8m3 0h5m6 0h2M63 119.5h7M49 120.5h4m9 0h8M26 121.5h10m11 0h7M37 122.5h7m14 0h3m4 0h5M21 123.5h1m20 0h2m6 0h2M19 124.5h2m19 0h2M32 126.5h5M42 127.5h7m3 0h4M53 128.5h3M35 129.5h7m8 0h10m3 0h7M28 130.5h4m33 0h5M18 131.5h2M21 132.5h4m12 0h3m7 0h23M19 133.5h1m35 0h3M21 134.5h1m24 0h2M22 135.5h1m28 0h10M7 136.5h2m36 0h4M21 137.5h2m42 0h5M23 138.5h1m36 0h10M24 139.5h1m31 0h5M23 140.5h2m5 0h2m11 0h10M18 141.5h1m34 0h2M19 142.5h1m6 0h1M25 143.5h1M20 144.5h1m28 0h8M23 145.5h2m9 0h4M18 146.5h1m38 0h2M56 147.5h4m3 0h2M32 148.5h5m8 0h1m7 0h3M24 149.5h13m6 0h1M21 150.5h1M35 151.5h1m16 0h18M20 152.5h1M24 153.5h1M39 154.5h19m6 0h6M18 155.5h1m33 0h5m1 0h4M17 156.5h1m39 0h1M29 157.5h1M20 158.5h1m40 0h2M27 159.5h3m27 0h7M25 160.5h5m10 0h3m9 0h3m6 0h9M20 161.5h1m11 0h3m3 0h3m4 0h6m4 0h3M34 162.5h8m22 0h6M20 163.5h1m29 0h4M21 164.5h1m25 0h6M54 165.5h3M18 166.5h1m24 0h2M22 167.5h1m20 0h9m3 0h3M19 168.5h1m32 0h5M17 169.5h1m23 0h9M24 170.5h1m20 0h13m3 0h9M16 171.5h1m28 0h3m15 0h7M23 172.5h1m16 0h3m4 0h3M20 173.5h1m22 0h1m4 0h12M21 174.5h1m31 0h3m2 0h12M23 175.5h2m35 0h5M18 176.5h2m29 0h3m4 0h2m7 0h5M16 177.5h1m34 0h3m4 0h12M19 178.5h1m20 0h3M21 179.5h1m43 0h5M25 180.5h2m7 0h4m21 0h2M15 181.5h4m24 0h8M18 182.5h1m27 0h2M21 183.5h1m10 0h4M23 185.5h1m28 0h8m1 0h9M20 186.5h1m18 0h4m7 0h2M18 187.5h1m36 0h4m3 0h8M18 188.5h1M17 189.5h1m27 0h2m4 0h19M18 190.5h1m35 0h4M22 191.5h6M22 192.5h1M58 193.5h5M18 194.5h1m17 0h4m5 0h2M20 195.5h1M19 196.5h1m26 0h6m11 0h7M18 197.5h1M19 199.5h1M19 200.5h1M0 201.5h5m60 0h5M18 202.5h2m34 0h1m10 0h5M19 204.5h1M16 205.5h1" stroke="#66ff99"/><path d="M52 9.5h4m4 0h5M47 10.5h2M51 12.5h1M41 13.5h9m9 0h11M0 14.5h5m15 0h2m3 0h2M0 15.5h14m5 0h6m5 0h2M8 16.5h10M7 17.5h3m20 0h1M0 18.5h5m6 0h2m4 0h2M12 20.5h4M20 22.5h4M6 24.5h15M25 25.5h4M0 26.5h5m5 0h1M8 27.5h6m4 0h10M8 31.5h6M8 33.5h9M0 34.5h10M51 39.5h6M16 40.5h3m5 0h3M0 47.5h13m2 0h2M15 52.5h2M58 67.5h12M56 68.5h14M39 70.5h7m5 0h5m3 0h2M26 74.5h7M47 76.5h4m11 0h8M14 81.5h2M34 85.5h3m3 0h4M53 88.5h3M32 91.5h2m8 0h2m10 0h7M5 92.5h6m45 0h1m4 0h2M20 94.5h1m15 0h4M0 98.5h11M24 101.5h10m3 0h3m25 0h5M49 102.5h3m13 0h5M61 103.5h9M44 104.5h5m12 0h3M24 105.5h5M64 106.5h6M27 107.5h4m13 0h5M31 110.5h3m19 0h17M36 111.5h6M38 112.5h2m19 0h2M59 113.5h6M46 115.5h5m13 0h6M29 118.5h8m16 0h6M53 120.5h9M36 121.5h3m5 0h3M61 122.5h4M22 123.5h1m16 0h3m10 0h2m9 0h7M21 124.5h1m16 0h2M49 127.5h3M43 128.5h3m2 0h5M60 129.5h3M32 130.5h2m30 0h1M20 131.5h2m4 0h2M20 133.5h2m11 0h5m15 0h2M22 134.5h1m21 0h2M49 135.5h2M9 136.5h2m32 0h2m4 0h7m2 0h12M23 137.5h1m40 0h1M24 138.5h2m26 0h8M25 139.5h1m9 0h5m10 0h6m5 0h9M25 140.5h5m23 0h2M19 141.5h1m31 0h2M20 142.5h1m3 0h2M26 143.5h2M21 144.5h2m24 0h2M25 145.5h9M19 146.5h1m35 0h2M60 147.5h3M37 148.5h8m11 0h3m3 0h8M37 149.5h6M22 150.5h1m33 0h14M36 151.5h1m5 0h10M21 152.5h1M25 153.5h1M58 154.5h6M19 155.5h1m24 0h8M18 156.5h1m29 0h9M20 157.5h1m6 0h2M21 158.5h2m36 0h2M64 159.5h6M43 160.5h9M21 161.5h2m8 0h1m9 0h4m6 0h4M42 162.5h7m8 0h7M21 163.5h1m25 0h3m4 0h3M22 164.5h1m9 0h15M20 165.5h1m30 0h3M19 166.5h3m6 0h15M23 167.5h2m17 0h1m9 0h3M20 168.5h1m29 0h2M18 169.5h2m8 0h13m9 0h5M25 170.5h1m13 0h6M17 171.5h1m24 0h3M24 172.5h2m11 0h3M21 173.5h2m18 0h2m17 0h10M22 174.5h1m29 0h1M25 175.5h2m3 0h6m6 0h18M20 176.5h3m8 0h18m9 0h2m3 0h2M17 177.5h1m32 0h1M20 178.5h1m17 0h2M22 179.5h1m28 0h14M27 180.5h3m1 0h3m4 0h3m12 0h6m2 0h9M19 181.5h1m20 0h3M19 182.5h1m23 0h3M22 183.5h2m6 0h2M39 184.5h2M24 185.5h1m25 0h2M21 186.5h1m13 0h4m4 0h7M53 187.5h2M64 188.5h6M0 189.5h17m1 0h1m24 0h2M19 190.5h1m24 0h10M28 191.5h3m5 0h2M23 192.5h1m40 0h6M19 193.5h1m33 0h5m5 0h7M34 194.5h2m4 0h5M21 195.5h1M43 196.5h3m6 0h4m3 0h4M53 198.5h17M20 199.5h1m18 0h3M18 201.5h1m43 0h3M20 202.5h1m31 0h2M19 206.5h1M19 207.5h1M19 208.5h1M19 209.5h1" stroke="#99ff66"/><path d="M56 9.5h4m5 0h5M52 12.5h2M50 13.5h2m5 0h2M22 14.5h3M25 15.5h5M0 16.5h8M10 17.5h3m15 0h2M13 18.5h4M5 26.5h5M19 40.5h5M56 70.5h3M51 76.5h11M37 85.5h3M56 88.5h14M44 91.5h2m6 0h2M57 92.5h4M21 94.5h2m9 0h4M52 102.5h4m5 0h4M49 104.5h3m2 0h7M31 107.5h4m6 0h3M40 112.5h19M51 115.5h13M39 121.5h5M23 123.5h1m9 0h6m15 0h9M22 124.5h1m13 0h2M22 128.5h2m16 0h3m3 0h2M34 130.5h2m15 0h6m5 0h2M22 131.5h4m2 0h4m32 0h6M22 133.5h2m4 0h5m5 0h10m2 0h3M23 134.5h1m5 0h6m7 0h2M23 135.5h2m23 0h1M11 136.5h18m12 0h2m13 0h2M24 137.5h2m7 0h11m18 0h2M26 138.5h1m22 0h3M26 139.5h3m2 0h4m5 0h3m3 0h4M55 140.5h15M20 141.5h1m28 0h2M21 142.5h3M28 143.5h2M23 144.5h3m7 0h3m10 0h1M20 146.5h1m30 0h4M59 148.5h3M23 150.5h2m9 0h7m12 0h3M37 151.5h5M22 152.5h1m20 0h15M26 153.5h11m8 0h8m9 0h8M20 155.5h1m19 0h4M19 156.5h1m27 0h1M21 157.5h1m4 0h1M23 158.5h1m28 0h7M33 159.5h7M23 161.5h1m5 0h2M49 162.5h3m1 0h4M22 163.5h1m14 0h10m10 0h13M23 164.5h1m6 0h2M21 165.5h1m24 0h5M22 166.5h6M25 167.5h1m14 0h2M21 168.5h1m27 0h1M20 169.5h8m27 0h15M26 170.5h1m11 0h1M18 171.5h2m18 0h4M26 172.5h1m7 0h3M23 173.5h2m15 0h1M23 174.5h2m5 0h1m13 0h1m5 0h2M27 175.5h3m6 0h6M23 176.5h8m29 0h3M35 177.5h3m10 0h2M21 178.5h11m4 0h2M23 179.5h2m12 0h4m3 0h7M30 180.5h1m10 0h3m5 0h4M20 181.5h2m15 0h3M20 182.5h1m20 0h2M24 183.5h6M36 184.5h3M25 185.5h1m23 0h1M22 186.5h4m6 0h3M19 187.5h1m30 0h3M19 188.5h1m29 0h15M19 189.5h1m22 0h1M20 190.5h1m21 0h2M31 191.5h5m2 0h4M24 192.5h1m34 0h5M20 193.5h1m28 0h4M19 194.5h1m11 0h3M22 195.5h1M20 196.5h1m18 0h4m13 0h3M19 197.5h1m40 0h10M20 198.5h1m28 0h4M21 199.5h1m15 0h2m3 0h4M20 200.5h1M19 201.5h1m30 0h12M21 202.5h1m28 0h2M19 203.5h1M20 204.5h1M17 205.5h1M54 206.5h7M54 207.5h7M54 208.5h7M54 209.5h7" stroke="#ccff33"/><path d="M54 12.5h9M52 13.5h5M13 17.5h15M16 81.5h2m3 0h1M46 91.5h6M23 94.5h2m5 0h2M56 102.5h5M52 104.5h2M35 107.5h6M24 123.5h9M23 124.5h1m10 0h2M24 128.5h1m9 0h6M36 130.5h1m13 0h1m6 0h5M32 131.5h4m26 0h2M24 133.5h4m20 0h2M24 134.5h5m6 0h3m1 0h3M25 135.5h3m18 0h2M29 136.5h6m4 0h2M26 137.5h1m4 0h2m11 0h8m3 0h7M27 138.5h2m13 0h7M29 139.5h2m12 0h3M21 141.5h2m18 0h8M30 143.5h4m18 0h13M26 144.5h7m3 0h4m5 0h1M21 146.5h1m21 0h8M25 150.5h4m2 0h3m7 0h3m7 0h2M23 152.5h20m15 0h3m4 0h5M37 153.5h8m8 0h9M21 155.5h3m2 0h2M20 156.5h1m23 0h3M22 157.5h4M24 158.5h1m11 0h1m12 0h3M30 159.5h3M30 160.5h8M24 161.5h5M52 162.5h1M23 163.5h1m11 0h2M24 164.5h6M22 165.5h2m18 0h4M26 167.5h3m9 0h2M22 168.5h1m15 0h7m1 0h3M27 170.5h2m7 0h2M20 171.5h1m15 0h2M27 172.5h7M25 173.5h2m12 0h1M25 174.5h5m1 0h3m7 0h3m1 0h5M18 177.5h1m14 0h2m3 0h10M32 178.5h4M25 179.5h4m4 0h4m4 0h3M44 180.5h5M22 181.5h3m9 0h3M21 182.5h1m16 0h3M34 184.5h2M26 185.5h2m20 0h1M26 186.5h6M44 187.5h6M20 188.5h1m10 0h18M20 189.5h1m19 0h2M21 190.5h1m18 0h2M42 191.5h3m9 0h4M25 192.5h16m10 0h8M45 193.5h4M29 194.5h2M23 195.5h1M21 196.5h1m13 0h4M57 197.5h3M47 198.5h2M22 199.5h2m11 0h2m9 0h3M20 201.5h1m27 0h2M22 202.5h1m4 0h4m14 0h5M57 204.5h5M20 206.5h1m31 0h2m7 0h9M20 207.5h1m31 0h2m7 0h9M20 208.5h1m31 0h2m7 0h9M20 209.5h1m31 0h2m7 0h9" stroke="#ffff00"/><path d="M63 12.5h7M16 92.5h6M24 124.5h2m5 0h3M37 130.5h3m8 0h2M61 131.5h1M38 134.5h1M28 135.5h7m8 0h3M35 136.5h4M27 137.5h4m21 0h3M29 138.5h1m7 0h5M23 141.5h1m8 0h9M34 143.5h4m11 0h3m13 0h5M40 144.5h5M22 146.5h2m13 0h6M29 150.5h2m13 0h7M61 152.5h4M24 155.5h2m2 0h2M21 156.5h1m20 0h2M25 158.5h2m6 0h3m1 0h3m7 0h2M38 160.5h2M24 163.5h2m7 0h2M24 165.5h5m9 0h4M29 167.5h9M23 168.5h4m9 0h2m7 0h1M29 170.5h7M21 171.5h8m6 0h1M27 173.5h3m7 0h2M34 174.5h3m2 0h2M19 177.5h1m11 0h2M29 179.5h4M25 181.5h2m5 0h2M22 182.5h1m12 0h3M28 185.5h8m11 0h1M20 187.5h1m13 0h10M29 188.5h2M21 189.5h1m13 0h5M22 190.5h1m15 0h2M45 191.5h9m4 0h3M41 192.5h3m3 0h4M21 193.5h1m19 0h4M20 194.5h1m6 0h2M24 195.5h9m4 0h10M22 196.5h1m9 0h3M20 197.5h1m31 0h5M21 198.5h1m22 0h3M24 199.5h3m7 0h1m14 0h3m4 0h14M21 200.5h1M21 201.5h1m24 0h2M23 202.5h4m4 0h14M58 203.5h5M21 204.5h1m27 0h8m5 0h8M58 205.5h12M50 206.5h2M50 207.5h2M50 208.5h2M50 209.5h2" stroke="#ffcc00"/><path d="M26 124.5h5M16 126.5h6M16 127.5h2M16 128.5h2M40 130.5h8M41 131.5h8m7 0h5M35 135.5h8M30 138.5h2m2 0h3M24 141.5h2m4 0h2M38 143.5h3m6 0h2M24 146.5h6m4 0h3M22 156.5h1m17 0h2M27 158.5h6m7 0h3m1 0h3M26 163.5h7M29 165.5h9M27 168.5h4m2 0h3M29 171.5h6M30 173.5h7M37 174.5h2M20 177.5h1m9 0h1M27 181.5h5M23 182.5h5m4 0h3M36 185.5h5m4 0h2M21 187.5h1m10 0h2M21 188.5h1m6 0h1M33 189.5h2M23 190.5h2m8 0h5M61 191.5h9M44 192.5h3M22 193.5h1m16 0h2M21 194.5h2m1 0h3M33 195.5h4M23 196.5h1m6 0h2M21 197.5h1m21 0h9M22 198.5h1m19 0h2M27 199.5h7m18 0h4M22 200.5h1m40 0h7M22 201.5h1m22 0h1M20 203.5h1m18 0h4m12 0h3m5 0h7M22 204.5h1m22 0h4M18 205.5h1m11 0h8m17 0h3M21 206.5h1m18 0h3m6 0h1M21 207.5h1m18 0h3m6 0h1M21 208.5h1m18 0h3m6 0h1M21 209.5h1m18 0h3m6 0h1" stroke="#ff9900"/><path d="M36 131.5h5m8 0h7M32 138.5h2M26 141.5h4M41 143.5h6M30 146.5h4M37 155.5h3M23 156.5h2M43 158.5h1M31 168.5h2M21 177.5h1m6 0h2M28 182.5h4M41 185.5h4M22 187.5h1m7 0h2M22 188.5h1m4 0h1M22 189.5h2m7 0h2M25 190.5h8M23 193.5h2m12 0h2M23 194.5h1M24 196.5h6M22 197.5h1m18 0h2M32 198.5h10M60 200.5h3M23 201.5h1m19 0h2M34 203.5h5m4 0h12M23 204.5h1m13 0h8M19 205.5h1m9 0h1m8 0h17M38 206.5h2m3 0h6M38 207.5h2m3 0h6M38 208.5h2m3 0h6M38 209.5h2m3 0h6" stroke="#ff6600"/><path d="M30 155.5h1m3 0h3M25 156.5h5M22 177.5h2m3 0h1M23 187.5h1m5 0h1M23 188.5h4M24 189.5h2m1 0h4M25 193.5h2m8 0h2M23 197.5h1m15 0h2M23 198.5h2m5 0h2M23 200.5h1m31 0h5M24 201.5h2m16 0h1M21 203.5h1m9 0h3M24 204.5h1m8 0h4M27 205.5h2M22 206.5h1m13 0h2M22 207.5h1m13 0h2M22 208.5h1m13 0h2M22 209.5h1m13 0h2" stroke="#ff3300"/><path d="M31 155.5h3M24 177.5h3M24 187.5h5M26 189.5h1M27 193.5h8M24 197.5h2m11 0h2M25 198.5h5M24 200.5h1m26 0h4M26 201.5h5m8 0h3M22 203.5h1m5 0h3M25 204.5h8M20 205.5h2m3 0h2M23 206.5h1m10 0h2M23 207.5h1m10 0h2M23 208.5h1m10 0h2M23 209.5h1m10 0h2" stroke="#ff0000"/><path d="M18 81.5h3M37 156.5h3M16 184.5h18M26 197.5h3m6 0h2M25 200.5h1m21 0h4M31 201.5h8M23 203.5h5M22 205.5h3M24 206.5h1m7 0h2M24 207.5h1m7 0h2M24 208.5h1m7 0h2M24 209.5h1m7 0h2" stroke="#cc0000"/><path d="M18 127.5h4M18 128.5h4M30 156.5h7M29 197.5h6M26 200.5h21M25 206.5h7M25 207.5h7M25 208.5h7M25 209.5h7" stroke="#990000"/></g></g></g><rect x="98.2" y="1488.6" width="412.5" height="1134.1" fill="none" stroke="#1a1a1a" stroke-width="2.4"/><path d="M161.5 1488.6L161.5 2622.7" stroke="#10102a" stroke-width="2.3"/><path d="M91.5 1597.7L98.2 1597.7" stroke="#262626" stroke-width="2"/><text x="84" y="1608.1" font-size="29" text-anchor="end" fill="#262626">20</text><path d="M91.5 1708.85L98.2 1708.85" stroke="#262626" stroke-width="2"/><text x="84" y="1719.3" font-size="29" text-anchor="end" fill="#262626">40</text><path d="M91.5 1820L98.2 1820" stroke="#262626" stroke-width="2"/><text x="84" y="1830.4" font-size="29" text-anchor="end" fill="#262626">60</text><path d="M91.5 1931.15L98.2 1931.15" stroke="#262626" stroke-width="2"/><text x="84" y="1941.6" font-size="29" text-anchor="end" fill="#262626">80</text><path d="M91.5 2042.3L98.2 2042.3" stroke="#262626" stroke-width="2"/><text x="84" y="2052.7" font-size="29" text-anchor="end" fill="#262626">100</text><path d="M91.5 2153.45L98.2 2153.45" stroke="#262626" stroke-width="2"/><text x="84" y="2163.8" font-size="29" text-anchor="end" fill="#262626">120</text><path d="M91.5 2264.6L98.2 2264.6" stroke="#262626" stroke-width="2"/><text x="84" y="2275" font-size="29" text-anchor="end" fill="#262626">140</text><path d="M91.5 2375.75L98.2 2375.75" stroke="#262626" stroke-width="2"/><text x="84" y="2386.2" font-size="29" text-anchor="end" fill="#262626">160</text><path d="M91.5 2486.9L98.2 2486.9" stroke="#262626" stroke-width="2"/><text x="84" y="2497.3" font-size="29" text-anchor="end" fill="#262626">180</text><path d="M91.5 2598.05L98.2 2598.05" stroke="#262626" stroke-width="2"/><text x="84" y="2608.5" font-size="29" text-anchor="end" fill="#262626">200</text><path d="M128.33 2622.7L128.33 2629.7" stroke="#262626" stroke-width="2"/><path d="M161.5 2622.7L161.5 2629.7" stroke="#262626" stroke-width="2"/><text x="161.5" y="2660.8" font-size="29" text-anchor="middle" fill="#262626">0</text><path d="M194.67 2622.7L194.67 2629.7" stroke="#262626" stroke-width="2"/><path d="M227.84 2622.7L227.84 2629.7" stroke="#262626" stroke-width="2"/><text x="227.8" y="2660.8" font-size="29" text-anchor="middle" fill="#262626">2</text><path d="M261.01 2622.7L261.01 2629.7" stroke="#262626" stroke-width="2"/><path d="M294.18 2622.7L294.18 2629.7" stroke="#262626" stroke-width="2"/><text x="294.2" y="2660.8" font-size="29" text-anchor="middle" fill="#262626">4</text><path d="M327.35 2622.7L327.35 2629.7" stroke="#262626" stroke-width="2"/><path d="M360.52 2622.7L360.52 2629.7" stroke="#262626" stroke-width="2"/><text x="360.5" y="2660.8" font-size="29" text-anchor="middle" fill="#262626">6</text><path d="M393.69 2622.7L393.69 2629.7" stroke="#262626" stroke-width="2"/><path d="M426.86 2622.7L426.86 2629.7" stroke="#262626" stroke-width="2"/><text x="426.9" y="2660.8" font-size="29" text-anchor="middle" fill="#262626">8</text><path d="M460.03 2622.7L460.03 2629.7" stroke="#262626" stroke-width="2"/><path d="M493.2 2622.7L493.2 2629.7" stroke="#262626" stroke-width="2"/><text x="493.2" y="2660.8" font-size="29" text-anchor="middle" fill="#262626">10</text><text x="313" y="2695" font-size="29" text-anchor="middle">Time from reward (s)</text><text x="21.5" y="2064" font-size="29" text-anchor="middle" transform="rotate(-90 21.5 2064)">Cell number</text><rect x="530.4" y="1488.6" width="42" height="1134.1" fill="url(#jetg)" stroke="#1a1a1a" stroke-width="2"/><path d="M572.4 1488.6L579.5 1488.6" stroke="#262626" stroke-width="2"/><text x="586" y="1499.6" font-size="29" fill="#262626">1</text><path d="M572.4 1866.63L579.5 1866.63" stroke="#262626" stroke-width="2"/><text x="586" y="1877" font-size="29" fill="#262626">0.5</text><path d="M572.4 2244.67L579.5 2244.67" stroke="#262626" stroke-width="2"/><text x="586" y="2255.1" font-size="29" fill="#262626">0</text><path d="M572.4 2622.7L579.5 2622.7" stroke="#262626" stroke-width="2"/><text x="586" y="2628.7" font-size="29" fill="#262626">-0.5</text><text x="596" y="2069" font-size="29" text-anchor="middle" transform="rotate(90 596 2069)">Z-score</text></g>
<g id="panel_e"><text x="715" y="1500.7" font-size="41" font-weight="bold">e</text><path d="M861.7 1715V2323" stroke="#111" stroke-width="1.3" stroke-dasharray="6 5.5" fill="none"/><path d="M805.7 1824L808.4 1824L811.1 1824.1L813.9 1824.3L816.6 1824.4L819.3 1824.7L822.1 1824.9L824.8 1825.2L827.5 1825.7L830.3 1826.3L833 1826.9L835.7 1827.3L838.5 1827.4L841.2 1827.5L843.9 1827.6L846.7 1827.6L849.4 1827.7L852.1 1827.6L854.9 1827.5L857.6 1827.2L860.3 1826.9L863.1 1826.3L865.8 1825L868.5 1823.2L871.3 1820.7L874 1817.3L876.7 1813.2L879.5 1808.1L882.2 1801.8L884.9 1794.7L887.7 1787.1L890.4 1778.6L893.1 1769.3L895.9 1759.5L898.6 1749.2L901.4 1738L904.1 1726.7L906.8 1716.1L909.6 1705.9L912.3 1696L915 1687.4L917.8 1681L920.5 1675.8L923.2 1671.8L926 1669.3L928.7 1667.6L931.4 1667.6L934.2 1669.3L936.9 1672L939.6 1676.3L942.4 1681.5L945.1 1686.9L947.8 1693L950.6 1699.7L953.3 1706.6L956 1713.5L958.8 1720.7L961.5 1728.2L964.2 1735.9L967 1744L969.7 1752.3L972.4 1760.6L975.2 1768.8L977.9 1777.1L980.6 1785.3L983.4 1793.4L986.1 1801.4L988.8 1809.4L991.6 1817L994.3 1824.1L997 1831.1L999.8 1837.6L1002.5 1843.4L1005.2 1848.4L1008 1852.8L1010.7 1856.8L1013.4 1860.1L1016.2 1863.1L1018.9 1866L1021.6 1868.5L1024.4 1870.5L1027.1 1871.8L1029.8 1872.8L1032.6 1873.7L1035.3 1874.3L1038 1874.8L1040.8 1875.1L1043.5 1875.2L1046.2 1875.4L1049 1875.5L1051.7 1875.6L1054.4 1875.7L1057.2 1875.7L1059.9 1875.6L1062.6 1875.5L1065.4 1875.4L1068.1 1875.2L1070.8 1875.1L1073.6 1874.8L1076.3 1874.6L1079 1874.4L1081.8 1874.2L1084.5 1873.9L1087.2 1873.6L1090 1873.3L1092.7 1873L1095.5 1872.5L1098.2 1872L1100.9 1871.4L1103.7 1870.6L1106.4 1869.7L1109.1 1868.8L1111.9 1867.8L1114.6 1866.9L1117.3 1865.9L1120.1 1864.8L1122.8 1863.7L1125.5 1862.6L1128.3 1861.6L1131 1860.7L1133.7 1859.8L1136.5 1859L1139.2 1858.2L1141.9 1857.4L1144.7 1856.6L1147.4 1855.8L1150.1 1854.9L1152.9 1854L1155.6 1853.1L1158.3 1852.3L1161.1 1851.4L1163.8 1850.5L1166.5 1849.6L1169.3 1848.7L1172 1847.8L1174.7 1847.1L1177.5 1846.5L1180.2 1846L1182.9 1845.6L1185.7 1845.3" fill="none" stroke="#f01af0" stroke-width="2.3" stroke-linejoin="round"/><path d="M805.7 1902.7L808.4 1900.7L811.1 1898.8L813.9 1896.9L816.6 1895L819.3 1893.2L822.1 1891.4L824.8 1889.7L827.5 1888L830.3 1886.5L833 1885.2L835.7 1883.9L838.5 1882.7L841.2 1881.6L843.9 1880.4L846.7 1879.3L849.4 1878.2L852.1 1877.2L854.9 1876.1L857.6 1875.1L860.3 1874.1L863.1 1873.2L865.8 1872.3L868.5 1871.5L871.3 1870.6L874 1869.8L876.7 1869L879.5 1868.3L882.2 1867.5L884.9 1866.6L887.7 1865.6L890.4 1864.3L893.1 1862.8L895.9 1861.2L898.6 1859.7L901.4 1858.4L904.1 1857.1L906.8 1855.8L909.6 1854.7L912.3 1853.7L915 1852.8L917.8 1852L920.5 1851.2L923.2 1850.6L926 1850.1L928.7 1849.8L931.4 1849.5L934.2 1849.3L936.9 1849L939.6 1848.3L942.4 1847.5L945.1 1846.5L947.8 1845.6L950.6 1844.5L953.3 1843.4L956 1842.7L958.8 1842.5L961.5 1842.4L964.2 1842.4L967 1842.3L969.7 1842.5L972.4 1842.9L975.2 1843.3L977.9 1843.8L980.6 1844.1L983.4 1844.2L986.1 1844.3L988.8 1844.5L991.6 1845L994.3 1846.3L997 1848L999.8 1849.9L1002.5 1851.7L1005.2 1853.8L1008 1856L1010.7 1858.4L1013.4 1860.8L1016.2 1863.2L1018.9 1865.8L1021.6 1868.4L1024.4 1871.1L1027.1 1873.8L1029.8 1876.5L1032.6 1879.3L1035.3 1882.2L1038 1884.9L1040.8 1887.4L1043.5 1889.7L1046.2 1891.9L1049 1894L1051.7 1896.1L1054.4 1898.2L1057.2 1900.4L1059.9 1902.7L1062.6 1905.1L1065.4 1907.6L1068.1 1909.9L1070.8 1912.1L1073.6 1914.2L1076.3 1916.1L1079 1917.9L1081.8 1919.6L1084.5 1921.2L1087.2 1922.8L1090 1924.3L1092.7 1925.8L1095.5 1927.4L1098.2 1928.8L1100.9 1930.2L1103.7 1931.5L1106.4 1932.6L1109.1 1933.5L1111.9 1934.5L1114.6 1935.3L1117.3 1936.1L1120.1 1936.7L1122.8 1937.3L1125.5 1937.6L1128.3 1938L1131 1938.3L1133.7 1938.3L1136.5 1938.1L1139.2 1937.7L1141.9 1937.1L1144.7 1936.4L1147.4 1935.8L1150.1 1935.2L1152.9 1934.4L1155.6 1933.7L1158.3 1932.9L1161.1 1932.2L1163.8 1931.6L1166.5 1931L1169.3 1930.6L1172 1930.1L1174.7 1929.7L1177.5 1929.2L1180.2 1928.7L1182.9 1928.2L1185.7 1927.7" fill="none" stroke="#0a0ac8" stroke-width="2.9" stroke-linejoin="round"/><path d="M804.7 2296.7L807.4 2296.8L810.1 2296.9L812.9 2297L815.6 2297.1L818.4 2297.3L821.1 2297.4L823.9 2297.6L826.6 2297.8L829.3 2298L832.1 2298.2L834.8 2298.3L837.6 2298.3L840.3 2298L843 2297.3L845.8 2296.5L848.5 2295.5L851.3 2294.5L854 2293.4L856.7 2291.9L859.5 2290.1L862.2 2287.8L865 2284.1L867.7 2278.8L870.5 2272.1L873.2 2262.3L875.9 2249.2L878.7 2234.2L881.4 2218L884.2 2198.5L886.9 2177.2L889.6 2156L892.4 2135.6L895.1 2114.8L897.9 2094.7L900.6 2076L903.3 2057.2L906.1 2040.3L908.8 2028.3L911.6 2018.8L914.3 2011.7L917 2009.3L919.8 2009.5L922.5 2009.9L925.3 2011.5L928 2016.1L930.8 2021.4L933.5 2027.3L936.2 2034.2L939 2041.9L941.7 2051.1L944.5 2061.4L947.2 2072.1L949.9 2083.5L952.7 2095.4L955.4 2107.7L958.2 2120.1L960.9 2132.9L963.6 2145.8L966.4 2158.7L969.1 2171.9L971.9 2185.6L974.6 2198.4L977.4 2209.1L980.1 2218.5L982.8 2226.8L985.6 2234.1L988.3 2240.3L991.1 2245.9L993.8 2250.8L996.5 2254.8L999.3 2258.1L1002 2260.8L1004.8 2263.3L1007.5 2265.8L1010.2 2268.3L1013 2270.7L1015.7 2272.8L1018.5 2274.4L1021.2 2276L1023.9 2277.2L1026.7 2277.7L1029.4 2277.6L1032.2 2277.3L1034.9 2276.9L1037.7 2276.5L1040.4 2275.4L1043.1 2274.2L1045.9 2273.4L1048.6 2273.4L1051.4 2273.7L1054.1 2274.3L1056.8 2275.1L1059.6 2277.1L1062.3 2280.7L1065.1 2284.6L1067.8 2288L1070.5 2291.4L1073.3 2294.8L1076 2297.9L1078.8 2300.7L1081.5 2302.8L1084.2 2305L1087 2306.8L1089.7 2308L1092.5 2308.2L1095.2 2306.2L1098 2302.8L1100.7 2299L1103.4 2293.7L1106.2 2287.5L1108.9 2281.8L1111.7 2277.6L1114.4 2273.7L1117.1 2270.5L1119.9 2268.4L1122.6 2267L1125.4 2265.9L1128.1 2265.2L1130.8 2265.1L1133.6 2266.3L1136.3 2268.5L1139.1 2270.9L1141.8 2273.2L1144.6 2275.9L1147.3 2278.8L1150 2281.7L1152.8 2284.6L1155.5 2287.4L1158.3 2290.4L1161 2293.6L1163.7 2297.2L1166.5 2301.6L1169.2 2306.5L1172 2311.3L1174.7 2315.4L1177.4 2319.3L1180.2 2321.8L1182.9 2322.9L1185.7 2323.3" fill="none" stroke="#1fc01f" stroke-width="2.9" stroke-linejoin="round"/><path d="M804.7 2281.7L807.4 2286.3L810.1 2290.3L812.9 2293L815.6 2294.6L818.4 2296L821.1 2297L823.9 2297.8L826.6 2298.3L829.3 2298.6L832.1 2298.8L834.8 2298.9L837.6 2299.1L840.3 2299.4L843 2300.8L845.8 2303L848.5 2304.7L851.3 2304.9L854 2304.3L856.7 2303.3L859.5 2299.9L862.2 2294.2L865 2287.7L867.7 2279.8L870.5 2270.6L873.2 2260.5L875.9 2249.2L878.7 2236.3L881.4 2222.8L884.2 2209.3L886.9 2195.3L889.6 2181.1L892.4 2167.7L895.1 2155.4L897.9 2143.7L900.6 2132.9L903.3 2123.3L906.1 2114.8L908.8 2107.1L911.6 2100.3L914.3 2094.8L917 2089.8L919.8 2085.5L922.5 2082.3L925.3 2080.3L928 2078.7L930.8 2078.4L933.5 2079.5L936.2 2081.5L939 2084L941.7 2087.6L944.5 2092.5L947.2 2097.7L949.9 2103.5L952.7 2110.1L955.4 2116.9L958.2 2123.8L960.9 2131.3L963.6 2138.8L966.4 2146L969.1 2152.8L971.9 2159.6L974.6 2166L977.4 2171.9L980.1 2176.8L982.8 2180.8L985.6 2184.3L988.3 2187.5L991.1 2190.6L993.8 2193.9L996.5 2197.3L999.3 2200.6L1002 2204L1004.8 2207.5L1007.5 2211.2L1010.2 2215.1L1013 2219.2L1015.7 2223.5L1018.5 2227.7L1021.2 2231.9L1023.9 2236.3L1026.7 2240.8L1029.4 2245L1032.2 2248.7L1034.9 2251.6L1037.7 2254.3L1040.4 2256.7L1043.1 2258.8L1045.9 2260.3L1048.6 2261.4L1051.4 2262.2L1054.1 2262.8L1056.8 2263.4L1059.6 2263.8L1062.3 2264.2L1065.1 2264.6L1067.8 2265.4L1070.5 2266.6L1073.3 2268.3L1076 2270.3L1078.8 2272.4L1081.5 2274.5L1084.2 2277.1L1087 2279.8L1089.7 2282.4L1092.5 2284.5L1095.2 2286L1098 2287.5L1100.7 2288.6L1103.4 2289L1106.2 2288.8L1108.9 2288.3L1111.7 2287.7L1114.4 2287.1L1117.1 2286.4L1119.9 2285.7L1122.6 2284.8L1125.4 2283.8L1128.1 2282.7L1130.8 2281.1L1133.6 2279.2L1136.3 2277.3L1139.1 2275.5L1141.8 2273.9L1144.6 2272.1L1147.3 2270.4L1150 2269L1152.8 2268.4L1155.5 2268.6L1158.3 2269.6L1161 2270.7L1163.7 2271.8L1166.5 2272.9L1169.2 2273.9L1172 2274.7L1174.7 2275.2L1177.4 2275.5L1180.2 2275.8L1182.9 2275.9L1185.7 2276" fill="none" stroke="#1fc01f" stroke-width="2.9" stroke-linejoin="round"/><path d="M804.7 2291.7L807.4 2289.9L810.1 2288.4L812.9 2287.3L815.6 2286.7L818.4 2286.7L821.1 2286.9L823.9 2287.2L826.6 2287.7L829.3 2288.2L832.1 2288.9L834.8 2290L837.6 2291.4L840.3 2293L843 2294.8L845.8 2297.1L848.5 2300.1L851.3 2303.2L854 2305.5L856.7 2307.6L859.5 2309.3L862.2 2310.1L865 2310.5L867.7 2310.7L870.5 2309.7L873.2 2306.2L875.9 2301.6L878.7 2293.8L881.4 2283.9L884.2 2273.6L886.9 2262.3L889.6 2250.2L892.4 2237.6L895.1 2225.2L897.9 2212.4L900.6 2199.5L903.3 2186.6L906.1 2173.5L908.8 2160.3L911.6 2147.6L914.3 2136L917 2125.1L919.8 2114.9L922.5 2105.8L925.3 2097.5L928 2089.6L930.8 2082.9L933.5 2078.1L936.2 2074.6L939 2071.6L941.7 2069.7L944.5 2069.4L947.2 2069.6L949.9 2070L952.7 2070.5L955.4 2071.1L958.2 2072L960.9 2073L963.6 2074.1L966.4 2075.3L969.1 2076.7L971.9 2078.3L974.6 2080.3L977.4 2082.9L980.1 2085.9L982.8 2089.4L985.6 2093.2L988.3 2097.8L991.1 2102.7L993.8 2107.4L996.5 2112.1L999.3 2116.8L1002 2121.3L1004.8 2125.4L1007.5 2129.4L1010.2 2133.1L1013 2136.3L1015.7 2139.1L1018.5 2141.7L1021.2 2143.9L1023.9 2145.2L1026.7 2146.1L1029.4 2146.8L1032.2 2147.4L1034.9 2148L1037.7 2148.3L1040.4 2148.7L1043.1 2149.3L1045.9 2150.4L1048.6 2152.4L1051.4 2154.8L1054.1 2157.4L1056.8 2160.6L1059.6 2164.3L1062.3 2168.4L1065.1 2173L1067.8 2178.4L1070.5 2184.2L1073.3 2189.9L1076 2195.6L1078.8 2201.4L1081.5 2206.8L1084.2 2211.4L1087 2215.5L1089.7 2219.2L1092.5 2222.4L1095.2 2225.1L1098 2227.4L1100.7 2229.6L1103.4 2231.8L1106.2 2234.1L1108.9 2236.4L1111.7 2238.7L1114.4 2240.8L1117.1 2243L1119.9 2245.2L1122.6 2247.2L1125.4 2249.2L1128.1 2251L1130.8 2253L1133.6 2254.9L1136.3 2256.4L1139.1 2257.3L1141.8 2257.3L1144.6 2257.3L1147.3 2257.3L1150 2256.2L1152.8 2254.3L1155.5 2252.3L1158.3 2250.9L1161 2249.5L1163.7 2248.3L1166.5 2247.7L1169.2 2247.5L1172 2247.4L1174.7 2247.3L1177.4 2247.3L1180.2 2247.5L1182.9 2247.9L1185.7 2248.3" fill="none" stroke="#1fc01f" stroke-width="2.9" stroke-linejoin="round"/><path d="M804.7 1647.7L804.7 1770.7" stroke="#111" stroke-width="2.6"/><text x="787" y="1721.7" font-size="29" text-anchor="middle" transform="rotate(-90 787 1721.7)">0.5 sd</text><path d="M1000 1660L1060 1660" stroke="#f01af0" stroke-width="2.5"/><text x="1070.7" y="1667.3" font-size="29">Reward</text><path d="M1000 1700L1060 1700" stroke="#0a0ac8" stroke-width="2.9"/><text x="1070.7" y="1708.3" font-size="29">Pupil</text><path d="M1010 2015.7L1071.7 2015.7" stroke="#1fc01f" stroke-width="2.9"/><text x="1081" y="2022.7" font-size="29">Cells</text><path d="M804.7 1950V2323.3H1187" stroke="#262626" stroke-width="2.6" fill="none"/><path d="M804.7 1951L798.2 1951" stroke="#262626" stroke-width="2.4"/><text x="791.7" y="1961.4" font-size="29" text-anchor="end" fill="#262626">1</text><path d="M804.7 2019.7L798.2 2019.7" stroke="#262626" stroke-width="2.4"/><text x="791.7" y="2030.1" font-size="29" text-anchor="end" fill="#262626">0.8</text><path d="M804.7 2088.7L798.2 2088.7" stroke="#262626" stroke-width="2.4"/><text x="791.7" y="2099.1" font-size="29" text-anchor="end" fill="#262626">0.6</text><path d="M804.7 2157.3L798.2 2157.3" stroke="#262626" stroke-width="2.4"/><text x="791.7" y="2167.7" font-size="29" text-anchor="end" fill="#262626">0.4</text><path d="M804.7 2226L798.2 2226" stroke="#262626" stroke-width="2.4"/><text x="791.7" y="2236.4" font-size="29" text-anchor="end" fill="#262626">0.2</text><path d="M804.7 2295L798.2 2295" stroke="#262626" stroke-width="2.4"/><text x="791.7" y="2305.4" font-size="29" text-anchor="end" fill="#262626">0</text><path d="M830.57 2323.3L830.57 2327.8" stroke="#262626" stroke-width="2.4"/><path d="M861.7 2323.3L861.7 2330.3" stroke="#262626" stroke-width="2.4"/><text x="861.7" y="2356.3" font-size="29" text-anchor="middle" fill="#262626">0</text><path d="M892.83 2323.3L892.83 2327.8" stroke="#262626" stroke-width="2.4"/><path d="M923.96 2323.3L923.96 2330.3" stroke="#262626" stroke-width="2.4"/><text x="924" y="2356.3" font-size="29" text-anchor="middle" fill="#262626">2</text><path d="M955.09 2323.3L955.09 2327.8" stroke="#262626" stroke-width="2.4"/><path d="M986.22 2323.3L986.22 2330.3" stroke="#262626" stroke-width="2.4"/><text x="986.2" y="2356.3" font-size="29" text-anchor="middle" fill="#262626">4</text><path d="M1017.35 2323.3L1017.35 2327.8" stroke="#262626" stroke-width="2.4"/><path d="M1048.48 2323.3L1048.48 2330.3" stroke="#262626" stroke-width="2.4"/><text x="1048.5" y="2356.3" font-size="29" text-anchor="middle" fill="#262626">6</text><path d="M1079.61 2323.3L1079.61 2327.8" stroke="#262626" stroke-width="2.4"/><path d="M1110.74 2323.3L1110.74 2330.3" stroke="#262626" stroke-width="2.4"/><text x="1110.7" y="2356.3" font-size="29" text-anchor="middle" fill="#262626">8</text><path d="M1141.87 2323.3L1141.87 2327.8" stroke="#262626" stroke-width="2.4"/><path d="M1173 2323.3L1173 2330.3" stroke="#262626" stroke-width="2.4"/><text x="1173" y="2356.3" font-size="29" text-anchor="middle" fill="#262626">10</text><text x="1002.3" y="2398.3" font-size="29" text-anchor="middle">Time from reward (s)</text><text x="731.5" y="2129.3" font-size="29" text-anchor="middle" transform="rotate(-90 731.5 2129.3)">Z-score</text></g>
<g id="panel_f"><text x="1274" y="1500" font-size="41" font-weight="bold">f</text><text x="1491.7" y="1493.9" font-size="29" text-anchor="middle">A-P</text><text x="1685.8" y="1484.3" font-size="29" text-anchor="middle">M-L</text><text x="1892.7" y="1493.9" font-size="29" text-anchor="middle">D-V</text><path d="M1536.6 1621.3 1517.6 1646.6 1564.6 1669.9 1522.8 1659.1 1454.7 1648 1489.8 1640.1 1521.7 1668.9 1427.5 1638.5 1472.5 1541.7 1490.4 1647.9 1497 1641.3 1520.7 1631.8 1507.3 1647.5 1470.8 1658.9 1531 1640.3 1487.2 1643.5 1483 1541.3 1557.3 1679.5 1514.2 1649 1441.4 1667.5 1448.5 1670.3 1516.9 1637.7 1553 1632.1 1500.8 1665.1 1496.2 1644.1 1488.2 1677.6 1495 1553.7 1528.4 1667.1 1455.4 1645.4 1560.7 1679.5 1529 1627.2 1470.1 1610.4 1505.2 1612.6 1463 1642.3 1530.2 1615.8 1502.4 1629.3 1507.3 1672.1 1443.1 1607.5 1470.4 1670 1495.8 1682.3 1449.2 1675.4 1535 1681 1502.4 1675.5 1554.8 1631.7 1478.3 1611.3 1499.5 1655.7 1492.8 1633 1503.1 1595.6 1506.2 1667.1 1514.4 1678.3 1504.8 1677.4 1526.2 1654.8 1468.4 1664.1 1429.1 1669.4 1556.1 1640.7 1505.9 1633.8 1507.5 1610.8 1491.6 1594.5 1455.1 1606.3 1455.4 1663.5 1508.2 1657.2 1458.2 1594.7 1460.8 1570.2 1485.9 1670 1500.2 1600.3 1517.9 1617.8 1448.3 1646.9 1479.3 1603.9 1454.1 1631.7 1511.1 1667.2 1483.1 1605.9 1495.8 1644.3 1479.8 1627.7 1544.8 1628 1562.9 1669.9 1529.7 1643.2 1538.7 1599.2 1518.1 1629.6 1542 1665.4 1435.8 1635.7 1544.7 1657.5 1504.5 1595 1502.8 1601.4 1444.9 1660.9 1492.1 1667 1461.1 1670 1454.5 1586.3 1437.2 1646.1 1500.8 1656.5 1533.3 1648.9 1515.7 1610.7 1563.7 1586.6 1467.7 1614.7 1526.9 1634.4 1454.8 1665.2 1486.4 1587.5 1471.8 1671.4 1444.8 1666.5 1463.1 1616.2 1509.8 1678.6 1533 1656.3 1462.3 1625 1471 1609.6 1538.4 1679.6 1466 1617 1557.4 1666 1534 1626.8 1501.6 1657.5 1490.9 1659.9 1533.7 1651.2 1505.8 1620 1553.7 1654.3 1539.8 1658.3 1460.8 1666 1557.9 1618.4 1481.6 1668 1481.9 1651 1466.3 1639.2 1473.2 1641.5 1539.7 1653.7 1481.9 1665.6 1444.4 1646.1 1494.5 1645.7 1505.4 1661.5 1489 1641.8 1501.7 1629.9 1526.3 1665.6 1530.8 1641.1 1502.9 1621.4 1499.4 1646.8 1532.4 1615.8 1512.3 1665.6 1464.6 1666.7 1500 1665.1 1428.9 1599.4 1448.4 1665.2 1495.7 1607.2 1471.8 1660.3 1540.3 1665.7 1517.5 1621 1432.3 1627.2 1457.1 1649.7 1518.7 1647.9 1466.5 1641.9 1548 1638.6 1547.6 1620.7 1511.4 1652.7 1504.5 1640.7 1459.9 1632.2 1478.2 1642.6 1426 1657.7 1543.8 1658.6 1502.8 1659.3 1475.5 1616.5 1479.5 1652.5 1505.1 1642.7 1532.5 1643.1 1522.6 1647.7 1510.5 1638.3 1523.9 1629.9 1497.3 1661.7 1561 1670 1503.3 1682.4 1523.6 1623.5 1551.4 1632.7 1483.9 1676.4 1536.6 1618.9 1541.2 1682.7 1530.3 1681.2 1458.8 1631.3 1452.8 1672.6 1448.7 1682.1 1475.7 1681.4 1457.7 1682 1503.3 1680.4 1476.8 1652.8 1525.3 1669.8 1485.1 1670.5 1448.9 1675.7 1524.2 1671.9 1512.4 1666.4 1508.7 1663 1473.7 1679.8 1465.3 1564.6 1472.6 1682.2 1498.9 1653.8 1495.7 1672.4 1428.2 1682.5 1431.3 1659.8 1528 1675.6 1460.8 1665.6 1491.3 1666.2 1499.7 1656.4 1530.7 1654.9 1517.3 1679 1479.2 1658.2 1480.9 1669.1 1439.9 1677.2 1489.9 1676 1462 1668.3 1470 1666.2 1558 1678 1477.3 1644.2 1482.5 1648.1" fill="none" stroke="none" marker-start="url(#mkb)" marker-mid="url(#mkb)" marker-end="url(#mkb)"/><path d="M1702.5 1621.3 1712.4 1646.6 1669.6 1669.9 1671.8 1659.1 1742.4 1648 1710 1640.1 1705.4 1668.9 1688.6 1638.5 1742.4 1541.7 1667.3 1647.9 1631.5 1641.3 1699.9 1631.8 1721.7 1647.5 1735.1 1658.9 1708.5 1640.3 1690.4 1643.5 1719.5 1541.3 1668.6 1679.5 1676.7 1649 1726.1 1667.5 1706.4 1670.3 1655.2 1637.7 1693.3 1632.1 1703.2 1665.1 1722.5 1644.1 1706.7 1677.6 1711.9 1553.7 1693.8 1667.1 1696.4 1645.4 1678.7 1679.5 1755.1 1627.2 1680.7 1610.4 1726.4 1612.6 1706.8 1642.3 1672.8 1615.8 1673.3 1629.3 1675.9 1672.1 1674.9 1607.5 1664.9 1670 1677.1 1682.3 1711.1 1675.4 1713 1681 1664.2 1675.5 1690.1 1631.7 1745.3 1611.3 1707.2 1655.7 1666.9 1633 1685.2 1595.6 1675.1 1667.1 1718.4 1678.3 1672.5 1677.4 1693.8 1654.8 1680.2 1664.1 1693.3 1669.4 1716.1 1640.7 1716.4 1633.8 1754.1 1610.8 1707.4 1594.5 1627.9 1606.3 1686.1 1663.5 1690.2 1657.2 1697.4 1594.7 1690.2 1570.2 1672.3 1670 1671.3 1600.3 1661.4 1617.8 1692.9 1646.9 1663.2 1603.9 1692 1631.7 1633.2 1667.2 1726.7 1605.9 1658.8 1644.3 1735.6 1627.7 1746.5 1628 1694.3 1669.9 1665.6 1643.2 1666.2 1599.2 1718.5 1629.6 1646.9 1665.4 1673.9 1635.7 1660.5 1657.5 1682.6 1595 1642.4 1601.4 1692.7 1660.9 1705.1 1667 1706.1 1670 1706.5 1586.3 1676.8 1646.1 1708 1656.5 1682.4 1648.9 1734.6 1610.7 1713.7 1586.6 1708.6 1614.7 1744.3 1634.4 1710.3 1665.2 1742 1587.5 1656.2 1671.4 1710.4 1666.5 1670.2 1616.2 1730.3 1678.6 1677 1656.3 1722.2 1625 1712.2 1609.6 1756.9 1679.6 1650 1617 1625.3 1666 1687.2 1626.8 1706.6 1657.5 1689.2 1659.9 1724.8 1651.2 1663.6 1620 1665.8 1654.3 1714.3 1658.3 1669.1 1666 1676.3 1618.4 1701.6 1668 1722.2 1651 1691.4 1639.2 1695.9 1641.5 1643.9 1653.7 1709.9 1665.6 1674.6 1646.1 1630.6 1645.7 1685.9 1661.5 1635.7 1641.8 1689.5 1629.9 1714.3 1665.6 1711.9 1641.1 1672.2 1621.4 1736 1646.8 1706.8 1615.8 1711.2 1665.6 1678.3 1666.7 1713.7 1665.1 1635.5 1599.4 1669.5 1665.2 1637.7 1607.2 1667.8 1660.3 1666.1 1665.7 1705.2 1621 1713.9 1627.2 1676.3 1649.7 1710 1647.9 1735.2 1641.9 1723 1638.6 1702.5 1620.7 1686.1 1652.7 1733 1640.7 1684.2 1632.2 1706 1642.6 1722.6 1657.7 1656.8 1658.6 1661.8 1659.3 1701.1 1616.5 1707.9 1652.5 1700.1 1642.7 1722.9 1643.1 1721.9 1647.7 1628.3 1638.3 1693.5 1629.9 1710.6 1661.7 1676.9 1670 1684.6 1682.4 1731.3 1623.5 1688.3 1632.7 1647 1676.4 1681.3 1618.9 1681.7 1682.7 1674.2 1681.2 1700 1631.3 1671.4 1672.6 1681.8 1682.1 1719.7 1681.4 1652.1 1682 1714 1680.4 1694.6 1652.8 1752.2 1669.8 1679.6 1670.5 1694.3 1675.7 1694.3 1671.9 1743.3 1666.4 1685.3 1663 1712.5 1679.8 1691 1564.6 1702.6 1682.2 1702 1653.8 1677.1 1672.4 1742.9 1682.5 1669.7 1659.8 1718.7 1675.6 1690.8 1665.6 1721.4 1666.2 1689.5 1656.4 1722.8 1654.9 1624.7 1679 1682.3 1658.2 1745.5 1669.1 1700.8 1677.2 1699.4 1676 1635.1 1668.3 1721.9 1666.2 1718.1 1678 1689.3 1644.2 1697.2 1648.1" fill="none" stroke="none" marker-start="url(#mkb)" marker-mid="url(#mkb)" marker-end="url(#mkb)"/><path d="M1854.3 1621.3 1912.4 1646.6 1912.4 1669.9 1854.3 1659.1 1941.4 1648 1883.3 1640.1 1883.3 1668.9 1941.4 1638.5 1883.3 1541.7 1883.3 1647.9 1912.4 1641.3 1854.3 1631.8 1912.4 1647.5 1970.5 1658.9 1970.5 1640.3 1854.3 1643.5 1912.4 1541.3 1941.4 1679.5 1883.3 1649 1912.4 1667.5 1883.3 1670.3 1854.3 1637.7 1941.4 1632.1 1912.4 1665.1 1854.3 1644.1 1912.4 1677.6 1970.5 1553.7 1912.4 1667.1 1941.4 1645.4 1912.4 1679.5 1883.3 1627.2 1912.4 1610.4 1854.3 1612.6 1941.4 1642.3 1941.4 1615.8 1912.4 1629.3 1854.3 1672.1 1912.4 1607.5 1912.4 1670 1883.3 1682.3 1854.3 1675.4 1912.4 1681 1854.3 1675.5 1883.3 1631.7 1883.3 1611.3 1854.3 1655.7 1854.3 1633 1854.3 1595.6 1912.4 1667.1 1970.5 1678.3 1883.3 1677.4 1883.3 1654.8 1941.4 1664.1 1912.4 1669.4 1912.4 1640.7 1854.3 1633.8 1883.3 1610.8 1883.3 1594.5 1883.3 1606.3 1941.4 1663.5 1941.4 1657.2 1970.5 1594.7 1854.3 1570.2 1883.3 1670 1912.4 1600.3 1883.3 1617.8 1854.3 1646.9 1941.4 1603.9 1941.4 1631.7 1854.3 1667.2 1912.4 1605.9 1854.3 1644.3 1883.3 1627.7 1941.4 1628 1941.4 1669.9 1912.4 1643.2 1854.3 1599.2 1883.3 1629.6 1941.4 1665.4 1883.3 1635.7 1883.3 1657.5 1883.3 1595 1883.3 1601.4 1912.4 1660.9 1854.3 1667 1883.3 1670 1883.3 1586.3 1912.4 1646.1 1883.3 1656.5 1912.4 1648.9 1854.3 1610.7 1912.4 1586.6 1854.3 1614.7 1883.3 1634.4 1912.4 1665.2 1912.4 1587.5 1970.5 1671.4 1883.3 1666.5 1854.3 1616.2 1883.3 1678.6 1883.3 1656.3 1941.4 1625 1854.3 1609.6 1883.3 1679.6 1970.5 1617 1912.4 1666 1854.3 1626.8 1883.3 1657.5 1912.4 1659.9 1912.4 1651.2 1912.4 1620 1941.4 1654.3 1883.3 1658.3 1883.3 1666 1854.3 1618.4 1912.4 1668 1970.5 1651 1970.5 1639.2 1912.4 1641.5 1912.4 1653.7 1854.3 1665.6 1883.3 1646.1 1912.4 1645.7 1883.3 1661.5 1912.4 1641.8 1854.3 1629.9 1883.3 1665.6 1883.3 1641.1 1854.3 1621.4 1941.4 1646.8 1854.3 1615.8 1883.3 1665.6 1883.3 1666.7 1970.5 1665.1 1941.4 1599.4 1854.3 1665.2 1970.5 1607.2 1941.4 1660.3 1941.4 1665.7 1941.4 1621 1970.5 1627.2 1941.4 1649.7 1941.4 1647.9 1912.4 1641.9 1912.4 1638.6 1941.4 1620.7 1883.3 1652.7 1941.4 1640.7 1912.4 1632.2 1912.4 1642.6 1912.4 1657.7 1941.4 1658.6 1854.3 1659.3 1883.3 1616.5 1854.3 1652.5 1883.3 1642.7 1912.4 1643.1 1883.3 1647.7 1912.4 1638.3 1883.3 1629.9 1941.4 1661.7 1941.4 1670 1883.3 1682.4 1912.4 1623.5 1970.5 1632.7 1883.3 1676.4 1854.3 1618.9 1854.3 1682.7 1883.3 1681.2 1970.5 1631.3 1912.4 1672.6 1883.3 1682.1 1854.3 1681.4 1883.3 1682 1854.3 1680.4 1854.3 1652.8 1912.4 1669.8 1941.4 1670.5 1970.5 1675.7 1941.4 1671.9 1941.4 1666.4 1912.4 1663 1883.3 1679.8 1883.3 1564.6 1941.4 1682.2 1941.4 1653.8 1941.4 1672.4 1854.3 1682.5 1854.3 1659.8 1941.4 1675.6 1912.4 1665.6 1941.4 1666.2 1854.3 1656.4 1854.3 1654.9 1854.3 1679 1854.3 1658.2 1854.3 1669.1 1970.5 1677.2 1883.3 1676 1941.4 1668.3 1912.4 1666.2 1854.3 1678 1970.5 1644.2 1941.4 1648.1" fill="none" stroke="none" marker-start="url(#mkb)" marker-mid="url(#mkb)" marker-end="url(#mkb)"/><path d="M1408.7 1534.2V1698.2M1407.6 1697H1584.2M1404.7 1535h4M1404.7 1608.5h4M1404.7 1682h4M1583.2 1697v4" stroke="#262626" stroke-width="2.6" fill="none"/><text x="1506" y="1527.5" font-size="29" text-anchor="middle" font-weight="bold">ρ = -0.16</text><path d="M1608.3 1534.2V1698.2M1607.2 1697H1783.3M1604.3 1535h4M1604.3 1608.5h4M1604.3 1682h4M1782.3 1697v4" stroke="#262626" stroke-width="2.6" fill="none"/><text x="1704.8" y="1527.5" font-size="29" text-anchor="middle" font-weight="bold">ρ = -0.01</text><path d="M1809.8 1534.2V1698.2M1808.7 1697H1985.7M1805.8 1535h4M1805.8 1608.5h4M1805.8 1682h4M1854.3 1697v4.5M1912.4 1697v4.5M1970.5 1697v4.5" stroke="#262626" stroke-width="2.6" fill="none"/><text x="1907.5" y="1527.5" font-size="29" text-anchor="middle" font-weight="bold">ρ = 0.07</text><text x="1416.7" y="1545.4" font-size="29" text-anchor="end" fill="#262626">100</text><text x="1412.1" y="1618.9" font-size="29" text-anchor="end" fill="#262626">50</text><text x="1407.5" y="1692.4" font-size="29" text-anchor="end" fill="#262626">0</text><text x="1363.3" y="1598" font-size="29" text-anchor="middle" transform="rotate(-90 1363.3 1598)">Pupil  (%)</text><path d="M1536.6 1860.2 1517.6 1853.7 1564.6 1869.1 1522.8 1843.8 1454.7 1833.9 1489.8 1875.4 1521.7 1875.4 1427.5 1814.9 1465.1 1875.4 1490.4 1875.3 1497 1870.4 1520.7 1871.4 1507.3 1799.9 1531 1870.6 1487.2 1844.9 1494.1 1875.4 1514.2 1799.8 1441.4 1870.6 1448.5 1864.4 1516.9 1848.7 1553 1875.4 1500.8 1848.1 1496.2 1874.7 1488.2 1858.8 1534.9 1870.3 1528.4 1847.8 1517.5 1778.2 1529 1852.6 1470.1 1867.8 1505.2 1867.7 1463 1875.4 1530.2 1856.2 1493.6 1748.3 1507.3 1875 1492.7 1782 1470.4 1867.5 1495.8 1871.9 1449.2 1875.4 1535 1875.3 1502.4 1827.7 1554.8 1873.9 1478.3 1832.6 1499.5 1820.5 1492.8 1859.5 1503.1 1875.4 1506.2 1835.4 1514.4 1863.3 1504.8 1874.5 1526.2 1835.5 1468.4 1875.4 1429.1 1872.5 1466 1763.1 1505.9 1875.4 1507.5 1869.3 1491.6 1830.8 1455.1 1815.3 1455.4 1859.9 1508.2 1797.7 1458.2 1844.9 1482.4 1875.3 1485.9 1875.4 1500.2 1873.8 1517.9 1874.9 1448.3 1862.3 1479.3 1875.4 1544.2 1757.3 1511.1 1861.8 1483.1 1801 1495.8 1875.4 1479.8 1874.5 1544.8 1874.9 1562.9 1844.6 1529.7 1869.4 1538.7 1875.4 1518.1 1875.4 1542 1844.2 1435.8 1875.4 1544.7 1875.4 1504.5 1832.7 1502.8 1840.1 1444.9 1875.4 1492.1 1860.8 1461.1 1874.4 1454.5 1875.4 1437.2 1874.7 1500.8 1871 1533.3 1866.8 1515.7 1875.2 1563.7 1865.4 1467.7 1865.1 1526.9 1874.8 1454.8 1874.5 1486.4 1860.6 1471.8 1838.9 1444.8 1870.5 1463.1 1870.3 1509.8 1844.4 1533 1863.9 1462.3 1866.4 1471 1859.3 1538.4 1875.4 1466 1874.6 1557.4 1872.2 1534 1860.9 1448.3 1790.3 1490.9 1852.5 1533.7 1875.4 1505.8 1871.8 1553.7 1875.4 1539.8 1867 1460.8 1828.7 1557.9 1875.1 1481.6 1870.1 1481.9 1867.7 1466.3 1871.4 1473.2 1875.4 1539.7 1874.5 1481.9 1869 1444.4 1871 1494.5 1875.4 1505.4 1875.3 1489 1809.9 1501.7 1875.4 1526.3 1828.8 1530.8 1817.9 1502.9 1873 1499.4 1859.9 1532.4 1874.8 1512.3 1832.1 1464.6 1870.6 1500 1870.3 1428.9 1875.4 1448.4 1875.1 1495.7 1875.4 1471.8 1856.1 1540.3 1875.4 1517.5 1875.4 1432.3 1875.4 1457.1 1874.6 1518.7 1874.9 1466.5 1871.4 1548 1875.1 1547.6 1875.4 1511.4 1875.4 1504.5 1872.8 1459.9 1874.6 1478.2 1875.4 1426 1871.8 1543.8 1874.9 1502.8 1875.4 1475.5 1875.4 1479.5 1875.4 1505.1 1864.7 1532.5 1875.4 1522.6 1875.1 1510.5 1875.4 1523.9 1875.4 1497.3 1874.5 1561 1864.2 1503.3 1874.8 1523.6 1866 1551.4 1874.8 1483.9 1813.7 1536.6 1855.3 1541.2 1864.8 1530.3 1872.2 1473.1 1779.6 1452.8 1864.6 1448.7 1837.9 1475.7 1855.3 1502.2 1774.6 1525.3 1871.3 1485.1 1869.1 1448.9 1814.3 1524.2 1863.5 1512.4 1873.6 1508.7 1867.3 1473.7 1871.3 1522.1 1861.8 1472.6 1868.5 1498.9 1866.1 1495.7 1850.3 1428.2 1872.1 1431.3 1872.9 1528 1875.1 1460.8 1872.5 1491.3 1859.3 1499.7 1861.7 1530.7 1861.1 1517.3 1802.1 1479.2 1869.9 1480.9 1875.3 1529.4 1794.1 1489.9 1865.3 1462 1866.3 1470 1866.6 1558 1871.6 1477.3 1874.3 1482.5 1873.6" fill="none" stroke="none" marker-start="url(#mkm)" marker-mid="url(#mkm)" marker-end="url(#mkm)"/><path d="M1702.5 1860.2 1712.4 1853.7 1669.6 1869.1 1671.8 1843.8 1742.4 1833.9 1710 1875.4 1705.4 1875.4 1688.6 1814.9 1640.9 1875.4 1667.3 1875.3 1631.5 1870.4 1699.9 1871.4 1721.7 1799.9 1708.5 1870.6 1690.4 1844.9 1672.4 1875.4 1676.7 1799.8 1726.1 1870.6 1706.4 1864.4 1655.2 1848.7 1693.3 1875.4 1703.2 1848.1 1722.5 1874.7 1706.7 1858.8 1714.6 1870.3 1693.8 1847.8 1720.6 1778.2 1755.1 1852.6 1680.7 1867.8 1726.4 1867.7 1706.8 1875.4 1672.8 1856.2 1661.9 1748.3 1675.9 1875 1721.5 1782 1664.9 1867.5 1677.1 1871.9 1711.1 1875.4 1713 1875.3 1664.2 1827.7 1690.1 1873.9 1745.3 1832.6 1707.2 1820.5 1666.9 1859.5 1685.2 1875.4 1675.1 1835.4 1718.4 1863.3 1672.5 1874.5 1693.8 1835.5 1680.2 1875.4 1693.3 1872.5 1683.4 1763.1 1716.4 1875.4 1754.1 1869.3 1707.4 1830.8 1627.9 1815.3 1686.1 1859.9 1690.2 1797.7 1697.4 1844.9 1650.6 1875.3 1672.3 1875.4 1671.3 1873.8 1661.4 1874.9 1692.9 1862.3 1663.2 1875.4 1712 1757.3 1633.2 1861.8 1726.7 1801 1658.8 1875.4 1735.6 1874.5 1746.5 1874.9 1694.3 1844.6 1665.6 1869.4 1666.2 1875.4 1718.5 1875.4 1646.9 1844.2 1673.9 1875.4 1660.5 1875.4 1682.6 1832.7 1642.4 1840.1 1692.7 1875.4 1705.1 1860.8 1706.1 1874.4 1706.5 1875.4 1676.8 1874.7 1708 1871 1682.4 1866.8 1734.6 1875.2 1713.7 1865.4 1708.6 1865.1 1744.3 1874.8 1710.3 1874.5 1742 1860.6 1656.2 1838.9 1710.4 1870.5 1670.2 1870.3 1730.3 1844.4 1677 1863.9 1722.2 1866.4 1712.2 1859.3 1756.9 1875.4 1650 1874.6 1625.3 1872.2 1687.2 1860.9 1654.8 1790.3 1689.2 1852.5 1724.8 1875.4 1663.6 1871.8 1665.8 1875.4 1714.3 1867 1669.1 1828.7 1676.3 1875.1 1701.6 1870.1 1722.2 1867.7 1691.4 1871.4 1695.9 1875.4 1643.9 1874.5 1709.9 1869 1674.6 1871 1630.6 1875.4 1685.9 1875.3 1635.7 1809.9 1689.5 1875.4 1714.3 1828.8 1711.9 1817.9 1672.2 1873 1736 1859.9 1706.8 1874.8 1711.2 1832.1 1678.3 1870.6 1713.7 1870.3 1635.5 1875.4 1669.5 1875.1 1637.7 1875.4 1667.8 1856.1 1666.1 1875.4 1705.2 1875.4 1713.9 1875.4 1676.3 1874.6 1710 1874.9 1735.2 1871.4 1723 1875.1 1702.5 1875.4 1686.1 1875.4 1733 1872.8 1684.2 1874.6 1706 1875.4 1722.6 1871.8 1656.8 1874.9 1661.8 1875.4 1701.1 1875.4 1707.9 1875.4 1700.1 1864.7 1722.9 1875.4 1721.9 1875.1 1628.3 1875.4 1693.5 1875.4 1710.6 1874.5 1676.9 1864.2 1684.6 1874.8 1731.3 1866 1688.3 1874.8 1647 1813.7 1681.3 1855.3 1681.7 1864.8 1674.2 1872.2 1682 1779.6 1671.4 1864.6 1681.8 1837.9 1719.7 1855.3 1673.8 1774.6 1752.2 1871.3 1679.6 1869.1 1694.3 1814.3 1694.3 1863.5 1743.3 1873.6 1685.3 1867.3 1712.5 1871.3 1723 1861.8 1702.6 1868.5 1702 1866.1 1677.1 1850.3 1742.9 1872.1 1669.7 1872.9 1718.7 1875.1 1690.8 1872.5 1721.4 1859.3 1689.5 1861.7 1722.8 1861.1 1624.7 1802.1 1682.3 1869.9 1745.5 1875.3 1722.5 1794.1 1699.4 1865.3 1635.1 1866.3 1721.9 1866.6 1718.1 1871.6 1689.3 1874.3 1697.2 1873.6" fill="none" stroke="none" marker-start="url(#mkm)" marker-mid="url(#mkm)" marker-end="url(#mkm)"/><path d="M1854.3 1860.2 1912.4 1853.7 1912.4 1869.1 1854.3 1843.8 1941.4 1833.9 1883.3 1875.4 1883.3 1875.4 1941.4 1814.9 1883.3 1875.4 1883.3 1875.3 1912.4 1870.4 1854.3 1871.4 1912.4 1799.9 1970.5 1870.6 1854.3 1844.9 1854.3 1875.4 1883.3 1799.8 1912.4 1870.6 1883.3 1864.4 1854.3 1848.7 1941.4 1875.4 1912.4 1848.1 1854.3 1874.7 1912.4 1858.8 1883.3 1870.3 1912.4 1847.8 1941.4 1778.2 1883.3 1852.6 1912.4 1867.8 1854.3 1867.7 1941.4 1875.4 1941.4 1856.2 1854.3 1748.3 1854.3 1875 1912.4 1782 1912.4 1867.5 1883.3 1871.9 1854.3 1875.4 1912.4 1875.3 1854.3 1827.7 1883.3 1873.9 1883.3 1832.6 1854.3 1820.5 1854.3 1859.5 1854.3 1875.4 1912.4 1835.4 1970.5 1863.3 1883.3 1874.5 1883.3 1835.5 1941.4 1875.4 1912.4 1872.5 1854.3 1763.1 1854.3 1875.4 1883.3 1869.3 1883.3 1830.8 1883.3 1815.3 1941.4 1859.9 1941.4 1797.7 1970.5 1844.9 1941.4 1875.3 1883.3 1875.4 1912.4 1873.8 1883.3 1874.9 1854.3 1862.3 1941.4 1875.4 1941.4 1757.3 1854.3 1861.8 1912.4 1801 1854.3 1875.4 1883.3 1874.5 1941.4 1874.9 1941.4 1844.6 1912.4 1869.4 1854.3 1875.4 1883.3 1875.4 1941.4 1844.2 1883.3 1875.4 1883.3 1875.4 1883.3 1832.7 1883.3 1840.1 1912.4 1875.4 1854.3 1860.8 1883.3 1874.4 1883.3 1875.4 1912.4 1874.7 1883.3 1871 1912.4 1866.8 1854.3 1875.2 1912.4 1865.4 1854.3 1865.1 1883.3 1874.8 1912.4 1874.5 1912.4 1860.6 1970.5 1838.9 1883.3 1870.5 1854.3 1870.3 1883.3 1844.4 1883.3 1863.9 1941.4 1866.4 1854.3 1859.3 1883.3 1875.4 1970.5 1874.6 1912.4 1872.2 1854.3 1860.9 1912.4 1790.3 1912.4 1852.5 1912.4 1875.4 1912.4 1871.8 1941.4 1875.4 1883.3 1867 1883.3 1828.7 1854.3 1875.1 1912.4 1870.1 1970.5 1867.7 1970.5 1871.4 1912.4 1875.4 1912.4 1874.5 1854.3 1869 1883.3 1871 1912.4 1875.4 1883.3 1875.3 1912.4 1809.9 1854.3 1875.4 1883.3 1828.8 1883.3 1817.9 1854.3 1873 1941.4 1859.9 1854.3 1874.8 1883.3 1832.1 1883.3 1870.6 1970.5 1870.3 1941.4 1875.4 1854.3 1875.1 1970.5 1875.4 1941.4 1856.1 1941.4 1875.4 1941.4 1875.4 1970.5 1875.4 1941.4 1874.6 1941.4 1874.9 1912.4 1871.4 1912.4 1875.1 1941.4 1875.4 1883.3 1875.4 1941.4 1872.8 1912.4 1874.6 1912.4 1875.4 1912.4 1871.8 1941.4 1874.9 1854.3 1875.4 1883.3 1875.4 1854.3 1875.4 1883.3 1864.7 1912.4 1875.4 1883.3 1875.1 1912.4 1875.4 1883.3 1875.4 1941.4 1874.5 1941.4 1864.2 1883.3 1874.8 1912.4 1866 1970.5 1874.8 1883.3 1813.7 1854.3 1855.3 1854.3 1864.8 1883.3 1872.2 1941.4 1779.6 1912.4 1864.6 1883.3 1837.9 1854.3 1855.3 1912.4 1774.6 1912.4 1871.3 1941.4 1869.1 1970.5 1814.3 1941.4 1863.5 1941.4 1873.6 1912.4 1867.3 1883.3 1871.3 1883.3 1861.8 1941.4 1868.5 1941.4 1866.1 1941.4 1850.3 1854.3 1872.1 1854.3 1872.9 1941.4 1875.1 1912.4 1872.5 1941.4 1859.3 1854.3 1861.7 1854.3 1861.1 1854.3 1802.1 1854.3 1869.9 1854.3 1875.3 1941.4 1794.1 1883.3 1865.3 1941.4 1866.3 1912.4 1866.6 1854.3 1871.6 1970.5 1874.3 1941.4 1873.6" fill="none" stroke="none" marker-start="url(#mkm)" marker-mid="url(#mkm)" marker-end="url(#mkm)"/><path d="M1408.7 1730.3V1896.1M1407.6 1894.9H1584.2M1404.7 1755.4h4M1404.7 1795.4h4M1404.7 1835.4h4M1404.7 1875.4h4M1583.2 1894.9v4" stroke="#262626" stroke-width="2.6" fill="none"/><text x="1506" y="1725.5" font-size="29" text-anchor="middle" font-weight="bold">ρ = 0.08</text><path d="M1608.3 1730.3V1896.1M1607.2 1894.9H1783.3M1604.3 1755.4h4M1604.3 1795.4h4M1604.3 1835.4h4M1604.3 1875.4h4M1782.3 1894.9v4" stroke="#262626" stroke-width="2.6" fill="none"/><text x="1704.8" y="1725.5" font-size="29" text-anchor="middle" font-weight="bold">ρ = 0</text><path d="M1809.8 1730.3V1896.1M1808.7 1894.9H1985.7M1805.8 1755.4h4M1805.8 1795.4h4M1805.8 1835.4h4M1805.8 1875.4h4M1854.3 1894.9v4.5M1912.4 1894.9v4.5M1970.5 1894.9v4.5" stroke="#262626" stroke-width="2.6" fill="none"/><text x="1907.5" y="1725.5" font-size="29" text-anchor="middle" font-weight="bold">ρ = -0.02</text><text x="1412.1" y="1765.8" font-size="29" text-anchor="end" fill="#262626">60</text><text x="1412.1" y="1805.8" font-size="29" text-anchor="end" fill="#262626">40</text><text x="1412.1" y="1845.8" font-size="29" text-anchor="end" fill="#262626">20</text><text x="1407.5" y="1885.8" font-size="29" text-anchor="end" fill="#262626">0</text><text x="1363.3" y="1812" font-size="29" text-anchor="middle" transform="rotate(-90 1363.3 1812)">Reward  (%)</text><path d="M1536.6 2068 1517.6 2061.5 1564.6 2076.9 1522.8 2051.6 1454.7 2041.7 1489.8 2083.2 1521.7 2083.2 1427.5 2022.7 1465.1 2083.2 1490.4 2083.1 1497 2078.2 1520.7 2079.2 1507.3 2007.7 1531 2078.4 1487.2 2052.7 1494.1 2083.2 1514.2 2007.6 1441.4 2078.4 1448.5 2072.2 1516.9 2056.5 1553 2083.2 1500.8 2055.9 1496.2 2082.5 1488.2 2066.6 1534.9 2078.1 1528.4 2055.6 1517.5 1986 1529 2060.4 1470.1 2075.6 1505.2 2075.5 1463 2083.2 1530.2 2064 1493.6 1956.1 1507.3 2082.8 1492.7 1989.8 1470.4 2075.3 1495.8 2079.7 1449.2 2083.2 1535 2083.1 1502.4 2035.5 1554.8 2081.7 1478.3 2040.4 1499.5 2028.3 1492.8 2067.3 1503.1 2083.2 1506.2 2043.2 1514.4 2071.1 1504.8 2082.3 1526.2 2043.3 1468.4 2083.2 1429.1 2080.3 1466 1970.9 1505.9 2083.2 1507.5 2077.1 1491.6 2038.6 1455.1 2023.1 1455.4 2067.7 1508.2 2005.5 1458.2 2052.7 1482.4 2083.1 1485.9 2083.2 1500.2 2081.6 1517.9 2082.7 1448.3 2070.1 1479.3 2083.2 1544.2 1965.1 1511.1 2069.6 1483.1 2008.8 1495.8 2083.2 1479.8 2082.3 1544.8 2082.7 1562.9 2052.4 1529.7 2077.2 1538.7 2083.2 1518.1 2083.2 1542 2052 1435.8 2083.2 1544.7 2083.2 1504.5 2040.5 1502.8 2047.9 1444.9 2083.2 1492.1 2068.6 1461.1 2082.2 1454.5 2083.2 1437.2 2082.5 1500.8 2078.8 1533.3 2074.6 1515.7 2083 1563.7 2073.2 1467.7 2072.9 1526.9 2082.6 1454.8 2082.3 1486.4 2068.4 1471.8 2046.7 1444.8 2078.3 1463.1 2078.1 1509.8 2052.2 1533 2071.7 1462.3 2074.2 1471 2067.1 1538.4 2083.2 1466 2082.4 1557.4 2080 1534 2068.7 1448.3 1998.1 1490.9 2060.3 1533.7 2083.2 1505.8 2079.6 1553.7 2083.2 1539.8 2074.8 1460.8 2036.5 1557.9 2082.9 1481.6 2077.9 1481.9 2075.5 1466.3 2079.2 1473.2 2083.2 1539.7 2082.3 1481.9 2076.8 1444.4 2078.8 1494.5 2083.2 1505.4 2083.1 1489 2017.7 1501.7 2083.2 1526.3 2036.6 1530.8 2025.7 1502.9 2080.8 1499.4 2067.7 1532.4 2082.6 1512.3 2039.9 1464.6 2078.4 1500 2078.1 1428.9 2083.2 1448.4 2082.9 1495.7 2083.2 1471.8 2063.9 1540.3 2083.2 1517.5 2083.2 1432.3 2083.2 1457.1 2082.4 1518.7 2082.7 1466.5 2079.2 1548 2082.9 1547.6 2083.2 1511.4 2083.2 1504.5 2080.6 1459.9 2082.4 1478.2 2083.2 1426 2079.6 1543.8 2082.7 1502.8 2083.2 1475.5 2083.2 1479.5 2083.2 1505.1 2072.5 1532.5 2083.2 1522.6 2082.9 1510.5 2083.2 1523.9 2083.2 1497.3 2082.3 1561 2072 1503.3 2082.6 1523.6 2073.8 1551.4 2082.6 1483.9 2021.5 1536.6 2063.1 1541.2 2072.6 1530.3 2080 1473.1 1987.4 1452.8 2072.4 1448.7 2045.7 1475.7 2063.1 1502.2 1982.4 1525.3 2079.1 1485.1 2076.9 1448.9 2022.1 1524.2 2071.3 1512.4 2081.4 1508.7 2075.1 1473.7 2079.1 1522.1 2069.6 1472.6 2076.3 1498.9 2073.9 1495.7 2058.1 1428.2 2079.9 1431.3 2080.7 1528 2082.9 1460.8 2080.3 1491.3 2067.1 1499.7 2069.5 1530.7 2068.9 1517.3 2009.9 1479.2 2077.7 1480.9 2083.1 1529.4 2001.9 1489.9 2073.1 1462 2074.1 1470 2074.4 1558 2079.4 1477.3 2082.1 1482.5 2081.4" fill="none" stroke="none" marker-start="url(#mkl)" marker-mid="url(#mkl)" marker-end="url(#mkl)"/><path d="M1702.5 2068 1712.4 2061.5 1669.6 2076.9 1671.8 2051.6 1742.4 2041.7 1710 2083.2 1705.4 2083.2 1688.6 2022.7 1640.9 2083.2 1667.3 2083.1 1631.5 2078.2 1699.9 2079.2 1721.7 2007.7 1708.5 2078.4 1690.4 2052.7 1672.4 2083.2 1676.7 2007.6 1726.1 2078.4 1706.4 2072.2 1655.2 2056.5 1693.3 2083.2 1703.2 2055.9 1722.5 2082.5 1706.7 2066.6 1714.6 2078.1 1693.8 2055.6 1720.6 1986 1755.1 2060.4 1680.7 2075.6 1726.4 2075.5 1706.8 2083.2 1672.8 2064 1661.9 1956.1 1675.9 2082.8 1721.5 1989.8 1664.9 2075.3 1677.1 2079.7 1711.1 2083.2 1713 2083.1 1664.2 2035.5 1690.1 2081.7 1745.3 2040.4 1707.2 2028.3 1666.9 2067.3 1685.2 2083.2 1675.1 2043.2 1718.4 2071.1 1672.5 2082.3 1693.8 2043.3 1680.2 2083.2 1693.3 2080.3 1683.4 1970.9 1716.4 2083.2 1754.1 2077.1 1707.4 2038.6 1627.9 2023.1 1686.1 2067.7 1690.2 2005.5 1697.4 2052.7 1650.6 2083.1 1672.3 2083.2 1671.3 2081.6 1661.4 2082.7 1692.9 2070.1 1663.2 2083.2 1712 1965.1 1633.2 2069.6 1726.7 2008.8 1658.8 2083.2 1735.6 2082.3 1746.5 2082.7 1694.3 2052.4 1665.6 2077.2 1666.2 2083.2 1718.5 2083.2 1646.9 2052 1673.9 2083.2 1660.5 2083.2 1682.6 2040.5 1642.4 2047.9 1692.7 2083.2 1705.1 2068.6 1706.1 2082.2 1706.5 2083.2 1676.8 2082.5 1708 2078.8 1682.4 2074.6 1734.6 2083 1713.7 2073.2 1708.6 2072.9 1744.3 2082.6 1710.3 2082.3 1742 2068.4 1656.2 2046.7 1710.4 2078.3 1670.2 2078.1 1730.3 2052.2 1677 2071.7 1722.2 2074.2 1712.2 2067.1 1756.9 2083.2 1650 2082.4 1625.3 2080 1687.2 2068.7 1654.8 1998.1 1689.2 2060.3 1724.8 2083.2 1663.6 2079.6 1665.8 2083.2 1714.3 2074.8 1669.1 2036.5 1676.3 2082.9 1701.6 2077.9 1722.2 2075.5 1691.4 2079.2 1695.9 2083.2 1643.9 2082.3 1709.9 2076.8 1674.6 2078.8 1630.6 2083.2 1685.9 2083.1 1635.7 2017.7 1689.5 2083.2 1714.3 2036.6 1711.9 2025.7 1672.2 2080.8 1736 2067.7 1706.8 2082.6 1711.2 2039.9 1678.3 2078.4 1713.7 2078.1 1635.5 2083.2 1669.5 2082.9 1637.7 2083.2 1667.8 2063.9 1666.1 2083.2 1705.2 2083.2 1713.9 2083.2 1676.3 2082.4 1710 2082.7 1735.2 2079.2 1723 2082.9 1702.5 2083.2 1686.1 2083.2 1733 2080.6 1684.2 2082.4 1706 2083.2 1722.6 2079.6 1656.8 2082.7 1661.8 2083.2 1701.1 2083.2 1707.9 2083.2 1700.1 2072.5 1722.9 2083.2 1721.9 2082.9 1628.3 2083.2 1693.5 2083.2 1710.6 2082.3 1676.9 2072 1684.6 2082.6 1731.3 2073.8 1688.3 2082.6 1647 2021.5 1681.3 2063.1 1681.7 2072.6 1674.2 2080 1682 1987.4 1671.4 2072.4 1681.8 2045.7 1719.7 2063.1 1673.8 1982.4 1752.2 2079.1 1679.6 2076.9 1694.3 2022.1 1694.3 2071.3 1743.3 2081.4 1685.3 2075.1 1712.5 2079.1 1723 2069.6 1702.6 2076.3 1702 2073.9 1677.1 2058.1 1742.9 2079.9 1669.7 2080.7 1718.7 2082.9 1690.8 2080.3 1721.4 2067.1 1689.5 2069.5 1722.8 2068.9 1624.7 2009.9 1682.3 2077.7 1745.5 2083.1 1722.5 2001.9 1699.4 2073.1 1635.1 2074.1 1721.9 2074.4 1718.1 2079.4 1689.3 2082.1 1697.2 2081.4" fill="none" stroke="none" marker-start="url(#mkl)" marker-mid="url(#mkl)" marker-end="url(#mkl)"/><path d="M1827.4 2068 1898 2061.5 1898 2076.9 1827.4 2051.6 1932.3 2041.7 1862.7 2083.2 1862.7 2083.2 1932.3 2022.7 1862.7 2083.2 1862.7 2083.1 1898 2078.2 1827.4 2079.2 1898 2007.7 1967.5 2078.4 1827.4 2052.7 1827.4 2083.2 1862.7 2007.6 1898 2078.4 1862.7 2072.2 1827.4 2056.5 1932.3 2083.2 1898 2055.9 1827.4 2082.5 1898 2066.6 1862.7 2078.1 1898 2055.6 1932.3 1986 1862.7 2060.4 1898 2075.6 1827.4 2075.5 1932.3 2083.2 1932.3 2064 1827.4 1956.1 1827.4 2082.8 1898 1989.8 1898 2075.3 1862.7 2079.7 1827.4 2083.2 1898 2083.1 1827.4 2035.5 1862.7 2081.7 1862.7 2040.4 1827.4 2028.3 1827.4 2067.3 1827.4 2083.2 1898 2043.2 1967.5 2071.1 1862.7 2082.3 1862.7 2043.3 1932.3 2083.2 1898 2080.3 1827.4 1970.9 1827.4 2083.2 1862.7 2077.1 1862.7 2038.6 1862.7 2023.1 1932.3 2067.7 1932.3 2005.5 1967.5 2052.7 1932.3 2083.1 1862.7 2083.2 1898 2081.6 1862.7 2082.7 1827.4 2070.1 1932.3 2083.2 1932.3 1965.1 1827.4 2069.6 1898 2008.8 1827.4 2083.2 1862.7 2082.3 1932.3 2082.7 1932.3 2052.4 1898 2077.2 1827.4 2083.2 1862.7 2083.2 1932.3 2052 1862.7 2083.2 1862.7 2083.2 1862.7 2040.5 1862.7 2047.9 1898 2083.2 1827.4 2068.6 1862.7 2082.2 1862.7 2083.2 1898 2082.5 1862.7 2078.8 1898 2074.6 1827.4 2083 1898 2073.2 1827.4 2072.9 1862.7 2082.6 1898 2082.3 1898 2068.4 1967.5 2046.7 1862.7 2078.3 1827.4 2078.1 1862.7 2052.2 1862.7 2071.7 1932.3 2074.2 1827.4 2067.1 1862.7 2083.2 1967.5 2082.4 1898 2080 1827.4 2068.7 1898 1998.1 1898 2060.3 1898 2083.2 1898 2079.6 1932.3 2083.2 1862.7 2074.8 1862.7 2036.5 1827.4 2082.9 1898 2077.9 1967.5 2075.5 1967.5 2079.2 1898 2083.2 1898 2082.3 1827.4 2076.8 1862.7 2078.8 1898 2083.2 1862.7 2083.1 1898 2017.7 1827.4 2083.2 1862.7 2036.6 1862.7 2025.7 1827.4 2080.8 1932.3 2067.7 1827.4 2082.6 1862.7 2039.9 1862.7 2078.4 1967.5 2078.1 1932.3 2083.2 1827.4 2082.9 1967.5 2083.2 1932.3 2063.9 1932.3 2083.2 1932.3 2083.2 1967.5 2083.2 1932.3 2082.4 1932.3 2082.7 1898 2079.2 1898 2082.9 1932.3 2083.2 1862.7 2083.2 1932.3 2080.6 1898 2082.4 1898 2083.2 1898 2079.6 1932.3 2082.7 1827.4 2083.2 1862.7 2083.2 1827.4 2083.2 1862.7 2072.5 1898 2083.2 1862.7 2082.9 1898 2083.2 1862.7 2083.2 1932.3 2082.3 1932.3 2072 1862.7 2082.6 1898 2073.8 1967.5 2082.6 1862.7 2021.5 1827.4 2063.1 1827.4 2072.6 1862.7 2080 1932.3 1987.4 1898 2072.4 1862.7 2045.7 1827.4 2063.1 1898 1982.4 1898 2079.1 1932.3 2076.9 1967.5 2022.1 1932.3 2071.3 1932.3 2081.4 1898 2075.1 1862.7 2079.1 1862.7 2069.6 1932.3 2076.3 1932.3 2073.9 1932.3 2058.1 1827.4 2079.9 1827.4 2080.7 1932.3 2082.9 1898 2080.3 1932.3 2067.1 1827.4 2069.5 1827.4 2068.9 1827.4 2009.9 1827.4 2077.7 1827.4 2083.1 1932.3 2001.9 1862.7 2073.1 1932.3 2074.1 1898 2074.4 1827.4 2079.4 1967.5 2082.1 1932.3 2081.4" fill="none" stroke="none" marker-start="url(#mkl)" marker-mid="url(#mkl)" marker-end="url(#mkl)"/><path d="M1408.7 1938.8V2104.2M1407.6 2094.7H1584.2M1404.7 1963.2h4M1404.7 2003.2h4M1404.7 2043.2h4M1404.7 2083.2h4M1583.2 2094.7v4" stroke="#262626" stroke-width="2.6" fill="none"/><text x="1506" y="1932" font-size="29" text-anchor="middle" font-weight="bold">ρ = 0.12</text><path d="M1608.3 1938.8V2104.2M1607.2 2094.7H1783.3M1604.3 1963.2h4M1604.3 2003.2h4M1604.3 2043.2h4M1604.3 2083.2h4M1782.3 2094.7v4" stroke="#262626" stroke-width="2.6" fill="none"/><text x="1704.8" y="1932" font-size="29" text-anchor="middle" font-weight="bold">ρ = 0.14</text><path d="M1809.8 1938.8V2104.2M1808.7 2094.7H1985.7M1805.8 1963.2h4M1805.8 2003.2h4M1805.8 2043.2h4M1805.8 2083.2h4M1827.4 2094.7v4.5M1862.7 2094.7v4.5M1898 2094.7v4.5M1932.3 2094.7v4.5M1967.5 2094.7v4.5" stroke="#262626" stroke-width="2.6" fill="none"/><text x="1907.5" y="1932" font-size="29" text-anchor="middle" font-weight="bold">ρ = -0.01</text><text x="1412.1" y="1973.6" font-size="29" text-anchor="end" fill="#262626">60</text><text x="1412.1" y="2013.6" font-size="29" text-anchor="end" fill="#262626">40</text><text x="1412.1" y="2053.6" font-size="29" text-anchor="end" fill="#262626">20</text><text x="1407.5" y="2093.6" font-size="29" text-anchor="end" fill="#262626">0</text><text x="1363.3" y="2017" font-size="29" text-anchor="middle" transform="rotate(-90 1363.3 2017)">Loco  (%)</text></g>
<g id="panel_g"><text x="1283" y="2178" font-size="41" font-weight="bold">g</text><path d="M1408.2 2492.8L1408.2 2212.3M1470.3 2468.2L1470.3 2187.7M1532.2 2443.7L1532.2 2163.2M1594 2419.2L1594 2138.7M1656.2 2394.6L1656.2 2114.1M1689.5 2395.5L1689.5 2115M1747.5 2419.8L1747.5 2139.3M1805.5 2444.2L1805.5 2163.7M1863.5 2468.6L1863.5 2284M1921.7 2493.1L1921.7 2336M1380.5 2419.7L1672.2 2304.1M1672.2 2304.1L1951 2421.2M1380.5 2337.7L1672.2 2222.1M1672.2 2222.1L1951 2339.3M1380.5 2255.6L1672.2 2140M1672.2 2140L1805.7 2196.1M1408.2 2492.8L1687 2610M1470.3 2468.2L1749.1 2585.4M1532.2 2443.7L1811 2560.9M1594 2419.2L1872.8 2536.4M1656.2 2394.6L1935 2511.8M1397.8 2511.1L1689.5 2395.5M1455.8 2535.4L1747.5 2419.8M1513.8 2559.8L1805.5 2444.2M1571.8 2584.2L1863.5 2468.6M1630 2608.7L1921.7 2493.1M1380.5 2503.8L1672.2 2388.2M1672.2 2388.2L1951 2505.4" stroke="#d9d9d9" stroke-width="1.2" fill="none"/><path d="M1380.5 2223.3L1380.5 2503.8L1659.3 2621L1951 2505.4M1380.5 2420.7l-6 -2.5M1380.5 2338.7l-6 -2.5M1380.5 2256.6l-6 -2.5M1397.8 2511.1l-6.5 2.6M1455.8 2535.4l-6.5 2.6M1513.8 2559.8l-6.5 2.6M1571.8 2584.2l-6.5 2.6M1630 2608.7l-6.5 2.6M1687 2610l6.5 2.8M1749.1 2585.4l6.5 2.8M1811 2560.9l6.5 2.8M1872.8 2536.4l6.5 2.8M1935 2511.8l6.5 2.8" stroke="#262626" stroke-width="1.1" fill="none"/><path d="M1490.3 2235.1 1653.4 2200 1710.6 2208.6 1728.6 2216.6 1736.3 2218 1750 2220.6 1737.1 2228 1630.3 2222.3 1610.6 2233.4 1645.1 2230.9 1651.4 2236.3 1629.4 2242.3 1731.7 2248.6 1616.6 2255.1 1646.9 2259.7 1690.6 2263.1 1748.9 2264.3 1826 2268.6 1553.7 2271.4 1622.9 2275.4 1614 2286.6 1642.3 2292 1662.3 2292 1625.7 2299.4 1577.7 2302.9 1501.4 2309.4 1671.4 2311.4 1642.6 2314.3 1736.9 2317.1 1788 2318 1656 2322.9 1570.6 2330 1643.7 2331.7 1729.4 2333.7 1823.4 2331.1 1505.4 2338.6 1505.1 2345.1 1583.7 2345.7 1605.1 2347.1 1628.6 2348 1677.1 2342.6 1691.7 2343.4 1687.7 2350.6 1589.7 2357.7 1622.9 2357.7 1634.3 2361.4 1640 2360.9 1652 2363.4 1657.7 2361.4 1536.3 2358.9 1580.6 2368 1728 2370.9 1754.9 2373.1 1762.6 2369.4 1872.6 2369.1 1488.3 2380.6 1543.7 2404.9 1659.4 2402 1701.4 2402 1726.6 2401.4 1737.1 2407.1 1745.1 2407.1 1819.1 2403.4" fill="none" stroke="none" marker-start="url(#gdb)" marker-mid="url(#gdb)" marker-end="url(#gdb)"/><path d="M1526.3 2423.7 1547.4 2426 1590 2418 1637.7 2416.6 1656.6 2420.6 1670.9 2420.6 1718.6 2429.1 1749.7 2423.7 1705.7 2441.4 1465.7 2448.6 1607.4 2450.6 1596.6 2460 1609.7 2462.3 1576.3 2463.4 1546.6 2472 1599.7 2476.3 1656 2470.9 1744.3 2460.3 1808.6 2450.6 1757.4 2489.7 1892 2520 1578 2520.6 1600 2518.3 1612.6 2528.3 1602.6 2532 1568 2536.9 1649.4 2530.9 1677.7 2533.4 1687.4 2531.4 1688.6 2535.4 1709.4 2535.7 1500 2541.1 1813.1 2549.4 1802.9 2557.1" fill="none" stroke="none" marker-start="url(#gdb)" marker-mid="url(#gdb)" marker-end="url(#gdb)"/><path d="M1687.4 2198 1658.6 2262.6 1587.1 2290.3 1597.1 2293.4 1596.6 2306.3 1747.4 2301.4 1626.3 2366.3 1660.6 2374.3 1721.4 2381.1 1739.4 2403.4" fill="none" stroke="none" marker-start="url(#gdt)" marker-mid="url(#gdt)" marker-end="url(#gdt)"/><path d="M1579.4 2416.3 1532.3 2441.4 1647.1 2440.9 1683.7 2435.7 1726.3 2436 1702.9 2442.9 1799.1 2489.4 1727.7 2529.4" fill="none" stroke="none" marker-start="url(#gdt)" marker-mid="url(#gdt)" marker-end="url(#gdt)"/><path d="M1694.3 2226.3 1694.3 2230.6 1730.9 2230.6 1680.6 2251.7 1763.7 2274 1576.9 2279.4 1609.4 2277.1 1604.3 2284.9 1725.1 2280.6 1589.1 2300.9 1584.3 2307.7 1640.6 2302 1526.9 2314 1708.6 2321.4 1656.6 2324.6 1780.6 2328 1564.6 2330.3 1592.9 2339.4 1670.3 2334.6 1643.7 2342.6 1755.4 2340.3 1779.4 2353.7 1809.1 2355.7 1760 2358.3 1684 2367.1 1600.9 2369.7 1643.7 2369.7 1872 2383.1 1542.6 2385.1 1745.7 2389.4 1766.3 2399.4 1806.9 2402 1522.9 2410" fill="none" stroke="none" marker-start="url(#gdm)" marker-mid="url(#gdm)" marker-end="url(#gdm)"/><path d="M1710.9 2414.6 1719.1 2416.3 1650.9 2430 1561.7 2442.9 1630.9 2443.7 1800 2466.3 1709.4 2476.9 1631.7 2484.9 1640 2503.7 1560.3 2518 1627.1 2533.7 1520.9 2541.1 1667.7 2546.9 1674.6 2562.9 1594 2583.1" fill="none" stroke="none" marker-start="url(#gdm)" marker-mid="url(#gdm)" marker-end="url(#gdm)"/><path d="M1375.2 2223.3L1372.5 2226.8L1369.8 2230.2L1367.2 2233.7L1364.6 2237.2L1362 2240.8L1359.6 2244.4L1357.2 2248.2L1355 2251.9L1352.9 2255.8L1350.8 2259.7L1348.9 2263.6L1347.1 2267.6L1345.4 2271.6L1343.8 2275.7L1342.3 2279.8L1340.9 2284L1339.6 2288.2L1338.4 2292.4L1337.3 2296.6L1336.3 2300.9L1335.4 2305.2L1334.5 2309.5L1333.8 2313.8L1333.1 2318.1L1332.5 2322.5L1331.9 2326.8L1331.4 2331.2L1330.9 2335.6L1330.6 2339.9L1330.3 2344.3L1330.1 2348.7L1330 2353.1L1330 2357.4L1330.1 2361.8L1330.4 2366.2L1330.7 2370.6L1331.1 2374.9L1331.6 2379.3L1332.2 2383.6L1332.8 2388L1333.5 2392.3L1334.3 2396.6L1335 2400.9L1335.8 2405.2L1336.6 2409.5L1337.4 2413.8L1338.3 2418.1L1339.3 2422.4L1340.3 2426.7L1341.4 2430.9L1342.6 2435.1L1343.9 2439.3L1345.3 2443.5L1346.8 2447.6L1348.5 2451.6L1350.2 2455.7L1352 2459.7L1353.8 2463.6L1355.7 2467.6L1357.6 2471.6L1359.6 2475.5L1361.6 2479.4L1363.7 2483.3L1366 2487L1368.5 2490.6L1371.2 2494L1374 2497.3L1377 2500.6L1380 2503.8" fill="none" stroke="#0c12e2" stroke-width="3.3" stroke-linejoin="round" stroke-linecap="butt"/><path d="M1378.1 2246.7L1374.5 2249.2L1371 2251.8L1367.5 2254.4L1364 2257L1360.6 2259.7L1357.3 2262.5L1354 2265.4L1350.9 2268.4L1347.7 2271.4L1344.7 2274.5L1341.7 2277.7L1338.7 2280.9L1335.8 2284.1L1332.9 2287.4L1330 2290.7L1327.2 2294L1324.4 2297.3L1321.7 2300.8L1319.1 2304.2L1316.6 2307.8L1314.1 2311.4L1311.8 2315.2L1309.6 2319L1307.7 2322.9L1306.1 2327L1304.8 2331.1L1303.9 2335.4L1303.4 2339.8L1303.3 2344.1L1303.6 2348.5L1304.2 2352.8L1305 2357.1L1306.2 2361.3L1307.5 2365.5L1309 2369.6L1310.6 2373.6L1312.2 2377.7L1313.8 2381.7L1315.3 2385.8L1316.7 2389.9L1318.1 2394.1L1319.5 2398.2L1321 2402.3L1322.5 2406.4L1324 2410.5L1325.6 2414.5L1327.3 2418.5L1328.9 2422.6L1330.6 2426.6L1332.2 2430.7L1333.8 2434.7L1335.4 2438.8L1337 2442.8L1338.6 2446.9L1340.3 2450.9L1342 2454.9L1343.9 2458.8L1345.8 2462.8L1347.7 2466.6L1349.8 2470.5L1352 2474.3L1354.2 2478L1356.5 2481.7L1358.9 2485.4L1361.2 2489.1L1363.6 2492.7L1365.9 2496.4L1368.2 2500.1L1370.5 2503.8" fill="none" stroke="#1577b6" stroke-width="3.3" stroke-linejoin="round" stroke-linecap="butt"/><path d="M1379.5 2223.3L1376.2 2226.5L1372.8 2229.6L1369.4 2232.6L1365.9 2235.5L1362.3 2238.3L1358.7 2241.2L1355.2 2244L1351.7 2246.9L1348.3 2250L1345 2253.1L1341.8 2256.4L1338.6 2259.7L1335.6 2263.2L1332.7 2266.7L1329.9 2270.3L1327.1 2274L1324.5 2277.8L1321.9 2281.6L1319.6 2285.6L1317.5 2289.7L1315.7 2293.8L1314.2 2298.2L1313.1 2302.6L1312.4 2307.2L1312.1 2311.7L1312.3 2316.3L1312.8 2320.8L1313.7 2325.3L1314.8 2329.8L1316.1 2334.2L1317.5 2338.6L1319 2342.9L1320.5 2347.2L1322.1 2351.5L1323.7 2355.7L1325.3 2360L1326.9 2364.3L1328.4 2368.6L1329.9 2372.9L1331.4 2377.3L1332.7 2381.6L1334 2386L1335.1 2390.4L1336.2 2394.9L1337.3 2399.3L1338.2 2403.8L1339.1 2408.3L1340 2412.7L1340.9 2417.2L1341.8 2421.7L1342.7 2426.2L1343.6 2430.6L1344.6 2435.1L1345.7 2439.5L1346.8 2444L1348 2448.4L1349.3 2452.8L1350.7 2457.1L1352.2 2461.5L1353.9 2465.7L1355.7 2469.9L1357.7 2474L1359.9 2478L1362.2 2482L1364.5 2485.9L1366.8 2489.9L1368.8 2494L1370.7 2498.1L1372.4 2502.4" fill="none" stroke="#ff1aee" stroke-width="3.3" stroke-linejoin="round" stroke-linecap="butt"/><path d="M1379.5 2516.2L1383.2 2520.2L1386.9 2524.3L1390.5 2528.4L1394.1 2532.6L1397.4 2536.9L1400.7 2541.3L1403.8 2545.8L1406.8 2550.4L1409.7 2555.1L1412.4 2559.8L1415.1 2564.6L1417.6 2569.5L1420.1 2574.4L1422.5 2579.3L1424.9 2584.2L1427.2 2589.2L1429.6 2594.1L1431.9 2599.1L1434.3 2604L1436.8 2608.9L1439.3 2613.8L1441.9 2618.6L1444.6 2623.3L1447.5 2628L1450.3 2632.7L1453.2 2637.4L1456 2642.1L1458.8 2646.8L1461.6 2651.5L1464.5 2656.2L1467.8 2660.6L1471.3 2664.7L1475.4 2668.5L1479.8 2671.8L1484.6 2674.6L1489.7 2676.7L1495 2678.1L1500.4 2679L1505.9 2679.3L1511.4 2679.1L1516.9 2678.5L1522.3 2677.6L1527.6 2676.3L1532.9 2674.9L1538.2 2673.2L1543.3 2671.4L1548.5 2669.5L1553.6 2667.5L1558.6 2665.4L1563.6 2663.2L1568.6 2660.9L1573.6 2658.6L1578.5 2656.2L1583.4 2653.8L1588.4 2651.4L1593.2 2648.9L1598.1 2646.4L1603 2644L1607.9 2641.5L1612.8 2639.1L1617.7 2636.6L1622.6 2634.2L1627.5 2631.7L1632.5 2629.3L1637.5 2627L1642.6 2625.1L1647.8 2623.6L1653.2 2622.4L1658.6 2621.4" fill="none" stroke="#0c12e2" stroke-width="3.3" stroke-linejoin="round" stroke-linecap="butt"/><path d="M1380.5 2505.5L1384.1 2509.1L1387.7 2512.8L1391.2 2516.5L1394.6 2520.3L1397.8 2524.2L1401 2528.2L1403.9 2532.4L1406.8 2536.6L1409.5 2540.9L1412.3 2545.2L1415 2549.6L1417.7 2553.9L1420.6 2558.1L1423.5 2562.3L1426.5 2566.4L1429.7 2570.4L1433 2574.3L1436.3 2578.2L1439.6 2582.1L1443 2585.9L1446.4 2589.7L1449.8 2593.6L1453.2 2597.4L1456.5 2601.2L1459.9 2605.1L1463.4 2608.8L1466.9 2612.5L1470.4 2616.2L1474.1 2619.7L1477.8 2623.2L1481.6 2626.6L1485.5 2630L1489.3 2633.3L1493.2 2636.7L1497.1 2640L1500.9 2643.4L1504.8 2646.6L1508.8 2649.9L1512.9 2653L1517 2655.9L1521.3 2658.7L1525.7 2661.3L1530.3 2663.6L1535.1 2665.5L1540 2667L1545 2668L1550.1 2668.5L1555.2 2668.5L1560.3 2668.1L1565.3 2667.2L1570.3 2666L1575.3 2664.6L1580.1 2663L1585 2661.2L1589.7 2659.4L1594.4 2657.4L1599.1 2655.4L1603.7 2653.2L1608.3 2650.9L1612.8 2648.6L1617.4 2646.3L1621.9 2644L1626.5 2641.8L1631.2 2639.7L1635.9 2637.6L1640.6 2635.7L1645.4 2633.9L1650.2 2632.2L1655 2630.5" fill="none" stroke="#1577b6" stroke-width="3.3" stroke-linejoin="round" stroke-linecap="butt"/><path d="M1382.4 2510.2L1385.8 2513.8L1389.2 2517.3L1392.6 2520.8L1395.9 2524.5L1399.1 2528.1L1402.2 2531.9L1405.3 2535.7L1408.2 2539.6L1411.1 2543.6L1413.9 2547.7L1416.5 2551.8L1419.1 2556L1421.6 2560.2L1424 2564.4L1426.4 2568.7L1428.9 2572.9L1431.3 2577.2L1433.8 2581.4L1436.5 2585.5L1439.2 2589.6L1442.1 2593.6L1445.1 2597.4L1448.4 2601.1L1451.8 2604.6L1455.4 2607.9L1459.2 2611L1463.2 2613.9L1467.3 2616.6L1471.5 2619.2L1475.8 2621.5L1480.2 2623.7L1484.6 2625.8L1489 2627.9L1493.4 2630.1L1497.8 2632.2L1502.2 2634.4L1506.6 2636.5L1511.1 2638.5L1515.7 2640.3L1520.3 2641.9L1525.1 2643.1L1529.9 2644L1534.8 2644.6L1539.7 2644.8L1544.6 2644.6L1549.5 2644.1L1554.3 2643.2L1559.1 2642L1563.8 2640.6L1568.5 2639L1573 2637.2L1577.6 2635.4L1582.1 2633.5L1586.6 2631.6L1591.2 2629.9L1595.8 2628.2L1600.5 2626.7L1605.2 2625.3L1609.9 2624.1L1614.7 2623L1619.5 2622.1L1624.4 2621.3L1629.2 2620.7L1634.1 2620.4L1639 2620.2L1643.9 2620.2L1648.8 2620.3L1653.7 2620.6L1658.6 2621" fill="none" stroke="#ff1aee" stroke-width="3.3" stroke-linejoin="round" stroke-linecap="butt"/><path d="M1664.3 2631.7L1669.1 2633.1L1674 2634.6L1678.8 2636.1L1683.7 2637.6L1688.5 2639.1L1693.4 2640.6L1698.2 2642.1L1703.1 2643.5L1707.9 2644.9L1712.9 2646.1L1717.8 2647.3L1722.7 2648.4L1727.7 2649.4L1732.7 2650.2L1737.7 2650.9L1742.8 2651.5L1747.8 2651.9L1752.9 2652.3L1757.9 2652.5L1763 2652.6L1768.1 2652.6L1773.2 2652.4L1778.2 2652L1783.2 2651.4L1788.2 2650.6L1793.2 2649.6L1798.2 2648.4L1803.1 2647.1L1807.9 2645.6L1812.7 2643.9L1817.4 2642.1L1822 2639.9L1826.5 2637.5L1830.8 2634.9L1835.1 2632.1L1839.3 2629.3L1843.4 2626.4L1847.6 2623.4L1851.6 2620.4L1855.7 2617.3L1859.6 2614.1L1863.4 2610.8L1867.2 2607.4L1870.8 2603.8L1874.3 2600.2L1877.7 2596.4L1880.9 2592.5L1884.1 2588.5L1887.1 2584.5L1890.1 2580.4L1893 2576.2L1895.9 2572L1898.7 2567.8L1901.5 2563.6L1904.3 2559.4L1907.1 2555.1L1909.8 2550.9L1912.6 2546.7L1915.4 2542.4L1918.2 2538.2L1921.1 2534L1924 2529.9L1927.1 2525.8L1930.4 2521.9L1933.9 2518.3L1937.7 2515L1941.8 2512L1946.1 2509.3L1950.5 2506.7" fill="none" stroke="#0c12e2" stroke-width="3.3" stroke-linejoin="round" stroke-linecap="butt"/><path d="M1660 2621L1665.4 2621.1L1670.7 2621.2L1676.1 2621.3L1681.4 2621.5L1686.8 2621.7L1692.2 2621.9L1697.5 2622.3L1702.9 2622.7L1708.2 2623.2L1713.5 2623.8L1718.8 2624.5L1724.1 2625.4L1729.4 2626.5L1734.7 2627.7L1739.9 2629.1L1745 2630.8L1750 2632.7L1754.8 2635L1759.5 2637.6L1764 2640.5L1768.5 2643.4L1773 2646.4L1777.6 2649.1L1782.3 2651.7L1787.1 2654L1792.1 2656.2L1797.2 2658.1L1802.4 2659.5L1807.7 2660.2L1813.1 2659.9L1818.4 2658.5L1823.2 2656.2L1827.5 2652.9L1831.1 2648.9L1834.4 2644.7L1837.8 2640.4L1841.2 2636.2L1844.7 2632.2L1848.2 2628.2L1851.8 2624.2L1855.5 2620.3L1859.3 2616.5L1863.2 2612.8L1867.3 2609.3L1871.5 2606L1875.6 2602.6L1879.6 2599L1883.2 2595L1886.5 2590.8L1889.5 2586.4L1892.5 2581.8L1895.3 2577.3L1898.1 2572.7L1900.9 2568.1L1903.6 2563.5L1906.3 2558.9L1909 2554.2L1911.7 2549.6L1914.3 2545L1917.1 2540.3L1920 2535.8L1923 2531.3L1926.2 2527L1929.6 2522.8L1933.2 2518.9L1937.2 2515.3L1941.5 2512.1L1945.9 2509.1L1950.5 2506.2" fill="none" stroke="#ff1aee" stroke-width="3.3" stroke-linejoin="round" stroke-linecap="butt"/><path d="M1660 2619.8L1665.1 2619.9L1670.2 2620.1L1675.3 2620.3L1680.4 2620.7L1685.5 2621.1L1690.6 2621.7L1695.6 2622.4L1700.7 2623.2L1705.7 2624.1L1710.7 2625.2L1715.7 2626.3L1720.6 2627.5L1725.6 2628.8L1730.5 2630.2L1735.4 2631.6L1740.3 2633.1L1745.2 2634.5L1750.1 2635.8L1755.1 2637.1L1760 2638.2L1765.1 2639.2L1770.1 2640L1775.2 2640.7L1780.2 2641.3L1785.3 2641.8L1790.5 2642.1L1795.6 2642.2L1800.7 2642L1805.7 2641.6L1810.8 2641L1815.8 2640.1L1820.8 2639L1825.8 2637.8L1830.8 2636.5L1835.7 2635.1L1840.6 2633.7L1845.4 2632.1L1850.3 2630.5L1855.1 2628.9L1859.9 2627.2L1864.7 2625.3L1869.4 2623.3L1874 2621.1L1878.5 2618.7L1882.9 2616.1L1887.2 2613.2L1891.3 2610.1L1895.2 2606.9L1899 2603.4L1902.6 2599.8L1906 2595.9L1909.2 2591.9L1912.2 2587.8L1915.1 2583.6L1917.9 2579.3L1920.5 2575L1923 2570.5L1925.5 2566L1927.9 2561.5L1930.2 2557L1932.5 2552.4L1934.9 2547.9L1937.4 2543.4L1940 2539.1L1942.8 2534.8L1945.8 2530.7L1948.9 2526.6L1952 2522.6L1955.2 2518.6" fill="none" stroke="#1577b6" stroke-width="3.3" stroke-linejoin="round" stroke-linecap="butt"/><path d="M1395.2 2403L1395.2 2302.24" stroke="#000" stroke-width="2.6"/><path d="M1395.2 2290L1404.7 2307L1395.2 2302.2L1385.7 2307Z" fill="#000"/><text x="1401.5" y="2308" font-size="29" transform="rotate(90 1401.5 2308)">ventral</text><path d="M1449.5 2568.1L1558.79 2616.08" stroke="#000" stroke-width="2.6"/><path d="M1570 2621L1550.6 2622.9L1558.8 2616.1L1558.3 2605.5Z" fill="#000"/><text x="1471.7" y="2569.8" font-size="29" transform="rotate(23.6 1471.7 2569.8)">lateral</text><path d="M1764.8 2622.1L1858.1 2585.65" stroke="#000" stroke-width="2.6"/><path d="M1869.5 2581.2L1857.1 2596.2L1858.1 2585.7L1850.2 2578.5Z" fill="#000"/><text x="1755.2" y="2616.2" font-size="29" transform="rotate(-21.2 1755.2 2616.2)">anterior</text><path d="M1866.2 2392.9L1865.2 2473.8L1804.8 2497.9M1865.2 2473.8L1923.8 2499" stroke="#000" stroke-width="3" fill="none" stroke-linejoin="miter"/><text x="1871.2" y="2464.3" font-size="28" font-weight="bold" transform="rotate(23.9 1871.2 2464.3)">100 µm</text><path d="M1852.6 2150.1L1904.6 2173" stroke="#ff1aee" stroke-width="3.3"/><text x="1909.8" y="2186.5" font-size="29" transform="rotate(22.5 1909.8 2186.5)">Reward</text><path d="M1838.3 2186.8L1890.3 2209.7" stroke="#0c12e2" stroke-width="3.3"/><text x="1895.3" y="2217.8" font-size="29" transform="rotate(22.5 1895.3 2217.8)">Pupil</text><path d="M1825 2220.1L1876.5 2243" stroke="#1577b6" stroke-width="3.3"/><text x="1881.3" y="2251.5" font-size="29" transform="rotate(22.5 1881.3 2251.5)">Motion</text></g></svg>
</body></html>
